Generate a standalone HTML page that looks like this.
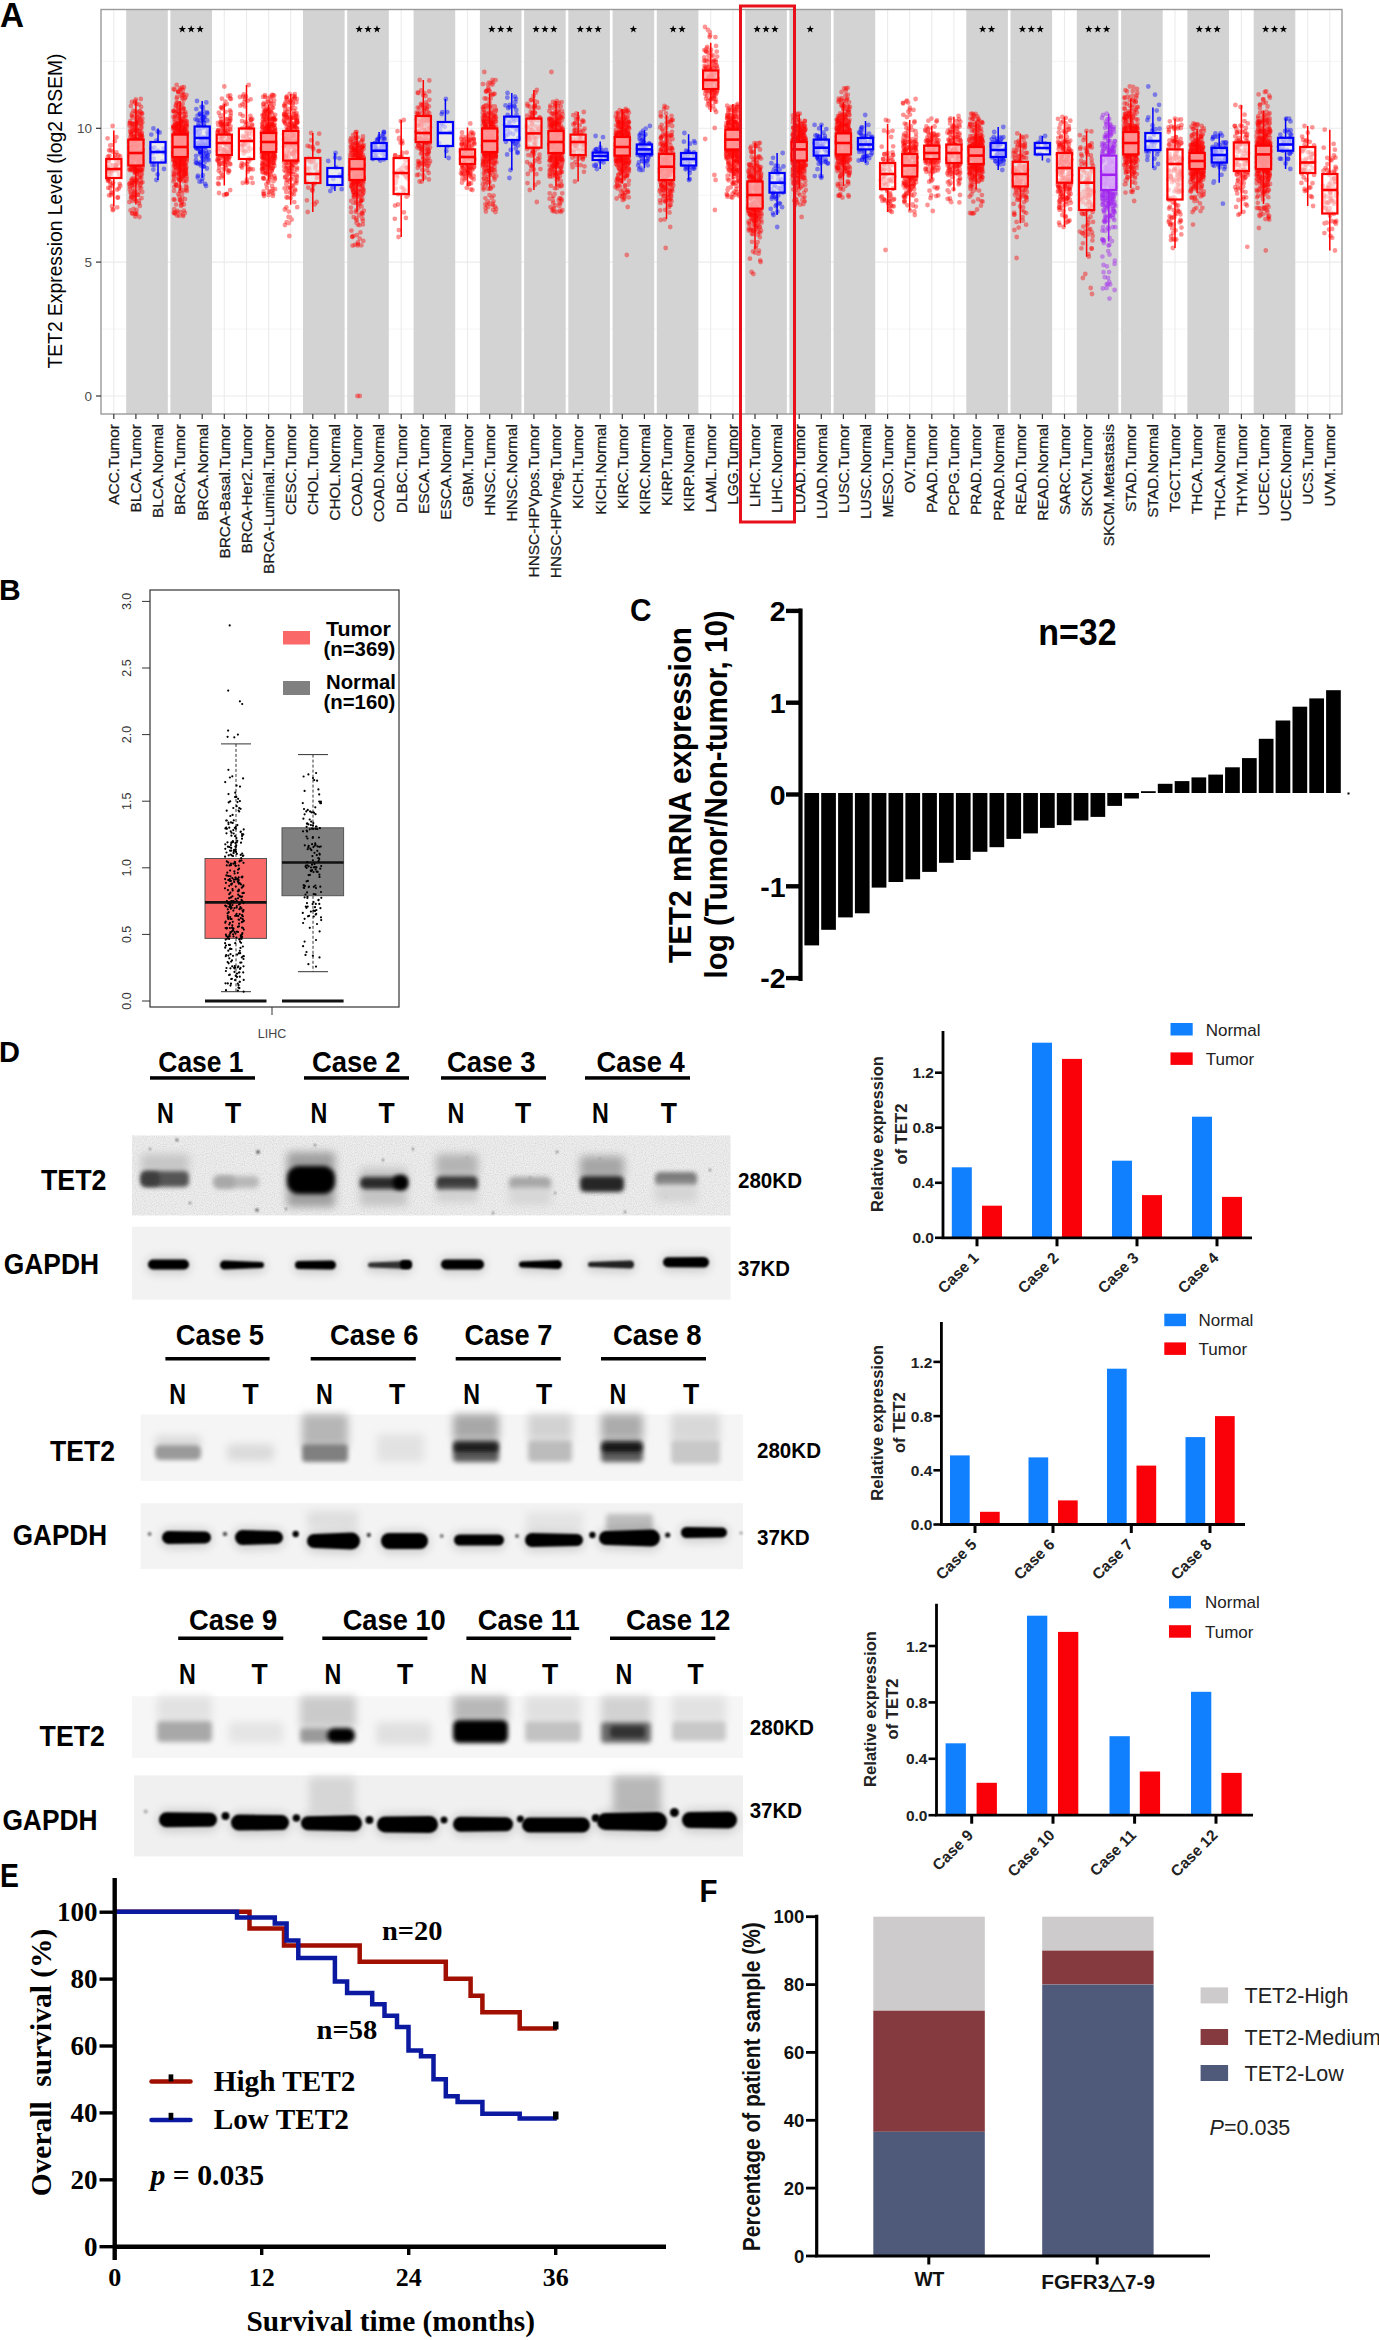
<!DOCTYPE html>
<html><head><meta charset="utf-8"><style>
html,body{margin:0;padding:0;background:#fff;}
body{width:1379px;height:2340px;overflow:hidden;}
svg{display:block;}
</style></head><body>
<svg width="1379" height="2340" viewBox="0 0 1379 2340">
<rect x="101" y="9.5" width="1241" height="404.5" fill="#fff"/>
<line x1="101" x2="1342" y1="396" y2="396" stroke="#ebebeb" stroke-width="1.1"/>
<line x1="101" x2="1342" y1="262.1" y2="262.1" stroke="#ebebeb" stroke-width="1.1"/>
<line x1="101" x2="1342" y1="128.3" y2="128.3" stroke="#ebebeb" stroke-width="1.1"/>
<line x1="101" x2="1342" y1="329.1" y2="329.1" stroke="#f3f3f3" stroke-width="0.8"/>
<line x1="101" x2="1342" y1="195.2" y2="195.2" stroke="#f3f3f3" stroke-width="0.8"/>
<line x1="101" x2="1342" y1="61.4" y2="61.4" stroke="#f3f3f3" stroke-width="0.8"/>
<line x1="113.8" x2="113.8" y1="9.5" y2="414" stroke="#ebebeb" stroke-width="1.1"/>
<line x1="135.9" x2="135.9" y1="9.5" y2="414" stroke="#ebebeb" stroke-width="1.1"/>
<line x1="158" x2="158" y1="9.5" y2="414" stroke="#ebebeb" stroke-width="1.1"/>
<line x1="180.1" x2="180.1" y1="9.5" y2="414" stroke="#ebebeb" stroke-width="1.1"/>
<line x1="202.2" x2="202.2" y1="9.5" y2="414" stroke="#ebebeb" stroke-width="1.1"/>
<line x1="224.3" x2="224.3" y1="9.5" y2="414" stroke="#ebebeb" stroke-width="1.1"/>
<line x1="246.5" x2="246.5" y1="9.5" y2="414" stroke="#ebebeb" stroke-width="1.1"/>
<line x1="268.6" x2="268.6" y1="9.5" y2="414" stroke="#ebebeb" stroke-width="1.1"/>
<line x1="290.7" x2="290.7" y1="9.5" y2="414" stroke="#ebebeb" stroke-width="1.1"/>
<line x1="312.8" x2="312.8" y1="9.5" y2="414" stroke="#ebebeb" stroke-width="1.1"/>
<line x1="334.9" x2="334.9" y1="9.5" y2="414" stroke="#ebebeb" stroke-width="1.1"/>
<line x1="357" x2="357" y1="9.5" y2="414" stroke="#ebebeb" stroke-width="1.1"/>
<line x1="379.1" x2="379.1" y1="9.5" y2="414" stroke="#ebebeb" stroke-width="1.1"/>
<line x1="401.2" x2="401.2" y1="9.5" y2="414" stroke="#ebebeb" stroke-width="1.1"/>
<line x1="423.3" x2="423.3" y1="9.5" y2="414" stroke="#ebebeb" stroke-width="1.1"/>
<line x1="445.4" x2="445.4" y1="9.5" y2="414" stroke="#ebebeb" stroke-width="1.1"/>
<line x1="467.5" x2="467.5" y1="9.5" y2="414" stroke="#ebebeb" stroke-width="1.1"/>
<line x1="489.7" x2="489.7" y1="9.5" y2="414" stroke="#ebebeb" stroke-width="1.1"/>
<line x1="511.8" x2="511.8" y1="9.5" y2="414" stroke="#ebebeb" stroke-width="1.1"/>
<line x1="533.9" x2="533.9" y1="9.5" y2="414" stroke="#ebebeb" stroke-width="1.1"/>
<line x1="556" x2="556" y1="9.5" y2="414" stroke="#ebebeb" stroke-width="1.1"/>
<line x1="578.1" x2="578.1" y1="9.5" y2="414" stroke="#ebebeb" stroke-width="1.1"/>
<line x1="600.2" x2="600.2" y1="9.5" y2="414" stroke="#ebebeb" stroke-width="1.1"/>
<line x1="622.3" x2="622.3" y1="9.5" y2="414" stroke="#ebebeb" stroke-width="1.1"/>
<line x1="644.4" x2="644.4" y1="9.5" y2="414" stroke="#ebebeb" stroke-width="1.1"/>
<line x1="666.5" x2="666.5" y1="9.5" y2="414" stroke="#ebebeb" stroke-width="1.1"/>
<line x1="688.6" x2="688.6" y1="9.5" y2="414" stroke="#ebebeb" stroke-width="1.1"/>
<line x1="710.7" x2="710.7" y1="9.5" y2="414" stroke="#ebebeb" stroke-width="1.1"/>
<line x1="732.9" x2="732.9" y1="9.5" y2="414" stroke="#ebebeb" stroke-width="1.1"/>
<line x1="755" x2="755" y1="9.5" y2="414" stroke="#ebebeb" stroke-width="1.1"/>
<line x1="777.1" x2="777.1" y1="9.5" y2="414" stroke="#ebebeb" stroke-width="1.1"/>
<line x1="799.2" x2="799.2" y1="9.5" y2="414" stroke="#ebebeb" stroke-width="1.1"/>
<line x1="821.3" x2="821.3" y1="9.5" y2="414" stroke="#ebebeb" stroke-width="1.1"/>
<line x1="843.4" x2="843.4" y1="9.5" y2="414" stroke="#ebebeb" stroke-width="1.1"/>
<line x1="865.5" x2="865.5" y1="9.5" y2="414" stroke="#ebebeb" stroke-width="1.1"/>
<line x1="887.6" x2="887.6" y1="9.5" y2="414" stroke="#ebebeb" stroke-width="1.1"/>
<line x1="909.7" x2="909.7" y1="9.5" y2="414" stroke="#ebebeb" stroke-width="1.1"/>
<line x1="931.8" x2="931.8" y1="9.5" y2="414" stroke="#ebebeb" stroke-width="1.1"/>
<line x1="953.9" x2="953.9" y1="9.5" y2="414" stroke="#ebebeb" stroke-width="1.1"/>
<line x1="976.1" x2="976.1" y1="9.5" y2="414" stroke="#ebebeb" stroke-width="1.1"/>
<line x1="998.2" x2="998.2" y1="9.5" y2="414" stroke="#ebebeb" stroke-width="1.1"/>
<line x1="1020.3" x2="1020.3" y1="9.5" y2="414" stroke="#ebebeb" stroke-width="1.1"/>
<line x1="1042.4" x2="1042.4" y1="9.5" y2="414" stroke="#ebebeb" stroke-width="1.1"/>
<line x1="1064.5" x2="1064.5" y1="9.5" y2="414" stroke="#ebebeb" stroke-width="1.1"/>
<line x1="1086.6" x2="1086.6" y1="9.5" y2="414" stroke="#ebebeb" stroke-width="1.1"/>
<line x1="1108.7" x2="1108.7" y1="9.5" y2="414" stroke="#ebebeb" stroke-width="1.1"/>
<line x1="1130.8" x2="1130.8" y1="9.5" y2="414" stroke="#ebebeb" stroke-width="1.1"/>
<line x1="1152.9" x2="1152.9" y1="9.5" y2="414" stroke="#ebebeb" stroke-width="1.1"/>
<line x1="1175" x2="1175" y1="9.5" y2="414" stroke="#ebebeb" stroke-width="1.1"/>
<line x1="1197.1" x2="1197.1" y1="9.5" y2="414" stroke="#ebebeb" stroke-width="1.1"/>
<line x1="1219.2" x2="1219.2" y1="9.5" y2="414" stroke="#ebebeb" stroke-width="1.1"/>
<line x1="1241.4" x2="1241.4" y1="9.5" y2="414" stroke="#ebebeb" stroke-width="1.1"/>
<line x1="1263.5" x2="1263.5" y1="9.5" y2="414" stroke="#ebebeb" stroke-width="1.1"/>
<line x1="1285.6" x2="1285.6" y1="9.5" y2="414" stroke="#ebebeb" stroke-width="1.1"/>
<line x1="1307.7" x2="1307.7" y1="9.5" y2="414" stroke="#ebebeb" stroke-width="1.1"/>
<line x1="1329.8" x2="1329.8" y1="9.5" y2="414" stroke="#ebebeb" stroke-width="1.1"/>
<rect x="126.2" y="9.5" width="41.6" height="404.5" fill="#d3d3d3"/>
<rect x="170.4" y="9.5" width="41.6" height="404.5" fill="#d3d3d3"/>
<rect x="303" y="9.5" width="41.6" height="404.5" fill="#d3d3d3"/>
<rect x="347.2" y="9.5" width="41.6" height="404.5" fill="#d3d3d3"/>
<rect x="413.6" y="9.5" width="41.6" height="404.5" fill="#d3d3d3"/>
<rect x="479.9" y="9.5" width="41.6" height="404.5" fill="#d3d3d3"/>
<rect x="524.1" y="9.5" width="41.6" height="404.5" fill="#d3d3d3"/>
<rect x="568.3" y="9.5" width="41.6" height="404.5" fill="#d3d3d3"/>
<rect x="612.6" y="9.5" width="41.6" height="404.5" fill="#d3d3d3"/>
<rect x="656.8" y="9.5" width="41.6" height="404.5" fill="#d3d3d3"/>
<rect x="745.2" y="9.5" width="41.6" height="404.5" fill="#d3d3d3"/>
<rect x="789.4" y="9.5" width="41.6" height="404.5" fill="#d3d3d3"/>
<rect x="833.6" y="9.5" width="41.6" height="404.5" fill="#d3d3d3"/>
<rect x="966.3" y="9.5" width="41.6" height="404.5" fill="#d3d3d3"/>
<rect x="1010.5" y="9.5" width="41.6" height="404.5" fill="#d3d3d3"/>
<rect x="1076.8" y="9.5" width="41.6" height="404.5" fill="#d3d3d3"/>
<rect x="1121.1" y="9.5" width="41.6" height="404.5" fill="#d3d3d3"/>
<rect x="1187.4" y="9.5" width="41.6" height="404.5" fill="#d3d3d3"/>
<rect x="1253.7" y="9.5" width="41.6" height="404.5" fill="#d3d3d3"/>
<polygon points="182.3,25.3 183.3,27.9 186,28 183.9,29.7 184.6,32.4 182.3,30.8 180,32.4 180.7,29.7 178.6,28 181.3,27.9" fill="#000"/>
<polygon points="191.2,25.3 192.2,27.9 194.9,28 192.8,29.7 193.5,32.4 191.2,30.8 188.9,32.4 189.6,29.7 187.5,28 190.2,27.9" fill="#000"/>
<polygon points="200.1,25.3 201.1,27.9 203.8,28 201.7,29.7 202.4,32.4 200.1,30.8 197.8,32.4 198.5,29.7 196.4,28 199.1,27.9" fill="#000"/>
<polygon points="359.2,25.3 360.1,27.9 362.9,28 360.7,29.7 361.4,32.4 359.2,30.8 356.9,32.4 357.6,29.7 355.4,28 358.2,27.9" fill="#000"/>
<polygon points="368.1,25.3 369,27.9 371.8,28 369.6,29.7 370.3,32.4 368.1,30.8 365.8,32.4 366.5,29.7 364.3,28 367.1,27.9" fill="#000"/>
<polygon points="377,25.3 377.9,27.9 380.7,28 378.5,29.7 379.2,32.4 377,30.8 374.7,32.4 375.4,29.7 373.2,28 376,27.9" fill="#000"/>
<polygon points="491.8,25.3 492.8,27.9 495.5,28 493.4,29.7 494.1,32.4 491.8,30.8 489.5,32.4 490.2,29.7 488.1,28 490.8,27.9" fill="#000"/>
<polygon points="500.7,25.3 501.7,27.9 504.4,28 502.3,29.7 503,32.4 500.7,30.8 498.4,32.4 499.1,29.7 497,28 499.7,27.9" fill="#000"/>
<polygon points="509.6,25.3 510.6,27.9 513.3,28 511.2,29.7 511.9,32.4 509.6,30.8 507.3,32.4 508,29.7 505.9,28 508.6,27.9" fill="#000"/>
<polygon points="536,25.3 537,27.9 539.7,28 537.6,29.7 538.3,32.4 536,30.8 533.7,32.4 534.5,29.7 532.3,28 535.1,27.9" fill="#000"/>
<polygon points="544.9,25.3 545.9,27.9 548.6,28 546.5,29.7 547.2,32.4 544.9,30.8 542.6,32.4 543.4,29.7 541.2,28 544,27.9" fill="#000"/>
<polygon points="553.8,25.3 554.8,27.9 557.5,28 555.4,29.7 556.1,32.4 553.8,30.8 551.5,32.4 552.3,29.7 550.1,28 552.9,27.9" fill="#000"/>
<polygon points="580.2,25.3 581.2,27.9 584,28 581.8,29.7 582.5,32.4 580.2,30.8 578,32.4 578.7,29.7 576.5,28 579.3,27.9" fill="#000"/>
<polygon points="589.1,25.3 590.1,27.9 592.9,28 590.7,29.7 591.4,32.4 589.1,30.8 586.9,32.4 587.6,29.7 585.4,28 588.2,27.9" fill="#000"/>
<polygon points="598,25.3 599,27.9 601.8,28 599.6,29.7 600.3,32.4 598,30.8 595.8,32.4 596.5,29.7 594.3,28 597.1,27.9" fill="#000"/>
<polygon points="633.4,25.3 634.3,27.9 637.1,28 634.9,29.7 635.7,32.4 633.4,30.8 631.1,32.4 631.8,29.7 629.7,28 632.4,27.9" fill="#000"/>
<polygon points="673.1,25.3 674.1,27.9 676.8,28 674.7,29.7 675.4,32.4 673.1,30.8 670.8,32.4 671.6,29.7 669.4,28 672.2,27.9" fill="#000"/>
<polygon points="682,25.3 683,27.9 685.7,28 683.6,29.7 684.3,32.4 682,30.8 679.7,32.4 680.5,29.7 678.3,28 681.1,27.9" fill="#000"/>
<polygon points="757.1,25.3 758.1,27.9 760.8,28 758.7,29.7 759.4,32.4 757.1,30.8 754.8,32.4 755.5,29.7 753.4,28 756.1,27.9" fill="#000"/>
<polygon points="766,25.3 767,27.9 769.7,28 767.6,29.7 768.3,32.4 766,30.8 763.7,32.4 764.4,29.7 762.3,28 765,27.9" fill="#000"/>
<polygon points="774.9,25.3 775.9,27.9 778.6,28 776.5,29.7 777.2,32.4 774.9,30.8 772.6,32.4 773.3,29.7 771.2,28 773.9,27.9" fill="#000"/>
<polygon points="810.2,25.3 811.2,27.9 813.9,28 811.8,29.7 812.5,32.4 810.2,30.8 807.9,32.4 808.7,29.7 806.5,28 809.3,27.9" fill="#000"/>
<polygon points="982.7,25.3 983.6,27.9 986.4,28 984.2,29.7 984.9,32.4 982.7,30.8 980.4,32.4 981.1,29.7 978.9,28 981.7,27.9" fill="#000"/>
<polygon points="991.6,25.3 992.5,27.9 995.3,28 993.1,29.7 993.8,32.4 991.6,30.8 989.3,32.4 990,29.7 987.8,28 990.6,27.9" fill="#000"/>
<polygon points="1022.4,25.3 1023.4,27.9 1026.1,28 1024,29.7 1024.7,32.4 1022.4,30.8 1020.1,32.4 1020.9,29.7 1018.7,28 1021.5,27.9" fill="#000"/>
<polygon points="1031.3,25.3 1032.3,27.9 1035,28 1032.9,29.7 1033.6,32.4 1031.3,30.8 1029,32.4 1029.8,29.7 1027.6,28 1030.4,27.9" fill="#000"/>
<polygon points="1040.2,25.3 1041.2,27.9 1043.9,28 1041.8,29.7 1042.5,32.4 1040.2,30.8 1037.9,32.4 1038.7,29.7 1036.5,28 1039.3,27.9" fill="#000"/>
<polygon points="1088.8,25.3 1089.7,27.9 1092.5,28 1090.3,29.7 1091,32.4 1088.8,30.8 1086.5,32.4 1087.2,29.7 1085,28 1087.8,27.9" fill="#000"/>
<polygon points="1097.7,25.3 1098.6,27.9 1101.4,28 1099.2,29.7 1099.9,32.4 1097.7,30.8 1095.4,32.4 1096.1,29.7 1093.9,28 1096.7,27.9" fill="#000"/>
<polygon points="1106.6,25.3 1107.5,27.9 1110.3,28 1108.1,29.7 1108.8,32.4 1106.6,30.8 1104.3,32.4 1105,29.7 1102.8,28 1105.6,27.9" fill="#000"/>
<polygon points="1199.3,25.3 1200.3,27.9 1203,28 1200.9,29.7 1201.6,32.4 1199.3,30.8 1197,32.4 1197.7,29.7 1195.6,28 1198.3,27.9" fill="#000"/>
<polygon points="1208.2,25.3 1209.2,27.9 1211.9,28 1209.8,29.7 1210.5,32.4 1208.2,30.8 1205.9,32.4 1206.6,29.7 1204.5,28 1207.2,27.9" fill="#000"/>
<polygon points="1217.1,25.3 1218.1,27.9 1220.8,28 1218.7,29.7 1219.4,32.4 1217.1,30.8 1214.8,32.4 1215.5,29.7 1213.4,28 1216.1,27.9" fill="#000"/>
<polygon points="1265.6,25.3 1266.6,27.9 1269.3,28 1267.2,29.7 1267.9,32.4 1265.6,30.8 1263.3,32.4 1264.1,29.7 1261.9,28 1264.7,27.9" fill="#000"/>
<polygon points="1274.5,25.3 1275.5,27.9 1278.2,28 1276.1,29.7 1276.8,32.4 1274.5,30.8 1272.2,32.4 1273,29.7 1270.8,28 1273.6,27.9" fill="#000"/>
<polygon points="1283.4,25.3 1284.4,27.9 1287.1,28 1285,29.7 1285.7,32.4 1283.4,30.8 1281.1,32.4 1281.9,29.7 1279.7,28 1282.5,27.9" fill="#000"/>
<path d="M112.6 151.6h0M108.2 187.9h0M119.7 183.8h0M110.1 164.9h0M118 197.6h0M113.1 183h0M112.6 126h0M109.4 155.8h0M113.3 209.4h0M108 180.9h0M116 165.8h0M114.8 169.3h0" stroke="#ff0000" stroke-opacity="0.42" stroke-width="4.8" stroke-linecap="round" fill="none"/>
<path d="M112.3 193h0M109 150.3h0M112.9 165.1h0M118.3 162.9h0M108.4 179h0M117.2 189.7h0M115.4 154.9h0M111.5 145.1h0M110.2 145.5h0M112 185.6h0M115.9 166.3h0M108.2 168.8h0" stroke="#ff0000" stroke-opacity="0.42" stroke-width="4.8" stroke-linecap="round" fill="none"/>
<path d="M108.4 177.1h0M117.6 197.5h0M109 177.6h0M117.3 207.3h0M120.2 156.5h0M108.2 180h0M118.9 159h0M111.1 174.4h0M107.6 138.3h0M111.2 192.3h0M111.6 171h0M108.6 159.7h0" stroke="#ff0000" stroke-opacity="0.42" stroke-width="4.8" stroke-linecap="round" fill="none"/>
<path d="M107.3 178.2h0M112.6 210h0M120.3 186h0M110 172.4h0M114.8 165.7h0M108.6 160.7h0M109.1 195.4h0M115 158h0M109.8 173.9h0M110.1 188.1h0M110.5 171.7h0M118.4 155.4h0" stroke="#ff0000" stroke-opacity="0.42" stroke-width="4.8" stroke-linecap="round" fill="none"/>
<path d="M118.9 169.2h0M118.8 188.4h0M109.3 171.9h0M110.9 195.1h0M109.8 181.7h0M110.6 150.3h0M119.2 174.6h0M117.4 171h0M108.7 161.3h0M112.7 170.8h0M116.1 165h0M116.5 152.4h0" stroke="#ff0000" stroke-opacity="0.42" stroke-width="4.8" stroke-linecap="round" fill="none"/>
<path d="M119.9 162.6h0M116.4 137.2h0M116.1 167.9h0M110.6 184.5h0M116.5 161.5h0M112 206.2h0M107.3 169h0M118 164h0M109 170.4h0M114.9 141.2h0M107.4 166.9h0M107.9 156.7h0" stroke="#ff0000" stroke-opacity="0.42" stroke-width="4.8" stroke-linecap="round" fill="none"/>
<path d="M113.8 130.5V159M113.8 178V206.5" stroke="#ff0000" stroke-width="1.5" fill="none"/>
<rect x="106.2" y="159" width="15.2" height="19" fill="#fff" fill-opacity="0.55" stroke="#ff0000" stroke-width="2.2"/>
<line x1="106.2" x2="121.4" y1="169" y2="169" stroke="#ff0000" stroke-width="2.6"/>
<path d="M131.3 133.9h0M132.1 163h0M138 157.1h0M142.1 155.9h0M135.9 153.7h0M138.3 138.8h0M138.8 165.3h0M134.9 146h0M134.7 146.6h0M130.9 156.1h0M133.4 110.6h0M132.6 200.9h0M129.5 148.2h0M141.3 160.5h0M132.4 169.2h0M130.2 123.1h0M136 170.4h0M137 174.1h0M131.1 166.2h0M136.1 155.3h0M136.6 153.5h0M133.3 158h0M136.8 118.5h0M129.7 189.5h0M142.4 161.7h0M132.8 152.4h0M134.1 156.1h0M141.3 159.6h0M129.3 184.6h0M131.3 197.2h0M139.3 116.7h0M133 142.2h0M133.8 154.1h0M139.1 162.9h0M131.3 170h0M134.9 171.6h0M142.4 151.4h0M132.3 154.1h0M132.9 158.5h0M135.2 216.6h0M129.6 164h0M133.5 168.6h0M140.7 114.1h0M137.5 163.7h0M130.8 169.2h0M142.2 170.4h0M134.3 183.2h0M142.7 139.7h0M141.6 134.3h0M130.9 149.3h0M132 145.3h0M136.3 145.9h0M140.3 135.8h0M142.3 118.4h0M132.3 154.6h0M134 197.4h0M132.7 151.8h0M135.7 146h0M135.6 141.2h0M134.8 184.9h0M141.6 134.7h0M141.8 157.8h0M142.5 149.8h0M130 140.5h0M135.4 165.4h0M138.5 156.3h0M137 122.4h0" stroke="#ff0000" stroke-opacity="0.42" stroke-width="4.8" stroke-linecap="round" fill="none"/>
<path d="M139.5 111.4h0M136.1 125.4h0M137.6 170.1h0M138.8 152.3h0M140 178.2h0M141.7 113.2h0M133 156.3h0M140.7 162h0M141.1 128.4h0M132.3 169.2h0M133.2 152.2h0M140.4 135.3h0M141.4 170h0M139.7 161.7h0M141.7 152.7h0M140.3 144.5h0M130.8 155.1h0M132.5 149.7h0M133.1 168.8h0M131.6 196.8h0M139 165.9h0M134 140h0M132.1 184.2h0M131.9 179.4h0M139.4 217h0M137.9 122.4h0M132.6 161.2h0M139.1 203.3h0M132.5 145.7h0M132.3 141h0M131.9 102h0M134.8 139.8h0M131.1 147h0M140.2 185.4h0M134.5 129.8h0M136.7 168.4h0M132.7 151.1h0M129.8 170.2h0M129.9 187h0M137.7 194.8h0M137 172.1h0M140.3 118.9h0M129.6 125.8h0M139.3 153.6h0M141 181.5h0M141.2 159h0M133.5 167.2h0M133.8 153.5h0M132.5 181.8h0M141.3 123.1h0M137.1 130.9h0M137.5 146.3h0M129.9 150.5h0M134.8 160.1h0M138.3 157.6h0M129.1 142h0M133.1 159.9h0M137.8 182h0M132.5 117.6h0M131.2 125.3h0M130.7 132h0M137.1 154.8h0M140.8 142.7h0M139 104.3h0M135.7 214.1h0M132.7 123.6h0M140.6 157.2h0" stroke="#ff0000" stroke-opacity="0.42" stroke-width="4.8" stroke-linecap="round" fill="none"/>
<path d="M134.2 137.5h0M137.8 151.1h0M135.4 169.2h0M136.8 133.7h0M134.3 152.4h0M137.5 139.7h0M129.5 147.6h0M132.5 153.3h0M135.1 160h0M132.4 160.8h0M131.7 157.5h0M141.2 188.1h0M136.8 180.5h0M141.1 136.3h0M141.4 177.8h0M134.5 180h0M133.6 158.6h0M137 123.9h0M131.9 130.9h0M129.4 160.8h0M139.7 142.3h0M133.4 139.7h0M137.7 155.8h0M139.9 153.1h0M140.9 142.9h0M136 145.4h0M131.9 146.2h0M129.4 202h0M135.6 140.2h0M131 198.1h0M141.2 167.6h0M129.3 168.9h0M132.9 178.1h0M131.2 142.3h0M134.4 177.9h0M139.6 153.1h0M142.3 165.2h0M133.1 187.6h0M130.5 152.1h0M134.9 130.8h0M140.4 136.7h0M132.1 213.2h0M138 183h0M134.5 159.4h0M133.9 154.4h0M137.6 140.7h0M137.9 155h0M130.4 136.6h0M130 159.8h0M142.4 149.6h0M136.6 210h0M133.4 154.2h0M135 172.4h0M129.8 162.7h0M132.3 124.1h0M138.9 158.6h0M141.3 169.5h0M139.8 205.9h0M136.6 149h0M131.6 150.8h0M137.4 170.7h0M140.2 131.4h0M133.3 157.6h0M138.6 162.5h0M141.9 158h0M132.7 159h0M140.9 120.6h0" stroke="#ff0000" stroke-opacity="0.42" stroke-width="4.8" stroke-linecap="round" fill="none"/>
<path d="M132.3 145.9h0M131.2 180.6h0M134.4 139.4h0M139.1 133.2h0M142.2 113.6h0M135.3 126.7h0M137.6 144.3h0M137.1 117.6h0M138.2 140h0M139.3 161.6h0M135.8 179.4h0M134.5 139.7h0M133.3 136.9h0M132.7 164.4h0M136.5 213.8h0M139.4 152.7h0M136 119.9h0M137.2 161.5h0M133.9 124.2h0M135.6 130.4h0M135.9 200.8h0M130.6 182.9h0M141.4 152h0M139.2 164h0M138.4 131.9h0M133.8 156.8h0M134.5 149.1h0M137.8 147.4h0M134 167.1h0M130.3 121.2h0M135.9 145.7h0M140 164h0M139.1 129.8h0M139.3 187.3h0M139.7 152.5h0M137.8 170.4h0M140.5 154.4h0M140.8 126h0M140.3 149.8h0M140.3 147.7h0M133.4 136.2h0M137.3 112.9h0M139.2 177.1h0M139.7 147.8h0M134.9 194.3h0M135 128h0M139.8 162.2h0M134.5 152.9h0M140.3 173.8h0M134 153.3h0M135 140.2h0M133.9 192.8h0M132.5 213.7h0M131.8 115.8h0M141.9 173.8h0M130.5 160.3h0M130.9 158.4h0M130.3 130.3h0M141.5 127h0M135.4 170.7h0M131 168.9h0M134.8 141.9h0M135.9 179h0M139 116.6h0M135.8 149.1h0M134.5 163.2h0M130.6 132.6h0" stroke="#ff0000" stroke-opacity="0.42" stroke-width="4.8" stroke-linecap="round" fill="none"/>
<path d="M129.4 156.4h0M133.3 182.1h0M141.5 198.2h0M142.4 122.5h0M133.6 208.9h0M138.2 194.8h0M133.5 139.6h0M136.3 155.3h0M133.1 181.4h0M139.7 152.2h0M134.9 145.1h0M138.9 134.1h0M139.2 158.2h0M135.9 159.5h0M132 157.7h0M136.9 170h0M137.6 165.6h0M133.9 154.7h0M131.4 135h0M141.8 132.7h0M129.7 145.4h0M132.5 181.7h0M136.2 115.4h0M139.3 151.2h0M135.5 195.3h0M132 113.6h0M141.5 147.5h0M129.8 142h0M134.7 102.6h0M141.1 124.6h0M136.7 128.2h0M129.6 183.3h0M131.7 127.1h0M136.1 142.1h0M141.7 137h0M129.6 123.2h0M142.3 192h0M140.2 111.5h0M137.7 158.8h0M131.9 185.5h0M138 120.6h0M139.6 146.1h0M135 196h0M134.3 180.8h0M136.6 168.8h0M135.5 114h0M133.7 166.7h0M132.7 150.8h0M138 163.1h0M134 166.8h0M141.1 183.1h0M132.5 163.4h0M141.1 146.9h0M132.2 114.6h0M140.3 170.6h0M131.4 194.1h0M140.8 99h0M135.8 99.5h0M131.2 153.2h0M134.6 137.2h0M134.6 191.3h0M132.7 165.6h0M137.8 164.3h0M136 150h0M134 153.2h0M139.5 165.9h0M130.6 210.4h0" stroke="#ff0000" stroke-opacity="0.42" stroke-width="4.8" stroke-linecap="round" fill="none"/>
<path d="M142.6 167.4h0M130.9 106.1h0M132.1 150h0M140.8 140h0M135.6 111.1h0M141.8 141.5h0M140.8 162.9h0M138.3 170h0M141.8 155.2h0M138.1 173.8h0M132.6 183.1h0M138.8 191.4h0M134.7 136h0M142.1 136.2h0M136.7 129.6h0M130.5 192.4h0M137.8 138.1h0M142.1 159.8h0M135.2 165.2h0M132.1 157.7h0M131.3 154.5h0M136.5 158.3h0M134.1 195.6h0M139.2 141.8h0M141.1 106.9h0M140.3 157.2h0M138.5 149.6h0M134.6 156h0M142.5 182.3h0M131.3 147.6h0M134.9 123.3h0M131.2 163.9h0M133.8 156h0M131.8 150.9h0M138.9 200.8h0M133.9 168.5h0M140.6 156.9h0M132.6 192.8h0M137.7 159.1h0M141.9 153.6h0M141.6 151.3h0M131 138.6h0M139.8 160h0M134.8 172.9h0M133.6 141.7h0M140.4 170.5h0M136.1 149.6h0M132.7 170.1h0M130 155h0M136.3 180.4h0M141.1 175.1h0M133.1 158.8h0M134.4 198.9h0M132.8 191.5h0M140.7 158.4h0M140.4 145.2h0M138.2 153.4h0M133.2 132h0M139.5 156.9h0M136.1 123.5h0M135.4 101.1h0M135.5 141.3h0M136.4 153.7h0M133.5 127.6h0M142.4 143.7h0M136.3 104.2h0M135.2 213.2h0" stroke="#ff0000" stroke-opacity="0.42" stroke-width="4.8" stroke-linecap="round" fill="none"/>
<path d="M135.9 100.7V139.6M135.9 165.5V204.4" stroke="#ff0000" stroke-width="1.5" fill="none"/>
<rect x="128.3" y="139.6" width="15.2" height="25.9" fill="#fff" fill-opacity="0.55" stroke="#ff0000" stroke-width="2.2"/>
<line x1="128.3" x2="143.5" y1="153" y2="153" stroke="#ff0000" stroke-width="2.6"/>
<path d="M151.3 134.6h0M152.4 164.9h0M153.7 158.6h0M163.7 152.7h0" stroke="#0000ff" stroke-opacity="0.42" stroke-width="4.8" stroke-linecap="round" fill="none"/>
<path d="M157.2 151.8h0M162.2 161.4h0M157.6 174.4h0M152.6 153.3h0" stroke="#0000ff" stroke-opacity="0.42" stroke-width="4.8" stroke-linecap="round" fill="none"/>
<path d="M154.4 165.2h0M154.4 147.6h0M153.4 128.5h0M157.6 131.7h0" stroke="#0000ff" stroke-opacity="0.42" stroke-width="4.8" stroke-linecap="round" fill="none"/>
<path d="M151.5 148.3h0M156.4 180h0M164 169h0" stroke="#0000ff" stroke-opacity="0.42" stroke-width="4.8" stroke-linecap="round" fill="none"/>
<path d="M156.4 140.7h0M158.2 150.8h0M153.4 169.6h0" stroke="#0000ff" stroke-opacity="0.42" stroke-width="4.8" stroke-linecap="round" fill="none"/>
<path d="M164.2 151.8h0M159.6 132.5h0M163.7 148.6h0" stroke="#0000ff" stroke-opacity="0.42" stroke-width="4.8" stroke-linecap="round" fill="none"/>
<path d="M158 128.5V142M158 162.5V180" stroke="#0000ff" stroke-width="1.5" fill="none"/>
<rect x="150.4" y="142" width="15.2" height="20.5" fill="#fff" fill-opacity="0.55" stroke="#0000ff" stroke-width="2.2"/>
<line x1="150.4" x2="165.6" y1="152" y2="152" stroke="#0000ff" stroke-width="2.6"/>
<path d="M176.1 204.6h0M181.4 153.4h0M183.7 136.8h0M177.2 145.4h0M185 150h0M180.1 169.8h0M177.5 210.8h0M184 173.6h0M185.6 137.5h0M173.8 128.5h0M177 130.7h0M173.4 135.5h0M182.5 158.2h0M186.2 141.2h0M174.2 213.3h0M186.5 125.1h0M174.7 119.1h0M184.7 138.5h0M185.9 135.6h0M181.6 158.3h0M176.7 156.5h0M175.3 139.4h0M176.4 149.4h0M182.9 89.8h0M180.2 159.3h0M178.8 173h0M181.7 130.1h0M176.9 124.7h0M177.6 141.8h0M178.2 115.7h0M185.2 117.1h0M176.1 147h0M186 152.9h0M184.7 124.5h0M174.8 151.8h0M183.6 143.4h0M174.5 164.7h0M185.2 160.4h0M175.2 161.1h0M179.4 128.2h0M181.9 145.8h0M182.4 91.6h0M176.6 143.7h0M174.6 133.9h0M178.1 143.2h0M181.1 161.8h0M180 163.4h0M181.2 174.4h0M175.7 158.2h0M184.8 164.7h0M179.4 151.3h0M174 144.4h0M186 171.9h0M186.9 191h0M175.4 157.9h0M180.1 137.4h0M183 121.6h0M182.5 177h0M178.1 138.7h0M182.8 154.4h0M175.7 106.7h0M183.1 143.9h0M174.6 136.1h0M181.8 137.6h0M185.9 150.2h0M184.6 134h0M173.4 155.9h0M174.7 137.1h0M185 123.1h0M176.1 127.3h0M184.5 149.8h0M177.8 147.8h0M177.1 126.6h0M177.4 127.8h0M180.6 176.6h0M173.7 199.4h0M181.3 178.7h0M178.3 91.6h0M185.7 143.5h0M177.1 96.8h0M183.8 162.9h0M180.4 141.6h0M183 169.5h0M179.1 215.8h0M178.1 126.5h0M178.8 129.2h0M183 134.8h0M182 202.7h0M184.7 144.8h0M184.3 163.8h0M185.3 128.8h0M185.7 140.3h0M175.7 116.4h0M186.8 153.2h0M186.7 158.8h0M178.1 125.5h0M175.3 160h0M176.5 139.9h0M185.8 169.1h0M175.2 157h0M183.8 135.5h0M184.5 173h0M177.2 156.2h0M186.5 153.5h0M176 112.1h0M177.3 153.4h0M184.2 140.6h0M179.8 200h0M182.8 142.8h0M174.6 132.5h0M176.9 164.4h0M178.4 144.5h0M178.2 166.3h0M185.3 174h0M179.4 168h0M186 155.3h0M173.4 141.8h0" stroke="#ff0000" stroke-opacity="0.42" stroke-width="4.8" stroke-linecap="round" fill="none"/>
<path d="M180.3 136.1h0M173.7 171.3h0M182.4 145.3h0M179.6 168.4h0M178 127h0M175.7 146.7h0M180.9 160.2h0M182.3 133.2h0M174.3 186.8h0M181.3 166.9h0M177.4 102.9h0M185.9 155.8h0M184.7 155.4h0M180.1 191.7h0M186.2 136h0M175.1 146.9h0M179.9 139.5h0M173.3 111.2h0M179 163.8h0M185.3 163.3h0M185.2 155.3h0M183.8 108.7h0M186.3 144.2h0M186.8 161.7h0M186.5 121.4h0M182.2 197.1h0M176.7 85h0M173.4 154h0M178.9 141.1h0M177.4 128.7h0M177.1 162.5h0M183.5 166h0M181.4 201.5h0M185.3 135h0M179.5 171.1h0M180.1 148.4h0M181.3 157.2h0M185.1 150.2h0M183.2 177h0M184.1 129.1h0M176.5 143.5h0M182.1 148.4h0M181.8 147.2h0M184.7 134.1h0M180.1 118.3h0M183.4 114.1h0M186.5 161.9h0M179.7 139.5h0M173.6 160.3h0M175 130.7h0M173.4 127.2h0M181.7 200.3h0M186.2 126.5h0M177.5 149.1h0M180 150.8h0M185.6 132.2h0M185.9 136.9h0M174.4 156.9h0M181.9 168.8h0M181.2 169.1h0M175.9 133.7h0M184 146h0M178 107h0M175.5 133.7h0M175 159.1h0M180.9 132.9h0M178.7 158.8h0M174 158h0M175.1 149.3h0M183.5 113.9h0M175.3 152.4h0M182.7 138.1h0M186.1 163.5h0M176.6 132.2h0M176.9 155h0M185.5 130.2h0M175.4 145.2h0M182.2 151.9h0M179.5 179.8h0M182 135.1h0M180.5 167.7h0M173.7 137.2h0M184.7 169.3h0M182.6 141.5h0M177.5 126h0M186.8 187.5h0M176.9 149.7h0M174.3 153.3h0M186.8 133h0M182.3 193.1h0M177 161.1h0M186.3 173.8h0M181.3 152.3h0M179.5 124h0M185.3 157.4h0M173.4 129.4h0M180.2 125.5h0M183.9 152.2h0M175.4 130.5h0M173.4 157.8h0M183.7 131.4h0M178.3 128.9h0M186.3 156.3h0M185.5 160.5h0M182.5 159.7h0M178.2 131.3h0M183.5 165.4h0M178.5 138.5h0M184.7 131.5h0M177.6 142.6h0M180.3 137.5h0M183.7 116.3h0M178.2 141.2h0M182.4 122h0M173.4 152.5h0M176.1 169.3h0M180.6 157.9h0" stroke="#ff0000" stroke-opacity="0.42" stroke-width="4.8" stroke-linecap="round" fill="none"/>
<path d="M181.9 177.2h0M178.4 92.2h0M184.3 161.7h0M178.2 145.7h0M178.9 140.4h0M182.9 151.4h0M176.9 164.2h0M180.3 142.6h0M180 153.6h0M185.7 153.5h0M174 156.7h0M183 161.9h0M181.1 142.6h0M177.8 142.7h0M186 135.9h0M184.3 161.3h0M185.7 138.1h0M174.7 89.7h0M175.9 136.4h0M185.4 132.6h0M173.5 145.5h0M176.6 145.3h0M181.5 121.1h0M173.8 155.3h0M185.8 174.8h0M180.8 132.1h0M173.5 148.8h0M180 140.6h0M173.6 152.1h0M185.4 163.4h0M185 140.2h0M176.2 147.4h0M181.1 167.5h0M183 165.2h0M181.6 137.5h0M184.3 139.9h0M185.4 150.1h0M183.6 153.1h0M182.8 173h0M174.3 160h0M177.6 154.1h0M180.5 148.3h0M174.2 157.6h0M186.9 159.2h0M185 199.1h0M182.2 98.4h0M178.6 153.9h0M173.9 140.1h0M180.5 145.3h0M175.8 125.9h0M174.1 190.9h0M176.7 128.9h0M186.6 179.2h0M182.2 154.7h0M182.5 133.9h0M182.2 157.4h0M174.9 148.4h0M179.5 180.3h0M176.4 143.3h0M186.8 133.5h0M179.7 147.8h0M177.7 144.7h0M181.5 142.5h0M174.9 151h0M180.2 187.5h0M183.9 87.2h0M185.1 165.1h0M175 142.7h0M181 125.2h0M185.5 158.6h0M173.8 154.3h0M186.7 153.4h0M176.6 102.9h0M179.3 174.4h0M177.1 137.1h0M173.4 156.1h0M175.2 140.1h0M186.2 146.3h0M179.6 113.6h0M179.5 153.7h0M179.5 144.8h0M173.7 146.9h0M185.4 180.6h0M186.6 156h0M183.5 158h0M179.4 119.3h0M184.9 159h0M176.1 147.6h0M179.8 155.7h0M184.1 140.2h0M174.5 148.7h0M180.5 212.1h0M178.6 164.8h0M173.9 159.1h0M179.3 196.3h0M178.2 122.5h0M183.2 108.1h0M182.9 167.9h0M183.6 156.6h0M180.5 89.9h0M183.2 163.7h0M177.1 153.7h0M180.7 154.5h0M173.5 181.4h0M178.5 142.6h0M174.9 163.6h0M177.5 145.7h0M185.1 131.7h0M184.1 128.3h0M178.3 108.1h0M181.9 104.7h0M177.9 136h0M183.4 171.2h0M173.7 134.2h0M182.7 103.8h0M179.2 133.3h0M181.7 147.3h0" stroke="#ff0000" stroke-opacity="0.42" stroke-width="4.8" stroke-linecap="round" fill="none"/>
<path d="M175.7 165.5h0M181.3 128.9h0M175.2 162.3h0M176.3 164.8h0M177.7 145.2h0M184.5 138.9h0M175 116.3h0M178.8 157.5h0M175.6 142.1h0M175 166.8h0M174.6 121.3h0M185.6 124.3h0M176.9 149.3h0M184.1 120.8h0M184.1 169.2h0M183.4 135.9h0M184.3 145.4h0M181.7 165.3h0M177.8 151.3h0M185.8 151.8h0M174.1 175.2h0M183.1 109.2h0M178.3 136.9h0M178.1 111.3h0M179.5 134.9h0M175.7 147.1h0M186.4 148.5h0M180.3 146.6h0M180.9 130.8h0M183.2 95h0M177.5 140.9h0M180.4 105.2h0M173.5 126.7h0M185.9 139h0M184.7 173h0M174.8 139.9h0M180.6 180.2h0M179.8 134.8h0M178.1 142.4h0M185.6 135.3h0M175.9 164.3h0M183.4 131.9h0M176.5 168.7h0M178.8 155h0M173.9 153.4h0M174.6 199.7h0M176.4 158.5h0M182.4 150.7h0M179.1 145.3h0M186 146.5h0M181.2 111.2h0M182.6 142.8h0M183.7 144.7h0M183.5 169h0M186 189.9h0M182.4 138.6h0M186.7 133.6h0M176.3 122.6h0M176.5 154.5h0M180 121.5h0M176.5 149.5h0M183.1 120.3h0M180.7 145.9h0M178.1 173.3h0M175.9 184.4h0M180.9 155h0M180.6 129.5h0M182.9 111.2h0M179.4 144.8h0M175.7 126.8h0M180 199.9h0M180.4 160.5h0M181.2 150.4h0M181.4 96.1h0M182.7 164.8h0M174.8 122.9h0M179 137h0M178.9 103.4h0M178.1 144.4h0M175.4 127.9h0M183 156.5h0M181 119.8h0M183 127.4h0M184.7 171.4h0M179.6 169.8h0M174.1 179.3h0M178.2 194.1h0M175.3 213.2h0M182 148.3h0M181.6 143.6h0M174 110.7h0M177.4 154.6h0M181.2 204.9h0M179.2 134.8h0M179.9 88.5h0M177.9 160.3h0M182.3 119.9h0M180.6 124.3h0M184.7 154.6h0M174.1 153.5h0M180.4 139.9h0M174 147.3h0M185.9 168.2h0M182.3 134.2h0M186.6 152.8h0M186.4 151.1h0M184.9 121.4h0M175.1 172.5h0M179 124.2h0M180.7 144.2h0M179 130.7h0M178.4 179h0M179.7 167.8h0M176.8 140.9h0M186.3 149.9h0M180.2 180h0M185.9 186h0" stroke="#ff0000" stroke-opacity="0.42" stroke-width="4.8" stroke-linecap="round" fill="none"/>
<path d="M183.9 210.7h0M186.3 181.4h0M182.4 148.7h0M181.7 124.6h0M184.2 94.4h0M181.9 163.2h0M182.8 161.7h0M180 171.5h0M183.1 125.3h0M178.6 136.2h0M177.7 174.4h0M181.8 146.6h0M178.4 153.3h0M178.6 153.2h0M174.2 209.1h0M183.2 190.2h0M173.7 147.5h0M174.2 167.5h0M173.9 166.1h0M184 148.1h0M184.2 173.4h0M177.1 154.6h0M182.3 151.3h0M178.4 144.1h0M176.1 185.2h0M186.7 150.3h0M182.3 135.8h0M179.3 123.4h0M173.5 126.5h0M186.8 126.2h0M175.2 124.4h0M184.6 148.8h0M180.7 158.8h0M175.5 153.6h0M183.2 136.2h0M178.3 91.8h0M185.3 97.8h0M181.5 125.7h0M176.3 147.8h0M177.7 144.3h0M183 164.6h0M178.2 127.2h0M183.3 175.9h0M179 126.5h0M179.2 148.3h0M184.9 140h0M177.8 166.7h0M176.4 141.5h0M176.7 98.6h0M177 152.3h0M178.8 135.2h0M177.7 117.7h0M177.7 114.1h0M186.5 95.1h0M179.3 177.5h0M173.9 165.8h0M175.3 131.1h0M184.9 152.5h0M178.9 145.8h0M181.6 141.5h0M175.9 105.2h0M178.6 177.4h0M183.9 160.3h0M179 141.8h0M177 174.4h0M185.8 115.4h0M177.5 161.6h0M173.4 151.3h0M182.2 139.4h0M183.4 174.6h0M175.9 135.7h0M186.6 128.5h0M178.5 166.6h0M178.2 160.3h0M175.9 155h0M177.5 123.6h0M185 114h0M183.1 133.1h0M174 111.6h0M180.4 190.8h0M181.9 163.9h0M176.2 149.7h0M176.9 146.1h0M177.5 148.5h0M181.1 206h0M185.2 149.6h0M181.9 154.5h0M178.5 150.8h0M186.1 170.3h0M179.9 128.9h0M173.9 142.7h0M176.8 148.3h0M175.3 151.6h0M178.7 154.5h0M174.5 143.1h0M185 144.3h0M178.6 148.3h0M173.8 176.5h0M182.1 130.5h0M180.8 173.1h0M183.3 163.6h0M186.1 142.6h0M180 166.9h0M180.7 122.5h0M185.8 149.6h0M181.8 159.5h0M184.4 154.7h0M182.6 150.6h0M185.9 153.4h0M183.2 216h0M182.5 132.1h0M175.7 176h0M178.5 131.6h0M180.9 144h0M175.6 151.8h0M181.9 164.1h0M181 140.7h0" stroke="#ff0000" stroke-opacity="0.42" stroke-width="4.8" stroke-linecap="round" fill="none"/>
<path d="M186.4 167.1h0M174.8 124.8h0M183.7 99.7h0M184.3 174.8h0M176.6 167.2h0M176.6 139.4h0M173.5 153.6h0M174.1 158.7h0M182 160.6h0M186.5 121.2h0M176.4 212.3h0M173.5 116.9h0M173.8 174.2h0M183.3 162.5h0M183.9 204.5h0M185.3 141h0M186.9 123.2h0M185 136.2h0M177.9 111.2h0M178.1 146.9h0M186.9 131.9h0M176.3 144.7h0M180 164.8h0M176.2 122.8h0M186.6 176.9h0M177.8 138.9h0M181.8 94.8h0M183.6 133.3h0M182.2 156.5h0M184.7 158.4h0M178.3 152h0M177.3 126.7h0M178.7 149.7h0M184.7 172.7h0M178.3 132.3h0M185 97.5h0M175.2 155.2h0M178.1 143.1h0M183.9 163.9h0M185.8 166.3h0M181.9 156.6h0M176.6 133.6h0M173.4 160.6h0M178.3 131.1h0M179.6 114h0M182.6 137.8h0M182.8 162.9h0M178 141.1h0M178.1 148h0M174.7 142.2h0M179.3 137.7h0M180.9 127.5h0M183 171h0M184.9 156.4h0M186.6 144.3h0M184.2 129.8h0M176 132.6h0M174.8 144.5h0M183 131.8h0M177.4 158.2h0M174.2 161h0M180.2 149.8h0M173.8 160.2h0M173.9 154.3h0M183.7 163.2h0M185.5 112.2h0M179.3 158h0M186.3 123.3h0M183.4 119.3h0M178.8 123.1h0M184.9 212.9h0M184.2 132.5h0M181.3 151.1h0M179 125.1h0M178.2 153.8h0M182.6 118.4h0M182 87.4h0M177.2 162.2h0M175.6 158.9h0M185.5 150.3h0M183.6 181.2h0M186.2 144.7h0M177.7 166.7h0M183.1 127.6h0M183.4 144.6h0M176.6 147.9h0M178.7 155.9h0M183.6 139.8h0M185.4 171.6h0M182.7 160.4h0M177 146.2h0M177 184.7h0M177 185.9h0M178.3 150.4h0M174.4 161.2h0M184.9 143.9h0M181.7 158.5h0M185.6 135.9h0M176.3 165.6h0M185.8 148.7h0M176.3 135h0M180.8 141.6h0M185.5 166.7h0M185 144.5h0M173.7 127.3h0M178.2 168.3h0M173.9 212.5h0M182.2 135.7h0M174.5 137.2h0M173.6 89h0M184.3 141.7h0M179.8 110.1h0M183.1 214.7h0M182.2 129.6h0M178.2 167.1h0M183.5 157.1h0M177 215.4h0" stroke="#ff0000" stroke-opacity="0.42" stroke-width="4.8" stroke-linecap="round" fill="none"/>
<path d="M180.1 101V134.6M180.1 157V190.6" stroke="#ff0000" stroke-width="1.5" fill="none"/>
<rect x="172.5" y="134.6" width="15.2" height="22.4" fill="#fff" fill-opacity="0.55" stroke="#ff0000" stroke-width="2.2"/>
<line x1="172.5" x2="187.7" y1="147" y2="147" stroke="#ff0000" stroke-width="2.6"/>
<path d="M201.5 106.8h0M207.1 132.3h0M200.4 154.1h0M201.8 155.9h0M201.8 181.4h0M203.8 116.6h0M196.3 148.4h0M206.3 102.4h0M195.9 160.2h0M195.8 162.8h0M202.8 143h0M201.4 140h0M202.8 175.2h0M206.4 153.4h0M205.3 147.3h0M203.2 121.2h0M207.9 143.9h0M207.1 112.3h0M199.8 145.4h0" stroke="#0000ff" stroke-opacity="0.42" stroke-width="4.8" stroke-linecap="round" fill="none"/>
<path d="M207.3 120.4h0M197.9 175.7h0M196 147.6h0M208.2 140.4h0M197.8 142.8h0M205.3 127.5h0M202.1 166.2h0M207.8 140.4h0M197 101h0M196.2 131.3h0M200.2 141.2h0M202.9 114.3h0M200.8 165.5h0M200.1 151.4h0M201.7 144.1h0M205.1 120.1h0M205.4 144.3h0M200.1 113.7h0M196.3 109.1h0" stroke="#0000ff" stroke-opacity="0.42" stroke-width="4.8" stroke-linecap="round" fill="none"/>
<path d="M201.7 128.1h0M202.6 158h0M198.7 126h0M204.3 123h0M207.6 158.8h0M203.1 137.4h0M204.8 156.4h0M200.7 162.2h0M199.5 181.7h0M197.3 146.5h0M205.1 161.7h0M199.2 146h0M204.4 151.4h0M205.6 150.2h0M205 141h0M208.3 128.2h0M195.9 132.7h0M197.4 143.1h0M204.6 143h0" stroke="#0000ff" stroke-opacity="0.42" stroke-width="4.8" stroke-linecap="round" fill="none"/>
<path d="M203.3 117.6h0M209 152h0M203.2 110.6h0M201.9 147.8h0M196.1 155.8h0M197.7 177.5h0M200.6 152.3h0M202.2 120.2h0M208.7 144.8h0M207.6 156h0M199.7 134.6h0M199.2 147h0M201.1 115.6h0M203.5 166.3h0M208.3 131.7h0M204.6 145.6h0M199.8 120.4h0M208.7 160.1h0M196.6 162.7h0" stroke="#0000ff" stroke-opacity="0.42" stroke-width="4.8" stroke-linecap="round" fill="none"/>
<path d="M206.2 157h0M206 186h0M198.4 124.2h0M208.1 135h0M197.5 115.6h0M201.1 147h0M197.6 163.7h0M198.4 129.2h0M195.4 119.3h0M197.7 148.7h0M205.4 137.8h0M201 152.3h0M203.2 152.5h0M202.4 139.2h0M198 135.9h0M206.9 168.5h0M198.9 123.1h0M205.7 145.3h0M207.7 154.9h0" stroke="#0000ff" stroke-opacity="0.42" stroke-width="4.8" stroke-linecap="round" fill="none"/>
<path d="M204.1 126h0M199.9 152h0M198.3 148.5h0M205.2 184h0M202.8 107h0M204.1 166.5h0M203.6 159.7h0M208.4 140.6h0M202.4 178.7h0M197.4 120.1h0M199.9 131.3h0M195.9 146.2h0M200.2 163.8h0M205.1 117.1h0M202.3 118.5h0M207.2 113.4h0M199.7 113.8h0M207.7 136.2h0M201.2 144.2h0" stroke="#0000ff" stroke-opacity="0.42" stroke-width="4.8" stroke-linecap="round" fill="none"/>
<path d="M202.2 101V126.5M202.2 147V177.8" stroke="#0000ff" stroke-width="1.5" fill="none"/>
<rect x="194.6" y="126.5" width="15.2" height="20.5" fill="#fff" fill-opacity="0.55" stroke="#0000ff" stroke-width="2.2"/>
<line x1="194.6" x2="209.8" y1="138" y2="138" stroke="#0000ff" stroke-width="2.6"/>
<path d="M227.5 131.2h0M229.8 163.6h0M230.2 190.2h0M226.9 159.1h0M221.8 107.3h0M219.2 162.3h0M227.3 124.2h0M226.5 135.2h0M222.6 153.3h0M224.4 135.6h0M226.1 151.8h0M220.7 124h0M221.3 163.6h0M224.3 164h0M231 150.2h0M225.2 123.3h0M230.6 115.6h0M229 136.7h0M228.1 96h0M223.4 163h0M221.2 137.1h0M226.4 153.1h0M217.7 160.7h0M227.8 156.4h0M224.1 135.8h0M217.6 132.9h0M228 132.6h0M226.2 119.1h0M225.5 111.8h0M218.8 112.7h0M229.9 110.5h0M226.7 165.2h0" stroke="#ff0000" stroke-opacity="0.42" stroke-width="4.8" stroke-linecap="round" fill="none"/>
<path d="M229.3 146.7h0M219.7 157.2h0M226.2 161h0M222.4 142.2h0M222.1 125.3h0M226.9 145.6h0M226.7 126.8h0M226 194.3h0M223.3 134.2h0M227.5 153.1h0M226.4 145.7h0M229.9 121h0M226.7 151.9h0M229.5 136.9h0M221.7 140.3h0M220.8 157.8h0M230.2 147.7h0M222.3 122h0M224.5 149h0M225.7 133.1h0M225.3 158.1h0M229.2 136.2h0M219.1 164.3h0M222.4 134.9h0M230.2 95.5h0M218.8 184.2h0M223.5 136h0M224.9 142.7h0M222.6 129.4h0M221.5 177.4h0M228.2 140.6h0M228.6 135.3h0" stroke="#ff0000" stroke-opacity="0.42" stroke-width="4.8" stroke-linecap="round" fill="none"/>
<path d="M223.1 149.4h0M229.4 156.6h0M224.5 143.2h0M222.8 124.5h0M224.4 139.9h0M226.9 158h0M225 155.9h0M230.4 164.3h0M219.7 155.6h0M223 156.3h0M218.2 130.3h0M226.5 162.1h0M224.3 86.5h0M231 145.8h0M217.6 160.3h0M220.4 116h0M229.2 138.3h0M219.7 158.1h0M227.7 162.4h0M228 131.1h0M222.5 137.1h0M223.3 149.7h0M218.3 157h0M230.6 126.4h0M230.5 130h0M226.6 160.6h0M219.2 147.9h0M220.8 148.7h0M222.6 175.5h0M229 124.5h0M222.6 115.5h0M230.4 119.7h0" stroke="#ff0000" stroke-opacity="0.42" stroke-width="4.8" stroke-linecap="round" fill="none"/>
<path d="M220.3 131.4h0M228.4 149.9h0M218.8 145.5h0M220.2 145.6h0M221 133.7h0M230.2 118.2h0M221.6 129.8h0M220.9 172.9h0M217.7 158.8h0M221.2 122.8h0M228.3 172.5h0M225.5 144.5h0M224 195h0M224.4 130.7h0M222.5 141.9h0M230.1 98.5h0M227.9 152.4h0M229.2 157.5h0M226.1 168.5h0M220.2 132.9h0M226.7 123.9h0M221.5 126.6h0M222.5 130.9h0M217.9 150.6h0M218 183.4h0M227.6 139.4h0M230.1 149.7h0M230.5 151.5h0M226.2 169.3h0M222.5 155.9h0M223.1 125.5h0M219.7 144.5h0" stroke="#ff0000" stroke-opacity="0.42" stroke-width="4.8" stroke-linecap="round" fill="none"/>
<path d="M219.2 167.7h0M221.2 119.3h0M223.7 168.8h0M224.3 150.8h0M221.9 98.7h0M217.7 131.6h0M220.1 133.9h0M229.3 171.1h0M223.4 150.1h0M224.6 150.4h0M228.8 159.5h0M219.5 137.9h0M229.8 128.9h0M222.7 126h0M217.9 122.9h0M220 152h0M221.3 137.3h0M221.9 152.7h0M218.8 154.8h0M218.3 125.1h0M223 125.7h0M231 99.1h0M226.8 194.1h0M219 193h0M227.4 157.4h0M224 161h0M224.5 104.9h0M227.8 152.3h0M222.1 108.5h0M229.2 140.3h0M225 128.3h0M230.6 148.3h0" stroke="#ff0000" stroke-opacity="0.42" stroke-width="4.8" stroke-linecap="round" fill="none"/>
<path d="M226.8 103.9h0M227.6 145.2h0M219.3 164.1h0M218.5 178.2h0M223.2 154.9h0M220.2 138.8h0M219.2 161.1h0M230.8 113h0M227.4 154.3h0M220.9 107.6h0M230.2 146.5h0M229.1 122.5h0M224.2 150h0M218 143.2h0M225.3 132.8h0M230.8 136.6h0M223.1 163.7h0M218.7 170.8h0M229.1 135.4h0M218.1 130.4h0M223.6 131.3h0M225.5 101.7h0M226.9 194h0M228.5 170.3h0M224.3 154.1h0M230.8 111.8h0M228.5 124.1h0M227.5 119.4h0M219.6 148.6h0M225.2 164.7h0M220.4 122.2h0M230.4 151.7h0" stroke="#ff0000" stroke-opacity="0.42" stroke-width="4.8" stroke-linecap="round" fill="none"/>
<path d="M224.3 104V134.6M224.3 155V185.6" stroke="#ff0000" stroke-width="1.5" fill="none"/>
<rect x="216.7" y="134.6" width="15.2" height="20.4" fill="#fff" fill-opacity="0.55" stroke="#ff0000" stroke-width="2.2"/>
<line x1="216.7" x2="231.9" y1="143" y2="143" stroke="#ff0000" stroke-width="2.6"/>
<path d="M248.1 144.9h0M242 121.2h0M243.7 153.4h0M243.7 94.5h0M247.7 146.8h0M247.6 100.8h0M251 119.6h0M242.8 135.9h0M242.4 144.7h0M248.5 161.7h0M246.3 132.6h0M248.3 127.5h0M243.9 144.2h0M250.6 168.9h0" stroke="#ff0000" stroke-opacity="0.42" stroke-width="4.8" stroke-linecap="round" fill="none"/>
<path d="M252.2 130.8h0M248.9 169.5h0M248.6 134.5h0M250.5 119.1h0M252.2 130.9h0M250.5 139.4h0M243.4 164.5h0M248.7 85h0M240.3 114.1h0M248.9 158.3h0M252.3 118.9h0M250.6 140.4h0M239.9 97h0M250 128.1h0" stroke="#ff0000" stroke-opacity="0.42" stroke-width="4.8" stroke-linecap="round" fill="none"/>
<path d="M245.3 143.1h0M243.2 96.6h0M243.8 150.3h0M245.9 136.8h0M248.4 132.6h0M246.8 179.6h0M251.2 120.2h0M242.8 183h0M247.4 182.3h0M246.7 131h0M247.9 139.2h0M251.5 177.9h0M240.3 105.7h0M241.9 146.1h0" stroke="#ff0000" stroke-opacity="0.42" stroke-width="4.8" stroke-linecap="round" fill="none"/>
<path d="M252.1 124.7h0M249.8 148.3h0M245 99h0M246.6 182.5h0M242.5 104.3h0M249.7 123.3h0M248.3 167.4h0M241 166h0M242.2 128.4h0M250.8 149.1h0M245 126.6h0M252.9 169.4h0M250.4 115.8h0M246 123.8h0" stroke="#ff0000" stroke-opacity="0.42" stroke-width="4.8" stroke-linecap="round" fill="none"/>
<path d="M246 96.5h0M249.5 139.2h0M243.2 137.5h0M250.7 129.7h0M250.7 99.3h0M252.1 125.7h0M242.6 144.9h0M244.7 140.4h0M252 134.5h0M245.5 151.3h0M246.9 164.2h0M246.7 135.8h0M247.1 138.9h0" stroke="#ff0000" stroke-opacity="0.42" stroke-width="4.8" stroke-linecap="round" fill="none"/>
<path d="M252.6 182.9h0M250.5 159.2h0M248.4 151.2h0M245.5 121.8h0M244.4 101.9h0M242.9 115.8h0M242.1 149.8h0M247.6 128.2h0M248 171.6h0M243.6 145.5h0M241.8 163.3h0M242 167.6h0M245 106.4h0" stroke="#ff0000" stroke-opacity="0.42" stroke-width="4.8" stroke-linecap="round" fill="none"/>
<path d="M246.5 85V128.5M246.5 159V183" stroke="#ff0000" stroke-width="1.5" fill="none"/>
<rect x="238.9" y="128.5" width="15.2" height="30.5" fill="#fff" fill-opacity="0.55" stroke="#ff0000" stroke-width="2.2"/>
<line x1="238.9" x2="254.1" y1="141" y2="141" stroke="#ff0000" stroke-width="2.6"/>
<path d="M263 135.5h0M274.4 175.9h0M267.3 136.2h0M263.4 115.3h0M274.4 136.6h0M264.2 149.9h0M263.1 177.8h0M270.3 147.4h0M271.7 122.7h0M266.7 145.4h0M274.3 130.3h0M271 103.5h0M262.5 152.9h0M268.2 136.2h0M270.9 118.8h0M265 131.8h0M270.6 158.7h0M267.7 136.1h0M270.3 145.8h0M264.7 111.5h0M266.8 158.7h0M263.4 143.3h0M271.2 140.7h0M268 181.2h0M265.1 143h0M269.4 178.5h0M273 149.5h0M271.5 143.7h0M273.6 155.2h0M264.9 147h0M269.6 153.8h0M267.2 132.2h0M270.8 135.2h0M270.5 135.7h0M271.2 112.1h0M273.8 104.2h0M264 139.1h0M266.4 123.7h0M270.4 143.8h0M267 128.3h0M269 125h0M263.8 143.2h0M266.2 104.5h0M271.2 157.5h0M269.5 142.2h0M274.4 166h0M267.9 155.6h0M268.9 152.6h0M268.8 192h0M265.3 146.7h0M264.8 135h0M275.3 142.9h0M273.1 159.5h0M268.4 114.5h0M269.5 118.2h0M263.9 111.3h0M264 121.5h0M268.6 140.5h0M266.3 135.9h0M262.4 165.1h0M265.8 146.3h0M270 141.2h0M264 168h0M265.8 143.9h0M264.9 137.9h0M275.2 131.1h0M265.4 172.8h0M268.1 126.8h0M275.4 119.6h0M270.4 139.2h0M268.1 109.4h0M273.5 138.2h0M263.7 117.9h0M270.6 131.5h0M267.7 132.1h0M265.4 165.4h0M274.8 156.8h0M268.7 161.7h0M275.1 133.3h0M261.9 156.9h0M270.7 145.9h0M266.2 135.8h0M265.9 139.3h0M264.3 143.4h0M267.5 151.7h0M274.2 143.7h0M264.2 115.3h0M271.4 156.1h0M275.1 141.6h0M263.1 124.1h0M264.9 151.9h0M267.9 147.8h0M269.3 146.7h0M274.8 133.5h0M271 124h0M263.2 148h0" stroke="#ff0000" stroke-opacity="0.42" stroke-width="4.8" stroke-linecap="round" fill="none"/>
<path d="M268.6 181.7h0M273.6 116.9h0M267 154.4h0M266.3 132.9h0M264.2 148.4h0M270.2 111.3h0M269.1 160.5h0M272 95h0M274.3 139.7h0M271.1 104.5h0M271.6 151.2h0M268.9 137.1h0M271.4 148.2h0M271 133h0M273 133.6h0M262.5 152.3h0M265.9 147.1h0M274.6 141.4h0M274.8 178.2h0M263.9 156.3h0M273.7 152.1h0M265.2 131.9h0M267.7 148.9h0M271.5 124.3h0M272.6 151.4h0M270.3 145.4h0M270 128.6h0M262.6 148.1h0M268.3 159.6h0M273.7 156h0M266.1 153.2h0M274.6 119.8h0M271.9 137.6h0M269.3 166.2h0M264.2 158.2h0M271 136.8h0M272.2 134.2h0M262.1 150.8h0M264.3 149h0M263.8 143.6h0M269.6 141.8h0M273.6 163h0M264.3 147.3h0M270.8 141.4h0M262.8 135.6h0M275.1 144.5h0M266.5 148.2h0M273.8 138.6h0M273 158h0M271.2 139.6h0M269.3 161.4h0M269.8 173.3h0M263 137.3h0M273.3 116.8h0M271.7 141.3h0M272.1 133.9h0M265.6 137.3h0M272.6 189.4h0M267.3 151.8h0M270.3 135.5h0M268.5 182.7h0M268.5 160.4h0M272.8 127.3h0M267.4 146.4h0M274.9 128.1h0M269.8 146.5h0M270.4 136.6h0M267.6 144.3h0M270.2 139h0M264.4 144.4h0M263.1 96.9h0M262.5 143.7h0M267.4 126.1h0M271.4 129.9h0M265 131.7h0M272.2 113.5h0M263.6 107.2h0M270.2 125.3h0M265.9 154h0M272 107.8h0M273.7 160.7h0M274.1 143.7h0M269.4 135.4h0M261.9 169.2h0M268.2 144.1h0M266 146.2h0M264.2 113.9h0M268.4 153.4h0M263.8 139.5h0M268.2 141.5h0M263.1 150h0M271.4 177.1h0M268.1 110.7h0M268 155.1h0M265.9 127.7h0M266 137.1h0" stroke="#ff0000" stroke-opacity="0.42" stroke-width="4.8" stroke-linecap="round" fill="none"/>
<path d="M269.7 131.9h0M270.2 165.7h0M264.9 135.5h0M269.4 147.6h0M267.6 149.9h0M272.2 168.5h0M269.6 108.5h0M266.6 121h0M263.5 172.2h0M271.4 148.5h0M262.7 172.3h0M273.4 151.2h0M267 169.8h0M265 138.4h0M275.2 149h0M270.1 146.8h0M268.3 151.5h0M272.7 162.7h0M262 141.6h0M272.5 168.2h0M274.3 150.3h0M267.9 154.9h0M262.5 162.8h0M265.2 161.3h0M273.4 142.1h0M270.1 160.1h0M262.3 168.9h0M262.6 157.4h0M271 125.5h0M262.3 140.8h0M267.2 136.2h0M272.1 158.6h0M272.9 195.9h0M268.7 132.5h0M273.5 145.6h0M273.4 136.6h0M272.7 137.8h0M264.6 153.6h0M272.1 124.5h0M262.7 119.5h0M269.6 138.6h0M265 172.4h0M266.8 118.3h0M265.5 157.8h0M267.5 164.7h0M265 95.1h0M269.3 115.5h0M267.2 142.3h0M269.4 129.3h0M270.3 156.5h0M272.6 158.6h0M274.4 138.3h0M274.5 141.9h0M268.5 142.7h0M272.1 186h0M271.1 118.8h0M273.5 150.7h0M264.3 141.9h0M264 196h0M271.4 145.6h0M267.5 114.9h0M270.5 110.9h0M273.8 141.9h0M272.3 135.7h0M269 153.6h0M267.9 130.1h0M262.9 147.6h0M266.8 128h0M271.9 137.6h0M273.1 107.8h0M262.1 123.8h0M273.7 118.8h0M267.8 164.1h0M267.8 155.6h0M265.9 144.9h0M264.5 153h0M271.9 138.7h0M271.7 121.6h0M274.3 131.8h0M262.3 127.3h0M265.4 147.4h0M262.5 148.3h0M268.7 143.3h0M268 143.5h0M263.9 138.5h0M272.8 143.9h0M263.8 149.9h0M271.2 138.9h0M267.4 122.8h0M265.7 145.5h0M274.9 145h0M263.6 191.3h0M263.8 154.1h0M263.9 146.2h0M272.9 125.7h0" stroke="#ff0000" stroke-opacity="0.42" stroke-width="4.8" stroke-linecap="round" fill="none"/>
<path d="M263.5 178.4h0M262.1 132.8h0M274.7 124.5h0M263.9 168.2h0M274.9 148.9h0M263.6 128.2h0M262.8 149.9h0M274.1 95.7h0M270.2 139.7h0M262.9 131.6h0M268.7 145.1h0M272.2 147.6h0M271.9 148h0M274 155.1h0M274 134.6h0M266.4 158.9h0M267.3 153.1h0M264.7 137.6h0M264.1 102.8h0M262.1 149.4h0M271.7 135.4h0M268.5 127.3h0M269.7 156.8h0M269 149.5h0M263.4 158.2h0M267.3 158.4h0M269.9 128.8h0M274 144.2h0M270.3 191.3h0M265.3 111.6h0M267.4 144.9h0M261.8 132.9h0M267.8 153.2h0M266.7 140.9h0M266.7 137.8h0M266.3 117.7h0M265.2 96.9h0M263.9 194.1h0M267.5 101.8h0M265.8 128.6h0M273.9 157.8h0M270.7 141.4h0M268.8 138.2h0M266.1 140.2h0M264.3 131.6h0M273.3 125.2h0M264.6 162.3h0M265.1 146.8h0M264.3 156.1h0M273.6 133.3h0M265.4 157.7h0M271.9 191.5h0M266.9 187.8h0M268.1 167.1h0M269.8 137.9h0M265.9 110.5h0M263.7 103.6h0M263.8 155.2h0M275.2 130.4h0M272.7 162.7h0M263.4 116.5h0M272.9 134.5h0M267.3 127h0M270.5 131.9h0M270.4 96.7h0M262.4 115.2h0M270.4 169h0M266.7 140h0M264.2 166.5h0M268.8 168.5h0M267.1 127.6h0M271.7 136.2h0M273.1 119.2h0M272 153.1h0M265.1 149.4h0M273.3 147.1h0M272.3 140.3h0M262 132.6h0M269.6 125.9h0M275.1 189.2h0M271.2 96.8h0M270.3 141.1h0M267.2 143.3h0M261.9 148.3h0M267.1 141h0M272.7 126.2h0M272 134.1h0M262.5 127.1h0M266.2 119.2h0M273.3 132.2h0M271.3 149.2h0M271.9 170.6h0M275.1 133h0M266.5 171.5h0M269.8 134.7h0" stroke="#ff0000" stroke-opacity="0.42" stroke-width="4.8" stroke-linecap="round" fill="none"/>
<path d="M269.7 133.6h0M271.9 145.1h0M272.9 141.2h0M262.6 152.5h0M262.9 163.7h0M273.3 142.8h0M263 152.1h0M268.7 162.7h0M273.9 131.2h0M270.5 141.4h0M274.1 132.5h0M273.8 135.4h0M265.9 133.6h0M268.9 118.9h0M270.3 148.7h0M273.7 125.9h0M264.2 178.7h0M271.6 124h0M267 151h0M265.8 173.7h0M263.6 136.1h0M263.1 154h0M269.5 136.5h0M268.8 125.2h0M264.9 110.6h0M265.7 130h0M266.4 145.2h0M274.4 138.1h0M262.3 147.9h0M274.1 149h0M272.9 118.8h0M263.6 136.4h0M266.6 108.7h0M261.9 153.9h0M274.5 179.8h0M265.5 165.2h0M270.2 158.5h0M273.6 141h0M270.8 100.8h0M265.5 138.5h0M266.2 140.8h0M266.7 150.8h0M262.4 143.2h0M267.2 130.4h0M275.2 158.1h0M274.5 136.9h0M271.3 168.6h0M263.6 157h0M274.5 129.4h0M268.5 151.4h0M262.7 168.4h0M270.5 164.9h0M268.3 127.3h0M271.1 137.7h0M273.4 181.2h0M264.6 128.7h0M268.4 125.2h0M274.9 119.7h0M268.6 128.1h0M272.4 142.9h0M274.9 128.5h0M266.2 145h0M270.8 174.4h0M272.8 128.8h0M263.4 133.3h0M275.2 114.8h0M274.9 141.4h0M265.7 142.3h0M274.4 154.4h0M266.3 142.1h0M274.3 148.7h0M272.5 152.2h0M271.7 128.6h0M268.9 145.5h0M274.9 152.1h0M267.3 132.9h0M273.5 134h0M266.1 150.5h0M266.4 149.8h0M263.3 104.4h0M265.4 134.5h0M273.2 119.3h0M274.4 145.3h0M270.7 148.3h0M273.5 135.1h0M262.8 151.7h0M267.1 150.8h0M274.9 179.4h0M271.8 150.3h0M264.5 154.1h0M265.3 119.7h0M267.1 127.2h0M268.8 124.9h0M263.8 135.6h0M271.2 146.1h0" stroke="#ff0000" stroke-opacity="0.42" stroke-width="4.8" stroke-linecap="round" fill="none"/>
<path d="M273.1 136h0M271.9 135.4h0M273.1 95.1h0M268.4 165.4h0M271.7 170.8h0M262 138.1h0M265 141.8h0M262 148.4h0M273.6 145.5h0M265.2 132.9h0M266.3 184.3h0M263 149.9h0M262.9 127.2h0M274.9 155.5h0M266.2 153.8h0M267.8 168.9h0M263.8 136.1h0M272.4 134.7h0M267.8 130.6h0M274.2 100.5h0M272.8 167.7h0M267.7 98.5h0M262.1 135.2h0M263.5 161.9h0M271.7 162.2h0M270 147h0M268.1 100.7h0M265 131.3h0M262.6 160.5h0M263.1 134.6h0M266.3 125.2h0M263.9 124.1h0M265.3 124.7h0M266.4 153.9h0M265.1 134.8h0M263.2 125.7h0M271.7 142.2h0M272.2 96.8h0M263.2 138.3h0M265 134.7h0M264.8 139.1h0M273.1 95.5h0M269.1 147.6h0M264.3 115.9h0M265 140.6h0M269.5 142.9h0M270.4 150.8h0M267.7 141.5h0M263.5 193.8h0M270.4 149.2h0M269.3 149.5h0M267.7 130.2h0M272.4 137.8h0M273.6 118.4h0M274.6 149.9h0M262.9 159.6h0M263 138.3h0M262.3 165.3h0M267.2 115.4h0M268.3 174.7h0M270.3 132.8h0M265 153.4h0M265.2 152.9h0M262.6 149h0M268.5 148.5h0M263.1 122.2h0M262.1 131h0M263.7 166h0M265.9 111.3h0M268.1 130.5h0M273.1 193.4h0M274.1 151.1h0M262.5 145.1h0M268.6 112.7h0M273.3 155.5h0M263.8 156.6h0M272.5 124.6h0M268.6 195h0M264.9 139.1h0M263.6 141.5h0M262.9 161.1h0M274 163.3h0M269.1 119.8h0M264.6 144.2h0M268 160.1h0M262.4 136.7h0M274.4 160.8h0M262.6 172h0M273.8 125h0M275 146.6h0M264.2 160.1h0M274.4 145.9h0M266.8 124.2h0M267.8 149.7h0M268.6 127h0" stroke="#ff0000" stroke-opacity="0.42" stroke-width="4.8" stroke-linecap="round" fill="none"/>
<path d="M268.6 104.5V133M268.6 152V180.5" stroke="#ff0000" stroke-width="1.5" fill="none"/>
<rect x="261" y="133" width="15.2" height="19" fill="#fff" fill-opacity="0.55" stroke="#ff0000" stroke-width="2.2"/>
<line x1="261" x2="276.2" y1="142" y2="142" stroke="#ff0000" stroke-width="2.6"/>
<path d="M286.7 222.1h0M284.6 188.3h0M290.2 139.7h0M287.5 111.9h0M289.6 145.3h0M295.4 146.5h0M290 217.3h0M297.2 135.7h0M297.4 132.1h0M291.7 219.6h0M293.8 132.7h0M285.4 142.1h0M290.5 172.8h0M290.6 122.2h0M284 139.7h0M296 114.7h0M293.2 117.7h0M290.3 192.8h0M295 189.5h0M297.1 128.6h0M296.5 160.6h0M290.1 132h0M285.6 145.6h0M292.3 186h0M287.8 138.9h0M288.1 149.8h0M297 139.5h0M285.7 143.6h0M294 146.4h0M295.3 142.6h0M287.5 162.8h0M297 167.6h0M288.5 217h0M295.5 151.8h0M296.2 120.9h0M286.2 143.5h0M292.9 133.2h0M294.3 152h0M289.2 153.5h0M293.6 135.6h0M284 162.3h0M288.9 223.1h0M288.4 119.6h0M294 194.4h0M293.6 124.4h0M285.6 140.3h0M297.5 122.1h0M288.5 157.6h0M294.8 126.5h0M283.9 139.4h0M285.8 171.4h0" stroke="#ff0000" stroke-opacity="0.42" stroke-width="4.8" stroke-linecap="round" fill="none"/>
<path d="M292.1 137.9h0M296 147.3h0M295.1 125.6h0M290.3 143.6h0M286.4 207.5h0M283.9 134.2h0M296.8 159.7h0M290.4 119.4h0M294.5 161.6h0M285.1 153.4h0M285.1 157h0M290.8 165h0M285.8 135.9h0M291.3 137.4h0M289.3 152.6h0M288 139.5h0M291.1 130.7h0M294.7 149.6h0M287.7 117.4h0M294.8 147.7h0M284.1 106h0M290.6 198.1h0M296.8 180.7h0M295 159.4h0M294 113.6h0M289.6 142.8h0M285 225h0M297.2 207.2h0M289 118.4h0M288.3 156.9h0M295.1 133h0M295.4 143.2h0M296.8 130.2h0M285.4 137.6h0M296.9 119.8h0M286.6 180.1h0M295.7 141.2h0M289.5 102.2h0M284.1 120.5h0M289.6 94h0M296.9 128h0M296.9 146.5h0M289.3 236h0M288 129.5h0M296.6 113.1h0M295.1 138.3h0M284.4 116.4h0M293 153.1h0M287.1 96.5h0M291.5 99.6h0M297 146.6h0" stroke="#ff0000" stroke-opacity="0.42" stroke-width="4.8" stroke-linecap="round" fill="none"/>
<path d="M297.4 116.6h0M285.4 114.6h0M286.3 145.8h0M290.3 127.4h0M290.6 170.6h0M296.4 175.3h0M297.1 122h0M294.8 97h0M291.5 162.9h0M292.7 117.1h0M292.2 193.7h0M292.5 135.6h0M294.9 141.2h0M287.8 197.4h0M292.3 131.3h0M296.1 151h0M286.9 142.2h0M285.7 142.7h0M296.3 183.3h0M294.1 114.5h0M286 163.2h0M290.6 143.6h0M295.7 144.8h0M289.9 182.1h0M285.5 104.2h0M285.7 156.9h0M290.8 188.7h0M293.5 133.9h0M297.2 119h0M289.6 134.6h0M286.2 158.8h0M294.3 202.1h0M286.6 117.7h0M286.8 98.3h0M295.8 127.6h0M291.8 191.7h0M284.5 138.6h0M290.9 171.7h0M290.9 161.6h0M291.4 139.8h0M290.4 122.8h0M294.4 171.7h0M292.4 153.5h0M291.3 137.4h0M284.8 114.5h0M290.4 100.6h0M288.4 128h0M296.4 102.3h0M284.5 104.7h0M285.2 123.3h0M291.2 144.5h0" stroke="#ff0000" stroke-opacity="0.42" stroke-width="4.8" stroke-linecap="round" fill="none"/>
<path d="M285.1 112.6h0M297 177h0M293.9 152.2h0M292.8 173.8h0M288.2 188.2h0M292.5 140.9h0M295.3 190.6h0M292.1 166h0M292.5 160.5h0M286.5 136.4h0M287.2 130.1h0M290.6 135.1h0M292.9 135.6h0M287.6 162.8h0M295.8 141.4h0M288.8 211.6h0M287.9 109h0M292.5 154h0M286.7 166.9h0M291 144.9h0M290.9 179.1h0M293.3 124.8h0M289.1 115h0M290.6 118.1h0M294.8 94.2h0M288.4 143.4h0M295.8 143.2h0M287.5 166h0M295.8 161.1h0M290.5 109.2h0M294.4 125.4h0M290 162.1h0M295.8 162.7h0M291.6 168.9h0M292.9 128.6h0M288.8 170.6h0M290.6 147.2h0M294.7 98.3h0M285.5 102.5h0M286.3 156.3h0M294.1 110.9h0M289.1 168h0M288.3 124.6h0M284.8 133.8h0M285.7 143.8h0M296.3 123h0M288.4 139h0M293.6 141.3h0M293.9 156.5h0M284.4 115.5h0" stroke="#ff0000" stroke-opacity="0.42" stroke-width="4.8" stroke-linecap="round" fill="none"/>
<path d="M294.3 138.6h0M295.8 158.3h0M295.3 142.3h0M285.8 114.9h0M289.7 102.7h0M284.5 139.3h0M284.8 209.5h0M284.4 155.1h0M283.9 146.7h0M286.3 184.3h0M296.3 136.7h0M296.3 116.4h0M297.4 161.8h0M285.8 137.8h0M285.4 176.7h0M291.2 137.6h0M292.8 103.1h0M286.5 99.6h0M295.8 162.3h0M288.7 174h0M293.3 162h0M286.5 182.9h0M297 169.4h0M288.2 168.1h0M287.3 134.4h0M296.4 119.6h0M290 187.2h0M286.7 127.3h0M295.4 162.9h0M292 108.1h0M289.4 142.1h0M293.1 165.3h0M295.3 108.3h0M284.1 166.4h0M294.8 149.9h0M286.3 139.5h0M291.9 134.5h0M293.1 142.9h0M296.9 140.8h0M285.3 156.7h0M293.4 126.9h0M291.2 127.2h0M297.2 123.1h0M284 120.2h0M294.6 156.1h0M296.8 120.2h0M294.4 126.7h0M284 121.6h0M293.2 185.4h0M293.6 95.8h0" stroke="#ff0000" stroke-opacity="0.42" stroke-width="4.8" stroke-linecap="round" fill="none"/>
<path d="M292.4 146.7h0M293.9 123.2h0M284.4 170.3h0M289.2 124.5h0M285.1 177.4h0M286.4 168.2h0M292.7 126.2h0M286.3 97.1h0M294 135.5h0M295.3 118.2h0M287 170.8h0M292.9 105.1h0M285.5 149.5h0M290.8 143h0M290.9 125.8h0M286.2 155.3h0M285.1 106.3h0M285.7 123.5h0M286.8 117h0M291 168h0M287.9 179.3h0M292 154.1h0M296.9 98.9h0M289.8 142.5h0M293.1 167.1h0M294.6 179.7h0M295.4 181.5h0M285.4 121.8h0M286.3 192.1h0M285.3 109.5h0M294.5 98.6h0M284 114h0M285.8 140.6h0M293.3 150.4h0M287 133.2h0M286.2 147.2h0M287.3 139.2h0M287 152.2h0M292.4 167.5h0M291.8 117.7h0M294.4 152h0M292.8 177.5h0M292.6 102.3h0M287.9 151.1h0M287.3 175.1h0M286.5 197.5h0M284.3 132h0M288.6 148.4h0M295.4 153.8h0M287.6 136.1h0" stroke="#ff0000" stroke-opacity="0.42" stroke-width="4.8" stroke-linecap="round" fill="none"/>
<path d="M290.7 94V131M290.7 160.5V204.8" stroke="#ff0000" stroke-width="1.5" fill="none"/>
<rect x="283.1" y="131" width="15.2" height="29.5" fill="#fff" fill-opacity="0.55" stroke="#ff0000" stroke-width="2.2"/>
<line x1="283.1" x2="298.3" y1="143" y2="143" stroke="#ff0000" stroke-width="2.6"/>
<path d="M315.8 164.7h0M317.5 143.4h0M318.4 151.3h0M314.7 204.4h0M317.4 172.2h0M314.1 203.7h0M313.8 160.4h0" stroke="#ff0000" stroke-opacity="0.42" stroke-width="4.8" stroke-linecap="round" fill="none"/>
<path d="M315.4 168h0M314.7 183.1h0M316.7 178.3h0M312.5 190.8h0M312.7 147h0M310.4 162.2h0M312.7 189.9h0" stroke="#ff0000" stroke-opacity="0.42" stroke-width="4.8" stroke-linecap="round" fill="none"/>
<path d="M308.2 187.6h0M311.9 189.6h0M306.9 200.3h0M309.9 146.6h0M306.7 159.5h0M311.3 140.2h0" stroke="#ff0000" stroke-opacity="0.42" stroke-width="4.8" stroke-linecap="round" fill="none"/>
<path d="M308.5 158.9h0M316.9 174.5h0M307.7 212h0M309.4 173.5h0M306.6 168.9h0M317.5 177.3h0" stroke="#ff0000" stroke-opacity="0.42" stroke-width="4.8" stroke-linecap="round" fill="none"/>
<path d="M311.1 133h0M309.1 168.3h0M313.4 149.3h0M306.7 182.2h0M319.1 150.8h0M309.4 160.6h0" stroke="#ff0000" stroke-opacity="0.42" stroke-width="4.8" stroke-linecap="round" fill="none"/>
<path d="M312.2 162h0M307.6 145.9h0M319.2 133.7h0M311.5 160.4h0M316.7 202h0M313.2 185.5h0" stroke="#ff0000" stroke-opacity="0.42" stroke-width="4.8" stroke-linecap="round" fill="none"/>
<path d="M312.8 133V158M312.8 183V212" stroke="#ff0000" stroke-width="1.5" fill="none"/>
<rect x="305.2" y="158" width="15.2" height="25" fill="#fff" fill-opacity="0.55" stroke="#ff0000" stroke-width="2.2"/>
<line x1="305.2" x2="320.4" y1="174" y2="174" stroke="#ff0000" stroke-width="2.6"/>
<path d="M339.8 174.9h0M335.5 153h0" stroke="#0000ff" stroke-opacity="0.42" stroke-width="4.8" stroke-linecap="round" fill="none"/>
<path d="M341.7 189.2h0M339.5 158.3h0" stroke="#0000ff" stroke-opacity="0.42" stroke-width="4.8" stroke-linecap="round" fill="none"/>
<path d="M330.3 191h0M333.3 179.1h0" stroke="#0000ff" stroke-opacity="0.42" stroke-width="4.8" stroke-linecap="round" fill="none"/>
<path d="M336.3 167.6h0M340.7 176.7h0" stroke="#0000ff" stroke-opacity="0.42" stroke-width="4.8" stroke-linecap="round" fill="none"/>
<path d="M328.2 161h0M335.1 157.4h0" stroke="#0000ff" stroke-opacity="0.42" stroke-width="4.8" stroke-linecap="round" fill="none"/>
<path d="M332.7 187.3h0" stroke="#0000ff" stroke-opacity="0.42" stroke-width="4.8" stroke-linecap="round" fill="none"/>
<path d="M334.9 153V168M334.9 185V191" stroke="#0000ff" stroke-width="1.5" fill="none"/>
<rect x="327.3" y="168" width="15.2" height="17" fill="#fff" fill-opacity="0.55" stroke="#0000ff" stroke-width="2.2"/>
<line x1="327.3" x2="342.5" y1="176.5" y2="176.5" stroke="#0000ff" stroke-width="2.6"/>
<path d="M355.9 148.5h0M362 172.3h0M359.5 190.8h0M360.8 147.9h0M359 179.9h0M362.4 218.5h0M357.8 152.5h0M355.1 183.6h0M351.4 230.6h0M361.1 177.2h0M363.8 158.1h0M361.4 142h0M350.9 150h0M356.7 176h0M363.6 177.3h0M350.5 174.3h0M356.1 202.3h0M351.4 173.3h0M361.6 159.9h0M356.1 218.5h0M352.1 174.8h0M354 147.9h0M356 168.3h0M353.2 144.1h0M357.2 191.4h0M359.9 154.7h0M358.2 144.6h0M350.8 162.6h0M351.6 171.6h0M359.4 159h0M358.2 194h0M352.3 170.3h0M362.1 185.9h0M353.7 194.9h0M353.7 161.7h0M357.2 178.1h0M359.9 164h0M351.8 175.5h0M358.8 158.3h0M355.8 150.6h0M361.2 180.2h0M358.8 162.4h0M362.5 165.8h0M361.5 175.1h0M355.4 180.2h0M353.6 157.8h0M358.7 178.3h0M352.6 172.8h0M357.6 183.3h0M353.1 179.1h0M357.1 153.3h0M361.9 213.6h0M363.6 148.9h0M363.5 166h0M353.3 164.6h0M361.5 200.3h0M356.1 194.7h0M357.9 242.5h0M355.8 137.8h0M355.4 182.5h0M354.1 168.3h0M360.4 232.4h0M350.7 161.4h0M355 177.2h0M358.5 204.3h0M359.8 396h0M357.8 165.4h0M350.2 173.9h0M351.8 178.6h0M360.9 153.6h0M362.2 150.5h0M355.2 184.5h0M352 179.7h0M351.6 165.4h0M357.9 148.7h0M353.5 183.8h0" stroke="#ff0000" stroke-opacity="0.42" stroke-width="4.8" stroke-linecap="round" fill="none"/>
<path d="M362.4 177.6h0M358.4 157.4h0M351.4 170.4h0M361.6 148.1h0M355.5 171.1h0M360.7 201.1h0M363.8 210.7h0M363.4 178.7h0M354.7 150.3h0M353.8 192.3h0M361.3 154h0M353.8 154.9h0M362.4 170.4h0M359.8 153.5h0M351.6 186.8h0M360 169.4h0M350.4 157.3h0M358 194.6h0M353.3 183.2h0M359.5 178.5h0M357.9 245.4h0M358.5 164.8h0M350.8 178.9h0M360 161.9h0M355.9 172.7h0M360.7 163.2h0M355.6 170h0M356.7 171.4h0M355 187.5h0M352.6 245.6h0M359.6 171.6h0M352.7 186.2h0M356.5 132h0M350.3 166.8h0M355.3 138.8h0M358.7 173.5h0M353.3 235.9h0M354 139h0M362.5 162.2h0M360.7 148.3h0M350.5 168.9h0M350.2 140.3h0M352 185.7h0M357.1 175.3h0M360 176.4h0M350.5 141.9h0M361.2 174.2h0M351.7 162.5h0M359.4 225.1h0M360.5 162.1h0M353.5 191.5h0M358.1 149h0M356.5 164h0M351.6 169.8h0M357.7 191.8h0M362.9 167.4h0M357.1 145.7h0M353.4 162.8h0M360.6 175.8h0M360.3 197h0M359.6 174.7h0M362.2 171.1h0M358.2 166.9h0M352.5 153.5h0M351.5 145h0M363.1 160.5h0M358.4 166.3h0M351 164.1h0M351.6 147.1h0M350.9 153.4h0M360.4 184.7h0M356.1 174.4h0M359 184.9h0M352.9 165.8h0M351 138.2h0M359.4 179h0" stroke="#ff0000" stroke-opacity="0.42" stroke-width="4.8" stroke-linecap="round" fill="none"/>
<path d="M356.8 180.3h0M354.8 161.3h0M362.5 139.4h0M351.9 151.4h0M361.4 157.5h0M357.9 158.3h0M351.2 200.9h0M359.7 166h0M361.8 172.5h0M352.8 166.2h0M354.8 202.9h0M354.2 183.7h0M359.6 155.4h0M361.5 206.4h0M360 164.8h0M356 176h0M353.4 162.8h0M357.6 174h0M357.9 244.1h0M358.8 171.9h0M353.5 161.7h0M353.9 197.6h0M361.9 170.2h0M362.5 164.4h0M356 150.5h0M363.1 146.2h0M355.5 181.3h0M359.6 167.1h0M353.2 154.9h0M352.8 202.5h0M359.5 177h0M361.3 174.3h0M357.2 174.9h0M350.8 175.2h0M358.3 178.8h0M352.2 148.9h0M356.4 162.8h0M360 173.8h0M360 160h0M363.5 190.1h0M353.7 183.5h0M362.5 200h0M351.6 179.4h0M362.1 163.7h0M356.1 182.1h0M360.7 179.5h0M358.8 160.6h0M353.1 192h0M362.7 194.2h0M355.7 199.1h0M360.7 181.4h0M357.6 158h0M354.2 182.1h0M362.9 220.8h0M356.9 151h0M356.3 212.2h0M353.8 175.9h0M359.5 184.3h0M358.1 151.3h0M355.6 134.4h0M360.7 167.8h0M350.6 146.8h0M356.1 179.9h0M355.8 161.6h0M357.6 137.3h0M361.9 150h0M352.1 171h0M362.3 181.3h0M354.9 180.1h0M360.3 179.2h0M363.7 164.1h0M363 136.5h0M352.9 171.1h0M362.1 197.2h0M353.5 180.1h0M352.4 237.1h0" stroke="#ff0000" stroke-opacity="0.42" stroke-width="4.8" stroke-linecap="round" fill="none"/>
<path d="M358.3 208.2h0M356.3 187.8h0M354.2 175.9h0M351.8 163.8h0M359.4 186.1h0M351.3 182.5h0M358 179.9h0M354.9 175.8h0M355.4 164.6h0M354.2 173.6h0M363.2 165.3h0M358.7 165.6h0M358.2 173.2h0M354.2 149.9h0M353.9 176h0M355 190.5h0M358.2 186.2h0M363.4 146.1h0M362.1 178.7h0M352.1 236.6h0M357.8 170.8h0M355.5 156.3h0M357.6 171.5h0M356.2 168.3h0M355.8 168.5h0M359.5 185.7h0M363.2 166h0M357.4 396h0M355.9 164.6h0M363.7 144.9h0M363.4 170h0M355.5 142.7h0M363.3 240.9h0M352.9 159.3h0M353.7 217.2h0M353.2 134.8h0M358.5 154.3h0M354.1 193.3h0M352.7 187.7h0M360.5 172.8h0M353.3 171.6h0M352.3 181.6h0M351.5 139.3h0M357.1 174h0M360.6 161.3h0M357.7 153.8h0M357.7 175.9h0M358 182.6h0M360.5 152.9h0M357.5 157.4h0M354.9 244.9h0M356.1 210.5h0M351.1 167.9h0M362.5 190.3h0M359.3 151h0M352.7 189.7h0M362.9 160.6h0M358.7 145.7h0M356.8 160.8h0M362.2 174.8h0M357.6 161.5h0M355.7 174.3h0M358.3 142.9h0M362.3 169.7h0M357.3 153.8h0M350.5 154.9h0M357.6 173.8h0M359.6 164.4h0M358.6 158.9h0M361.8 189.4h0M357.5 173.5h0M358.8 185.7h0M359.7 189.1h0M353.3 152.6h0M355.6 132.3h0M359.1 155.2h0" stroke="#ff0000" stroke-opacity="0.42" stroke-width="4.8" stroke-linecap="round" fill="none"/>
<path d="M361.6 212.6h0M357.9 173.5h0M362.4 174.5h0M356.7 143.3h0M362.3 146.4h0M357.3 180.7h0M355.9 174.7h0M360.4 146.9h0M363.6 177.3h0M358.4 172.2h0M353.6 145.5h0M360.3 163.5h0M354.1 178.1h0M352.7 184.3h0M358.9 164.9h0M362.2 162.5h0M351.4 185.8h0M353 189.7h0M353.3 149.5h0M363.2 183.2h0M363 154.8h0M352.9 183.6h0M357.3 181.1h0M360.2 176h0M354.9 154.3h0M357 181.2h0M359.1 215.5h0M356.9 235.2h0M358.5 178h0M352 184.4h0M360.9 166.3h0M351.4 212.2h0M354.3 196.8h0M354.7 182.5h0M356.6 223h0M360.8 151.7h0M357.9 164h0M356.4 146.9h0M356.6 151.8h0M357.9 196.5h0M351.7 168.6h0M362.8 185.8h0M352 167.1h0M351.5 142.1h0M355 177.5h0M352.3 146.1h0M351.3 178.2h0M353.9 196.7h0M354.8 181h0M356.5 178.2h0M357.4 162.7h0M359.3 170h0M356.4 193.5h0M362.1 194.5h0M358.4 173.4h0M359.9 165.4h0M356.4 163.5h0M356 177h0M353.8 146.4h0M360.6 149.6h0M363.2 167.1h0M359.5 154.2h0M360.8 156.1h0M354.4 173.7h0M357.7 224.5h0M352.5 178.1h0M356.9 152.9h0M358.5 166.5h0M358.1 145.4h0M355 163.3h0M360.8 200.8h0M359.6 157.6h0M353.5 175.7h0M359.4 181.4h0M359.5 181.5h0" stroke="#ff0000" stroke-opacity="0.42" stroke-width="4.8" stroke-linecap="round" fill="none"/>
<path d="M359.2 162.5h0M352 170.4h0M359.5 174.8h0M361.4 245.3h0M354.1 147.9h0M359.6 161.7h0M358.6 172.5h0M357.4 161.8h0M361.5 157.7h0M362.5 157.1h0M363.6 157.5h0M351.8 160.4h0M356.1 137.9h0M359.6 180.1h0M362.6 180.4h0M360.4 180h0M355.3 194.6h0M360.3 165.3h0M362.9 224.4h0M363.1 192.1h0M362 161.1h0M361.1 157.7h0M355.6 172.1h0M361.4 190.7h0M351.7 186.8h0M354.4 182.8h0M358.5 157.7h0M356.6 167.8h0M357.9 164.1h0M362.9 164.9h0M361.6 158.5h0M354.9 177.3h0M355.4 148.6h0M350.3 170.2h0M356.8 158.7h0M351.8 186.4h0M363.7 179.2h0M353 188.1h0M356.5 181.8h0M359 179.6h0M362.5 140h0M355.6 174.5h0M363.2 181.7h0M362.6 214h0M355.4 188.1h0M354.9 150.3h0M351 207.6h0M359.8 203.7h0M362.4 176.7h0M360.9 180.7h0M350.8 168.5h0M359.8 166.9h0M362.8 171.4h0M355.7 142.9h0M354.8 155.1h0M361.6 147h0M356.1 162.7h0M356.1 194.5h0M358 168.2h0M359.3 166.7h0M356.7 220.2h0M359.7 238.6h0M358.6 180.3h0M352.9 185.9h0M351.6 162.3h0M352 185.2h0M363.3 189.2h0M356.2 171.2h0M358 161.3h0M356.7 166h0M363.6 192.6h0M358.9 170.8h0M358.9 172h0M356.1 166.9h0M357.7 178.2h0" stroke="#ff0000" stroke-opacity="0.42" stroke-width="4.8" stroke-linecap="round" fill="none"/>
<path d="M357 132V159M357 180V211.5" stroke="#ff0000" stroke-width="1.5" fill="none"/>
<rect x="349.4" y="159" width="15.2" height="21" fill="#fff" fill-opacity="0.55" stroke="#ff0000" stroke-width="2.2"/>
<line x1="349.4" x2="364.6" y1="169" y2="169" stroke="#ff0000" stroke-width="2.6"/>
<path d="M379.8 159.7h0M384.8 149h0M381.5 146h0M380.5 149.2h0M383.8 159.4h0M380.3 160.5h0M384.6 139.3h0M374.8 151.9h0" stroke="#0000ff" stroke-opacity="0.42" stroke-width="4.8" stroke-linecap="round" fill="none"/>
<path d="M372.9 159h0M375.2 143h0M382.7 138h0M377.5 157.9h0M382.1 137.8h0M377.1 139.6h0M376.1 146.9h0" stroke="#0000ff" stroke-opacity="0.42" stroke-width="4.8" stroke-linecap="round" fill="none"/>
<path d="M374.9 143.7h0M377.6 140.2h0M376.6 149.5h0M385.5 154.3h0M375.7 156.5h0M383.6 133.7h0M384.7 144.5h0" stroke="#0000ff" stroke-opacity="0.42" stroke-width="4.8" stroke-linecap="round" fill="none"/>
<path d="M376.5 150.2h0M374.8 152.2h0M384 157h0M383.8 132h0M375.1 156.1h0M377.5 152.5h0M378.3 138.9h0" stroke="#0000ff" stroke-opacity="0.42" stroke-width="4.8" stroke-linecap="round" fill="none"/>
<path d="M379.4 136.5h0M374.7 147.4h0M382.6 142.4h0M384 132.2h0M384.3 137.9h0M383.7 151.3h0M382.5 135.7h0" stroke="#0000ff" stroke-opacity="0.42" stroke-width="4.8" stroke-linecap="round" fill="none"/>
<path d="M372.7 145.9h0M375.6 148.2h0M383 147.6h0M374.9 147.1h0M381.4 147.9h0M385.5 144.9h0M382.1 153.2h0" stroke="#0000ff" stroke-opacity="0.42" stroke-width="4.8" stroke-linecap="round" fill="none"/>
<path d="M379.1 132V143M379.1 159V160.5" stroke="#0000ff" stroke-width="1.5" fill="none"/>
<rect x="371.5" y="143" width="15.2" height="16" fill="#fff" fill-opacity="0.55" stroke="#0000ff" stroke-width="2.2"/>
<line x1="371.5" x2="386.7" y1="150.7" y2="150.7" stroke="#0000ff" stroke-width="2.6"/>
<path d="M407.8 167.3h0M394.7 172.7h0M396 181.5h0M398 204.5h0M395.4 183.3h0M401.5 168.1h0M403.9 212.3h0M403 173.7h0M395.2 155.3h0" stroke="#ff0000" stroke-opacity="0.42" stroke-width="4.8" stroke-linecap="round" fill="none"/>
<path d="M406.7 152.6h0M405.8 176.7h0M401.6 187.3h0M406.8 168.3h0M407.8 175.1h0M402.5 153h0M401.6 172.1h0M407.1 168h0M400.6 157h0" stroke="#ff0000" stroke-opacity="0.42" stroke-width="4.8" stroke-linecap="round" fill="none"/>
<path d="M402.8 172.2h0M398.6 170.4h0M396.9 175.5h0M400.6 142.7h0M399.3 137.8h0M398.9 138.9h0M394.8 218.8h0M404.4 165.3h0" stroke="#ff0000" stroke-opacity="0.42" stroke-width="4.8" stroke-linecap="round" fill="none"/>
<path d="M398.5 237h0M403.8 120h0M401.7 157.2h0M402.5 143.3h0M405.9 217.9h0M398.8 230.1h0M400.8 121.1h0M405.7 168.6h0" stroke="#ff0000" stroke-opacity="0.42" stroke-width="4.8" stroke-linecap="round" fill="none"/>
<path d="M406.6 196.7h0M403.4 188.7h0M395.7 188.6h0M402.8 193.1h0M407.9 195.3h0M398.2 194.2h0M402.1 141h0M407.3 178.6h0" stroke="#ff0000" stroke-opacity="0.42" stroke-width="4.8" stroke-linecap="round" fill="none"/>
<path d="M397.5 131.2h0M404.7 190.6h0M395.1 155.4h0M405.5 160.8h0M405.3 175.3h0M395 205.6h0M398.5 157.1h0M397.3 177.3h0" stroke="#ff0000" stroke-opacity="0.42" stroke-width="4.8" stroke-linecap="round" fill="none"/>
<path d="M401.2 120V158M401.2 194V237" stroke="#ff0000" stroke-width="1.5" fill="none"/>
<rect x="393.6" y="158" width="15.2" height="36" fill="#fff" fill-opacity="0.55" stroke="#ff0000" stroke-width="2.2"/>
<line x1="393.6" x2="408.8" y1="173" y2="173" stroke="#ff0000" stroke-width="2.6"/>
<path d="M418.9 147h0M430 127.2h0M422.9 158.6h0M425.4 112.6h0M429.1 163.3h0M426.8 109.2h0M427.1 120.5h0M418.6 174.5h0M418.9 123.3h0M419.6 138.1h0M419.8 112.3h0M426.4 140h0M426.8 132.7h0M427.6 112.1h0M417.7 107.6h0M421.1 121.9h0M428.7 173h0M426.4 142.2h0M427.6 125.2h0M417.7 92.7h0M425.1 114.8h0M418 113.6h0M429.8 142.5h0M420.4 147.9h0M428 154.1h0M418.5 145h0M423 94.9h0M426.9 154.6h0M421.5 149.2h0M416.8 119.5h0M419.7 80h0" stroke="#ff0000" stroke-opacity="0.42" stroke-width="4.8" stroke-linecap="round" fill="none"/>
<path d="M424.7 149.9h0M428.9 106.4h0M421.1 119.7h0M423.8 162h0M427.3 134.2h0M424.8 136.9h0M429.9 141.7h0M427.3 117.2h0M420.6 146.4h0M426.2 148.1h0M422 152.7h0M428.1 106.1h0M421.8 150.1h0M422.8 152.3h0M418.5 140.2h0M425.3 142.6h0M424.8 130.1h0M426.1 102.5h0M417 175.2h0M418.3 93h0M419.1 119.6h0M423 138.7h0M429.1 140.9h0M422.6 152.7h0M423.6 148.5h0M426.6 161.4h0M419.2 119.7h0M419.4 162h0M427.5 148.3h0M430.1 161.2h0M420.1 117.6h0" stroke="#ff0000" stroke-opacity="0.42" stroke-width="4.8" stroke-linecap="round" fill="none"/>
<path d="M419.2 114.5h0M419.2 148.4h0M428.4 143.9h0M424.4 93.1h0M422.5 145.6h0M426.1 157.5h0M424.1 141.1h0M429.2 128.1h0M429.6 143.1h0M427.7 132.8h0M419.2 132.2h0M417.3 147.6h0M421.7 129.1h0M421.1 90.4h0M428.7 157.6h0M427.2 165.9h0M421.5 124.7h0M423.8 111h0M423.7 142.1h0M425.7 155h0M419.9 165.6h0M420.5 130.9h0M430 116.6h0M422.7 105h0M429.7 134h0M419.4 107.9h0M417.1 132.9h0M425.6 120.8h0M423.2 156.9h0M420.9 153.7h0M424.2 130.4h0" stroke="#ff0000" stroke-opacity="0.42" stroke-width="4.8" stroke-linecap="round" fill="none"/>
<path d="M426.6 149.5h0M417.9 164.5h0M424.9 107.7h0M417.8 138.5h0M425.9 144.6h0M421.8 105.1h0M429.2 91.4h0M421.3 120.7h0M430 119.1h0M421.7 181.5h0M423 170.3h0M424.5 133.5h0M423.3 122.2h0M416.6 131.8h0M422.3 169.8h0M419.1 124.7h0M417 131.4h0M420.2 141.9h0M420.3 139.9h0M430 147.5h0M423.3 141.2h0M427.4 159.4h0M429.3 80.5h0M423.7 124.4h0M427.2 153.7h0M417 139.9h0M420.1 123.8h0M428.6 151.3h0M428.3 137.9h0M423.4 116.6h0M420.9 163.5h0" stroke="#ff0000" stroke-opacity="0.42" stroke-width="4.8" stroke-linecap="round" fill="none"/>
<path d="M426.2 115.6h0M419.6 181.5h0M421.8 127.4h0M417.6 113.8h0M426.4 137.3h0M419.3 163.3h0M424 140.8h0M416.7 139.1h0M427.9 133.5h0M428 121h0M424.7 114.9h0M428.2 165.8h0M427.7 116.1h0M419 126.1h0M426.2 142.8h0M428.9 179.5h0M425.7 161.5h0M419.9 136.3h0M426.5 108.9h0M423.7 108.1h0M423.9 164.7h0M417 135.7h0M427.6 141.2h0M428.6 151.7h0M418.4 145.6h0M424.4 121.1h0M421 140.3h0M424.4 120h0M424.4 133.5h0M423.5 139.7h0M419.5 135.1h0" stroke="#ff0000" stroke-opacity="0.42" stroke-width="4.8" stroke-linecap="round" fill="none"/>
<path d="M429.3 113.1h0M421.9 136.6h0M427.7 129.7h0M421.8 149.7h0M424.4 137.8h0M424.6 163.8h0M428.6 152.6h0M417.7 125.9h0M418.1 138h0M428.6 140.5h0M418 161.2h0M423.2 175.2h0M429.4 99.8h0M420.9 104h0M418.9 132h0M425.8 128.8h0M423.2 117.9h0M416.9 131.1h0M429.3 121.1h0M425.7 96h0M416.7 112.4h0M417.8 142.9h0M424.6 177.5h0M424.5 134.4h0M427 118.6h0M417.8 167.8h0M421.4 135.7h0M426.8 104.9h0M427.2 170h0M423.9 177.2h0M428.5 149.6h0" stroke="#ff0000" stroke-opacity="0.42" stroke-width="4.8" stroke-linecap="round" fill="none"/>
<path d="M423.3 80V116M423.3 142V181" stroke="#ff0000" stroke-width="1.5" fill="none"/>
<rect x="415.7" y="116" width="15.2" height="26" fill="#fff" fill-opacity="0.55" stroke="#ff0000" stroke-width="2.2"/>
<line x1="415.7" x2="430.9" y1="133" y2="133" stroke="#ff0000" stroke-width="2.6"/>
<path d="M445.9 99h0M441.7 114.1h0M450.3 132.3h0" stroke="#0000ff" stroke-opacity="0.42" stroke-width="4.8" stroke-linecap="round" fill="none"/>
<path d="M442.3 112.1h0M447.3 112.1h0" stroke="#0000ff" stroke-opacity="0.42" stroke-width="4.8" stroke-linecap="round" fill="none"/>
<path d="M440.8 125.8h0M444.7 126.8h0" stroke="#0000ff" stroke-opacity="0.42" stroke-width="4.8" stroke-linecap="round" fill="none"/>
<path d="M446.3 151.1h0M442.4 123.7h0" stroke="#0000ff" stroke-opacity="0.42" stroke-width="4.8" stroke-linecap="round" fill="none"/>
<path d="M439.2 143.1h0M448.6 158h0" stroke="#0000ff" stroke-opacity="0.42" stroke-width="4.8" stroke-linecap="round" fill="none"/>
<path d="M440.2 129.9h0M447.4 146.4h0" stroke="#0000ff" stroke-opacity="0.42" stroke-width="4.8" stroke-linecap="round" fill="none"/>
<path d="M445.4 99V122M445.4 146V158" stroke="#0000ff" stroke-width="1.5" fill="none"/>
<rect x="437.8" y="122" width="15.2" height="24" fill="#fff" fill-opacity="0.55" stroke="#0000ff" stroke-width="2.2"/>
<line x1="437.8" x2="453" y1="133" y2="133" stroke="#0000ff" stroke-width="2.6"/>
<path d="M473.8 161.2h0M471.5 152.6h0M469.7 163.3h0M468.5 172.8h0M467.1 163.8h0M468 159.3h0M467.5 161.7h0M467.3 166.1h0M469.4 142.1h0M461.3 139.1h0M474.3 144.2h0M466.5 153.1h0M469.7 170.6h0M470.6 173.3h0M462.2 157.1h0M461 148.9h0M464.7 170.3h0M470.7 138.6h0M464.1 162.8h0M471.9 177.8h0M473.6 175.9h0M466.2 146.6h0M462.9 167.4h0M464.4 154.2h0M470.9 145.6h0M469.1 184.2h0M463.8 156.9h0M474.2 158.4h0" stroke="#ff0000" stroke-opacity="0.42" stroke-width="4.8" stroke-linecap="round" fill="none"/>
<path d="M469.7 175.3h0M469.1 182.8h0M468 140.9h0M472.5 169.8h0M465.7 144.9h0M471.7 161.4h0M468.7 184.1h0M463.5 174.2h0M470.9 169.6h0M463 161.7h0M462 144.3h0M466.8 167.6h0M470.4 160.2h0M463.8 156.9h0M472.6 156.4h0M474.1 160.2h0M463.5 162.2h0M461.6 143.8h0M471.3 168.1h0M468.5 151.6h0M465.9 170.9h0M472.3 158.8h0M463.7 147.7h0M469.6 171.7h0M467.4 141h0M471.7 164.2h0M467.1 153.9h0M468.7 146.9h0" stroke="#ff0000" stroke-opacity="0.42" stroke-width="4.8" stroke-linecap="round" fill="none"/>
<path d="M463.2 168.4h0M463.9 151.6h0M472.7 153.2h0M467.3 157h0M462.1 142h0M463.3 152.2h0M467.6 157.6h0M461.5 156h0M471.4 157.6h0M471 156.9h0M473.9 167.4h0M470.7 176.6h0M470.8 189.3h0M471.6 132h0M466.5 160h0M473.6 156.3h0M461.8 143.8h0M468 169.8h0M470.2 159h0M465.1 158.7h0M466.8 170h0M473.4 162.3h0M462.9 155.7h0M474.3 143h0M462.1 172.5h0M466.7 163.7h0M465.2 175.6h0M465.5 139h0" stroke="#ff0000" stroke-opacity="0.42" stroke-width="4.8" stroke-linecap="round" fill="none"/>
<path d="M471.4 153.6h0M471 183.4h0M470.6 139.9h0M470.4 167.8h0M472.7 157.6h0M462.4 155.5h0M472.5 157.3h0M464.6 179.6h0M473.4 142.3h0M468.3 154.2h0M471.7 146h0M462.1 165.3h0M466.1 151h0M473.1 160.8h0M462 132.5h0M473.4 150.5h0M460.9 173.3h0M472.7 149.6h0M468.3 136.4h0M470.2 173.4h0M473.5 140.2h0M463.8 143h0M472.3 152.9h0M473.4 133.3h0M463.9 140.6h0M464.8 163.5h0M466 164h0M462.9 155.9h0" stroke="#ff0000" stroke-opacity="0.42" stroke-width="4.8" stroke-linecap="round" fill="none"/>
<path d="M468.6 155.7h0M461.8 136.8h0M461 158.8h0M466.7 187.8h0M472.7 156.2h0M470.3 123.5h0M474.2 166.5h0M470.5 133.6h0M463.8 136.8h0M462.1 158.3h0M462.4 149.8h0M463.5 155.5h0M473.9 139.2h0M472.1 155.2h0M465 150.7h0M472.1 168.5h0M461.6 162.5h0M470.4 167h0M470.2 158.7h0M461.9 164.7h0M469.7 140h0M462.7 163.3h0M468.2 151h0M464.3 158.6h0M468.1 173.1h0M463 153.9h0M463.5 155.7h0M461.8 144.9h0" stroke="#ff0000" stroke-opacity="0.42" stroke-width="4.8" stroke-linecap="round" fill="none"/>
<path d="M467.7 171.8h0M463 173.6h0M467.4 172.4h0M473.5 138.6h0M462.9 153.5h0M473.7 179.4h0M460.9 151.4h0M464.8 175.3h0M462.3 174.9h0M462.2 179.2h0M464.7 178.1h0M470.2 164.2h0M472.4 190h0M463.4 162.8h0M473 135.2h0M468.6 143.4h0M465.6 151.2h0M470.1 167.9h0M462.5 154.3h0M461.6 169.8h0M465.2 143.4h0M465.8 145.8h0M466.2 159.5h0M462 182.7h0M465.9 148.2h0M470.9 152.5h0M469.7 149.5h0M462.3 168.1h0" stroke="#ff0000" stroke-opacity="0.42" stroke-width="4.8" stroke-linecap="round" fill="none"/>
<path d="M467.5 127.5V149.4M467.5 164V185.9" stroke="#ff0000" stroke-width="1.5" fill="none"/>
<rect x="459.9" y="149.4" width="15.2" height="14.6" fill="#fff" fill-opacity="0.55" stroke="#ff0000" stroke-width="2.2"/>
<line x1="459.9" x2="475.1" y1="157" y2="157" stroke="#ff0000" stroke-width="2.6"/>
<path d="M489.8 135.2h0M490.2 136.7h0M489 119.6h0M492.4 139.5h0M488.7 162h0M483.4 118.9h0M484.8 117.4h0M495.4 130h0M485.9 211.5h0M496.2 148.2h0M491.7 143h0M486.2 156.9h0M495.9 121.8h0M487 135.7h0M495.5 212h0M483.3 138.5h0M493.2 140.9h0M491.1 138.4h0M494.5 139.6h0M488.1 188.9h0M483.4 134.8h0M495.2 139.8h0M488.4 171.2h0M492.8 143h0M493.5 93.8h0M490.8 119.8h0M489.6 140h0M490.2 152h0M488.3 162.9h0M484.8 128h0M495.8 138h0M489.6 163.3h0M494.2 142.7h0M484.8 138.7h0M488.7 154.7h0M484.7 119h0M492.2 150.9h0M488.7 133.2h0M492.5 151.9h0M484.4 122.2h0M492.4 149.4h0M485.4 135.6h0M491.5 124.7h0M488.4 117.9h0M485.4 126.7h0M487.6 138.1h0M486.1 154.4h0M483 163.8h0M484.2 165h0M492 131.8h0M495.7 156h0M487 130.3h0M486.7 162.5h0M496.2 150.6h0M487.8 84.3h0M484.6 162.6h0M487.4 141h0M492.8 122.2h0M484.5 164h0M488.8 163h0M487.2 120.2h0M485.4 172h0M483.8 173.6h0M488.2 161.1h0M484 110.2h0M488 176.6h0M494.8 129.7h0M496.4 162.4h0M488.9 154.6h0M483.5 151.1h0M484.4 149h0M488.3 119.2h0M488.9 82.6h0M486.6 157.7h0M483.6 153.4h0M485.5 119.4h0M485.1 164.8h0M493.4 175.5h0M488.4 138.3h0M490.8 135.1h0M490.2 149.6h0M484.3 147.9h0M483.4 152.3h0M488.3 164.7h0M485.9 139.4h0M493.8 142.5h0M495.6 148.1h0M487.8 150.1h0" stroke="#ff0000" stroke-opacity="0.42" stroke-width="4.8" stroke-linecap="round" fill="none"/>
<path d="M489.9 137.7h0M488 167.3h0M494.5 155.1h0M492.5 135.6h0M483 108.7h0M494.6 166.7h0M490.7 154.1h0M485.5 154.6h0M485.4 124.2h0M486.2 150.7h0M490.7 148.1h0M484.5 137.6h0M492.6 123.3h0M494.6 179.5h0M483.1 147.6h0M484 178.6h0M495.1 112.7h0M493.5 114.3h0M493 186.3h0M489.3 203.7h0M486 178.9h0M483.5 160.4h0M484.6 168.8h0M486.8 144.5h0M484.9 121.8h0M495.9 126.7h0M492.5 84.6h0M495.8 136.5h0M491.1 145.1h0M493 209.8h0M489.2 140.5h0M492 125.1h0M492.8 203.7h0M488.1 139h0M491 118.8h0M483.6 138.8h0M488.8 146.1h0M494.3 135.4h0M485.1 154.3h0M492.8 147.1h0M486.9 148.4h0M490.5 172.9h0M495.3 138.1h0M493 106.3h0M492.9 156.9h0M494.1 146.8h0M486.4 128.2h0M485.6 141.6h0M485.6 141.5h0M494.5 137.2h0M492.2 135.5h0M490.2 140h0M494.4 111.7h0M494.8 106.5h0M490.2 118h0M493.9 116.6h0M490 141.8h0M483.6 142.3h0M493.7 135.3h0M488.5 161.5h0M490.9 171.9h0M483.9 115.1h0M493.7 130h0M496 155.4h0M493.4 146.3h0M488.3 121.6h0M489.6 155.3h0M494.5 152.4h0M492.8 149.6h0M495.5 118.9h0M493.9 136h0M487 141.8h0M496.2 132.3h0M495.6 140h0M494.6 144.4h0M492.4 156.7h0M488.9 168h0M485.6 128.4h0M487.6 130.9h0M489.2 144.8h0M485.3 144.1h0M485.1 142.2h0M483.2 139h0M487.6 138.2h0M495.7 109.4h0M488.1 138.5h0M493 151.4h0" stroke="#ff0000" stroke-opacity="0.42" stroke-width="4.8" stroke-linecap="round" fill="none"/>
<path d="M488.1 118.8h0M495.7 151.6h0M489.1 170.2h0M492.3 125.3h0M491.5 113.3h0M495.4 147.9h0M493.7 157.7h0M488.9 107.6h0M494.4 130.3h0M484.3 168.3h0M489.8 158.9h0M483 112.7h0M494.7 144.2h0M485.5 208.1h0M483.6 149.9h0M489.3 140.2h0M485.8 118.5h0M484.4 158.7h0M487.4 141.9h0M494.1 135.9h0M488 140.8h0M487 168.4h0M487.1 131.4h0M490.8 134.6h0M488.6 151.6h0M484.5 171.6h0M490.8 149.1h0M493.4 133.5h0M483.3 121.3h0M482.9 166.1h0M493.7 170.1h0M487 113.9h0M485.7 130.6h0M489.2 108.2h0M490 149.9h0M490.6 149.6h0M495.4 157.9h0M495.9 139h0M489.9 155.1h0M492.4 147.5h0M492.9 163.1h0M486.9 143.9h0M486.6 132.5h0M492.1 122.7h0M486.9 124.8h0M495.1 156h0M483.1 125.1h0M491.6 167.6h0M489.3 150.9h0M491.9 163.5h0M486.2 143.4h0M494.4 156.1h0M484.4 117.6h0M492.3 148.9h0M490.4 150.5h0M484.7 135.8h0M496 110.6h0M491.8 139.3h0M494.6 93.8h0M495 161.5h0M486.4 91.6h0M484.1 125.3h0M493.2 115.8h0M490.5 83.5h0M488.1 141h0M487.6 137.4h0M488.9 135.6h0M496.3 139.5h0M494.7 137h0M492.2 148.2h0M490.3 188.7h0M488.5 147.3h0M490.4 132h0M484.7 125.1h0M493.7 138.4h0M488.3 114.6h0M486.1 105.1h0M496.2 208.7h0M488.8 106.1h0M487.2 138.6h0M492.3 152.1h0M484.5 156.2h0M486.7 107.3h0M492.5 110.8h0M492.6 137.2h0M483.1 163.9h0M486.4 106.8h0" stroke="#ff0000" stroke-opacity="0.42" stroke-width="4.8" stroke-linecap="round" fill="none"/>
<path d="M495.9 149h0M492.6 95.1h0M494.4 136.8h0M488.2 158.9h0M483.7 182.6h0M494.3 127.3h0M496.4 137.6h0M489.7 142.1h0M491.9 133.4h0M488.4 136h0M494.9 206.7h0M485.8 141.7h0M495.2 141.1h0M482.9 84.1h0M495.7 116.3h0M487.2 145.9h0M489.7 122.6h0M494.4 136.4h0M493.2 120.3h0M485.2 133.4h0M488 146.9h0M483.3 130.5h0M492 170.2h0M490.2 134.3h0M489.2 127.6h0M488.2 154.5h0M496.4 131.3h0M484 123.4h0M486.9 124.6h0M485.4 198.3h0M484.3 106.2h0M486.2 163.7h0M491 168.3h0M486.7 90.6h0M489.7 148h0M489.1 148.8h0M487.3 138.1h0M487 140.8h0M492.6 133.1h0M491.8 143.4h0M493.1 139h0M491.3 141.4h0M488.1 201.6h0M493.2 128.8h0M493 139.4h0M487.1 132.8h0M495.9 152.8h0M495 152.8h0M489.5 195.1h0M484.8 115.2h0M489.3 149.1h0M486.5 106.2h0M491.5 156.2h0M483.4 139.4h0M489.8 125.5h0M491.5 155h0M483.3 151.1h0M484.8 140h0M489.5 129.1h0M493.9 138.6h0M485.1 145h0M484 132.9h0M494 136.9h0M488.5 87.9h0M486.6 142.2h0M485.9 156.1h0M484.6 98.4h0M488.6 170.4h0M486.8 152.2h0M491.2 149.4h0M485.9 161.4h0M483.7 144h0M491 123.7h0M489.7 91.1h0M486.6 123.7h0M483.5 189.5h0M496 117.6h0M484.3 72h0M487.7 179.7h0M483.3 164.7h0M490.9 158.6h0M492 170h0M487.2 201.1h0M482.9 184.6h0M484.6 154.5h0M495.4 131.4h0M485.2 133h0" stroke="#ff0000" stroke-opacity="0.42" stroke-width="4.8" stroke-linecap="round" fill="none"/>
<path d="M490.4 144.8h0M487.8 137.4h0M485.1 151.7h0M486.5 143.1h0M490.1 106.6h0M484.9 121h0M488.9 161h0M490.7 136.3h0M488.1 207h0M490.2 139.1h0M490.5 98.8h0M489.4 112.7h0M483.9 121.7h0M484.7 155h0M492.2 141.6h0M491.6 168.8h0M488.3 117.7h0M485.5 125h0M485.8 152.2h0M491.7 159.9h0M494.7 151.9h0M493.9 153.5h0M496.3 176h0M492.7 141.7h0M485.9 91.4h0M485.9 185.1h0M490.2 142.5h0M494.4 177.4h0M484.7 175.5h0M494.9 171.9h0M493.9 129.6h0M487 142.9h0M491.9 136.5h0M484 129.2h0M492.5 157.8h0M483.8 178.5h0M493.2 163h0M486.9 135.3h0M490 122.1h0M495 170.3h0M487 142.5h0M491.8 137.3h0M487.7 130h0M492.8 154.6h0M491.4 159.7h0M492.6 80h0M491.5 152.4h0M488.5 90.7h0M490.2 142.4h0M485.4 156.5h0M490 129.7h0M493.5 126.5h0M487.2 205.5h0M486.4 146.2h0M492.8 129.1h0M487.9 153.6h0M489.2 144.1h0M495.4 121.3h0M483.3 132.2h0M489.8 134.2h0M484.6 151h0M492.2 140.9h0M486.1 156.9h0M493.6 147.2h0M487.9 130.3h0M483.2 161.8h0M485.2 183.8h0M493.1 152.4h0M489.5 102.8h0M495.8 158.1h0M489.7 175h0M488.5 131.3h0M495.5 143.5h0M495.8 146.7h0M491.8 170.1h0M492.1 145.3h0M492.7 140.3h0M483.7 187.8h0M493.3 118.8h0M490.9 161.8h0M489.5 181.9h0M488.1 120.3h0M490.6 94.7h0M485.9 184.8h0M493.6 195.6h0M494.2 119.5h0M491.9 155.9h0" stroke="#ff0000" stroke-opacity="0.42" stroke-width="4.8" stroke-linecap="round" fill="none"/>
<path d="M493.7 133.1h0M492.8 204.9h0M490.6 188.3h0M483.3 143h0M487.7 141.5h0M486 143.8h0M491.6 133.8h0M486.1 137.1h0M492.5 158h0M490.7 113.5h0M492.3 135.8h0M492.7 124.4h0M493.1 136.7h0M485.3 204.3h0M495.6 80.1h0M487.3 137.7h0M486.4 136.6h0M486.7 141.3h0M485.7 162.9h0M485.9 153.2h0M485 116.9h0M487.3 134.9h0M488.1 89.6h0M495.4 143.6h0M486 138.4h0M486.7 147.1h0M483.1 159.7h0M494 164h0M483.4 157.6h0M483 117.2h0M487.5 182.5h0M493.4 151.9h0M493.7 147.8h0M494.6 162.3h0M483.5 119.7h0M483.8 146h0M486.4 170.9h0M486 155.3h0M486.6 165.5h0M492.6 159.1h0M494.6 142.1h0M488.4 136.4h0M485 160.9h0M486.1 148.9h0M485.4 139.4h0M495.8 156.3h0M493.6 115.5h0M493 139.7h0M493.2 123.4h0M491.7 197.9h0M495.4 150h0M484 157.1h0M495.5 154.2h0M493.4 128.7h0M492.2 133.4h0M492.6 154h0M485.4 127.1h0M485.4 112.4h0M486.9 135.7h0M488.9 171.4h0M491.4 130.3h0M492.6 147.5h0M491.9 150h0M484.1 130.5h0M488.2 145.8h0M493.5 145.7h0M486.7 144.7h0M495 116.3h0M490.8 136.8h0M483.2 128.9h0M487.1 113.1h0M493.3 82.2h0M485.5 144.2h0M483.1 107.1h0M488.1 145.5h0M487 131h0M493.5 201.3h0M484 153.2h0M484 136.1h0M484.9 151.1h0M490.8 152.7h0M486.3 156.2h0M486.6 98.7h0M492.6 157h0M486.2 137.1h0M489.3 128.7h0M482.9 145.5h0" stroke="#ff0000" stroke-opacity="0.42" stroke-width="4.8" stroke-linecap="round" fill="none"/>
<path d="M489.7 93.2V128.5M489.7 152V187.2" stroke="#ff0000" stroke-width="1.5" fill="none"/>
<rect x="482.1" y="128.5" width="15.2" height="23.5" fill="#fff" fill-opacity="0.55" stroke="#ff0000" stroke-width="2.2"/>
<line x1="482.1" x2="497.3" y1="141" y2="141" stroke="#ff0000" stroke-width="2.6"/>
<path d="M508.6 125.9h0M505.3 118.5h0M515.6 143.8h0M507.1 154.5h0M509.7 132.3h0M507.9 130.5h0M516.7 142h0M512.1 126.7h0" stroke="#0000ff" stroke-opacity="0.42" stroke-width="4.8" stroke-linecap="round" fill="none"/>
<path d="M510.8 149.9h0M517.5 152.1h0M509.5 122.9h0M512.8 141.3h0M509.6 107.1h0M505.9 141.8h0M507.7 114.8h0M510.5 170h0" stroke="#0000ff" stroke-opacity="0.42" stroke-width="4.8" stroke-linecap="round" fill="none"/>
<path d="M511.2 117.1h0M515.8 148.4h0M505.5 105.4h0M513.2 134h0M516.1 119.8h0M517.6 152.9h0M516.3 110h0M514 121.3h0" stroke="#0000ff" stroke-opacity="0.42" stroke-width="4.8" stroke-linecap="round" fill="none"/>
<path d="M515.8 129.2h0M505 124.9h0M517.8 142h0M514.5 143.8h0M515 96.7h0M509.8 105h0M518.2 145.4h0M515.4 101.9h0" stroke="#0000ff" stroke-opacity="0.42" stroke-width="4.8" stroke-linecap="round" fill="none"/>
<path d="M509.4 178h0M505.6 135.9h0M508.2 108.2h0M515.9 98.8h0M516.5 114.5h0M517.2 130.4h0M514.1 106h0M509.4 121.3h0" stroke="#0000ff" stroke-opacity="0.42" stroke-width="4.8" stroke-linecap="round" fill="none"/>
<path d="M507.5 93h0M513.5 119h0M514.7 106.6h0M507.3 97.6h0M508.3 134.4h0M512.7 141h0M518.4 137.9h0" stroke="#0000ff" stroke-opacity="0.42" stroke-width="4.8" stroke-linecap="round" fill="none"/>
<path d="M511.8 93V116.6M511.8 140V170" stroke="#0000ff" stroke-width="1.5" fill="none"/>
<rect x="504.2" y="116.6" width="15.2" height="23.4" fill="#fff" fill-opacity="0.55" stroke="#0000ff" stroke-width="2.2"/>
<line x1="504.2" x2="519.4" y1="126.5" y2="126.5" stroke="#0000ff" stroke-width="2.6"/>
<path d="M528.3 155.1h0M530.7 147.3h0M533.9 132.4h0M532.7 133.7h0M538.5 182.4h0M528.8 136h0M534.5 106.7h0M530.2 127.4h0M529.8 106.7h0M537.9 136.3h0M528.2 147.2h0M535.1 184.9h0M532.3 124.9h0M531.8 117.2h0M527.1 162.1h0M532.1 115.8h0M530.4 107.4h0" stroke="#ff0000" stroke-opacity="0.42" stroke-width="4.8" stroke-linecap="round" fill="none"/>
<path d="M534.1 142.4h0M539.4 161.9h0M534.7 101.1h0M539.5 154.7h0M534 137.5h0M539.5 158.1h0M531.7 155.7h0M535.7 126.4h0M532 153.3h0M534.3 108.6h0M532.7 116.3h0M532.2 113.2h0M531 138.3h0M539.5 117.3h0M540.4 169.1h0M537.1 102.2h0M530.5 116.7h0" stroke="#ff0000" stroke-opacity="0.42" stroke-width="4.8" stroke-linecap="round" fill="none"/>
<path d="M537.9 120.6h0M535 119.1h0M527.1 149.1h0M528.9 140.4h0M533.9 154.3h0M535.7 142.6h0M531.7 166.6h0M534.5 151.3h0M533.6 148.3h0M533.6 96h0M536.9 119.4h0M531.5 117.5h0M533.1 133.6h0M530.8 170.3h0M538.6 107.7h0M531.5 123.6h0M527.3 104h0" stroke="#ff0000" stroke-opacity="0.42" stroke-width="4.8" stroke-linecap="round" fill="none"/>
<path d="M529.8 139.7h0M530.1 132.5h0M539.7 128.9h0M530 164.1h0M530.4 120.2h0M538.7 129.9h0M536.7 131.5h0M531.2 165.9h0M537.8 158.7h0M534.9 105.7h0M535.9 138.9h0M532.6 129.8h0M530.8 100.3h0M527.5 183.1h0M537.8 148.3h0M536.4 174.2h0M536.8 202h0" stroke="#ff0000" stroke-opacity="0.42" stroke-width="4.8" stroke-linecap="round" fill="none"/>
<path d="M529.5 136.3h0M534.4 137.8h0M538.3 128.9h0M535.1 112.8h0M529.8 190h0M532.7 112.7h0M527.1 115.6h0M540 117.8h0M532.8 151.7h0M527.1 126.5h0M540.1 126.3h0M533.9 169.3h0M530.8 119.7h0M535.5 146.5h0M536.8 90h0M531.6 99.6h0" stroke="#ff0000" stroke-opacity="0.42" stroke-width="4.8" stroke-linecap="round" fill="none"/>
<path d="M527.8 174h0M534.6 112.8h0M539.1 132.1h0M527.5 105.9h0M532.7 164.8h0M528.4 137.6h0M535 161h0M533.4 121.1h0M527.6 136.6h0M534.6 145.2h0M535.5 92.7h0M532.9 151.4h0M527.8 145.6h0M530.7 112.2h0M534.7 105.8h0M530.9 129.8h0" stroke="#ff0000" stroke-opacity="0.42" stroke-width="4.8" stroke-linecap="round" fill="none"/>
<path d="M533.9 90V118.6M533.9 147.7V190" stroke="#ff0000" stroke-width="1.5" fill="none"/>
<rect x="526.3" y="118.6" width="15.2" height="29.1" fill="#fff" fill-opacity="0.55" stroke="#ff0000" stroke-width="2.2"/>
<line x1="526.3" x2="541.5" y1="133.4" y2="133.4" stroke="#ff0000" stroke-width="2.6"/>
<path d="M549.5 118.4h0M560.6 198.4h0M555.6 160.5h0M561 211.9h0M551.5 134.4h0M561.6 150.2h0M559.7 172.7h0M553.7 146h0M559 134h0M557.4 179.5h0M551.8 132.1h0M558.3 135.8h0M560.4 154h0M557.5 156.2h0M556.6 144.9h0M558.1 105.7h0M551.3 138.9h0M550.3 105.7h0M554.3 131.7h0M551.2 157.9h0M562.6 133.6h0M559.4 206.2h0M549.5 170.4h0M550.6 159.3h0M555.2 166.9h0M561.5 140.4h0M554.6 125.2h0M561.8 185.7h0M549.9 147.4h0M554.9 152.2h0M553.8 145.3h0M560.2 168.2h0M560 141.6h0M556.4 155.9h0M549.9 141.7h0M557.2 130.6h0M551.7 113.7h0M551.7 169.8h0M555.8 159.6h0M562.3 128h0M556.7 122.2h0M554.5 153.3h0M553.4 126.8h0M554.9 138.8h0M551.9 154.1h0M550.1 143.4h0M556.7 180h0M556.3 132.2h0M560.3 149h0M557.3 158.7h0M558.4 142.9h0M557.3 154h0M558 149.7h0M557.1 163.1h0M559.7 143.6h0M559.2 148.6h0M555 171.8h0M561.9 135.5h0M556.4 118.1h0M553.8 121.1h0M562.5 159.6h0M554.6 118.6h0M549.6 125h0M560.4 155.6h0M551.1 159.2h0M562.2 193.3h0M553.5 161.5h0M552.3 146.2h0M555.1 130.4h0M555.2 103.4h0M560 204.7h0" stroke="#ff0000" stroke-opacity="0.42" stroke-width="4.8" stroke-linecap="round" fill="none"/>
<path d="M549.4 127.3h0M555.3 160.6h0M555.9 159.7h0M551.8 165.1h0M555.6 139h0M552.6 122.1h0M561.2 144h0M552.9 147.2h0M562.7 117.4h0M561.7 118.2h0M556.5 159.9h0M557.5 163.5h0M552.4 143.7h0M551.4 140.2h0M554.3 165.1h0M556.2 112.4h0M561.8 120.5h0M550.4 139.2h0M555.6 159.2h0M551.7 151.8h0M554 156.7h0M556.7 151.9h0M555.5 152.1h0M549.4 118.8h0M551.6 157.9h0M552.1 149.9h0M554.6 147.4h0M558.8 102.9h0M557.9 154.6h0M554.9 153.2h0M560.1 159.1h0M559.6 145.6h0M561 149.5h0M558.5 153h0M559.5 198.3h0M553.6 123.5h0M560 176.2h0M559.3 130.4h0M562.5 148.8h0M559.1 132.2h0M550.4 169.8h0M549.3 110.9h0M551.1 150.5h0M550.5 142.9h0M553.6 140.3h0M557.5 139.5h0M550.9 119.9h0M551.8 122.6h0M555.8 145h0M556.7 150.7h0M554.4 136h0M560.8 167.5h0M560.3 117.8h0M562.6 114.2h0M551.4 131.2h0M549.7 144.2h0M555.9 123.5h0M552 157.9h0M551.3 127.4h0M558.6 109.8h0M561.4 166.2h0M556.5 162.3h0M549.2 143.9h0M549.9 111.4h0M553.8 151.4h0M554.8 160h0M552.7 174.4h0M552.1 141.2h0M552.5 169.7h0M559.7 210.8h0M558.6 117.9h0" stroke="#ff0000" stroke-opacity="0.42" stroke-width="4.8" stroke-linecap="round" fill="none"/>
<path d="M560.4 128.5h0M549.8 175.7h0M552.1 176.6h0M558 147.9h0M562.3 151.8h0M557.2 134.5h0M558.8 161.7h0M553.5 153.2h0M555.5 159.4h0M549.3 144.8h0M555.4 126.8h0M561.7 199.6h0M550.5 207.1h0M553.9 141.5h0M553.6 175.3h0M550.4 107.5h0M553.9 108h0M559.4 158.7h0M556.4 124.5h0M561.8 158.5h0M554.1 129.6h0M549.6 174.4h0M549.6 122.9h0M558.6 114.1h0M549.4 154h0M556.8 212h0M556.2 136.8h0M558.6 133.4h0M558.9 146.7h0M556.6 166.5h0M560.2 140.7h0M558.4 111.8h0M549.3 160.7h0M558.7 123.9h0M553.2 203h0M560.9 106.5h0M552.6 142.5h0M560.8 116.4h0M555.4 106.2h0M549.5 165.6h0M551.2 147.9h0M557.2 135.5h0M550.9 137.5h0M561.4 143.1h0M559.4 158.7h0M553.2 127h0M558.2 119.3h0M556.8 126.7h0M561.2 134.4h0M553.2 125.1h0M553.5 195.9h0M557.2 161.5h0M554.2 162.7h0M550.8 185.8h0M554.6 193.9h0M558.3 152.9h0M555.6 111.4h0M559.8 155.8h0M552.8 113.7h0M559.8 143.6h0M561 142.4h0M552.6 211h0M561.5 139.6h0M554.2 136.6h0M556.7 158.5h0M550.1 119.5h0M556.7 101h0M559.4 131h0M555.7 175.5h0M551.1 145.1h0M549.9 157.1h0" stroke="#ff0000" stroke-opacity="0.42" stroke-width="4.8" stroke-linecap="round" fill="none"/>
<path d="M558.6 119.1h0M558.4 125.3h0M559.7 118h0M552.3 141.4h0M557.8 135.9h0M557.1 164.7h0M554.4 137.1h0M557.6 184.7h0M558.5 134.1h0M551.4 167.8h0M556.4 148.6h0M556.2 166.7h0M560.2 180.6h0M549.6 148h0M559.3 203.4h0M556.1 114.6h0M550 133.8h0M552.5 158h0M557.5 148.2h0M556.6 130.5h0M551.8 125h0M553.3 171.9h0M555.3 159.3h0M553.2 123.5h0M560.1 149.2h0M558.8 200.5h0M558.2 156.5h0M559.3 122.4h0M552.5 209.3h0M556.9 124.3h0M559.8 116.8h0M555.1 205.3h0M552 132.7h0M556.2 133.8h0M561.5 144.8h0M561.2 159.9h0M561.6 157.7h0M559.5 150.6h0M555.5 140h0M561.1 132.1h0M562.4 129.7h0M552.4 136.3h0M554.6 165h0M560.8 180.9h0M554.1 143.4h0M562.2 132.6h0M561.2 167.8h0M562.5 150.9h0M561.2 140.4h0M560.6 158.6h0M552.6 161.4h0M557.8 134h0M553.1 167.7h0M553.7 158.7h0M555.6 149.8h0M549.8 176.7h0M551.3 168.9h0M560.9 145.3h0M557.8 151.9h0M552.5 141.8h0M562 156h0M561.2 172.4h0M552.7 149.1h0M561.7 132.3h0M556.2 173.4h0M562 139.4h0M556.2 114.5h0M559.5 131.5h0M549.7 193.4h0M553.2 117.8h0M557.6 121.7h0" stroke="#ff0000" stroke-opacity="0.42" stroke-width="4.8" stroke-linecap="round" fill="none"/>
<path d="M561.6 102.1h0M556.8 175.4h0M557.2 140.3h0M554.8 123h0M556 147.6h0M561.3 138.1h0M554.8 188.2h0M550.3 160.2h0M551.1 127.3h0M556.5 174.9h0M555.3 175.7h0M560.2 150.6h0M562.3 210.2h0M550.1 157.1h0M554.6 126.4h0M559.1 157.2h0M557.7 123.9h0M557.8 178.6h0M555.8 151.2h0M561.5 117.7h0M552.6 156.3h0M552.3 137.3h0M552.7 154h0M553.9 113.9h0M550.8 141.9h0M558.5 144.2h0M560.7 139.1h0M554.1 138.2h0M558.1 135.2h0M552.4 137.7h0M559 139.2h0M561.9 171.8h0M560.2 134.5h0M551.7 144.4h0M553.5 143.2h0M558.8 130h0M560.6 186.3h0M560 159.2h0M555.3 150.5h0M555.8 146.1h0M550.6 122.3h0M553.5 166.1h0M550.6 125.2h0M558.7 123.7h0M561.5 152.5h0M557.2 162.8h0M558.2 137.5h0M552.2 144h0M561.2 184.6h0M562.3 162.1h0M558.1 142.7h0M553.9 121.9h0M551.4 72h0M553.1 147.3h0M561.9 149.5h0M551.5 119.4h0M560.5 143.1h0M551.2 119.6h0M559.4 129h0M556 131.8h0M553.1 136h0M551.5 139h0M558.2 133.1h0M559.1 137.1h0M561.5 201.3h0M553 101.9h0M558.4 126.4h0M558.5 134.4h0M559.3 132h0M550.1 141.7h0" stroke="#ff0000" stroke-opacity="0.42" stroke-width="4.8" stroke-linecap="round" fill="none"/>
<path d="M559.3 121.3h0M559.2 172.7h0M552.1 198.6h0M554.3 211.3h0M562.1 111.1h0M556.6 171.8h0M561.7 153.8h0M556.3 149.7h0M557.9 177.1h0M554.1 148.7h0M556.1 141.1h0M561.7 131.4h0M561.2 140.9h0M552.9 166.1h0M552.6 145.9h0M554.1 130h0M551.8 150.4h0M553.1 153.4h0M561.8 164.2h0M554 208.1h0M549.5 144.8h0M561.2 142.1h0M550 173.7h0M554.8 144.4h0M556.7 165.6h0M562.5 129.4h0M556.1 134.2h0M552.8 200.3h0M556.8 188.1h0M562.7 138.8h0M558.7 186.1h0M551.8 125.1h0M559.1 113.5h0M561.8 143h0M561.4 158.3h0M553.1 145.9h0M556.9 166h0M549.6 198.7h0M558.2 151.1h0M551.6 132.5h0M561.3 157.9h0M549.6 133.2h0M562.6 136.8h0M562.5 135.3h0M550.3 160.3h0M553.6 121.6h0M559.4 136.3h0M556.1 141.3h0M561.2 147.9h0M562.7 145.8h0M555.9 163.6h0M555.2 105.7h0M559.1 137.7h0M553.6 146.5h0M553.7 150.7h0M550.3 130.4h0M552.4 129.6h0M560.8 125.5h0M557.3 160.7h0M553 156.4h0M553.3 141.9h0M558.6 120.3h0M560.5 171.6h0M558.9 123h0M558.6 165.4h0M557 141.2h0M549.4 120.5h0M554.6 150.2h0M562.3 160.6h0M551.4 129h0" stroke="#ff0000" stroke-opacity="0.42" stroke-width="4.8" stroke-linecap="round" fill="none"/>
<path d="M556 101V131M556 153V186" stroke="#ff0000" stroke-width="1.5" fill="none"/>
<rect x="548.4" y="131" width="15.2" height="22" fill="#fff" fill-opacity="0.55" stroke="#ff0000" stroke-width="2.2"/>
<line x1="548.4" x2="563.6" y1="142" y2="142" stroke="#ff0000" stroke-width="2.6"/>
<path d="M579.8 130.3h0M577.2 133.3h0M572.1 164.3h0M584.6 128.7h0M573.4 124.4h0M572.6 167.2h0M582.2 121.7h0M582.8 157.1h0M581.4 135.4h0M574.7 134h0M574.1 152.4h0M575.1 145.9h0" stroke="#ff0000" stroke-opacity="0.42" stroke-width="4.8" stroke-linecap="round" fill="none"/>
<path d="M576.1 141.9h0M583.7 121.6h0M572.3 157.7h0M578.4 137.5h0M576.7 145.7h0M572.4 144.4h0M575.4 130.3h0M579.4 138.6h0M582.6 158.4h0M576.6 113.5h0M576.2 140.6h0M577.8 119.2h0" stroke="#ff0000" stroke-opacity="0.42" stroke-width="4.8" stroke-linecap="round" fill="none"/>
<path d="M574.9 123.2h0M577.7 117h0M574.9 142.7h0M583.8 112h0M582.3 145h0M578.8 143.3h0M579.2 154.7h0M581.1 132.3h0M580.6 165.1h0M572.3 142.4h0M574.9 133.3h0" stroke="#ff0000" stroke-opacity="0.42" stroke-width="4.8" stroke-linecap="round" fill="none"/>
<path d="M583.4 148.5h0M582.7 120.3h0M576.9 164.9h0M578.4 158.7h0M575.1 123.4h0M580.2 136.6h0M575.1 156.2h0M584 171.8h0M579.6 157.4h0M575.3 145.2h0M576.2 144.4h0" stroke="#ff0000" stroke-opacity="0.42" stroke-width="4.8" stroke-linecap="round" fill="none"/>
<path d="M575.9 119.1h0M573.3 115.2h0M584.5 166.4h0M581.5 138.3h0M584.6 143.9h0M583.3 131h0M584.9 156.1h0M574.2 130.6h0M579.2 149.7h0M584.1 139.6h0M574.9 181.5h0" stroke="#ff0000" stroke-opacity="0.42" stroke-width="4.8" stroke-linecap="round" fill="none"/>
<path d="M573.5 139h0M582.9 159.5h0M580.8 141.3h0M579.6 140.2h0M573.1 149.9h0M584 144h0M575.8 148.9h0M575.2 128.3h0M583.3 151.2h0M575.5 161.8h0M579.7 125.3h0" stroke="#ff0000" stroke-opacity="0.42" stroke-width="4.8" stroke-linecap="round" fill="none"/>
<path d="M578.1 112V134.6M578.1 155V181.5" stroke="#ff0000" stroke-width="1.5" fill="none"/>
<rect x="570.5" y="134.6" width="15.2" height="20.4" fill="#fff" fill-opacity="0.55" stroke="#ff0000" stroke-width="2.2"/>
<line x1="570.5" x2="585.7" y1="142" y2="142" stroke="#ff0000" stroke-width="2.6"/>
<path d="M600.8 151.9h0M601 156.1h0M598.4 152.9h0M595.7 165.7h0M596.7 149.2h0" stroke="#0000ff" stroke-opacity="0.42" stroke-width="4.8" stroke-linecap="round" fill="none"/>
<path d="M604.6 154.7h0M605.9 155.6h0M600.2 147.5h0M596.1 149.2h0M600.8 153.2h0" stroke="#0000ff" stroke-opacity="0.42" stroke-width="4.8" stroke-linecap="round" fill="none"/>
<path d="M603.6 162.4h0M595.9 151.9h0M596.9 169h0M602.1 150.2h0M599.6 153.3h0" stroke="#0000ff" stroke-opacity="0.42" stroke-width="4.8" stroke-linecap="round" fill="none"/>
<path d="M605.5 156h0M606 150h0M596.9 151.9h0M594.6 150.7h0" stroke="#0000ff" stroke-opacity="0.42" stroke-width="4.8" stroke-linecap="round" fill="none"/>
<path d="M600 161.5h0M603 137.2h0M600.5 159.7h0M601.7 160.3h0" stroke="#0000ff" stroke-opacity="0.42" stroke-width="4.8" stroke-linecap="round" fill="none"/>
<path d="M594.1 165.5h0M595.8 164.7h0M595.6 136h0M606.3 157.2h0" stroke="#0000ff" stroke-opacity="0.42" stroke-width="4.8" stroke-linecap="round" fill="none"/>
<path d="M600.2 141.5V152.6M600.2 160V169" stroke="#0000ff" stroke-width="1.5" fill="none"/>
<rect x="592.6" y="152.6" width="15.2" height="7.4" fill="#fff" fill-opacity="0.55" stroke="#0000ff" stroke-width="2.2"/>
<line x1="592.6" x2="607.8" y1="156" y2="156" stroke="#0000ff" stroke-width="2.6"/>
<path d="M624.5 152.2h0M616.2 145.3h0M618.1 134h0M629.1 139.6h0M623 156.7h0M628.4 143.7h0M622.1 166.3h0M623 142.8h0M626.5 130.5h0M625.1 148.1h0M618 179.5h0M621.6 147.7h0M624.5 168h0M616.1 158.9h0M617.6 141.6h0M626.1 142.3h0M622.5 145.3h0M616.3 135.5h0M621.8 171h0M616 130.2h0M619.4 132.9h0M622.5 135.6h0M616.2 146.2h0M625.9 139.8h0M624.4 177.8h0M624.4 199.1h0M617.3 143.2h0M622.8 165h0M622.7 126.1h0M618.8 143h0M620.1 127h0M625.6 140.3h0M628.2 137.2h0M618 147.6h0M620.7 147.8h0M619.4 157.5h0M616.8 144.5h0M616 143.1h0M619.8 135.1h0M627.5 149.2h0M621.2 150.1h0M627.8 161.5h0M620.7 144.7h0M627 138.4h0M615.8 146.7h0M623.6 139h0M620.2 196h0M627.4 138.4h0M620.3 155h0M618.8 127.4h0M626.9 133.3h0M616.5 113.1h0M619.1 154.9h0M619.9 143.6h0M618.4 149.1h0M621.9 122.5h0M615.8 116.4h0M623.6 154.7h0M627.2 175.7h0M618.9 121.9h0M622.9 165.6h0M627.6 126.7h0M627 152.7h0M628.3 160.6h0M617.9 177.6h0M627.3 133.2h0M618.3 174.9h0M616.6 161.4h0M620.2 155.3h0M621.6 142.5h0M627.8 161.2h0M615.5 152.3h0M627.5 147.9h0M620.6 164.4h0M619.8 146.9h0M628.2 140.3h0M623.2 116.4h0M627.9 110.3h0M618.5 179.8h0M628.9 121.7h0M625 160.8h0M618.1 150.7h0M618.8 133.1h0M628.5 153.8h0M623.1 146h0M627.5 147h0M620.4 149.9h0M619.2 160.5h0M629 141h0M620.2 159.9h0" stroke="#ff0000" stroke-opacity="0.42" stroke-width="4.8" stroke-linecap="round" fill="none"/>
<path d="M617.3 119.8h0M621.1 132.4h0M622.3 133.9h0M618.4 114h0M626.7 150.6h0M626.2 151.4h0M625 195.2h0M628.1 136.4h0M628.8 149.1h0M626.4 143.5h0M618 154.1h0M627.7 134.2h0M621.6 137h0M619.6 148.4h0M626.5 156.6h0M617.8 153.6h0M621.6 145.1h0M623.8 131.7h0M623.7 179h0M621.7 179.1h0M621.5 140.5h0M625.3 142.4h0M621.4 160.2h0M623.4 162h0M621.5 126.5h0M626.1 143.1h0M625.7 109h0M619.3 149.2h0M616.1 152.5h0M627.3 190.4h0M624.6 147.2h0M617.1 145.9h0M622.3 149.5h0M616.1 145h0M623.5 145.4h0M626.7 138h0M627.2 145.4h0M617.3 178.3h0M622.7 200h0M624.5 123.6h0M626 120.2h0M620.4 127h0M618.1 152.7h0M622.7 156.4h0M624.2 122.5h0M620.6 126.2h0M619.4 143.6h0M617.5 152.4h0M616.7 160.9h0M622 111.3h0M618.9 146.3h0M626.8 136.3h0M626.9 159h0M627.4 146.3h0M617.4 145.6h0M625.3 160.4h0M623.9 163.3h0M618.6 161.3h0M616.3 154.1h0M620.2 139.5h0M625.8 124.2h0M628.8 122.3h0M617.6 118h0M617.2 154.2h0M619.1 184.6h0M615.7 137.6h0M617.6 150.1h0M626.1 160.4h0M624.7 158.6h0M627.9 136.2h0M621.5 113h0M626 161.4h0M621.6 181.5h0M617.7 138h0M627.7 125.6h0M617 153.3h0M618.4 122.6h0M625.5 152.9h0M618.7 156h0M616.1 132.3h0M623.1 171.7h0M621.4 174.5h0M626.1 145.4h0M626.3 155.1h0M625.5 150.9h0M616.9 149.7h0M622.5 147.8h0M628.6 126.7h0M627.2 141h0M616.9 184.9h0" stroke="#ff0000" stroke-opacity="0.42" stroke-width="4.8" stroke-linecap="round" fill="none"/>
<path d="M624.3 140.7h0M626.4 165.4h0M618.2 124.6h0M616.8 136.9h0M628.4 122.9h0M617.2 133.4h0M621.9 132.1h0M616.5 135.7h0M626.7 142.1h0M622.8 146h0M622.9 142.2h0M627.4 126h0M620.2 171.4h0M621.9 152.6h0M627.6 150.1h0M625.8 153.1h0M628 163.8h0M618.7 164.7h0M619.4 169h0M628.8 197.3h0M616.1 147.9h0M627.5 139.2h0M616.1 155.9h0M620.7 161.9h0M624.3 130.5h0M623.3 148h0M620 186.7h0M619.4 122.6h0M617.7 188.5h0M622.3 192.7h0M626.9 141.7h0M624.4 159.7h0M622.3 193.6h0M616 159.8h0M621.1 140.3h0M620.5 160.9h0M622.1 160.6h0M618.9 142.1h0M625 142.7h0M617.4 141.3h0M623.6 164.6h0M620.8 171.2h0M618.6 157.9h0M622.2 131.1h0M626.6 153.3h0M616.8 134.2h0M623.6 121.8h0M617.2 147.1h0M626.6 164.6h0M618.6 174.6h0M618.5 150.5h0M627.1 146.7h0M625.7 130.4h0M624.5 160.8h0M628.8 144.3h0M619 152.1h0M627.4 146.6h0M620.9 191.3h0M619 134h0M625.2 137.6h0M616.2 140.4h0M624.4 165.1h0M622.9 140.3h0M616.7 137.1h0M621 142.2h0M620.9 170.7h0M621.9 137.7h0M616.6 139.9h0M622.6 128.5h0M628.9 137.8h0M627.5 143.3h0M627.6 145.8h0M617.2 139.9h0M615.5 149.7h0M628.7 133.5h0M624.4 166.7h0M626.3 142.4h0M622.4 169.2h0M619.2 139.3h0M627.1 111.3h0M626.9 176.2h0M628.6 146.6h0M622.5 141.5h0M625.1 136h0M615.5 154.8h0M623 111.5h0M621.1 139.5h0M615.6 145.2h0M621 158.5h0M626.8 255h0" stroke="#ff0000" stroke-opacity="0.42" stroke-width="4.8" stroke-linecap="round" fill="none"/>
<path d="M616.2 149.8h0M623.3 138.6h0M620.5 150.7h0M624.8 189.5h0M627.7 132h0M628.1 171h0M624.4 190h0M616.6 198.5h0M617.3 139.9h0M621.5 145.6h0M616.9 119.9h0M624.5 152.2h0M628.9 112.7h0M624.1 197.6h0M622.1 151.2h0M626.3 173.3h0M624.4 117.1h0M626 151.3h0M619.1 132.1h0M626.9 134h0M622.3 136.5h0M618 163.9h0M625.3 153.2h0M617.7 185.9h0M623.5 194.9h0M627 165.1h0M619.8 143.4h0M615.8 134.1h0M616.9 165.2h0M627.2 141.7h0M623 169.2h0M629 162.8h0M617.7 147.5h0M628.3 157.5h0M624.4 118.2h0M617.8 126.3h0M621.8 162.1h0M622.1 158.3h0M619 145.5h0M620.9 150.8h0M622.5 125.6h0M622.5 116.6h0M617.6 160.7h0M623.1 114.2h0M622.8 190.6h0M625.2 153.4h0M627.7 139.3h0M623.7 123.8h0M625.3 168.3h0M625.4 145.8h0M617.7 150.4h0M629 128h0M624.8 163.5h0M617 154.4h0M623.4 134.6h0M628.3 140.1h0M621.6 117.8h0M622.1 129.1h0M615.6 156.5h0M627.8 122.8h0M622.2 155.8h0M616.5 180.7h0M625 157.5h0M618.9 123.3h0M621.2 149.9h0M628.6 155h0M624.3 145.3h0M624.2 147.1h0M628.1 169.3h0M619.3 141.3h0M627.9 143.2h0M629 148.1h0M626.2 136.6h0M625.8 154.1h0M625.5 129.8h0M617.7 138.7h0M620.6 180.4h0M625.3 175.5h0M627.4 151.5h0M623.6 172.6h0M615.9 150.7h0M627.1 139.8h0M626 139.8h0M625.3 155.2h0M627.4 143.7h0M623.6 165.2h0M627.7 207h0M619.3 160.8h0M616.3 156.1h0" stroke="#ff0000" stroke-opacity="0.42" stroke-width="4.8" stroke-linecap="round" fill="none"/>
<path d="M625.3 137.7h0M621.7 147.9h0M629.1 160.5h0M616.9 139.1h0M624.2 139.6h0M627.5 159.3h0M628.7 149.9h0M628.9 180.7h0M617.5 152.1h0M619 151.2h0M624 128.2h0M624.3 143.7h0M628.4 184.5h0M625.7 151.2h0M619.7 110.2h0M624 160.5h0M625 165.1h0M623.6 128.1h0M627.9 162.3h0M622.5 148.3h0M625.4 185.1h0M621.5 152.8h0M617.2 136.1h0M622.8 142.2h0M628.8 169.2h0M626 158.7h0M624.3 149.8h0M627.2 146.5h0M622.8 131.7h0M621 170.5h0M621.1 147.5h0M615.9 142.9h0M620.5 148.3h0M619.7 158.4h0M628.1 154.5h0M618.1 112.5h0M623.1 122.5h0M625 130h0M623.8 122.5h0M627.5 140.1h0M621.5 124.8h0M622 196.7h0M624.4 132.2h0M620.6 173.1h0M628.1 191.7h0M621.8 172h0M626.1 143.9h0M618.1 152.2h0M619.8 132.3h0M625.7 110.6h0M621.7 166.5h0M625.7 169.2h0M623.6 127.1h0M623.7 119.8h0M621.8 136.6h0M626.7 162.1h0M625.1 171.5h0M615.8 161.1h0M620.9 146h0M616.6 145.7h0M621.2 137h0M618.1 149.5h0M623.9 144.1h0M622.2 146h0M625.6 144.6h0M619.9 126.8h0M627.6 160.2h0M626 150.2h0M626.2 161.8h0M618.4 167.5h0M622.8 140.6h0M625.2 122.8h0M626.9 117.7h0M620.7 159.3h0M623.5 152.3h0M620.6 143.9h0M625.2 121.9h0M619.5 143.8h0M619.7 122.2h0M626.9 150.6h0M627.6 119.7h0M628.4 136.1h0M621.9 148.5h0M615.6 187h0M628.8 156.2h0M626.9 146.4h0M622.6 119.6h0M627.5 141.5h0M625.9 151.8h0" stroke="#ff0000" stroke-opacity="0.42" stroke-width="4.8" stroke-linecap="round" fill="none"/>
<path d="M621.8 139.7h0M627.6 143.7h0M628 130.9h0M616.4 140.9h0M627.5 171.2h0M622.8 138h0M627.6 150.9h0M616.2 125.4h0M626 134.7h0M619.3 131.6h0M622 152.1h0M617.9 117.2h0M624.9 193.1h0M623 142.3h0M617.6 147.2h0M618.6 142.4h0M625 113.3h0M624.3 137.7h0M624 149.3h0M617.6 122h0M626.2 126.9h0M624.4 137.8h0M627.9 165h0M623.7 149.8h0M623 149.7h0M617.3 134.9h0M619.5 169.2h0M624.5 136.8h0M621.1 150.4h0M627.3 168.4h0M623 134.3h0M624.9 185.9h0M627 149h0M618.8 147h0M629.1 128.7h0M624.1 134.4h0M626.3 150.7h0M623.4 144.4h0M627.2 140.5h0M623.3 149.3h0M620.8 147.5h0M622 147.4h0M622.3 134.4h0M625.9 115.4h0M629 169h0M626.5 149.4h0M617.1 182.7h0M624.1 118.9h0M620.5 119.1h0M624.9 114.5h0M626.4 162.5h0M623 123.5h0M620.3 129.3h0M620.8 131.8h0M627.7 137.1h0M616.7 143h0M628.3 141.5h0M628 150.1h0M621 180.5h0M619.5 168.4h0M626.3 142.1h0M618 179.1h0M622.4 149.1h0M623.5 150.7h0M619.6 133h0M625.4 176h0M628.7 144.8h0M616.5 150.4h0M628.4 134.8h0M628.9 161.8h0M616.3 143.5h0M628.4 156.2h0M623.7 119.3h0M623.7 129.5h0M618.8 147.6h0M628.9 171.7h0M620.5 156h0M616.1 163.9h0M627.5 174.4h0M620.6 160.3h0M620.8 154h0M627.8 116.6h0M619.5 160.4h0M627.9 192.3h0M618.2 159.5h0M625.2 145.7h0M621.3 146.1h0M628 165.1h0M627.4 157.6h0" stroke="#ff0000" stroke-opacity="0.42" stroke-width="4.8" stroke-linecap="round" fill="none"/>
<path d="M622.3 109.1V137M622.3 155.6V183.5" stroke="#ff0000" stroke-width="1.5" fill="none"/>
<rect x="614.7" y="137" width="15.2" height="18.6" fill="#fff" fill-opacity="0.55" stroke="#ff0000" stroke-width="2.2"/>
<line x1="614.7" x2="629.9" y1="147" y2="147" stroke="#ff0000" stroke-width="2.6"/>
<path d="M651.1 150.6h0M641.7 143.7h0M640.2 170h0M651.1 154.6h0M642.4 139.9h0M642.6 155.9h0M640.9 155.8h0M643.9 147.2h0M646.1 154.7h0M645.9 146.3h0M643 147.9h0M639.1 169.5h0M649.9 126h0" stroke="#0000ff" stroke-opacity="0.42" stroke-width="4.8" stroke-linecap="round" fill="none"/>
<path d="M648.3 150.4h0M645.4 134.5h0M647.6 160.8h0M645.6 152.6h0M638.1 165.3h0M642.3 149.7h0M644.6 154.6h0M644.9 150.8h0M640.7 146.6h0M638 152.9h0M645.2 145.8h0M645.1 151.3h0M650 153.9h0" stroke="#0000ff" stroke-opacity="0.42" stroke-width="4.8" stroke-linecap="round" fill="none"/>
<path d="M637.7 154.9h0M639.4 135.5h0M644.6 143.2h0M649.4 143.4h0M647.8 165.3h0M648.6 152.7h0M639.6 152.4h0M637.8 149h0M641.4 154.9h0M647.3 151.7h0M644.5 144.3h0M638.9 162.5h0" stroke="#0000ff" stroke-opacity="0.42" stroke-width="4.8" stroke-linecap="round" fill="none"/>
<path d="M650.3 144.6h0M640.5 134.6h0M642.7 170h0M651.1 153.7h0M651.1 154.4h0M643.8 147.5h0M648.2 158.6h0M640.4 167.8h0M643.1 130.7h0M643.6 141.9h0M645.7 128.6h0M644.6 162.6h0" stroke="#0000ff" stroke-opacity="0.42" stroke-width="4.8" stroke-linecap="round" fill="none"/>
<path d="M641.8 158.8h0M646.7 161.1h0M641.5 147.2h0M646.6 151.4h0M640.2 155.7h0M643.4 138.9h0M639.5 138.6h0M640.8 152.9h0M643.9 135.9h0M640.2 155.1h0M645.3 151.6h0M640 144.8h0" stroke="#0000ff" stroke-opacity="0.42" stroke-width="4.8" stroke-linecap="round" fill="none"/>
<path d="M640.5 140.3h0M643.6 153.7h0M640.9 142.4h0M642.7 148.4h0M643.6 154.5h0M642 161h0M648.5 156.5h0M648.9 143.9h0M640.9 132.8h0M651 152.6h0M646.5 155.2h0M641.4 146.5h0" stroke="#0000ff" stroke-opacity="0.42" stroke-width="4.8" stroke-linecap="round" fill="none"/>
<path d="M644.4 130.2V144.5M644.4 154V168.2" stroke="#0000ff" stroke-width="1.5" fill="none"/>
<rect x="636.8" y="144.5" width="15.2" height="9.5" fill="#fff" fill-opacity="0.55" stroke="#0000ff" stroke-width="2.2"/>
<line x1="636.8" x2="652" y1="149.4" y2="149.4" stroke="#0000ff" stroke-width="2.6"/>
<path d="M671.3 169.8h0M661.3 185.5h0M659.8 168.5h0M665.6 166.5h0M668.6 124.7h0M666.6 157.9h0M664 172h0M666.2 174h0M666.7 122.7h0M664.5 200.6h0M670 155.3h0M672.1 188.1h0M664.7 173.9h0M666.5 169.4h0M661.3 137.6h0M660.3 153h0M666.5 140.7h0M661.6 171.9h0M670.8 195.2h0M664.2 159.4h0M668.5 173.8h0M663.1 199.5h0M665.4 133.9h0M663.3 145.8h0M668 167.1h0M671.2 171.6h0M663.2 168.8h0M666.3 183.7h0M665.4 188.1h0M670.8 198.3h0M669.9 195h0M664.6 186.9h0M666.9 135.9h0M669.6 189.3h0M660.5 150.5h0M669 207.2h0M668.9 181.8h0M670.9 184.8h0M671.5 116h0M665.1 179.5h0M672.2 167.9h0M663 130.8h0M667.2 174.8h0M669 137h0M667.8 170.7h0M672.2 126h0M664 195.9h0M665.5 199.7h0M672.4 149.3h0" stroke="#ff0000" stroke-opacity="0.42" stroke-width="4.8" stroke-linecap="round" fill="none"/>
<path d="M662 163.6h0M660.6 115.4h0M665.8 153h0M665.7 177.2h0M661.4 185.4h0M670.6 204.9h0M665 164.9h0M672 131.8h0M669.6 170.5h0M671.8 119.9h0M661.3 152h0M666 168.4h0M660.7 112.3h0M667.7 172h0M668.1 161.8h0M662.1 129.1h0M665.4 201.8h0M670.2 200.1h0M669 152.5h0M663.2 161.5h0M669.5 169.9h0M672.6 154h0M663.1 181h0M670.3 191h0M670.6 135.4h0M663.3 182h0M660.9 138.5h0M669.4 151.3h0M665.1 166.1h0M668 171.1h0M662.8 169.3h0M664.1 109h0M663.1 178h0M659.8 191.2h0M665.8 144.8h0M670.2 227h0M667.2 163.3h0M663 134.9h0M660.4 154.4h0M662.4 156.8h0M669 202.9h0M660.5 171.4h0M671.1 169.9h0M669 161.1h0M666.2 177.7h0M671.7 155.7h0M667.4 159.4h0M669.6 174.9h0M666.5 157.1h0" stroke="#ff0000" stroke-opacity="0.42" stroke-width="4.8" stroke-linecap="round" fill="none"/>
<path d="M660.2 210.3h0M670.2 183h0M664.3 159.3h0M667.7 147.4h0M661.3 142h0M661.8 144.6h0M671.8 135.5h0M671.7 152.8h0M662.1 188.9h0M663.5 187.5h0M661.1 149.1h0M666.2 143.4h0M664.9 159.2h0M670.5 120.4h0M671.5 167.1h0M668.4 194.4h0M662.8 158.5h0M666.2 127.7h0M672.6 139.1h0M672.3 166.6h0M667.8 163.7h0M662.2 175.2h0M673.1 153.3h0M662.5 146h0M661 157.6h0M662.2 170.7h0M668.1 162.8h0M661 137.4h0M661.7 124.9h0M663.6 174.9h0M671.9 189.6h0M665.8 149.5h0M671.8 168.6h0M665 173.6h0M671.9 170.5h0M661.2 155.9h0M662.8 160h0M660.8 168.5h0M662.1 166h0M661 167.9h0M671.4 148.3h0M661.9 158h0M663.8 143h0M667.9 175.7h0M668.6 164.1h0M665.7 157.3h0M669.1 168.8h0M671.5 201.2h0M661.1 116.5h0" stroke="#ff0000" stroke-opacity="0.42" stroke-width="4.8" stroke-linecap="round" fill="none"/>
<path d="M662 136.1h0M666 173.6h0M665.9 135.9h0M671.1 170.2h0M669.6 141.5h0M665.5 161.9h0M665.3 167.4h0M661.7 172.2h0M667.8 173.3h0M660.5 167h0M670.4 192.6h0M673.2 168.3h0M666.2 149.6h0M666 113.3h0M665 145.2h0M672 160.5h0M669.5 163.2h0M672.5 183h0M662.9 165.6h0M665.8 157h0M663.1 145.1h0M667.9 169.2h0M665.8 147.4h0M666.7 164.7h0M661.4 176.5h0M660.6 163.2h0M663.2 190.1h0M669.3 159.1h0M663 173.6h0M666.3 148.7h0M659.9 179.7h0M660.7 157.7h0M672.6 162.7h0M663.5 162.1h0M663.3 179.9h0M662 158.7h0M668.2 122.1h0M663.6 168.4h0M660.5 202.9h0M660.7 220h0M666.4 173.5h0M665.8 152.3h0M665.1 159.6h0M664.5 106h0M670.3 185.1h0M663.5 195.9h0M666.6 117.7h0M665.7 200.7h0M660.1 189.6h0" stroke="#ff0000" stroke-opacity="0.42" stroke-width="4.8" stroke-linecap="round" fill="none"/>
<path d="M667.5 169.4h0M666.5 187.4h0M667.4 135.7h0M665.9 107.4h0M671.9 148.3h0M661.6 161.7h0M670.1 155.3h0M660.3 162.2h0M664.7 193.4h0M661.7 167.1h0M670.6 174.5h0M666 163.6h0M665.9 186.8h0M665.4 176.6h0M669.1 199.6h0M662.7 192.8h0M662.3 143.1h0M670.8 121.9h0M665.6 144.1h0M667.3 107.6h0M661.4 186h0M662.7 150.8h0M671.2 135.5h0M666.6 159.8h0M669.6 163.4h0M672.9 161.4h0M660.1 200.4h0M667.1 184.2h0M666.3 189.5h0M667.6 163.2h0M666.4 138.8h0M668.9 173.2h0M668.1 190.5h0M672.5 171.3h0M661.1 194h0M672.6 168.4h0M673.2 159h0M666.1 181.1h0M660.3 181.2h0M670 156.7h0M662.8 158.9h0M660.5 182.2h0M670.7 157h0M667.3 133.2h0M669.2 196.4h0M660.9 160.6h0M664 186.3h0M662.2 176h0M671.4 170.4h0" stroke="#ff0000" stroke-opacity="0.42" stroke-width="4.8" stroke-linecap="round" fill="none"/>
<path d="M668.7 177.4h0M669.5 212.5h0M670.5 172.4h0M661.9 148.7h0M671.7 180.2h0M660.3 144.1h0M672.7 168.4h0M672.3 191.1h0M666.6 153.3h0M664.4 167.4h0M670 205.3h0M671 146.8h0M665.9 149.9h0M671.6 182.2h0M673.1 156.3h0M664.9 169.2h0M665.2 209.8h0M660.7 163.2h0M665.1 147.9h0M663.1 189.8h0M664 187.3h0M664.1 164.1h0M670.7 183.9h0M663.9 151.3h0M663.9 190.4h0M672.2 159.9h0M670.2 168.5h0M667.7 197.8h0M664.6 219.4h0M671.3 196h0M667 159.5h0M671.9 182.6h0M663.8 179.8h0M659.8 172h0M660.2 127.4h0M670.4 145.2h0M671.2 165.2h0M673.3 185.6h0M668.8 160.3h0M665.7 248h0M665.4 169.6h0M669 156.2h0M669.9 161.8h0M671.5 164.2h0M673.1 176.8h0M665 163.2h0M672.8 120.1h0M661.5 183.8h0M669.3 148.4h0" stroke="#ff0000" stroke-opacity="0.42" stroke-width="4.8" stroke-linecap="round" fill="none"/>
<path d="M666.5 115V154M666.5 180V219" stroke="#ff0000" stroke-width="1.5" fill="none"/>
<rect x="658.9" y="154" width="15.2" height="26" fill="#fff" fill-opacity="0.55" stroke="#ff0000" stroke-width="2.2"/>
<line x1="658.9" x2="674.1" y1="166.7" y2="166.7" stroke="#ff0000" stroke-width="2.6"/>
<path d="M681.9 164h0M689.8 179.1h0M687.3 151.7h0M689.7 169.9h0M686.1 168.3h0M690 161.9h0" stroke="#0000ff" stroke-opacity="0.42" stroke-width="4.8" stroke-linecap="round" fill="none"/>
<path d="M690.1 143.7h0M689.7 173.1h0M693.1 168.5h0M683.8 165.1h0M683.9 141.7h0M692.6 154.5h0" stroke="#0000ff" stroke-opacity="0.42" stroke-width="4.8" stroke-linecap="round" fill="none"/>
<path d="M694.3 168.5h0M684.4 133h0M694.3 160.8h0M689.1 151.8h0M688.9 180h0M694.6 155.9h0" stroke="#0000ff" stroke-opacity="0.42" stroke-width="4.8" stroke-linecap="round" fill="none"/>
<path d="M694 141.1h0M684.4 153.8h0M683.1 158.5h0M694.2 167.1h0M688.8 153.7h0M688.1 162.4h0" stroke="#0000ff" stroke-opacity="0.42" stroke-width="4.8" stroke-linecap="round" fill="none"/>
<path d="M689.8 166.3h0M693.9 152.5h0M688.1 157h0M685.5 169.3h0M690.1 166.6h0" stroke="#0000ff" stroke-opacity="0.42" stroke-width="4.8" stroke-linecap="round" fill="none"/>
<path d="M684.9 155.5h0M684.7 160.9h0M686 150.6h0M695 142.9h0M687.1 167.1h0" stroke="#0000ff" stroke-opacity="0.42" stroke-width="4.8" stroke-linecap="round" fill="none"/>
<path d="M688.6 134.2V153M688.6 165.5V180" stroke="#0000ff" stroke-width="1.5" fill="none"/>
<rect x="681" y="153" width="15.2" height="12.5" fill="#fff" fill-opacity="0.55" stroke="#0000ff" stroke-width="2.2"/>
<line x1="681" x2="696.2" y1="159" y2="159" stroke="#0000ff" stroke-width="2.6"/>
<path d="M710.1 35.4h0M705.4 86h0M707.3 89.4h0M711.2 79.6h0M716.2 101.8h0M712.1 69.1h0M709.9 70.2h0M710.1 99.9h0M710.1 108h0M716 80h0M706.9 86.8h0M706.2 83.7h0M716.2 112h0M715.6 69.2h0M709.2 103.9h0M704 82.8h0M705 27h0M705.7 80.1h0M717.5 69h0M711.6 87.1h0M714.9 210h0M708.9 77h0M706.2 91.3h0M710.5 83.1h0M713.9 91.9h0M711.2 92h0M711.8 74.8h0M715.6 95.1h0M709.2 89h0M716.9 91.5h0M704.2 57.5h0" stroke="#ff0000" stroke-opacity="0.42" stroke-width="4.8" stroke-linecap="round" fill="none"/>
<path d="M708.2 76.4h0M710.6 53.1h0M712.6 77.6h0M712.6 98.2h0M717.3 85.9h0M717.5 78.4h0M714.3 68.5h0M705.4 60.4h0M711.4 88.5h0M713.1 89.5h0M713.3 55.5h0M714.7 92.8h0M705 82.7h0M708.7 76.1h0M710 92.9h0M706.9 95.9h0M713.2 106.2h0M712.6 98.3h0M711.8 68.7h0M708.8 76.8h0M714.9 90.1h0M715.6 60.4h0M712.1 73.3h0M715.4 75.6h0M714.1 78.5h0M717.2 56.6h0M714 97.3h0M717.3 87.2h0M714.9 73.9h0M712.3 82.6h0" stroke="#ff0000" stroke-opacity="0.42" stroke-width="4.8" stroke-linecap="round" fill="none"/>
<path d="M706.3 91.8h0M704.5 75.6h0M715.4 65.1h0M713.8 64.8h0M711.1 49.7h0M713.4 75.5h0M705.1 68.2h0M704 69.3h0M716.9 85.3h0M705.2 93.9h0M713.1 73.7h0M706.3 86.2h0M708.2 81h0M714.5 73.7h0M711.5 79.3h0M713.8 92.3h0M717.2 90.5h0M714.7 128h0M716.9 66.6h0M716.7 51.6h0M715.8 88.4h0M711.9 75.1h0M705.5 91.6h0M706 98.6h0M709.1 77.5h0M708.7 75.4h0M705 88.6h0M712.9 61.5h0M704.1 80.3h0M712.8 93.6h0" stroke="#ff0000" stroke-opacity="0.42" stroke-width="4.8" stroke-linecap="round" fill="none"/>
<path d="M711.9 76h0M707.2 46.8h0M717.5 82.2h0M708.8 78.3h0M715.5 84h0M708.4 81.3h0M709 59.2h0M708.5 55.6h0M712.1 89.6h0M713.6 98.5h0M711.5 72.1h0M709.4 74.9h0M713.2 84.9h0M704.1 61.1h0M704.4 81.8h0M705.2 72.3h0M708.9 76.7h0M714.1 60.3h0M713.3 81.1h0M709.5 82.1h0M715.6 180h0M716.5 93.3h0M706.7 73.7h0M708.4 85.5h0M715.4 37.1h0M710.9 79.8h0M705.8 50.5h0M705.7 66.9h0M716.3 86.7h0M711.2 56.1h0" stroke="#ff0000" stroke-opacity="0.42" stroke-width="4.8" stroke-linecap="round" fill="none"/>
<path d="M708 103.8h0M712.6 81.1h0M711.8 75.9h0M714.4 175h0M706.9 79.6h0M716.8 82.4h0M709.3 104.7h0M704.5 65.8h0M708.7 66.8h0M715.9 62.2h0M709.6 37h0M708 30h0M705.2 139h0M706.9 85.2h0M707.7 91.1h0M711.2 71.9h0M706 71.7h0M710.4 75.8h0M713.7 95.5h0M709.6 83.9h0M711.1 98.8h0M713.3 90.1h0M706.3 51.7h0M705.7 70.6h0M709.7 32.1h0M714.8 102h0M707.6 105.3h0M708.1 70.4h0M704.7 82.5h0M714.4 72.9h0" stroke="#ff0000" stroke-opacity="0.42" stroke-width="4.8" stroke-linecap="round" fill="none"/>
<path d="M707 61.4h0M714.8 109.6h0M712.8 87h0M711.5 62.2h0M708.9 84.9h0M708.9 65.2h0M706.6 48.7h0M708 100.6h0M714.2 83.4h0M715.7 76.9h0M713.6 89.3h0M716.4 65.3h0M706.7 78.4h0M710.8 74.5h0M711.7 96.4h0M705.9 69.5h0M715.5 76.7h0M716.4 86.3h0M716.6 85.5h0M708.4 62.5h0M710.5 75.8h0M712.4 65.1h0M716.1 45.9h0M706.9 51.6h0M710 68.9h0M704.3 50.1h0M717.1 72.3h0M711.9 85.3h0M707.7 80.2h0M715.7 99.2h0" stroke="#ff0000" stroke-opacity="0.42" stroke-width="4.8" stroke-linecap="round" fill="none"/>
<path d="M710.7 42.8V70.5M710.7 89V112" stroke="#ff0000" stroke-width="1.5" fill="none"/>
<rect x="703.1" y="70.5" width="15.2" height="18.5" fill="#fff" fill-opacity="0.55" stroke="#ff0000" stroke-width="2.2"/>
<line x1="703.1" x2="718.3" y1="80" y2="80" stroke="#ff0000" stroke-width="2.6"/>
<path d="M738.2 127h0M733 142h0M738.3 159.5h0M728.2 188.2h0M726.2 141h0M736.6 155.4h0M730.5 150.6h0M736.3 182.5h0M739.1 132.4h0M728.2 159.4h0M731.7 109.9h0M732.7 125.5h0M732.2 146.5h0M732.9 133.7h0M726.6 150h0M730.1 130.2h0M736.3 145h0M738.6 170.1h0M728.2 113.2h0M728.2 116.5h0M734.7 154h0M733.9 183.5h0M729.5 131h0M739.2 117.4h0M735.7 161.1h0M728.3 133.6h0M734.5 191.7h0M739.2 174.8h0M728.6 128.5h0M729.2 161.2h0M731 135.8h0M734.2 108.5h0M727.4 157h0M738.1 160.4h0M726.4 150.6h0M738.5 157.2h0M729 138.4h0M729.3 149.7h0M734.5 150.3h0M727.7 178.7h0M736.9 169.3h0M726.9 156.5h0M727.4 140h0M727.6 190.1h0M726.3 150.3h0M738 177.7h0M729.2 169.6h0M739.5 134.2h0M732.2 135.5h0M729.9 147.7h0M727.4 129.4h0M736 152.3h0M738.8 143.4h0M739.4 171h0M727.4 195.1h0M738.2 114.2h0M730.1 153h0M728.9 131.8h0M728.2 122.9h0M732.3 197.5h0M727.1 147h0M726.4 148.3h0M733.3 133.9h0M734.9 151.1h0M737 155.9h0M733.5 128h0M737.9 135.1h0M733.8 166.6h0M727.6 175.7h0M736.3 130.4h0M730.2 130h0M730.7 187.3h0M738.8 128.1h0M728.6 129.5h0M736.5 153.1h0M732.9 116.6h0M733.1 106.7h0M734.8 122.7h0M732.4 133.9h0M735.1 140.5h0M727.6 128.4h0M733.9 129.4h0M726.3 140.3h0M732.6 164h0M737.8 129.1h0M729.4 165.9h0M738 170.5h0" stroke="#ff0000" stroke-opacity="0.42" stroke-width="4.8" stroke-linecap="round" fill="none"/>
<path d="M738.3 129.5h0M728.5 147h0M737.4 155.8h0M732.8 144.3h0M727.5 151.5h0M738.9 130.9h0M735.7 174.8h0M730.8 147.9h0M736.4 189h0M731.2 140.6h0M737.1 130.7h0M726.5 134.4h0M735.2 122.5h0M738.5 144.3h0M729.3 152.3h0M727.4 196.7h0M738.9 144.5h0M736.7 148h0M739.2 137h0M729.8 114.7h0M729.2 145.9h0M729.5 128.8h0M737.1 139h0M733.6 145.1h0M735.2 165.6h0M731.5 134.9h0M729.9 126.7h0M735.2 136.7h0M734.9 116.4h0M728.1 116.5h0M730.2 166.3h0M731.4 123.5h0M731 197h0M728.2 146.5h0M738.2 162.1h0M728.2 110.2h0M734.4 145.1h0M735.6 168.8h0M734 163.2h0M730.5 144.1h0M732.9 148.9h0M729.6 133h0M739.5 130.3h0M738.2 139h0M727.2 115h0M735.5 135.9h0M730.7 141.3h0M733 124.9h0M731.9 146.6h0M731.4 129.3h0M735.5 136h0M736 176.6h0M736.4 135.5h0M735 144.6h0M726.1 154.5h0M736.9 151.4h0M736.4 122.7h0M733.9 150.6h0M730.8 156.5h0M729.9 130.7h0M732.2 148.5h0M727.4 146h0M727.2 157.7h0M731.1 118.8h0M737.1 138.3h0M729.4 139.3h0M726.1 155.6h0M727.5 135.2h0M732.9 151.8h0M732.8 170.5h0M739.2 196h0M726.7 143.3h0M730.7 143.8h0M727.1 130.4h0M731.8 140.8h0M727 137.7h0M733 183.4h0M731.3 146.5h0M732.1 157.1h0M734.1 161.3h0M732.3 132.2h0M731.7 128.3h0M728.2 144.6h0M737 123.9h0M730.8 133h0M735.7 126.3h0M727 126h0" stroke="#ff0000" stroke-opacity="0.42" stroke-width="4.8" stroke-linecap="round" fill="none"/>
<path d="M734 113h0M733.1 127.4h0M739.1 147.4h0M729.8 129.1h0M730.7 170.7h0M733.6 120.8h0M729.6 132.5h0M735.1 137h0M738.3 125h0M738.2 124.3h0M735.2 152.8h0M736.7 158h0M727.8 136.3h0M732.6 150.6h0M736.8 137.2h0M731.9 142.5h0M737.7 104h0M738.5 164.6h0M735.1 134.5h0M726.8 133.6h0M729.3 119.3h0M727.9 136.1h0M730.5 145.4h0M735 139.4h0M728.3 144.8h0M733.4 118h0M728.2 122.9h0M734.5 140.9h0M735.4 194.9h0M730 155.1h0M733.9 112.6h0M731 130.1h0M739 150.4h0M738 141.8h0M734.6 173.7h0M735.4 172.9h0M738.1 135.7h0M734.1 139.6h0M732 144.2h0M729.4 132.3h0M734.9 110.4h0M737.9 133.2h0M733.8 166.1h0M731.2 138.7h0M733.6 128.8h0M739.5 110h0M739.2 128h0M736.3 139.6h0M731.1 146.5h0M736.7 160.7h0M735.8 151.5h0M735.2 122.1h0M729.7 141.1h0M738.8 164.5h0M726.8 140.9h0M735.8 128.8h0M733 147.5h0M733.4 127.4h0M733.7 129.2h0M729.5 132h0M729.5 136.3h0M739.3 124.8h0M727.3 118.3h0M736.3 152.7h0M732.5 134.7h0M735.8 144.7h0M734.4 131.9h0M728.3 133.9h0M737.6 144.1h0M738.3 140.8h0M728.5 150.2h0M735.9 171.5h0M739.1 124.6h0M738.7 120.4h0M739.3 175.8h0M736.7 144.6h0M735.1 173.6h0M733.4 155.4h0M730.9 133.1h0M726.3 135.2h0M739.6 145.3h0M738.2 132.2h0M726.6 139.2h0M730.7 145.9h0M738.5 174.7h0M734 140.5h0" stroke="#ff0000" stroke-opacity="0.42" stroke-width="4.8" stroke-linecap="round" fill="none"/>
<path d="M734.3 145.5h0M732.5 183.4h0M727.4 148.9h0M735.6 151.8h0M739.2 162.1h0M736.3 132.5h0M739.5 157.9h0M738.4 140.6h0M738.8 143.3h0M732.5 144.1h0M728.8 170.5h0M732.3 142.5h0M731.2 138.1h0M736 122.3h0M728.4 122.5h0M733.7 154.5h0M730.9 150.3h0M732.9 156.3h0M736.8 142.2h0M734.3 140.9h0M736.5 151.4h0M736.6 170.4h0M737 141.2h0M734.6 131.5h0M732.4 135.7h0M738.6 180.2h0M727 142h0M736.6 150h0M737.6 133.7h0M732.2 125.4h0M729.9 170.6h0M728.9 143h0M727.2 133.4h0M730.1 136.8h0M729.8 135.9h0M733.2 139.7h0M738 140h0M728.6 153.7h0M729 127.3h0M734.3 143.5h0M738.4 136.8h0M732.4 152.3h0M733 133.8h0M731.3 127.4h0M736 112.1h0M728.5 140.4h0M739 171h0M726.3 127.8h0M736.7 154.7h0M736.8 161.4h0M735.2 142h0M726.2 146.4h0M736.5 159.2h0M733.4 120.1h0M732.7 171.5h0M728.7 121.9h0M738.1 144.3h0M730.6 137.5h0M730.7 146.3h0M726.4 158.6h0M738.6 129.6h0M731.6 147.2h0M728.3 162.8h0M736.2 161.3h0M727.1 149.5h0M737.2 135.4h0M729 131.6h0M732.8 142.9h0M735.1 140.8h0M726.2 142.9h0M726.4 154.2h0M734.8 122.2h0M733.9 173.1h0M728.3 138.3h0M736.7 107.1h0M733 152.6h0M737.7 155.9h0M731.4 150.3h0M728.3 125.5h0M731.2 132.1h0M736.9 132h0M730 134h0M733.7 169.4h0M739.6 143.5h0M731.6 156.7h0M734.5 145.7h0" stroke="#ff0000" stroke-opacity="0.42" stroke-width="4.8" stroke-linecap="round" fill="none"/>
<path d="M734.2 137.4h0M734.1 150.9h0M733 132.7h0M737.9 154.1h0M727.8 152h0M733.7 162h0M732.8 123.9h0M735.5 134.1h0M728.7 180.4h0M735.1 133.1h0M726.4 141h0M728 157.5h0M728.8 135.8h0M737.5 144.4h0M736.3 155.4h0M730 120.1h0M729.4 139.8h0M738.1 146.1h0M731.7 167.3h0M727.1 105.7h0M739.1 140.5h0M730.1 107h0M737.2 159.4h0M731.5 159.2h0M735.6 127.6h0M729.4 120.4h0M730.4 136.5h0M737.9 181.3h0M729 119.4h0M730.1 153.3h0M726.5 145.8h0M739.6 129.9h0M733.9 153.3h0M729.1 136.4h0M736.6 156.6h0M726.7 194.2h0M731 140.3h0M726.7 156.9h0M726.5 149h0M726.3 146.2h0M726.4 138.2h0M736.9 140.1h0M738.5 146.4h0M737.7 109.6h0M739.1 194.1h0M731.4 156.1h0M734.6 173.7h0M730.1 139.8h0M732.4 130.5h0M736.8 170.3h0M734.7 122.1h0M733.4 142.1h0M737.3 124.8h0M728.9 122.1h0M731.5 123.5h0M728.3 146h0M727.6 115.9h0M728.3 162.3h0M729.1 140.5h0M732.6 193.7h0M726.1 152.2h0M726.5 141.7h0M730.1 109.7h0M731.3 174.7h0M735.9 138.2h0M739.3 162.1h0M735.1 145.7h0M737.3 150.4h0M727 147.8h0M731.1 151.4h0M738.9 109.4h0M737.5 107.2h0M728.8 144.9h0M735.4 148.4h0M735.2 149.9h0M734.8 116.7h0M732.5 178.8h0M739 125.9h0M729.4 152.6h0M738.4 125.9h0M736.9 116.7h0M728.6 124.4h0M732.5 145.3h0M735.3 137h0M732.1 164.2h0M733.3 135.2h0" stroke="#ff0000" stroke-opacity="0.42" stroke-width="4.8" stroke-linecap="round" fill="none"/>
<path d="M736.5 105.5h0M727 118.2h0M734.6 143.9h0M729.9 115.2h0M737.8 136.6h0M728.4 128.8h0M738 130.8h0M739.5 139.8h0M735.2 127.3h0M739.1 169.4h0M726.9 135.2h0M726.1 125.8h0M736.9 191.9h0M735.2 127h0M736.6 158.3h0M735 147.5h0M733.2 140.2h0M738.3 147.5h0M726.2 136.1h0M739.5 181.3h0M731.4 119.6h0M726.4 144.5h0M736.7 157.2h0M729.2 121.7h0M735.6 118.2h0M734.7 111.3h0M733.1 149.5h0M736.6 123.6h0M728.5 164.5h0M730.5 138.1h0M729 135.4h0M738.6 142.2h0M733.5 170.6h0M733.8 127.1h0M726.2 139.7h0M726.6 150.4h0M739.5 128.9h0M736 193h0M727.7 142.1h0M733.1 147.4h0M731.9 139.4h0M732.5 142.7h0M733.9 149.9h0M735.2 160.2h0M729.9 146.9h0M736.7 186.2h0M735 152.5h0M733 156.6h0M729.8 133.7h0M728.6 145.4h0M737.5 150.1h0M735.5 116.5h0M731.2 122.7h0M729.1 136.3h0M736.1 136.6h0M730.2 150h0M727.7 167.4h0M734 182.1h0M737.1 105.7h0M737.3 165.7h0M734.8 130.9h0M737.9 136.4h0M739.5 128.8h0M738.4 124.6h0M734.6 134.9h0M728.5 108.4h0M733.6 138.4h0M736.5 153.3h0M738.2 140.7h0M731.4 118.9h0M739.3 161h0M733.8 159.3h0M733.7 120h0M735.8 108.3h0M737.5 135.3h0M732.3 131.4h0M738.5 171.3h0M730.9 149.8h0M726.4 123h0M732.1 135h0M738.1 138.1h0M733.5 131.3h0M737.6 143.1h0M733 169.8h0M730.4 137h0M735.6 157.3h0" stroke="#ff0000" stroke-opacity="0.42" stroke-width="4.8" stroke-linecap="round" fill="none"/>
<path d="M732.9 104V129.7M732.9 149.4V179" stroke="#ff0000" stroke-width="1.5" fill="none"/>
<rect x="725.3" y="129.7" width="15.2" height="19.7" fill="#fff" fill-opacity="0.55" stroke="#ff0000" stroke-width="2.2"/>
<line x1="725.3" x2="740.5" y1="139.6" y2="139.6" stroke="#ff0000" stroke-width="2.6"/>
<path d="M751 205.7h0M754 221.4h0M748.2 210.8h0M759 206.8h0M761.3 215.7h0M750.5 197.1h0M760.9 195.4h0M754.4 217.2h0M757.6 194.3h0M750.3 148.3h0M753.2 178.5h0M759.6 181.6h0M751.3 185.1h0M759.8 180h0M761.7 205.7h0M756.3 163.8h0M749.7 191.8h0M759.4 198.1h0M749 188.5h0M755.9 159.4h0M749.5 188.6h0M755.8 199.5h0M756.5 192.9h0M756.9 196.4h0M749.8 206h0M753.1 217.4h0M753.9 185.6h0M755.3 200.5h0M759 183.7h0M754.1 185.6h0M760.9 176.8h0M759.8 169.6h0M752.5 209.6h0M757.3 210.7h0M748.3 182.8h0M750.1 213.2h0M749 197.2h0M759.8 143h0M756.1 189h0M748.2 207.2h0M756 217.9h0M756.3 182h0M752.3 182.9h0M754.9 224.7h0M758.4 165.8h0M756.8 182.1h0M748.8 228.4h0M750.4 215.1h0M757.6 198.9h0M761.5 201.5h0M761 230.5h0M757 180.2h0M758.9 194.1h0M757.1 159.8h0M748.6 188.5h0M749.9 213.8h0M751.7 176.2h0M755.6 159.9h0M748.3 171.4h0M759.9 193.9h0M753.1 215.7h0M752.4 200h0M755.7 199.7h0" stroke="#ff0000" stroke-opacity="0.42" stroke-width="4.8" stroke-linecap="round" fill="none"/>
<path d="M759.9 169.7h0M758 157.3h0M753.2 203.1h0M761.6 213.6h0M754.5 143.2h0M750 198.4h0M757.2 215.5h0M753.4 176.7h0M758.9 197.6h0M759.8 183.1h0M760 197.5h0M761.3 220.2h0M754.3 167h0M756.1 185.2h0M749.8 194.7h0M756.5 190.1h0M751.6 272h0M752.9 205.3h0M755 145.8h0M754.2 225.5h0M753 187.8h0M755.3 177.4h0M754.2 181h0M749.1 190.3h0M754.5 230.7h0M751.1 151.5h0M750.1 189.7h0M755.9 221.1h0M752.6 209.5h0M752.4 219h0M759.5 179.9h0M755.7 181.1h0M749.8 224.3h0M753.9 196.4h0M751.1 226.7h0M759 199.8h0M749.4 165h0M760.3 189.6h0M753.2 227.3h0M754.5 218.5h0M749.2 169.7h0M760.4 211.3h0M754.1 193.1h0M757 166.1h0M755.6 212.8h0M759.4 203.4h0M760.8 186.5h0M757.8 205.5h0M759.6 194.3h0M753.9 224.3h0M751.7 196.8h0M755.5 178h0M750.9 174.9h0M750.7 207.7h0M756.4 227.6h0M760.4 198.5h0M753 230.2h0M758.1 176.4h0M752.1 209.2h0M761.2 203.5h0M750.3 214.5h0M760.7 219.2h0M754 195.9h0" stroke="#ff0000" stroke-opacity="0.42" stroke-width="4.8" stroke-linecap="round" fill="none"/>
<path d="M757.6 170.3h0M749.9 168h0M754.6 170.7h0M748.5 197.1h0M755.7 248.1h0M758.3 218.7h0M750.8 177.3h0M753 251.5h0M760 202.2h0M753 151.8h0M755.5 190.4h0M751.5 188.8h0M759 195.9h0M753.1 209.2h0M760.3 194.2h0M757.7 242.1h0M751.6 198.4h0M759.4 226.9h0M752.8 207.3h0M761.1 173.3h0M753.3 214.8h0M749.2 173.7h0M748.8 192.4h0M749.7 188.2h0M757.1 194.1h0M757.1 187.9h0M760.8 201.5h0M755.7 203.8h0M757 205.4h0M759 250.7h0M756.4 181.7h0M753.6 171.6h0M758.1 171.7h0M760.9 196.6h0M760.8 197.8h0M759.6 170.8h0M758 234.7h0M760.2 187.4h0M749.9 173h0M749.9 196.7h0M752.2 168.7h0M758.9 210.1h0M748.6 221.5h0M756.8 193.3h0M751.8 167.9h0M758.1 197.5h0M753.5 215.5h0M760.9 203.5h0M749.3 177h0M751 182.2h0M759.7 170.5h0M749.4 182.2h0M751.5 194.9h0M749.2 193.5h0M755.4 214.9h0M754.8 181.1h0M754.7 221.3h0M757.7 219.5h0M750.6 214.5h0M758.3 197.9h0M751.7 183.9h0M760.3 181.5h0M760.6 262h0" stroke="#ff0000" stroke-opacity="0.42" stroke-width="4.8" stroke-linecap="round" fill="none"/>
<path d="M748.9 184.7h0M750.3 181h0M758.8 172.6h0M756.8 143.5h0M759.6 217.3h0M755.5 190.3h0M758 146.2h0M756.6 192.7h0M754.4 158.6h0M751 178.7h0M752.4 168.4h0M748.3 188.2h0M759.9 237.3h0M751.1 146.7h0M759.5 202.2h0M756.7 199.5h0M748.8 223.5h0M757.6 172.2h0M748.8 193.4h0M755.8 200.2h0M758 213.2h0M754.1 178.8h0M750.9 218.8h0M758.6 143.1h0M756.8 166.2h0M753 210.3h0M759.5 192h0M749.2 177.1h0M757.6 195h0M757.3 182.8h0M750 202.6h0M751.4 216.1h0M759.7 157h0M750.8 203h0M750.3 230.2h0M756.5 206.3h0M748.3 195.5h0M761 174.9h0M756.9 226.3h0M757 188.4h0M753.6 159.2h0M754.5 175.6h0M750.1 165h0M748.2 185h0M753.7 214.6h0M754.9 186.6h0M749.9 194.6h0M760.9 167.1h0M758.9 222.6h0M761 197h0M758.4 215.9h0M754.9 188.7h0M748.8 210.7h0M748.9 200.7h0M760 197.8h0M759 219h0M756.4 173.5h0M753.5 207.9h0M756.9 212.4h0M751.9 233.9h0M757.8 186.9h0M761.2 201.3h0" stroke="#ff0000" stroke-opacity="0.42" stroke-width="4.8" stroke-linecap="round" fill="none"/>
<path d="M749.9 258.7h0M751.8 177.8h0M760.6 210.4h0M750.6 209.3h0M750.1 192.5h0M761.2 188.4h0M760.5 196.1h0M754.1 209.7h0M752 241.8h0M755.4 197h0M756.5 182.7h0M755.6 188.9h0M751 181.7h0M748.8 196.8h0M759.1 187h0M759.1 208.4h0M749 164.3h0M758.6 189.6h0M748.5 190.2h0M751.5 165.3h0M759.6 181.5h0M748.5 209.1h0M759.7 178.8h0M755.9 172h0M761.4 206.1h0M758.9 172.9h0M748.8 186.6h0M755.6 208.1h0M751.8 204.4h0M759.2 177.2h0M757.5 185.8h0M757.9 208.8h0M749.7 187.5h0M761.5 222.6h0M758.5 231.6h0M756.5 209.6h0M754.9 170.4h0M760.2 260.3h0M749.7 173h0M752.8 230.5h0M751.6 173.1h0M760 149.5h0M752.1 189.6h0M750.4 186.6h0M754.7 209.5h0M759.5 185.7h0M759.5 167.6h0M751.6 152.3h0M753 196h0M757.1 215.5h0M749.7 176.3h0M760.2 183.8h0M749.7 194.6h0M748.9 211h0M759 209.2h0M749.7 180.9h0M748.8 230.5h0M750.8 212.7h0M754.1 213.8h0M754.8 204.8h0M757.2 162.7h0M755.4 220.3h0" stroke="#ff0000" stroke-opacity="0.42" stroke-width="4.8" stroke-linecap="round" fill="none"/>
<path d="M751.6 157h0M756.8 196.4h0M757.1 199.7h0M756.3 245.6h0M753.3 233.3h0M761 158.6h0M756.1 207.7h0M756.1 186.1h0M754.3 202.4h0M757.8 225h0M758.7 200.4h0M756.4 192.4h0M758.6 253.5h0M757.8 189.1h0M752.2 176.8h0M755.1 252.7h0M752.8 230.3h0M754.2 230.6h0M759.8 197.8h0M748.8 205.3h0M754.1 215.3h0M760.9 178.4h0M756.2 182.1h0M755.5 225.8h0M760.6 195.9h0M761 201.4h0M751.7 192.8h0M756.7 201.2h0M757.5 198.8h0M752.3 220.6h0M748.7 213.5h0M751 198.2h0M748.8 204.5h0M760.7 187h0M759.9 227.1h0M748.7 186h0M757.4 228.6h0M760.2 189.5h0M759.8 213.5h0M761 202.5h0M752.9 234.2h0M751.2 204.9h0M755.4 210.1h0M758.3 226h0M750.2 194.4h0M756.2 146h0M752.4 196.2h0M755 214.1h0M748.9 205.4h0M758.7 156.4h0M758.7 190.8h0M758.6 181.4h0M753.4 274h0M749.7 176h0M755.9 223.1h0M760.1 232.7h0M752.6 162.7h0M754.9 186.5h0M749.8 193.7h0M755.4 217.2h0M757.1 195.9h0M752.4 214.7h0" stroke="#ff0000" stroke-opacity="0.42" stroke-width="4.8" stroke-linecap="round" fill="none"/>
<path d="M755 143V181.5M755 208.6V249.2" stroke="#ff0000" stroke-width="1.5" fill="none"/>
<rect x="747.4" y="181.5" width="15.2" height="27.1" fill="#fff" fill-opacity="0.55" stroke="#ff0000" stroke-width="2.2"/>
<line x1="747.4" x2="762.6" y1="195" y2="195" stroke="#ff0000" stroke-width="2.6"/>
<path d="M778.3 195.3h0M778.8 188.5h0M774.4 185.3h0M778 173.6h0M777.2 187.6h0M777.9 165.9h0M771.5 183.2h0M773 193.1h0M771.4 177.4h0" stroke="#0000ff" stroke-opacity="0.42" stroke-width="4.8" stroke-linecap="round" fill="none"/>
<path d="M774.4 196.9h0M773.3 195.3h0M779.7 169.4h0M781.3 190.8h0M783 192.5h0M780.1 188.4h0M771.5 189.2h0M773.5 215h0M780.9 188.2h0" stroke="#0000ff" stroke-opacity="0.42" stroke-width="4.8" stroke-linecap="round" fill="none"/>
<path d="M781.4 179.3h0M775.6 165.7h0M774.1 197.3h0M783.4 183.4h0M771.4 163.2h0M776 171.2h0M782.7 153h0M771.7 198.8h0M777.7 173h0" stroke="#0000ff" stroke-opacity="0.42" stroke-width="4.8" stroke-linecap="round" fill="none"/>
<path d="M780.5 182.3h0M782.1 207.2h0M772.8 193.1h0M772.9 213.3h0M771.9 196.8h0M773.1 157.8h0M780.1 203.8h0M781.6 191.3h0M776.6 204.8h0" stroke="#0000ff" stroke-opacity="0.42" stroke-width="4.8" stroke-linecap="round" fill="none"/>
<path d="M776.5 198.9h0M777.4 211.6h0M774.2 169.3h0M777.2 227h0M782.6 183.6h0M778.2 179.4h0M773.2 171.7h0M782.8 186.7h0M774.7 185.7h0" stroke="#0000ff" stroke-opacity="0.42" stroke-width="4.8" stroke-linecap="round" fill="none"/>
<path d="M783.4 166.5h0M770.7 208.9h0M777.8 174.7h0M775.7 206h0M774 192h0M779.6 182.2h0M783.6 183.3h0M779.2 203.1h0" stroke="#0000ff" stroke-opacity="0.42" stroke-width="4.8" stroke-linecap="round" fill="none"/>
<path d="M777.1 153V173M777.1 192.6V215" stroke="#0000ff" stroke-width="1.5" fill="none"/>
<rect x="769.5" y="173" width="15.2" height="19.6" fill="#fff" fill-opacity="0.55" stroke="#0000ff" stroke-width="2.2"/>
<line x1="769.5" x2="784.7" y1="182.7" y2="182.7" stroke="#0000ff" stroke-width="2.6"/>
<path d="M796.5 135.9h0M793.4 127.3h0M797.2 151.7h0M806 160.6h0M796.4 159.8h0M794.2 142.8h0M804.3 153.7h0M795.9 148.1h0M801.6 217h0M796.1 152h0M793.3 138.9h0M799 136h0M798.1 171.8h0M800 150.9h0M801.6 140.9h0M805.1 158.2h0M801.9 150.7h0M805.5 146.4h0M801.9 124h0M793.2 120h0M798.3 144.8h0M798.8 136.7h0M794.9 135.9h0M797.5 137.2h0M803.5 150.2h0M804.2 139.2h0M796.6 177.9h0M796.7 128h0M793.1 175.6h0M805.9 160.2h0M797.3 140.6h0M793.1 169.8h0M795 149.1h0M801.7 146.8h0M795.2 130.6h0M800.8 151.8h0M793.8 159.7h0M805.3 139.2h0M795.1 141.6h0M796.3 153.3h0M796.9 127.8h0M802.1 155.7h0M802.9 164.7h0M800.2 144.6h0M797.5 157.6h0M798.5 133.5h0M805.2 154h0M805.7 165.6h0M798.8 125.8h0M799.5 142.1h0M794.8 123.4h0M803.7 169.6h0M795.7 188h0M793.1 163.7h0M798.2 114.4h0M796.8 141.5h0M800.8 141.7h0M793.3 189.5h0M804.9 130.2h0M799.8 132.9h0M805.1 140.2h0M795.9 146.2h0M795.7 168.5h0M793 122.2h0M803.9 159.9h0M793.8 121.2h0M800 135.8h0M800.5 157h0M795.6 186.4h0M801.7 168.9h0M793.9 154.6h0M805 145.8h0M802.7 169.8h0M798.5 152.3h0M794.5 155.9h0M799.5 152.7h0M801.4 165.1h0M798.8 172.3h0M801 171.6h0M795.6 164.7h0M803.7 133.2h0M795.4 119.6h0M804.2 145.5h0M803 137.9h0M793.2 182.9h0M797.9 168.8h0M795.7 114.4h0" stroke="#ff0000" stroke-opacity="0.42" stroke-width="4.8" stroke-linecap="round" fill="none"/>
<path d="M793.7 156.5h0M796.1 160.2h0M800 195.1h0M792.4 142.2h0M804.4 196.8h0M804.8 121.1h0M802.8 142.6h0M799.7 126.5h0M798.7 164h0M804.2 129.7h0M795.9 142.2h0M799.4 120.3h0M800.2 129.8h0M794.4 141.3h0M801 153.3h0M802.9 135.6h0M803.9 142h0M797.2 174.7h0M802.8 128.3h0M793.4 162h0M800.2 170.4h0M799.1 155.8h0M800 148.9h0M800.4 166.9h0M797.7 135.1h0M795.6 146h0M800.6 149.2h0M805.2 147.2h0M794.2 161h0M795.8 155.6h0M794.9 141.1h0M796.2 149h0M792.8 135h0M801.3 148.3h0M801 158.4h0M798.5 165.4h0M804 153.2h0M795.2 143.5h0M794.7 183.1h0M800.4 133.3h0M793.4 172.9h0M799.7 144h0M793 148.5h0M793.3 156.7h0M798.3 137.7h0M796.1 126.4h0M800.3 204.6h0M805.1 158.6h0M802.7 152.5h0M804.1 139.9h0M797.6 135.3h0M793.9 165.1h0M794.4 157.5h0M799 136.5h0M798.3 160.2h0M804.7 136.2h0M799.8 175.5h0M797.9 150.9h0M803.7 161h0M795.2 129.5h0M797.3 149.3h0M800.5 123.1h0M801.3 179.2h0M793.7 147.3h0M796.5 116.8h0M793.3 128h0M803.9 151.2h0M793.3 172.8h0M800.4 150.7h0M801.8 168.4h0M797.3 172.2h0M802.1 148.5h0M799.5 147.4h0M798.4 136.7h0M801.9 147.2h0M798 164.3h0M794.2 148.3h0M799.7 160.8h0M803.5 148.1h0M802.3 131.9h0M803.4 145.6h0M795.3 126.9h0M804.7 131.1h0M802.1 141.9h0M798.6 159.4h0M794.7 142.7h0M797.9 140.8h0" stroke="#ff0000" stroke-opacity="0.42" stroke-width="4.8" stroke-linecap="round" fill="none"/>
<path d="M804.3 138.1h0M801.5 138.9h0M803.8 174.4h0M794 133.6h0M794.1 166h0M804 192.6h0M794.4 145.1h0M794.6 141.1h0M805.5 144.6h0M794.3 141.6h0M795.7 162.5h0M799.5 143.7h0M805.3 151h0M792.7 162.9h0M805.1 139.3h0M802 163.7h0M794.2 143.4h0M800.7 156.7h0M796.4 199.6h0M800.1 158.5h0M794.9 126.9h0M793.4 158.9h0M803.4 204.1h0M798.2 186.3h0M804.3 174.6h0M802.4 169h0M799.5 137.5h0M801.3 134.2h0M804.8 120.9h0M802 133.9h0M800.9 143.4h0M798.8 141.1h0M797.7 182.1h0M804.5 201.7h0M794.3 153.6h0M798.6 137.7h0M799.5 154.1h0M792.5 144.7h0M800.2 130.5h0M797.4 140.6h0M793.5 128.1h0M798.8 145.4h0M801.3 162.5h0M798 145.4h0M793.7 139.3h0M800.7 187.4h0M799.3 133.5h0M797.7 169.9h0M793.1 159.3h0M799.3 126.8h0M801.9 133.6h0M798.4 145.5h0M799.7 142.7h0M804.3 147h0M792.8 150.3h0M798.4 160.2h0M794.7 141.5h0M795.1 125.9h0M795.6 131.5h0M795 157.9h0M801.8 152.2h0M805.2 184.9h0M798.5 141.9h0M799.4 169.7h0M799.5 152.3h0M797.8 148.3h0M799.5 171.2h0M799.5 162.2h0M795.6 137.3h0M798.9 145h0M803.2 164.8h0M801.2 170.3h0M796.8 167.7h0M801.8 156.5h0M804.5 169.1h0M794.5 142.1h0M799 184.1h0M792.6 156.2h0M804.4 172.2h0M799.4 134.7h0M801.4 172.5h0M792.8 179h0M793.9 138.7h0M804.3 126.5h0M796.3 189.8h0M800.9 172.6h0" stroke="#ff0000" stroke-opacity="0.42" stroke-width="4.8" stroke-linecap="round" fill="none"/>
<path d="M802.8 132.3h0M802.7 157.6h0M794.2 131.7h0M802.2 141.3h0M798.5 161.8h0M792.7 160.2h0M794.4 153.8h0M796.8 151h0M792.8 157h0M795.7 176.6h0M805.9 164.9h0M793.1 159.9h0M795 124.8h0M794.8 143.6h0M793.6 151.2h0M796.1 202.5h0M805.3 181h0M797.4 154.9h0M794.8 159h0M805.7 158h0M794.9 115.7h0M799.8 141.7h0M800.7 165.8h0M796 144.1h0M801 184.5h0M801.8 159.2h0M798.5 158h0M802.2 173.9h0M797.3 145.7h0M801.9 138.9h0M794.3 141.3h0M795.6 198.6h0M802.3 167h0M800.7 135.6h0M801.9 131.4h0M797.7 182.6h0M801.7 145.9h0M805.3 155.6h0M793.7 168.5h0M797.2 145.4h0M805.8 190h0M804.3 151.9h0M800.4 167h0M798.8 171.5h0M801.3 152.1h0M792.4 154.1h0M797.2 148h0M802.5 185.9h0M796 143.5h0M803.6 157.1h0M797.5 140.5h0M800.5 138.8h0M797.2 150.5h0M794.3 200.7h0M798.8 180.8h0M797.4 160.1h0M792.7 146.6h0M794.2 142.7h0M793.4 135.3h0M805.2 151.9h0M800.9 129.1h0M795.7 153.6h0M804.5 141.1h0M803 177.3h0M796.7 153.9h0M799.7 149.7h0M794.7 159.9h0M795 151.9h0M805.1 157.8h0M798.8 137.3h0M803.6 157.5h0M797.7 144.9h0M804.2 123.9h0M802.7 151.2h0M792.7 139.7h0M794.3 167.7h0M792.9 142.8h0M796.2 147.1h0M803.9 126.2h0M793.1 168.8h0M803.3 145.3h0M801.3 151.7h0M800.9 142.7h0M798.2 149.8h0M793.3 132.4h0M797.3 170.5h0" stroke="#ff0000" stroke-opacity="0.42" stroke-width="4.8" stroke-linecap="round" fill="none"/>
<path d="M799.1 167.7h0M793.6 138.6h0M803.7 166.3h0M795.1 205h0M796.8 125.6h0M793.6 160h0M801 155.4h0M800.5 158.8h0M793.4 146.9h0M803.6 149.8h0M793.4 117.3h0M803.2 135.6h0M801.4 161.1h0M799.4 142.8h0M794.9 130.4h0M799.9 154.3h0M802.9 153.2h0M803.5 150h0M802 152.1h0M802.5 158.2h0M799.6 159.4h0M797.4 202.4h0M797.7 131.5h0M796.9 182.6h0M797.1 154.2h0M801.9 141.4h0M799.7 113.7h0M796.8 128.6h0M797.6 113.7h0M793.8 181.7h0M796 167.2h0M800.5 154.7h0M802.3 200.1h0M799 144.2h0M792.9 115.4h0M793.4 149.2h0M800.2 143.6h0M795.6 162h0M793.2 148.4h0M803.8 163.1h0M798.5 193.4h0M804.6 158.4h0M802.5 167.6h0M795.9 150.2h0M797.6 175.7h0M798.5 128.2h0M796.6 143.9h0M800.8 145.3h0M797.8 174.3h0M796.6 135.3h0M803.4 143h0M796.2 138.5h0M798.3 159.9h0M803.4 198.3h0M799.3 188.8h0M801.1 147.3h0M803.5 157.7h0M802.5 161.8h0M795.7 134.4h0M799.9 129.5h0M799.9 154.1h0M805.3 154.8h0M805.8 141.1h0M803.9 178h0M804.2 201.1h0M792.7 140.7h0M801 147.8h0M801.4 158h0M793.4 175.1h0M801.2 136h0M796 131.4h0M799.6 177h0M795.9 115.6h0M796.9 162.2h0M796.7 118.6h0M798.1 119.9h0M804.6 129.6h0M794.9 145h0M805.9 141.6h0M795.4 125.8h0M804.2 158h0M797.9 132.1h0M793.8 183.9h0M802.7 154.9h0M796.3 193h0M804.9 125.9h0" stroke="#ff0000" stroke-opacity="0.42" stroke-width="4.8" stroke-linecap="round" fill="none"/>
<path d="M802.4 154.9h0M796.3 137.7h0M801.1 148.5h0M799.3 146.2h0M799.3 171.9h0M795.1 126.9h0M803.5 133.2h0M799.6 157.9h0M804.6 177.9h0M795 146.9h0M794.4 131.2h0M800.8 172.3h0M803 168.1h0M793.4 152.6h0M803.4 128.8h0M797.5 143.9h0M793.2 168.6h0M800.1 152h0M794.1 150.4h0M804.2 171h0M802 168.5h0M798.6 129.9h0M797.7 178.2h0M798.6 122.3h0M796.6 153.8h0M792.7 175.6h0M799.3 164.7h0M802.5 171.6h0M804.9 164.9h0M793 152.8h0M803.7 164.6h0M795.1 127.3h0M801.6 159.2h0M804.1 130.1h0M794.5 155.5h0M798.1 160.2h0M794.8 170.7h0M800.3 159h0M797.2 172.8h0M794.5 156.5h0M801.3 123.7h0M794.7 153.1h0M804.3 142.6h0M802.3 155.4h0M798.5 166.9h0M798.7 155.2h0M801.8 150h0M797 142h0M804.4 136.5h0M793.2 148.1h0M803.8 133.9h0M795.2 171.8h0M800.9 127.1h0M804.1 162.3h0M801.1 152h0M793.9 159.4h0M792.9 171.9h0M792.8 134.9h0M802.5 132.9h0M805.6 129.1h0M796 156.8h0M798.5 156.5h0M794 160.3h0M797 146.1h0M799.1 160.1h0M803.2 138.4h0M796.5 147.5h0M799 144.3h0M799.1 157.2h0M793.8 139.3h0M801.6 150.4h0M805.7 138.4h0M805.8 158.2h0M802.5 157h0M798.5 143h0M800.2 151.3h0M795.9 147.2h0M796.1 180.2h0M803.1 144.8h0M801.7 129.2h0M798.2 138.2h0M794.1 139.2h0M804.1 129.7h0M802 176.9h0M798.3 148h0M795.1 146.4h0" stroke="#ff0000" stroke-opacity="0.42" stroke-width="4.8" stroke-linecap="round" fill="none"/>
<path d="M799.2 114.2V142M799.2 160.5V188.2" stroke="#ff0000" stroke-width="1.5" fill="none"/>
<rect x="791.6" y="142" width="15.2" height="18.5" fill="#fff" fill-opacity="0.55" stroke="#ff0000" stroke-width="2.2"/>
<line x1="791.6" x2="806.8" y1="149.4" y2="149.4" stroke="#ff0000" stroke-width="2.6"/>
<path d="M824.9 138.4h0M821.6 146.2h0M819 136.9h0M819.1 128.4h0M816.2 154h0M827.6 163.4h0M817.5 143.3h0M825.9 161.7h0M814.6 124.9h0M818.5 159.9h0M819.8 128.1h0" stroke="#0000ff" stroke-opacity="0.42" stroke-width="4.8" stroke-linecap="round" fill="none"/>
<path d="M816.5 136.8h0M824.9 149.9h0M820.6 145.7h0M815.3 140.9h0M821 139.5h0M817.2 153.1h0M824.9 136h0M817.1 157.4h0M817.5 169.2h0M815.4 135.4h0" stroke="#0000ff" stroke-opacity="0.42" stroke-width="4.8" stroke-linecap="round" fill="none"/>
<path d="M817 135.4h0M824 148.3h0M824.9 161.9h0M826.3 129.1h0M822.5 144.2h0M817.3 139.2h0M817 144.4h0M817.5 156.1h0M820.8 163h0M815 151.5h0" stroke="#0000ff" stroke-opacity="0.42" stroke-width="4.8" stroke-linecap="round" fill="none"/>
<path d="M818.5 150.7h0M818.7 136.4h0M819.2 146.5h0M816.4 151.9h0M827.4 150.8h0M814.8 176.1h0M823.4 144.5h0M825.7 141.8h0M818.3 158.9h0M817.2 144.1h0" stroke="#0000ff" stroke-opacity="0.42" stroke-width="4.8" stroke-linecap="round" fill="none"/>
<path d="M823.5 132.7h0M827.9 163.3h0M818.7 163.8h0M815.9 154h0M821.5 124.8h0M826.3 152.3h0M819.6 141.2h0M814.6 143.3h0M821.6 176.3h0M820.5 176h0" stroke="#0000ff" stroke-opacity="0.42" stroke-width="4.8" stroke-linecap="round" fill="none"/>
<path d="M821.3 146.9h0M816.1 148h0M818.6 147.6h0M817.6 157.6h0M821.9 157.9h0M820.5 160.7h0M825.6 159.4h0M825.4 140h0M821.3 177.8h0M816.9 153.1h0" stroke="#0000ff" stroke-opacity="0.42" stroke-width="4.8" stroke-linecap="round" fill="none"/>
<path d="M821.3 124.8V139.6M821.3 155.6V177.8" stroke="#0000ff" stroke-width="1.5" fill="none"/>
<rect x="813.7" y="139.6" width="15.2" height="16" fill="#fff" fill-opacity="0.55" stroke="#0000ff" stroke-width="2.2"/>
<line x1="813.7" x2="828.9" y1="147.7" y2="147.7" stroke="#0000ff" stroke-width="2.6"/>
<path d="M838.1 141.2h0M842.1 154.5h0M846.3 140.2h0M849 145.2h0M843.2 138.8h0M847.5 124.7h0M840.2 152.9h0M843.9 154.3h0M844.2 168h0M841.1 157.7h0M839.3 136.6h0M847.9 136.3h0M845.5 168.2h0M843.8 132.1h0M847.3 126.4h0M849.2 109.5h0M839.4 155.8h0M843.4 132.9h0M842.2 157.4h0M837.3 127.4h0M849.2 138.3h0M841.7 105h0M849.1 143.4h0M840.6 128.9h0M839.3 136.2h0M841.7 149.2h0M842.4 197.5h0M839.5 155.4h0M840.4 189.1h0M841.1 151.1h0M839.6 137.8h0M838.9 150.2h0M841.2 130.6h0M837.6 164.5h0M849.7 153.8h0M839.3 116.1h0M848.2 153.8h0M850 135.7h0M840.5 147.6h0M840.2 117.6h0M839.2 118.9h0M837.4 137.7h0M847.8 135.8h0M844.7 144.9h0M843.8 160.6h0M838.9 141.2h0M841.2 158.4h0M840.9 166.6h0M838.1 158.5h0M844 123.4h0M836.7 166.5h0M846 140.7h0M842.2 149.6h0M842.6 168.8h0M848.7 152.3h0M849.8 172.9h0M837 143.2h0M842.6 124.2h0M837.9 185.7h0M843.9 114.5h0M836.8 141.2h0M838.7 145.1h0M836.7 155.9h0M845.1 131.8h0M837.6 130.4h0M845.6 140h0M837.8 137.4h0M842.6 142.3h0M847.6 109.7h0M838.3 122.2h0M836.7 153h0M841.4 160.4h0M839.2 167.5h0M842.2 121h0M839.5 164.2h0M850.1 147.6h0M849.2 166.6h0M844.5 161.5h0M841.9 146.2h0M841.2 174.7h0M848.8 138.1h0M848 151.8h0M845.6 141.6h0M840.2 124.9h0" stroke="#ff0000" stroke-opacity="0.42" stroke-width="4.8" stroke-linecap="round" fill="none"/>
<path d="M844.9 131.3h0M849 160.7h0M839.6 136.2h0M844.9 114.3h0M849.8 141.6h0M843.9 160.9h0M847.4 127.1h0M847.7 181.4h0M848 136.8h0M841.8 156.4h0M844.5 142.8h0M848.9 175.1h0M839.6 125.5h0M848.4 141.4h0M838.3 144.4h0M839 151.9h0M841.9 157.9h0M846.7 136.7h0M838.2 160.4h0M842.5 138.3h0M836.8 119.6h0M838 129h0M839.1 162.4h0M848.3 161.4h0M845.9 168.7h0M847.6 111.2h0M847.9 138.6h0M841.4 126.8h0M849.8 132.4h0M846.6 127.9h0M848.8 152.2h0M840.5 162.4h0M843.9 162.7h0M839.3 125.4h0M837.6 122.7h0M849 145.7h0M845.6 148.8h0M841.1 136.6h0M836.8 150.2h0M847.7 138.7h0M847 171.5h0M843.7 106h0M838.7 122.7h0M847.1 130.5h0M842.1 154.2h0M848 155.5h0M844.7 131.5h0M843 119.9h0M846.1 100.5h0M838.4 148.5h0M841.5 139.6h0M842.1 140.6h0M844.5 126.4h0M844 134.8h0M836.8 128.5h0M837.6 136.2h0M836.9 129.7h0M843.8 157h0M848.9 111.9h0M845.3 134h0M849.5 160.2h0M843.1 134h0M845.2 145.5h0M837.9 156.6h0M837.7 184h0M845.4 115.5h0M836.9 154.7h0M837.3 143.2h0M848.7 122.8h0M846.2 141.5h0M845 150.8h0M845.3 119.6h0M848.6 148.3h0M846.4 144.5h0M847.8 168.8h0M839.3 100.2h0M847.4 171.9h0M845.4 137.6h0M838 116.1h0M837.1 141.2h0M839.4 195.2h0M843.9 135.1h0M849.8 140.4h0M842.1 171.9h0" stroke="#ff0000" stroke-opacity="0.42" stroke-width="4.8" stroke-linecap="round" fill="none"/>
<path d="M842.8 156.5h0M840.1 131.5h0M841.4 164.6h0M846.2 146.2h0M848.6 135.4h0M841.9 134.6h0M842.3 132h0M849.6 130h0M847.1 115.1h0M841.6 151h0M836.9 158h0M845.6 155.5h0M846.9 134.3h0M843.3 152.9h0M848.9 144.7h0M838.2 133.4h0M838.3 118.1h0M839.4 168.4h0M843.8 101.4h0M847.9 106.1h0M847.5 160.5h0M838.7 98.7h0M841.4 143.8h0M836.7 143.4h0M843.9 132.1h0M845.3 150.9h0M845.8 159.4h0M845.8 158.3h0M844.8 144.5h0M840.5 176.2h0M842.1 139.6h0M837.8 138.6h0M837.4 152.7h0M845.2 139.3h0M840.1 176.2h0M848 112.5h0M848.5 112.9h0M846.7 136.7h0M837.6 130.7h0M847.5 121.7h0M846.1 88.3h0M841.1 102.6h0M839.3 131.9h0M848.3 182.2h0M839.6 139.8h0M841.1 156.4h0M849.5 114.7h0M839.6 130.7h0M844.4 145.1h0M838.5 145h0M838 135.9h0M837.7 158.4h0M843.7 153h0M845.8 119.5h0M840.5 126.1h0M837.6 133.5h0M837.5 167.5h0M839.1 119.8h0M841.6 160.8h0M841.6 114.6h0M839.6 159.4h0M842.1 142.5h0M847.6 145.3h0M847.3 123.7h0M847.3 114.7h0M844.2 142.9h0M842.2 124h0M839.5 163.2h0M841.6 125.2h0M848.9 173.2h0M841.7 105.5h0M837.5 133.2h0M848.3 131h0M848.9 122h0M841.6 105.9h0M841.4 136h0M838.4 134.2h0M845.9 105h0M846.9 149.6h0M839.8 120.6h0M843.1 156h0M838 146.5h0M838.3 195.7h0M840.3 194.1h0" stroke="#ff0000" stroke-opacity="0.42" stroke-width="4.8" stroke-linecap="round" fill="none"/>
<path d="M845.2 153.1h0M848 110.7h0M840.4 151.7h0M845.5 144.3h0M846.5 156.8h0M844.8 167.1h0M845.9 124.9h0M843.1 173.7h0M848.1 147.4h0M847.2 135.9h0M848.1 131.9h0M846.9 140.2h0M839.2 154.9h0M845.4 142.8h0M840.6 133.8h0M846.7 162.8h0M837.6 154.2h0M849.7 133.8h0M846.8 99.2h0M840.5 123.9h0M847.7 87.8h0M849.6 145.1h0M845.6 95.5h0M844.3 132.9h0M840.8 187h0M844.4 158.5h0M838.1 123.1h0M842.3 159.5h0M847.8 133.8h0M845.6 171.7h0M840.1 176.2h0M836.8 141.2h0M848.1 165.7h0M843.9 137.3h0M846.2 160.2h0M841.3 154.5h0M841.9 98.2h0M848.5 149.3h0M847.8 114.1h0M844.3 134.7h0M845.4 167.3h0M844.8 139.1h0M838.1 151h0M841.3 163.1h0M840.3 127.3h0M844.8 140.5h0M841.8 148h0M839.4 146.2h0M849.5 119.8h0M846.2 137.8h0M842.6 140.9h0M844.4 141.5h0M845 149.7h0M837.4 129.5h0M841.9 129.2h0M846.7 130.2h0M839.4 131.3h0M849.9 168.2h0M848.8 129.6h0M847.4 152.3h0M846.1 150.4h0M845.1 149.2h0M840.4 130h0M849.1 144.4h0M841.4 148.4h0M839.2 153.7h0M841.2 173.2h0M844.3 139.9h0M848.8 196.6h0M837.2 150.8h0M838.1 157.8h0M843.7 108.5h0M842.2 146.9h0M849.9 170.6h0M837.8 167.9h0M843.4 157.3h0M845.7 147.4h0M846.1 159.5h0M848.9 115.2h0M842.9 133.7h0M844.6 163.2h0M846 171.4h0M848.7 137h0M844 116.8h0" stroke="#ff0000" stroke-opacity="0.42" stroke-width="4.8" stroke-linecap="round" fill="none"/>
<path d="M837.7 122.9h0M840.4 140.6h0M845.8 151.4h0M840.5 151.4h0M850 106.8h0M838.9 120.9h0M849.8 142.1h0M838.8 129.1h0M848.7 142.4h0M845.7 90.8h0M838.4 169.6h0M839.5 137.6h0M842.2 117.7h0M845.6 127.9h0M840.2 183.3h0M842.7 124.4h0M843.4 109.6h0M836.8 136.4h0M844.1 154.9h0M838.4 101.8h0M839.1 133.2h0M839.5 124.4h0M847.1 135.1h0M842 137.6h0M838.2 148.1h0M839.1 148.9h0M842.4 115.6h0M847.4 97.9h0M841.7 143.2h0M848.5 127h0M847.6 148.5h0M842.8 147.1h0M844.7 125.3h0M839.6 195.9h0M840.1 143.6h0M849.4 142.6h0M843.1 153h0M845.4 146.8h0M846.2 127h0M844.8 133.6h0M848.2 184.1h0M847.3 132.6h0M837 136.6h0M845.3 133.3h0M844.6 157h0M839.1 131.2h0M841.7 145.9h0M837.6 120.6h0M845.6 132.2h0M837.8 154.9h0M845.7 185.9h0M850.1 159h0M841.3 134.1h0M845.7 116.2h0M848.7 144.2h0M843.7 162.3h0M844.1 117.6h0M844.8 167.7h0M841.6 146.4h0M837.5 166.6h0M848.9 143h0M838.1 122.3h0M847.1 162.3h0M844.9 136.1h0M848.8 175.7h0M837.9 152.1h0M837 124.5h0M839.9 142h0M848.8 129.5h0M843.2 189.6h0M844.9 143.7h0M842.2 146.7h0M840.2 152.4h0M841.9 138.6h0M847.8 94.8h0M848.3 195.2h0M843.6 147.8h0M839.1 140.4h0M844.6 130.5h0M840.4 178.5h0M837.4 162.8h0M845.1 158.9h0M848 147.5h0M840.5 146.2h0" stroke="#ff0000" stroke-opacity="0.42" stroke-width="4.8" stroke-linecap="round" fill="none"/>
<path d="M840 132.2h0M837 169.7h0M841.5 92h0M839.3 136h0M840.1 113.5h0M840.8 131.9h0M838.7 154.4h0M838.4 154.8h0M850.1 145h0M849.3 145.1h0M843.2 143.4h0M847.4 125.7h0M844.3 154.1h0M846.5 155.9h0M844.9 157h0M849.2 133.2h0M844.1 123.6h0M837.5 171.3h0M850.1 148.1h0M846.7 148.1h0M843.5 106.4h0M838.2 153h0M844.6 158.3h0M841.6 99.8h0M845.5 152.4h0M849.1 102.1h0M846.5 170.7h0M849.7 130.1h0M837.3 135.6h0M836.8 128.5h0M842.7 134.3h0M844.2 152.7h0M844.7 141.9h0M848.1 121.1h0M849.6 142.9h0M848.5 123.9h0M840.7 127h0M837.4 152h0M849.7 140.3h0M838.8 140.8h0M845.1 140.9h0M839.3 136.5h0M848.1 126.2h0M837.8 139h0M848.3 107h0M841.5 159.4h0M840.5 130.8h0M839.6 139.7h0M838.3 150h0M849.3 135.3h0M842.1 141.6h0M837.2 143.5h0M846.6 147.9h0M844.1 88.3h0M849.1 157.4h0M849 141.5h0M847.5 143.1h0M843.9 165.1h0M843.3 140.2h0M849.7 135.7h0M848.6 150.3h0M838.9 153.2h0M837.7 143.7h0M845.7 122.4h0M837.3 119.9h0M840.2 145.5h0M844 120.8h0M843.8 158.1h0M845.2 119.6h0M841.9 122.9h0M837 138.5h0M840 117.6h0M844.7 136.3h0M839.8 130.6h0M847.7 146.1h0M846.2 155.5h0M838.9 145.4h0M843.5 125.4h0M837.5 153h0M836.9 127.3h0M838 146.3h0M841.4 143.3h0M846.3 119.8h0" stroke="#ff0000" stroke-opacity="0.42" stroke-width="4.8" stroke-linecap="round" fill="none"/>
<path d="M843.4 101.9V133.4M843.4 154.4V185.9" stroke="#ff0000" stroke-width="1.5" fill="none"/>
<rect x="835.8" y="133.4" width="15.2" height="21" fill="#fff" fill-opacity="0.55" stroke="#ff0000" stroke-width="2.2"/>
<line x1="835.8" x2="851" y1="143" y2="143" stroke="#ff0000" stroke-width="2.6"/>
<path d="M872.1 136.7h0M871.6 141.3h0M860.2 132.9h0M858.7 160.5h0M860.4 141.2h0M871.9 153.2h0M864.6 140.5h0M871.4 139.8h0M869.1 133.7h0" stroke="#0000ff" stroke-opacity="0.42" stroke-width="4.8" stroke-linecap="round" fill="none"/>
<path d="M860.5 139.6h0M869.2 158.2h0M863.4 157h0M871.6 150.1h0M866.8 163h0M864.3 151.5h0M861.4 147.5h0M863.1 138.4h0M860.4 139.5h0" stroke="#0000ff" stroke-opacity="0.42" stroke-width="4.8" stroke-linecap="round" fill="none"/>
<path d="M859.8 150.5h0M862 151.7h0M863.6 156.3h0M870.8 137.5h0M859.2 151.9h0M866.6 156.1h0M869.6 147.6h0M868.4 124.9h0M863.8 147.7h0" stroke="#0000ff" stroke-opacity="0.42" stroke-width="4.8" stroke-linecap="round" fill="none"/>
<path d="M859.9 149.9h0M861.1 145h0M860.8 129.4h0M867.4 155.8h0M870.9 154.8h0M865.9 135.8h0M865.2 115h0M868.6 144.8h0M865.2 160.2h0" stroke="#0000ff" stroke-opacity="0.42" stroke-width="4.8" stroke-linecap="round" fill="none"/>
<path d="M861.6 130.9h0M862.4 135.6h0M865.1 156.7h0M859 132.5h0M862.1 145.4h0M862 159.9h0M861.4 127.7h0M861.6 130.5h0M865.4 143.5h0" stroke="#0000ff" stroke-opacity="0.42" stroke-width="4.8" stroke-linecap="round" fill="none"/>
<path d="M867.4 142.3h0M862.1 127.3h0M868.9 144.4h0M861 144h0M861.2 134.8h0M872.1 138.1h0M862.1 159.5h0M869.2 142.7h0" stroke="#0000ff" stroke-opacity="0.42" stroke-width="4.8" stroke-linecap="round" fill="none"/>
<path d="M865.5 120.9V138M865.5 149.4V163" stroke="#0000ff" stroke-width="1.5" fill="none"/>
<rect x="857.9" y="138" width="15.2" height="11.4" fill="#fff" fill-opacity="0.55" stroke="#0000ff" stroke-width="2.2"/>
<line x1="857.9" x2="873.1" y1="144.5" y2="144.5" stroke="#0000ff" stroke-width="2.6"/>
<path d="M883.2 159h0M885.8 120h0M891.5 180.1h0M891.9 181h0M891.2 137h0M880.9 180.6h0M888.2 132.2h0M886.8 187.5h0M894.1 198.9h0M891.9 178.6h0M884.5 176.8h0M886 188.8h0M885.6 184.7h0M893.2 155h0M883.9 164.6h0" stroke="#ff0000" stroke-opacity="0.42" stroke-width="4.8" stroke-linecap="round" fill="none"/>
<path d="M884.1 183.4h0M893.5 199.8h0M889.4 180.4h0M888.9 179h0M890.7 157.9h0M891.8 212h0M892.6 155.5h0M881.4 169.5h0M893.2 146.3h0M884 130.7h0M890.4 171.3h0M890.4 201h0M885.2 200.7h0M888.3 120.8h0M887.6 152.9h0" stroke="#ff0000" stroke-opacity="0.42" stroke-width="4.8" stroke-linecap="round" fill="none"/>
<path d="M890.3 210.9h0M890.1 193.2h0M887.6 184.1h0M883.6 199.1h0M887.8 184.3h0M890.7 195.7h0M881 197.3h0M888.6 164.3h0M883.2 159.2h0M883.3 177.2h0M882.7 185.2h0M882.5 184.8h0M889 169.5h0M890.9 205.2h0M889.4 196.1h0" stroke="#ff0000" stroke-opacity="0.42" stroke-width="4.8" stroke-linecap="round" fill="none"/>
<path d="M888.1 203.2h0M884.8 169.3h0M881.7 146.7h0M884.7 167.8h0M885 165.4h0M892.5 206.2h0M881.9 196.4h0M889.5 199h0M881.9 189h0M893 161.9h0M890 198h0M888.8 180.6h0M892.9 188.7h0M886.7 181.5h0M889.8 194.7h0" stroke="#ff0000" stroke-opacity="0.42" stroke-width="4.8" stroke-linecap="round" fill="none"/>
<path d="M894.2 176.3h0M884.3 154.2h0M890.6 180.1h0M884 199.9h0M881.8 173.6h0M889.7 166.6h0M882.4 200.8h0M892.5 152.3h0M887.8 159.7h0M883.4 171.5h0M889.4 209.2h0M887.2 155.8h0M883.4 179.1h0M893.1 188.2h0M884.3 170.1h0" stroke="#ff0000" stroke-opacity="0.42" stroke-width="4.8" stroke-linecap="round" fill="none"/>
<path d="M890 201.7h0M885.5 250h0M889.7 206.3h0M881.3 169.6h0M888.2 161.2h0M884.5 154.2h0M881.3 165.9h0M893.5 165.1h0M887.1 191.1h0M893.8 206.3h0M892.5 181.3h0M886.5 174.2h0M892.3 159.8h0M892.5 130.8h0M884.4 162.6h0" stroke="#ff0000" stroke-opacity="0.42" stroke-width="4.8" stroke-linecap="round" fill="none"/>
<path d="M887.6 124V163M887.6 189V212" stroke="#ff0000" stroke-width="1.5" fill="none"/>
<rect x="880" y="163" width="15.2" height="26" fill="#fff" fill-opacity="0.55" stroke="#ff0000" stroke-width="2.2"/>
<line x1="880" x2="895.2" y1="174" y2="174" stroke="#ff0000" stroke-width="2.6"/>
<path d="M910 114.6h0M906.9 117h0M910.2 190.4h0M916.1 182.3h0M910.8 171.7h0M904.3 195.4h0M906.4 136.2h0M915.9 170.6h0M905.1 175.8h0M903.4 176.4h0M912.5 166.6h0M904.9 165.3h0M915.3 180.7h0M907.5 136.1h0M906.7 159.2h0M907.8 172.6h0M903.7 181.8h0M912.6 155.4h0M903 102.8h0M910.1 153.7h0M915.9 206.6h0M909.8 159.4h0M912.7 156.1h0M916.5 163.1h0M909.9 109.8h0M915.9 143.6h0M903.1 162.4h0M905.5 153.4h0M912.3 155.7h0M910.7 178.1h0M903.8 145.8h0M914.9 141.6h0M904.5 170.4h0M903.9 148.5h0M916.1 145.7h0M915.8 148.7h0M908.5 158.1h0M909.4 169.7h0M915.6 99h0M915.5 172.6h0M904.1 169.8h0M912.6 168.5h0M904.7 156.5h0M912.4 170.5h0M904.8 181h0M915.1 161.2h0M908.2 155.8h0M909.4 177.4h0M916.3 157.5h0M906.5 185.8h0M906.1 177.2h0" stroke="#ff0000" stroke-opacity="0.42" stroke-width="4.8" stroke-linecap="round" fill="none"/>
<path d="M910.8 143.1h0M914.2 173.1h0M908.9 167.9h0M905.9 149.6h0M904 183.3h0M909.6 177.3h0M912.9 180.5h0M910.1 162.6h0M910.6 153.4h0M904.7 123.6h0M906.7 171.9h0M904 134.4h0M910.1 190.2h0M910.1 168.5h0M905.2 141h0M910.7 169.4h0M914.9 174.6h0M908.5 169h0M914 176.9h0M905.2 141.2h0M912.2 174.2h0M914 164.8h0M906.2 156.5h0M903.6 151.8h0M912.8 144.1h0M911.5 169.4h0M914.7 169.9h0M913.5 163.7h0M909.3 190.5h0M911.2 178.6h0M911.3 178.2h0M916.4 151.5h0M906 181.8h0M914.7 178.4h0M905.2 197.2h0M911.7 185.9h0M913.4 186.5h0M915.8 160.7h0M909.5 167.2h0M904.4 165.5h0M905.7 157.4h0M912.7 144.3h0M906.3 134.7h0M903.4 161.2h0M903.2 143.2h0M916.1 178.8h0M914.3 141.9h0M914.5 153.2h0M910 168.7h0M911.6 148.4h0M905.6 133.1h0" stroke="#ff0000" stroke-opacity="0.42" stroke-width="4.8" stroke-linecap="round" fill="none"/>
<path d="M912.1 157.2h0M913.7 151.6h0M908.3 165h0M907.8 176.4h0M908.2 172.8h0M909.3 178.2h0M909.6 142.2h0M914.9 158.1h0M916.3 200.3h0M903.8 151.3h0M913 154.6h0M912.4 152.6h0M914.5 170.8h0M914.2 189.1h0M911.4 180.1h0M914 181h0M916 133.3h0M908.8 128.6h0M904.9 160.3h0M909 161.8h0M914.9 174.2h0M906.9 157.9h0M912.1 139.1h0M913.5 166.3h0M912.5 174.2h0M904.3 159.7h0M906.4 101.3h0M915.6 131.2h0M905.3 142.8h0M908.6 183.5h0M911.1 176.8h0M905.8 194.5h0M910.6 149.3h0M904.7 187.7h0M908.3 157.3h0M903.5 185.4h0M905.1 164.7h0M907.5 159.3h0M913.7 180.7h0M904.1 171.3h0M905.4 165.9h0M907.4 205.3h0M903.5 155.2h0M909 162h0M904.1 154.9h0M913.3 182.9h0M909.6 146.3h0M903.6 164.7h0M908.6 184.7h0M915.9 147.5h0M904.3 161.2h0" stroke="#ff0000" stroke-opacity="0.42" stroke-width="4.8" stroke-linecap="round" fill="none"/>
<path d="M904.5 197h0M916.5 144h0M912.4 150.3h0M906.5 142.2h0M911.3 174.6h0M910.3 186.4h0M914.3 122.5h0M914.6 167.4h0M913.8 143.6h0M907 100.7h0M909.8 175.6h0M912.3 178.9h0M903.5 167.4h0M906.8 158.9h0M915.4 163.9h0M913.7 184.9h0M912.9 168.1h0M908.2 170.2h0M915.5 150.3h0M906 149.1h0M903.8 167.4h0M904.5 200.8h0M908.3 111.6h0M911.2 174.7h0M903.7 142.2h0M915.6 179.2h0M904.6 135.7h0M908.2 181.7h0M916.1 171.9h0M911.5 195h0M915.4 178.5h0M905.4 184.4h0M907.1 148h0M914.8 215h0M912.4 157.2h0M907 166.2h0M903.1 103.4h0M911.4 172.6h0M903.2 164.8h0M908.3 175.7h0M903.6 157.7h0M906.9 165.9h0M916.4 167.5h0M914 158h0M914.2 177.8h0M914 146.7h0M912.3 166.6h0M915.1 147.5h0M908.1 102.6h0M903.6 137.6h0M905.6 170.2h0" stroke="#ff0000" stroke-opacity="0.42" stroke-width="4.8" stroke-linecap="round" fill="none"/>
<path d="M904.5 173.2h0M906 150.1h0M908.5 168.7h0M913.5 109.9h0M906.2 175.1h0M907.2 154h0M915.2 169.6h0M911 126.5h0M914.5 146.3h0M907.3 166.9h0M909.6 160.6h0M904.8 150.2h0M910.1 182.4h0M910.1 210.7h0M915.8 169.7h0M904.1 157.9h0M906.8 162.8h0M905.5 153h0M910.5 168.9h0M909.8 184.2h0M906.3 192.5h0M913.9 167.8h0M909.8 107.7h0M916.2 157.8h0M915.2 162.3h0M916 137h0M911.7 161.9h0M910.5 141.3h0M913.9 146.6h0M915.9 170.9h0M913.7 184h0M914.1 183.9h0M903.7 196.8h0M915.8 156h0M913.7 156.9h0M910.1 148.7h0M904.5 201.2h0M912.4 130.1h0M913.2 165.6h0M914.6 121.3h0M907.1 184.9h0M913 147.4h0M904.8 145.4h0M912.9 162.9h0M908.5 193.7h0M906.3 128.1h0M916.2 165.5h0M908.2 188.4h0M916 169.3h0M905.3 155.5h0M904.3 173h0" stroke="#ff0000" stroke-opacity="0.42" stroke-width="4.8" stroke-linecap="round" fill="none"/>
<path d="M908.1 160.5h0M904.4 202.3h0M914.7 147.9h0M908.8 175h0M905 165.8h0M911.4 188.5h0M912.7 204.5h0M906.5 152.5h0M905.8 178.6h0M908 131.7h0M909.2 147h0M903.4 165h0M914.6 193.6h0M906.5 124.4h0M907.5 138.7h0M909.1 164.9h0M912.5 186.4h0M916.5 157.6h0M909.2 179.5h0M903 140.7h0M912.9 174.7h0M905.3 148.5h0M914.4 211.5h0M906 186.3h0M907.3 193.1h0M904.3 162.5h0M903.3 114.8h0M904.4 182.9h0M905.2 159.9h0M914.4 176.2h0M904.6 145.2h0M905.9 151.1h0M915.7 168.9h0M913.2 177.1h0M905.1 175.2h0M915.8 140.5h0M913.2 163.2h0M913.5 195.5h0M914.5 173.3h0M912.9 205.5h0M903.4 146.9h0M909.2 186.8h0M910 176h0M907.7 154.7h0M914 194.6h0M905.7 162.8h0M905.6 158.6h0M916 161.8h0M912.3 157.9h0M904.9 178.3h0" stroke="#ff0000" stroke-opacity="0.42" stroke-width="4.8" stroke-linecap="round" fill="none"/>
<path d="M909.7 120.1V154M909.7 176.6V210.5" stroke="#ff0000" stroke-width="1.5" fill="none"/>
<rect x="902.1" y="154" width="15.2" height="22.6" fill="#fff" fill-opacity="0.55" stroke="#ff0000" stroke-width="2.2"/>
<line x1="902.1" x2="917.3" y1="165.5" y2="165.5" stroke="#ff0000" stroke-width="2.6"/>
<path d="M932.3 147.4h0M927.4 137.3h0M928.7 141.7h0M933.2 159.7h0M931.3 180.9h0M933.8 162.6h0M925.9 141.1h0M935 156.2h0M929.8 146.1h0M929.5 190.7h0M932.9 161.6h0M931.2 195.3h0M927.5 205h0M927.6 152.1h0M928.3 132.6h0M926.8 156.4h0M932.5 135.3h0M930.2 149.6h0M933.9 148.8h0M937.8 154.8h0M929.1 151.8h0M932.8 211h0M934 133.5h0M934.7 157.7h0M936.8 157.1h0M925.5 169.4h0M934.6 187.3h0M936.2 196.1h0M925.5 130.8h0M929.6 144.5h0M928.1 152.1h0" stroke="#ff0000" stroke-opacity="0.42" stroke-width="4.8" stroke-linecap="round" fill="none"/>
<path d="M926.4 126.5h0M926.7 152.5h0M938 154.6h0M927.7 154.5h0M930.5 198.2h0M935 161.4h0M938.3 134.7h0M938 147h0M937.8 165.1h0M932 138.7h0M925.1 161h0M928.8 146.5h0M936.9 120.5h0M936.6 161h0M925.4 150.1h0M928.1 140.8h0M935.6 152.7h0M931.1 179.1h0M934.8 146.1h0M933.2 151.1h0M931.5 161.8h0M935.3 137.5h0M932.3 153.8h0M932.3 169.5h0M936.8 147.3h0M931.4 152.6h0M938.1 143.9h0M932.4 179.4h0M933.1 172h0M925.7 168.5h0M932.1 138.7h0" stroke="#ff0000" stroke-opacity="0.42" stroke-width="4.8" stroke-linecap="round" fill="none"/>
<path d="M931.3 161.3h0M934.6 126.5h0M937 135.2h0M937.8 170.3h0M933.1 151.9h0M934.7 161.2h0M926.9 142.7h0M931.2 133.8h0M930.7 146.2h0M933.4 151.8h0M933.7 147.4h0M931.2 140.5h0M929.1 181.7h0M938.1 158h0M929.3 151.8h0M931.2 160.8h0M938.4 161.7h0M937.7 157.1h0M928.8 128.3h0M927.9 140.5h0M928.7 147.2h0M937.8 187.4h0M925.9 162.9h0M925.2 129.8h0M930.6 154.7h0M933.6 158.8h0M932.5 137.1h0M935.1 157.3h0M937.1 139.6h0M932.4 152.5h0" stroke="#ff0000" stroke-opacity="0.42" stroke-width="4.8" stroke-linecap="round" fill="none"/>
<path d="M925.1 152.7h0M937.4 142.8h0M926.4 158.9h0M925.2 153.4h0M926.7 140.1h0M928.3 152.5h0M938.1 147.3h0M927.8 145.5h0M930.8 138.7h0M936.8 155.7h0M933.5 155.3h0M935.5 135.8h0M934.9 154.3h0M928.4 120.7h0M934.4 168.3h0M927.9 151.2h0M935.2 170.8h0M931.4 118.6h0M925.1 151.4h0M936.9 144.2h0M934.5 156.2h0M937.5 151.8h0M930.7 140.9h0M938.3 195.4h0M934.3 153h0M928.8 150.7h0M927.9 163.8h0M936 157.6h0M932 149.2h0M936.9 188.5h0" stroke="#ff0000" stroke-opacity="0.42" stroke-width="4.8" stroke-linecap="round" fill="none"/>
<path d="M931.6 172.4h0M928.6 158.7h0M931 151.3h0M937.5 140.6h0M925.2 146.6h0M934 168.1h0M934.6 141.3h0M927 154.2h0M926 147.2h0M933.7 164.5h0M935.2 160h0M932.1 163.4h0M934.4 148.7h0M933.4 134.1h0M930.8 152.1h0M937.9 149.6h0M929.9 162.1h0M926.6 161.5h0M936.4 121.6h0M930.7 159.6h0M927.7 131.7h0M938.6 140.3h0M929.4 142.5h0M928.6 144.8h0M930.7 174.7h0M929 135.5h0M928.1 129.3h0M935.8 156.7h0M926.4 171.8h0M933.4 145.6h0" stroke="#ff0000" stroke-opacity="0.42" stroke-width="4.8" stroke-linecap="round" fill="none"/>
<path d="M927.9 168.8h0M929.1 156.4h0M929.5 147.9h0M935.5 164.7h0M938 152h0M929.4 150.4h0M932.4 167.8h0M938.4 161.2h0M934.2 156.3h0M930.3 165.3h0M929.1 157.9h0M938 147.7h0M932.7 150.4h0M938.6 168.1h0M930.6 147.5h0M934.6 148.4h0M932.3 145.2h0M926.3 154.8h0M928.6 154.6h0M928.7 154.1h0M937.4 144.3h0M929.3 171.4h0M930.9 154.6h0M936.4 144.5h0M935.7 142.6h0M929.4 160.8h0M934.6 157.6h0M929 150.1h0M937.4 148.9h0M925.6 159.4h0" stroke="#ff0000" stroke-opacity="0.42" stroke-width="4.8" stroke-linecap="round" fill="none"/>
<path d="M931.8 125.7V145.7M931.8 159V179" stroke="#ff0000" stroke-width="1.5" fill="none"/>
<rect x="924.2" y="145.7" width="15.2" height="13.3" fill="#fff" fill-opacity="0.55" stroke="#ff0000" stroke-width="2.2"/>
<line x1="924.2" x2="939.4" y1="153" y2="153" stroke="#ff0000" stroke-width="2.6"/>
<path d="M958.4 180.6h0M953.6 137.8h0M954.9 159.6h0M959.4 134.8h0M959 164.4h0M953.1 151.4h0M953.3 158.5h0M960.7 140.9h0M949.9 163.5h0M947.5 146.3h0M949.8 119.9h0M949 192.1h0M951.6 159.2h0M956.8 165.5h0M960.1 173.5h0M947.6 198.8h0M956.8 135.7h0M953.6 189.3h0M948.3 139.6h0M953.7 163.6h0M948.8 144h0M956.1 150.2h0M949 168.8h0M958.5 116h0M956.5 134.2h0M949 169.7h0M958.3 161.7h0M955.1 149.3h0M947.7 190.4h0M952.8 126.5h0M952.7 150h0" stroke="#ff0000" stroke-opacity="0.42" stroke-width="4.8" stroke-linecap="round" fill="none"/>
<path d="M953.9 156.2h0M957.4 132h0M948.3 150.5h0M958.6 156.7h0M956.2 151.9h0M949.6 162.4h0M952.3 132.9h0M947.2 173.3h0M950.9 152.1h0M956.6 155.1h0M956.4 173.1h0M953.1 149.3h0M959.7 179.7h0M960.4 121.7h0M948.5 148.3h0M951 134.9h0M952.7 128.7h0M954.4 130.4h0M954.3 143.4h0M949 167.6h0M953.9 150h0M959.4 182.8h0M954 155.7h0M950.7 201.4h0M956.7 127.9h0M956.5 171.3h0M952.3 152.7h0M956.9 157.6h0M951.2 202.2h0M960 195h0M949.2 133.6h0" stroke="#ff0000" stroke-opacity="0.42" stroke-width="4.8" stroke-linecap="round" fill="none"/>
<path d="M949.7 153.3h0M951.8 125.2h0M954 164.3h0M953.7 139.1h0M958.4 171.5h0M950.1 155.9h0M955.9 146.1h0M959.7 126.6h0M956 172.7h0M957 165.5h0M947.3 158.2h0M959.5 155.9h0M947.5 158.5h0M949 160.5h0M954.3 147.6h0M949.5 181.2h0M954 153.5h0M955.5 137.5h0M951 141.1h0M950.1 123.4h0M950.1 132.4h0M956.5 121h0M958.2 155.9h0M948.3 163.8h0M954.4 166.8h0M950.6 182.9h0M960.1 178.2h0M956.5 125.5h0M948 152.1h0M954 165.2h0M955.2 145.2h0" stroke="#ff0000" stroke-opacity="0.42" stroke-width="4.8" stroke-linecap="round" fill="none"/>
<path d="M958.7 184.4h0M955.4 148h0M952.8 155.7h0M960.1 156.9h0M954.2 126.3h0M958 137.3h0M948.2 171.1h0M950.4 167.2h0M956.8 168.9h0M960.2 163.4h0M950.7 171.5h0M950.1 153.1h0M953.8 130h0M954.2 144.5h0M952.1 176.9h0M950.2 129.5h0M951.6 144.1h0M956 164.2h0M958.6 165.9h0M955.7 147.8h0M950.5 118.3h0M958.3 157.9h0M960.7 149h0M958.7 146.3h0M957.2 129.2h0M949.3 184.6h0M960.1 146.3h0M951.5 148.5h0M949 160.7h0M949.4 140.3h0M947.8 182.3h0" stroke="#ff0000" stroke-opacity="0.42" stroke-width="4.8" stroke-linecap="round" fill="none"/>
<path d="M958.2 161.7h0M959.8 138.5h0M947.9 159.4h0M947.6 165.4h0M948.4 175.2h0M955.6 150.2h0M960.3 144.7h0M960.1 171.5h0M951.1 153.9h0M960.7 143.6h0M959.3 156.6h0M947.9 154.3h0M959.6 165h0M958.3 174.4h0M957.6 142.1h0M949.6 172.6h0M949.9 198.5h0M955.1 142.4h0M958.7 157.6h0M959.5 133.3h0M947.8 146.2h0M947.6 158.1h0M957.8 134.3h0M950.1 169.9h0M953.2 150.7h0M951.8 173.4h0M958.9 174.2h0M951.3 132.1h0M959.6 168.9h0M957.7 153.1h0M960 164.9h0" stroke="#ff0000" stroke-opacity="0.42" stroke-width="4.8" stroke-linecap="round" fill="none"/>
<path d="M959 119.4h0M947.4 132.6h0M957.8 161.6h0M949.8 157.3h0M960.2 140.3h0M951.1 156.2h0M957.5 156.5h0M949.8 141.4h0M955.4 151.5h0M957.1 150.2h0M953.5 138.1h0M959.5 149.4h0M951.2 172.4h0M952 140.9h0M959.4 202.4h0M950.2 151h0M959.1 124.9h0M958.5 155.9h0M952.3 172.1h0M953.1 167.9h0M956.8 145.9h0M950.3 173.7h0M950.5 137.3h0M948 130.6h0M957.9 139.6h0M957.2 166.6h0M949.7 144.8h0M947.2 159.8h0M947.9 148.9h0M948.6 161.8h0M954.9 160.6h0" stroke="#ff0000" stroke-opacity="0.42" stroke-width="4.8" stroke-linecap="round" fill="none"/>
<path d="M953.9 116.8V144.5M953.9 163V190.8" stroke="#ff0000" stroke-width="1.5" fill="none"/>
<rect x="946.3" y="144.5" width="15.2" height="18.5" fill="#fff" fill-opacity="0.55" stroke="#ff0000" stroke-width="2.2"/>
<line x1="946.3" x2="961.5" y1="153" y2="153" stroke="#ff0000" stroke-width="2.6"/>
<path d="M979.4 130.9h0M978.3 126.5h0M973.5 145.5h0M971 157.6h0M975.8 159.6h0M982.2 160.3h0M969.7 167.3h0M979.9 158.4h0M975.8 137.1h0M982.6 147.4h0M973.2 165.6h0M974.2 179.1h0M981.5 170.7h0M972.7 150.1h0M978.7 153.8h0M982.4 177.3h0M971 171.1h0M982.7 149.2h0M972.3 118.4h0M972.4 186.7h0M972.7 151.2h0M981.4 169.2h0M975 162.7h0M970.2 148.8h0M974.1 175.2h0M978.1 181.7h0M978.3 150.1h0M975.2 175.3h0M971.1 168.4h0M974.1 212.9h0M975.5 189.6h0M981.7 155.8h0M979.9 152.6h0M977.1 209.5h0M982.1 162.2h0M970.1 149h0M969.7 161.2h0M973.7 151.8h0M981.9 144.6h0M979.7 160.6h0M975.6 173.3h0M979.4 142.2h0M977.5 170.8h0M975.3 167.4h0M976.3 180.2h0M974.3 157.2h0M972.5 177.7h0M980.7 179.2h0M971.1 146.7h0M971.7 172.6h0M978.7 157.8h0M981.4 131.8h0M975.6 174.5h0M975.5 153.5h0M975.7 148.3h0M979.8 145.4h0M971.1 159.7h0M975.5 170.1h0M977.3 127.1h0M981.9 164h0M970.5 163h0M974.7 157.2h0M980 162h0M972.4 169.8h0M982 161.2h0M976.1 164.4h0M980.9 137.6h0M979.6 145.5h0M981.2 169.9h0M979.1 190.6h0M972.9 191.2h0M972.3 146.6h0M970.9 152.5h0M970.3 136.2h0M971.8 151.8h0M971.9 148.1h0M969.4 139.9h0M978.7 156.1h0M981.8 139h0M980.6 153.3h0M970.7 148.2h0M973.6 164.9h0M974.9 124.9h0M975.9 174.1h0" stroke="#ff0000" stroke-opacity="0.42" stroke-width="4.8" stroke-linecap="round" fill="none"/>
<path d="M978.3 154.6h0M975.9 146.3h0M977.8 156.4h0M975.8 160.1h0M976.5 157.5h0M969.7 147.3h0M982 139.5h0M975.1 151.8h0M972.5 113.7h0M970.8 126.1h0M969.9 146.5h0M980.7 161.9h0M978 145h0M976.4 161.8h0M978.4 166.5h0M972.9 155.4h0M980.9 135h0M970.6 125h0M977 143.9h0M974.7 141.6h0M976.9 148.9h0M974.5 161.5h0M977.2 129.1h0M971.6 165h0M974.4 138.1h0M981.7 121.9h0M976.4 157.8h0M972.7 149.8h0M980 154.9h0M978.8 151.5h0M978.8 119.8h0M982.7 159.4h0M970 213h0M976.4 153.9h0M974.8 175.9h0M972.9 149.1h0M974.8 160h0M977.6 140.1h0M982.6 201.6h0M973.8 181.9h0M978.8 150.2h0M969.7 159h0M978.5 168.8h0M969.6 158.3h0M976 150.2h0M973.2 148.2h0M977.9 143h0M981.4 172.8h0M978.6 168.3h0M973.6 142.3h0M975.6 181.6h0M969.3 167.5h0M973.4 118.7h0M977 146h0M977.6 143.9h0M982.3 156.3h0M976 168.5h0M973.9 127.2h0M978.3 125.7h0M980.9 155h0M971.4 194.5h0M979.1 136.1h0M972.9 156.1h0M973.4 158.3h0M970.8 180.1h0M982.5 162h0M976.5 156.2h0M978.2 150.3h0M979.9 157.5h0M977.7 138.9h0M973.3 168.3h0M975.5 159.5h0M970.5 186.5h0M979.3 158.8h0M977.5 146.7h0M969.8 147.2h0M979.3 136.8h0M977.3 156.3h0M970.7 183.1h0M976.3 167.8h0M976.3 165.4h0M980.5 152.6h0M971.7 146.2h0" stroke="#ff0000" stroke-opacity="0.42" stroke-width="4.8" stroke-linecap="round" fill="none"/>
<path d="M969.5 139.3h0M975.9 154.2h0M982.8 163.9h0M972.7 150.6h0M975.4 152h0M972.6 175h0M977.2 150h0M977.4 116.3h0M979.5 165.3h0M973.4 179.2h0M980.9 147.4h0M976.5 157.9h0M978.1 155.6h0M976.2 136.5h0M979.8 142.8h0M969.6 140.7h0M971.5 168.5h0M974 144.4h0M976.7 170.5h0M981.9 138h0M981.9 166.6h0M982.3 136.2h0M970.5 150.1h0M973.7 130.5h0M978.6 121.1h0M974.6 138.7h0M970.5 158.8h0M981.4 150.8h0M978 146.4h0M982.4 153.5h0M979.2 149.1h0M982.6 145.6h0M970.4 173.4h0M976.2 140.1h0M972.7 146.1h0M971.2 146h0M977.3 169.3h0M974.6 166.2h0M981.7 148.1h0M976.1 162h0M971.6 156.4h0M981.1 144.6h0M973.6 172.1h0M970.6 153.9h0M978.5 163.8h0M974.8 148.3h0M980.3 176.9h0M975.5 166.3h0M977.1 136h0M971.1 113.8h0M976.9 166h0M977.3 148.8h0M973.9 122.1h0M976.2 153.9h0M977 148.4h0M979.2 125.2h0M981.6 122.6h0M982.3 149h0M976.9 157.1h0M977.5 158.3h0M979.7 165.5h0M972.4 158.8h0M969.7 177.3h0M979.5 167.6h0M973.8 146.3h0M977.3 174.5h0M976.4 166.1h0M980 157.6h0M976.6 126.4h0M971.1 156.7h0M981.8 151.9h0M976.7 158.3h0M970.9 146.7h0M979.4 129.4h0M970.5 118.6h0M972.6 157.2h0M969.8 173.3h0M973.3 150.3h0M972.4 169h0M972.7 145.6h0M982.8 141.9h0M976.4 167.6h0M970.6 169.1h0" stroke="#ff0000" stroke-opacity="0.42" stroke-width="4.8" stroke-linecap="round" fill="none"/>
<path d="M981.5 201.2h0M971.7 154.5h0M982.8 159.5h0M970 169.5h0M976.1 155.7h0M981.9 155.2h0M974.9 156.8h0M980.2 149.9h0M970.1 124h0M974.7 155.2h0M979.6 170.8h0M982.7 151.6h0M981.2 144.2h0M977.9 165.7h0M973.8 141h0M978.5 155.2h0M977.6 154.6h0M972.2 171.6h0M975 176.9h0M974.8 164.1h0M979.2 145h0M974.6 130.8h0M982.4 169h0M979.8 168.3h0M972.4 184.5h0M979.2 164.3h0M970.1 144.1h0M980.2 149h0M977.2 164.3h0M974 151.2h0M982 179.9h0M978.3 159h0M976 160.3h0M977 133.3h0M979.8 151.4h0M979.6 163.3h0M973.2 170.3h0M979 169.5h0M971.6 138.8h0M978.8 158.7h0M973 213.5h0M980.3 161.4h0M976.2 153.7h0M976.1 164.3h0M982.5 161.5h0M969.6 169.8h0M978.2 118.7h0M982.5 141.4h0M969.7 174.3h0M980.8 135.9h0M976.9 151.3h0M971 149.1h0M970.1 153.9h0M969.7 196.6h0M975.6 113.8h0M970.3 157.6h0M982 165.6h0M975.4 164.6h0M972.5 167.8h0M981.3 155.4h0M972.7 152.1h0M973.9 146.6h0M980.7 162.3h0M978.5 171.4h0M969.8 145.6h0M980.1 176.1h0M976.9 165.7h0M970.2 154.1h0M979.7 162h0M976.1 148.6h0M975.9 162.4h0M980.8 165.2h0M980 161.4h0M969.9 143.9h0M979.8 139.3h0M975.2 139.6h0M971.9 150h0M979 149.4h0M974.8 152.1h0M972.6 151.1h0M981.3 162.5h0M976 134.3h0M976.7 148.5h0" stroke="#ff0000" stroke-opacity="0.42" stroke-width="4.8" stroke-linecap="round" fill="none"/>
<path d="M977.1 153.2h0M974.9 167.7h0M971.1 150.1h0M970.4 148h0M971.2 149.4h0M977.6 155.5h0M974 159.4h0M976.6 170.6h0M980.5 162.7h0M978.7 155.5h0M974.4 151.1h0M980.2 154.3h0M970 159h0M981.9 195.1h0M971.8 130.7h0M980.1 155.3h0M979.7 173.7h0M976.9 168.5h0M972.2 166.8h0M969.5 146.7h0M979.5 146.3h0M981.4 142h0M970.8 148.3h0M980.2 142.1h0M977.4 133.2h0M971.2 158.2h0M980.5 157.2h0M981.9 154.7h0M974.6 143.1h0M969.7 158.5h0M973.2 162.9h0M972.3 165.9h0M977.9 161.3h0M972.4 175.6h0M980.7 139.4h0M969.6 161h0M973 165h0M974 157.6h0M973.1 160.7h0M977.5 161.7h0M979.4 157.2h0M972.5 150.6h0M974.3 160.4h0M972.2 153.9h0M977.8 149h0M969.5 151.7h0M972.7 159.2h0M977.7 122.1h0M979.8 147.5h0M969.7 172.9h0M971.9 177.2h0M978.8 167h0M981.3 175.5h0M977.8 163.4h0M977.1 155.7h0M980.8 158.6h0M974.5 148.9h0M981.9 169.8h0M973.5 114.8h0M975.3 163.9h0M979.5 160.2h0M981.1 147.6h0M971.4 180h0M972.1 153.4h0M981.9 145.6h0M978.2 157h0M980.1 140.3h0M973.5 154h0M973.7 160.1h0M978.5 142.9h0M977.7 150.5h0M971.2 164.8h0M971.5 126h0M972 152.4h0M980 138.2h0M974.1 152.3h0M974.2 160.9h0M970.4 149.5h0M982.1 166.2h0M977.8 146.5h0M979 163h0M978.1 147.9h0M970.3 123.9h0" stroke="#ff0000" stroke-opacity="0.42" stroke-width="4.8" stroke-linecap="round" fill="none"/>
<path d="M977.6 141.4h0M982.6 122.8h0M972.5 136.1h0M977.4 144.4h0M973.2 149.6h0M972.6 147.3h0M981 128.7h0M974.6 135.8h0M973.8 158.2h0M977 158.5h0M979.3 151h0M982.8 172.1h0M978.7 154.6h0M979.1 181.1h0M975.8 157.9h0M974.4 160.1h0M971.8 158.9h0M971.6 152.6h0M982.3 150.1h0M970 152.9h0M972.9 138h0M970.7 186.2h0M977.8 155.7h0M973.3 166.5h0M974.7 135.5h0M980.5 151.3h0M978.5 139.3h0M977 170h0M975.8 143.5h0M979.3 144.4h0M979.7 147.1h0M976 163.2h0M982.6 151.3h0M969.5 169.9h0M978.1 159.8h0M977.9 179.4h0M979.5 148.3h0M973.3 149.3h0M976.2 145.6h0M978.4 161.5h0M973.8 153.9h0M981 205.7h0M975.7 150.4h0M980.8 143.8h0M979.5 138.5h0M975.3 162.5h0M976.2 163.3h0M980.6 162.9h0M970 157.9h0M972.4 144.4h0M969.8 150.7h0M975.2 153.5h0M980.8 153.7h0M978.1 199.3h0M971.4 213.3h0M979.5 148.9h0M972.3 155.7h0M975.9 167h0M976.4 138.9h0M969.4 127.2h0M978.4 165h0M970.7 185.8h0M976.8 156h0M974.4 152.7h0M981.4 158.2h0M977 152.6h0M982.2 177.3h0M980.1 142.8h0M976.6 159.4h0M972 149h0M981.4 170.4h0M978.1 166.4h0M977.6 149.5h0M980.2 156.2h0M974.3 116.4h0M980 155.2h0M973.3 201.6h0M969.7 173.3h0M971.5 152h0M969.3 149h0M969.6 166.6h0M970.5 189.1h0M969.6 147.2h0" stroke="#ff0000" stroke-opacity="0.42" stroke-width="4.8" stroke-linecap="round" fill="none"/>
<path d="M976.1 121.5V147M976.1 164V189.5" stroke="#ff0000" stroke-width="1.5" fill="none"/>
<rect x="968.5" y="147" width="15.2" height="17" fill="#fff" fill-opacity="0.55" stroke="#ff0000" stroke-width="2.2"/>
<line x1="968.5" x2="983.7" y1="155.6" y2="155.6" stroke="#ff0000" stroke-width="2.6"/>
<path d="M1000.4 161.8h0M992.2 157.6h0M997 155.1h0M1003.9 150.3h0M1004.8 149.1h0M1001.7 154.6h0M1002 155.9h0M997.8 141.3h0M998.4 145.9h0" stroke="#0000ff" stroke-opacity="0.42" stroke-width="4.8" stroke-linecap="round" fill="none"/>
<path d="M993.8 137h0M996.8 154.3h0M1000.2 142.7h0M997.1 141.9h0M1003.2 154.6h0M1001.2 143.9h0M1000.7 160.4h0M995.5 161.1h0M1003.5 160.4h0" stroke="#0000ff" stroke-opacity="0.42" stroke-width="4.8" stroke-linecap="round" fill="none"/>
<path d="M992.8 142.5h0M999.6 154.3h0M1000.7 140.4h0M1000.8 137.5h0M995.4 161.3h0M1000.3 152.1h0M991.8 145.6h0M1003.3 137.2h0M995.9 145.6h0" stroke="#0000ff" stroke-opacity="0.42" stroke-width="4.8" stroke-linecap="round" fill="none"/>
<path d="M998.5 155.1h0M996.7 142.7h0M1002.3 170h0M994.2 132h0M1001.5 138.5h0M1000 159.1h0M999.8 145.6h0M1001.4 158h0M996.8 138.6h0" stroke="#0000ff" stroke-opacity="0.42" stroke-width="4.8" stroke-linecap="round" fill="none"/>
<path d="M994.5 139.8h0M991.9 144.1h0M1003.4 153.5h0M991.7 139.1h0M1002.8 159.1h0M997.8 163.9h0M1003.3 127h0M998.7 152.6h0M992.4 148.8h0" stroke="#0000ff" stroke-opacity="0.42" stroke-width="4.8" stroke-linecap="round" fill="none"/>
<path d="M991.9 146.9h0M1003.6 160.6h0M995 157.7h0M1003.3 163.9h0M1000.3 164.3h0M998.1 151.5h0M998 144.7h0M996.5 147.3h0M996.7 155.5h0" stroke="#0000ff" stroke-opacity="0.42" stroke-width="4.8" stroke-linecap="round" fill="none"/>
<path d="M998.2 127V143M998.2 157V170" stroke="#0000ff" stroke-width="1.5" fill="none"/>
<rect x="990.6" y="143" width="15.2" height="14" fill="#fff" fill-opacity="0.55" stroke="#0000ff" stroke-width="2.2"/>
<line x1="990.6" x2="1005.8" y1="150" y2="150" stroke="#0000ff" stroke-width="2.6"/>
<path d="M1018 179.7h0M1017.8 178.5h0M1025.9 196.7h0M1013.5 172.9h0M1018.9 188h0M1013.6 203.9h0M1022.6 217.2h0M1021.7 179.2h0M1022.9 145.5h0M1017.4 180.8h0M1020.4 160.3h0M1019.1 172.4h0M1020.2 183.2h0M1026 153.1h0M1024.8 190.1h0M1025.1 146.3h0M1016.2 171.2h0M1013.6 156.6h0M1020.4 177.8h0M1026 187.8h0M1026.3 172h0M1017.2 146.8h0M1014.4 161.4h0M1018.7 227.6h0M1025.5 173.3h0M1019.6 142.5h0M1024 202.3h0M1022.1 177.2h0M1019.8 164.8h0" stroke="#ff0000" stroke-opacity="0.42" stroke-width="4.8" stroke-linecap="round" fill="none"/>
<path d="M1026.3 169.4h0M1024.7 148h0M1022.5 174.8h0M1016.6 221.9h0M1021.1 185.4h0M1016.5 177h0M1013.7 170.5h0M1023.8 174.4h0M1016.7 237h0M1019.1 176.9h0M1019.9 182.4h0M1026.2 213.1h0M1015 184.3h0M1021.6 172.3h0M1017.5 171.2h0M1014.1 168.4h0M1018.2 168.3h0M1017.6 172.2h0M1023.3 195h0M1026.2 185.9h0M1020 178.5h0M1022.8 220.7h0M1021.4 168.9h0M1022.4 167.8h0M1025 171.3h0M1014.5 214.4h0M1020.3 180h0M1018.6 186.4h0M1019.3 176.4h0" stroke="#ff0000" stroke-opacity="0.42" stroke-width="4.8" stroke-linecap="round" fill="none"/>
<path d="M1022 151.6h0M1026.1 178.6h0M1026.8 169.9h0M1019.5 197.2h0M1019.7 196.9h0M1026.2 157.9h0M1018.1 198.4h0M1022.9 190h0M1022.3 154.9h0M1019.4 173.6h0M1026.5 200.3h0M1014.7 171.4h0M1019.1 183.2h0M1016.6 184.7h0M1027.1 169.5h0M1020.5 182.2h0M1026.8 197.8h0M1013.9 180.5h0M1024.4 166.3h0M1024.7 170h0M1016.9 175.8h0M1021.7 179.6h0M1022.1 188.1h0M1024.5 144.4h0M1022.8 178.1h0M1022.6 136.9h0M1020.3 145.4h0M1017.3 133.4h0" stroke="#ff0000" stroke-opacity="0.42" stroke-width="4.8" stroke-linecap="round" fill="none"/>
<path d="M1026.1 224.7h0M1014.1 214.7h0M1025.9 181.6h0M1015.6 151.9h0M1015.9 191.8h0M1026 189.2h0M1026.9 152.8h0M1017.1 199.9h0M1026.9 191.9h0M1016.5 188.3h0M1018.5 141h0M1019.6 165.1h0M1021.5 167.8h0M1023 168.1h0M1015.7 195.4h0M1017.8 187.2h0M1014.3 170.3h0M1018.3 182.1h0M1015.6 183.7h0M1014.9 194.6h0M1024.1 211.8h0M1019.3 165.4h0M1016.9 150.3h0M1026.4 136.4h0M1017.3 194.1h0M1014.9 174.6h0M1025.5 170h0M1024.2 167h0" stroke="#ff0000" stroke-opacity="0.42" stroke-width="4.8" stroke-linecap="round" fill="none"/>
<path d="M1017.3 180.1h0M1018 156.5h0M1023 146.8h0M1027 176.1h0M1016.1 189h0M1019.6 199.6h0M1013.9 151h0M1014 171h0M1015.2 175.3h0M1014 150h0M1022.2 209.7h0M1018.9 159.5h0M1016.7 189.2h0M1025 143.2h0M1025.4 184.5h0M1016.7 168.4h0M1015.1 167.7h0M1015.5 150.9h0M1023.2 207.4h0M1023.6 139.8h0M1019.5 181.3h0M1017.4 169.6h0M1021 156h0M1016 142.3h0M1021.9 137.7h0M1019.7 189.9h0M1023.9 157.5h0M1015.9 161.5h0" stroke="#ff0000" stroke-opacity="0.42" stroke-width="4.8" stroke-linecap="round" fill="none"/>
<path d="M1023.9 181.3h0M1026.8 184.5h0M1023.7 182.1h0M1014.5 169.1h0M1025.7 196.4h0M1022.6 192.6h0M1016.6 193h0M1026 177.1h0M1022.2 157.3h0M1018.2 155.9h0M1013.6 153.2h0M1020.1 206.5h0M1014.1 212.6h0M1015.5 182.2h0M1015.8 170.5h0M1015.2 154.9h0M1016.5 156.5h0M1015 158.7h0M1018 145.3h0M1016.6 258h0M1018 160.4h0M1013.9 187.2h0M1017 178.5h0M1021.8 196.4h0M1024.6 164.5h0M1014.4 230h0M1014 168.3h0M1025.9 198.2h0" stroke="#ff0000" stroke-opacity="0.42" stroke-width="4.8" stroke-linecap="round" fill="none"/>
<path d="M1020.3 133.4V161.8M1020.3 186.4V223.3" stroke="#ff0000" stroke-width="1.5" fill="none"/>
<rect x="1012.7" y="161.8" width="15.2" height="24.6" fill="#fff" fill-opacity="0.55" stroke="#ff0000" stroke-width="2.2"/>
<line x1="1012.7" x2="1027.9" y1="174" y2="174" stroke="#ff0000" stroke-width="2.6"/>
<path d="M1040.9 137.6h0M1040.5 140.9h0" stroke="#0000ff" stroke-opacity="0.42" stroke-width="4.8" stroke-linecap="round" fill="none"/>
<path d="M1045.1 143.4h0M1037.3 154.1h0" stroke="#0000ff" stroke-opacity="0.42" stroke-width="4.8" stroke-linecap="round" fill="none"/>
<path d="M1045.1 136h0M1047.1 144.2h0" stroke="#0000ff" stroke-opacity="0.42" stroke-width="4.8" stroke-linecap="round" fill="none"/>
<path d="M1045.6 145.8h0M1040.3 153.8h0" stroke="#0000ff" stroke-opacity="0.42" stroke-width="4.8" stroke-linecap="round" fill="none"/>
<path d="M1037.9 146.1h0M1037.8 142.8h0" stroke="#0000ff" stroke-opacity="0.42" stroke-width="4.8" stroke-linecap="round" fill="none"/>
<path d="M1047.5 149h0M1048.2 160.5h0" stroke="#0000ff" stroke-opacity="0.42" stroke-width="4.8" stroke-linecap="round" fill="none"/>
<path d="M1042.4 136V143M1042.4 154.4V160.5" stroke="#0000ff" stroke-width="1.5" fill="none"/>
<rect x="1034.8" y="143" width="15.2" height="11.4" fill="#fff" fill-opacity="0.55" stroke="#0000ff" stroke-width="2.2"/>
<line x1="1034.8" x2="1050" y1="148" y2="148" stroke="#0000ff" stroke-width="2.6"/>
<path d="M1059.2 185.4h0M1069.6 179.5h0M1066.8 185.1h0M1065.8 217.1h0M1059 158.6h0M1059 146.5h0M1059.7 225.2h0M1071.1 180.6h0M1071 154.1h0M1057.7 184.9h0M1068.7 156.1h0M1059.1 201.5h0M1069.1 165.1h0M1064.3 140.7h0M1070 161.4h0M1063.6 211.2h0M1063.8 157h0M1060.5 144.9h0M1059.3 161.7h0M1058.2 164.4h0M1060.3 158.4h0M1069 144.4h0M1066 161.7h0M1059.4 206.7h0M1062.5 141.9h0M1062.9 156h0M1064.6 160.5h0M1062.3 197h0M1063.5 165.5h0M1063.6 227h0M1061.1 136.2h0M1065.5 217.4h0M1062.9 186.4h0M1067.1 198.6h0M1066.3 177.7h0M1058.7 153.3h0M1059.7 155.4h0M1065.9 217.2h0M1066.3 187h0M1068.4 151.3h0M1062.9 158.3h0M1067.3 191.5h0M1063.5 131.2h0M1067.4 177.5h0" stroke="#ff0000" stroke-opacity="0.42" stroke-width="4.8" stroke-linecap="round" fill="none"/>
<path d="M1065.3 161.6h0M1065.2 132.1h0M1070.5 186.4h0M1068.9 129h0M1065.2 161.6h0M1070 162.1h0M1057.8 154.6h0M1060 164.5h0M1062.8 178.1h0M1061.1 122.5h0M1060.5 207.9h0M1062 143.3h0M1063.1 168.4h0M1071.2 170.6h0M1070.7 183.1h0M1060.7 207.7h0M1068.3 159.1h0M1069.9 200h0M1059 222.7h0M1071.3 175.7h0M1062.7 172h0M1067.5 129.7h0M1063.4 199.6h0M1063 147.1h0M1069.1 159.3h0M1061.3 157.3h0M1067.5 156.8h0M1066.1 142.4h0M1065.4 216h0M1059.2 191.3h0M1069.2 195.8h0M1071 159.6h0M1063.8 151.6h0M1059.4 128h0M1060.4 124.6h0M1057.9 191.7h0M1059.7 145h0M1066 182.8h0M1060.1 189h0M1070.1 186.6h0M1062.8 177.3h0M1069.3 199.4h0M1058.5 161.8h0M1064.8 153h0" stroke="#ff0000" stroke-opacity="0.42" stroke-width="4.8" stroke-linecap="round" fill="none"/>
<path d="M1070.1 180.3h0M1067.1 168.6h0M1058.9 132.5h0M1058.3 185.6h0M1063.7 147.4h0M1069.9 167.8h0M1060.5 202.1h0M1064.8 178.2h0M1060.7 174.7h0M1063.8 158.6h0M1066.2 160.1h0M1064.1 166.6h0M1067.7 221.7h0M1062.5 150.5h0M1065.4 181.9h0M1060.1 183h0M1066.2 187.9h0M1068.9 129.8h0M1070.7 164.2h0M1062.3 159.1h0M1065.5 181.9h0M1068.4 189.2h0M1066.7 179.2h0M1058.6 149.1h0M1070.4 164.5h0M1066.2 140.5h0M1067.2 165.9h0M1068.2 151.5h0M1062.2 193.1h0M1060.5 191h0M1065.2 181.8h0M1059 207.9h0M1069.1 173.3h0M1065.2 188.8h0M1062.1 156h0M1066.1 161.7h0M1060.7 198.8h0M1071.3 151h0M1067.7 164h0M1064.5 149.4h0M1062.4 117h0M1067.3 146.6h0M1059 171.7h0M1062.5 171.2h0" stroke="#ff0000" stroke-opacity="0.42" stroke-width="4.8" stroke-linecap="round" fill="none"/>
<path d="M1062.1 171.6h0M1066 133h0M1063.2 179.9h0M1061.3 194.3h0M1065.9 181h0M1060.7 193.5h0M1066.8 180.8h0M1071.2 159.7h0M1067.4 156.7h0M1067.8 176.8h0M1069 180.9h0M1065 185.5h0M1062.5 144.8h0M1067 137.1h0M1067.8 197.5h0M1069.8 190.3h0M1060.6 191.9h0M1058.7 190.9h0M1066.7 153.8h0M1062.5 148.1h0M1070.3 166.3h0M1065.7 153.3h0M1061 137.3h0M1070.5 178.8h0M1058.8 174.2h0M1068.8 126.2h0M1068.7 166.8h0M1067.3 155.5h0M1065.9 127.1h0M1065.7 123.5h0M1061.6 162h0M1070 152.4h0M1058 118.8h0M1069.9 191h0M1068.9 193.4h0M1068.5 155.2h0M1064.7 142h0M1064.8 182.6h0M1070.3 140.7h0M1070.8 165.1h0M1058.6 187h0M1062.9 167.4h0M1065.8 117.8h0" stroke="#ff0000" stroke-opacity="0.42" stroke-width="4.8" stroke-linecap="round" fill="none"/>
<path d="M1071 184.1h0M1068.7 187.7h0M1064.8 161.8h0M1070.9 180.5h0M1060.3 171.7h0M1068.2 156.3h0M1066.1 222.7h0M1061.8 178.2h0M1058.9 142.9h0M1071.2 154.2h0M1062.6 162.8h0M1066.2 197.9h0M1065.4 197.6h0M1058.3 163.2h0M1068.2 154.7h0M1059.6 171.5h0M1061.8 156.3h0M1069.9 150.8h0M1061.4 163.3h0M1061.2 167.3h0M1060.1 196.5h0M1070.7 193.8h0M1064.4 166.1h0M1064.1 189.2h0M1068.4 221.3h0M1063.4 148.2h0M1061.3 173.1h0M1068.7 149.1h0M1066.6 154.3h0M1062.2 215.1h0M1061.6 157.1h0M1067.7 180.6h0M1059 144.5h0M1062.3 169.8h0M1058.5 180.3h0M1060.3 158.8h0M1069.4 187.4h0M1067.1 158.6h0M1068.4 142.1h0M1069 148.3h0M1066.2 201.9h0M1060 188.2h0M1060.9 189.9h0" stroke="#ff0000" stroke-opacity="0.42" stroke-width="4.8" stroke-linecap="round" fill="none"/>
<path d="M1069.6 220.5h0M1061.6 159.4h0M1059.6 209.9h0M1070.9 202.8h0M1058 141.9h0M1069.2 149.1h0M1064.1 199.4h0M1071.1 174.2h0M1069.8 189.1h0M1061.3 194.3h0M1061.6 181.6h0M1058 170.8h0M1070.2 209.2h0M1059.6 204.5h0M1066.9 166.6h0M1067.7 162.9h0M1058.3 137.8h0M1067.9 173.8h0M1063.1 195.6h0M1058.4 187.3h0M1063 175.2h0M1070.3 120.7h0M1068.3 182h0M1062.1 156.9h0M1062.6 160h0M1061.3 170.9h0M1064.4 205.3h0M1064 199.6h0M1069 171.8h0M1060.5 144.6h0M1062 163.8h0M1067.4 198.3h0M1063.3 121.3h0M1059.9 200.2h0M1067 203.8h0M1066.8 161.4h0M1063 169.7h0M1067.8 163.5h0M1064.6 185.2h0M1067.6 204h0M1067.4 169h0M1063.6 182.2h0M1063.9 160.9h0" stroke="#ff0000" stroke-opacity="0.42" stroke-width="4.8" stroke-linecap="round" fill="none"/>
<path d="M1064.5 117V153M1064.5 182.7V227" stroke="#ff0000" stroke-width="1.5" fill="none"/>
<rect x="1056.9" y="153" width="15.2" height="29.7" fill="#fff" fill-opacity="0.55" stroke="#ff0000" stroke-width="2.2"/>
<line x1="1056.9" x2="1072.1" y1="168" y2="168" stroke="#ff0000" stroke-width="2.6"/>
<path d="M1087 177.3h0M1091.8 163h0M1088.2 198.4h0M1082.9 170.1h0M1087.4 186h0M1090.9 155.5h0M1087.5 192.9h0M1081 160.6h0M1082.9 233.4h0M1086.7 152.6h0M1091.6 248.5h0M1083.3 226.6h0M1079.9 231.6h0M1086.5 173.5h0M1091.8 147.5h0M1085.1 214.2h0M1088.4 223.1h0M1092 232.4h0M1080.6 147.3h0" stroke="#ff0000" stroke-opacity="0.42" stroke-width="4.8" stroke-linecap="round" fill="none"/>
<path d="M1090 190.1h0M1080.1 168.3h0M1089.8 146.5h0M1089 189.6h0M1089.6 201.9h0M1090.4 173h0M1089 229.6h0M1086.8 181.1h0M1082.1 233.1h0M1089.6 174.6h0M1081.7 213h0M1085 235.8h0M1088.3 219.5h0M1085.7 182h0M1090.7 288h0M1080.1 178.9h0M1081.4 175.9h0M1079.9 135.2h0" stroke="#ff0000" stroke-opacity="0.42" stroke-width="4.8" stroke-linecap="round" fill="none"/>
<path d="M1084.7 213.7h0M1089.3 195.7h0M1080.1 194.4h0M1089.8 145.5h0M1093.4 191.9h0M1088.8 256.7h0M1087.1 152h0M1090.5 216.7h0M1091.6 159.4h0M1087.6 179.7h0M1085.6 148.4h0M1083.7 191.6h0M1080.2 199.1h0M1088.3 189.2h0M1081.9 197.5h0M1091.7 248.6h0M1092.6 212h0M1085.3 274h0" stroke="#ff0000" stroke-opacity="0.42" stroke-width="4.8" stroke-linecap="round" fill="none"/>
<path d="M1085.9 198h0M1086.3 204.3h0M1092.7 236h0M1089.4 178.2h0M1092 294h0M1081.4 248.3h0M1092.4 240.4h0M1081.4 164.2h0M1087.7 154.7h0M1089 209.1h0M1087.3 210h0M1091.5 190.6h0M1080.2 148.9h0M1081.1 154.4h0M1090.6 194.5h0M1092.2 170.5h0M1092.1 204.5h0M1082.4 214.1h0" stroke="#ff0000" stroke-opacity="0.42" stroke-width="4.8" stroke-linecap="round" fill="none"/>
<path d="M1081.6 199.7h0M1088.2 234.3h0M1086.5 131h0M1091.1 207.2h0M1087.6 183.4h0M1084.4 162.4h0M1088.2 194.1h0M1092.1 168.5h0M1084.6 137.5h0M1090.4 229.2h0M1085.2 231.4h0M1088.4 254.2h0M1091.9 209.5h0M1089.9 206.8h0M1087 149.8h0M1082.8 202.2h0M1082 155.9h0M1088.8 145.5h0" stroke="#ff0000" stroke-opacity="0.42" stroke-width="4.8" stroke-linecap="round" fill="none"/>
<path d="M1084.9 195.6h0M1093 165.6h0M1092.1 205.6h0M1082.9 278h0M1091.6 143.4h0M1086.6 189.3h0M1088.5 202.5h0M1085.1 181.9h0M1087.3 225.1h0M1083.5 140.2h0M1084.1 171.6h0M1091.4 131.4h0M1091.3 168.6h0M1088.7 180.5h0M1093 221.9h0M1086.7 183.9h0M1082.9 243.3h0M1085.1 164.5h0" stroke="#ff0000" stroke-opacity="0.42" stroke-width="4.8" stroke-linecap="round" fill="none"/>
<path d="M1086.6 131V168M1086.6 210V256.7" stroke="#ff0000" stroke-width="1.5" fill="none"/>
<rect x="1079" y="168" width="15.2" height="42" fill="#fff" fill-opacity="0.55" stroke="#ff0000" stroke-width="2.2"/>
<line x1="1079" x2="1094.2" y1="182.7" y2="182.7" stroke="#ff0000" stroke-width="2.6"/>
<path d="M1105.1 127.8h0M1107.3 134.8h0M1110.3 216.3h0M1112.9 195.1h0M1110.1 187.7h0M1105.2 198h0M1104.4 180.2h0M1112.7 215h0M1114.9 186.6h0M1113.7 211.4h0M1108.5 206.1h0M1112.8 147.6h0M1111.3 132.1h0M1112.3 187.3h0M1110.3 211.5h0M1106.1 169.4h0M1107.3 147.7h0M1104.6 190.3h0M1108.5 140.9h0M1109.3 152.7h0M1104.7 277.2h0M1113.3 184.2h0M1111.5 182.1h0M1105.1 184h0M1112 241.1h0M1105.8 160.1h0M1110.3 215.5h0M1107.5 119.1h0M1110.1 167h0M1102.2 153.3h0M1114.5 168.3h0M1112.1 150.3h0M1103 115h0M1108.1 195.8h0M1109.1 272.1h0M1107.9 199.9h0M1105.6 177.7h0M1112.6 209.1h0M1109.3 203.1h0M1114.7 170.4h0M1103.5 265h0M1114.7 162.5h0M1109.1 202.7h0M1114.7 160.1h0M1109 160.7h0M1110.1 211.8h0M1111.3 203.3h0M1109.5 199.4h0M1114.3 204.4h0M1105.3 221.2h0M1103 177.9h0M1111.7 161.5h0M1104.7 183.6h0M1103.5 173.1h0M1109.6 237.9h0M1106.2 123.9h0M1110.5 125.5h0M1112.4 180.3h0M1109.4 180.2h0M1103.9 173.4h0M1105.8 169.8h0M1114.8 141.4h0" stroke="#a020f0" stroke-opacity="0.42" stroke-width="4.8" stroke-linecap="round" fill="none"/>
<path d="M1106.8 124.7h0M1108 126.8h0M1102 145.9h0M1106.4 185.7h0M1112 175.2h0M1109.8 193.9h0M1103.8 179.9h0M1103.4 209.9h0M1108.1 278h0M1103.8 243h0M1102.4 230.6h0M1105.1 222.3h0M1110.7 189.3h0M1114.8 260.7h0M1105.6 203.1h0M1113.4 218.3h0M1111.9 151.2h0M1104.7 138.3h0M1106.9 171.3h0M1102.2 160.7h0M1115 176.9h0M1102.1 181.1h0M1108.4 155h0M1105.8 167h0M1110.3 133.7h0M1113.1 129.4h0M1105.7 181.9h0M1103.5 272.2h0M1103.2 154.6h0M1111 198.8h0M1113.1 172.9h0M1108.5 192h0M1113.2 186h0M1113.3 147.1h0M1110.3 194.8h0M1108.7 163.1h0M1102.7 156.5h0M1102.5 198.6h0M1102 191.8h0M1108.8 160.7h0M1106.6 216.2h0M1103 191h0M1113 128.9h0M1107 176.6h0M1103.6 202.6h0M1103.8 149.7h0M1109.3 166.6h0M1109.4 215.6h0M1113.8 151.8h0M1110.2 284.4h0M1111.4 170.9h0M1112.2 162.1h0M1108.4 203.6h0M1102.2 143.1h0M1104.6 172.5h0M1103.4 153.8h0M1110.5 170h0M1102.4 239.6h0M1110.4 185.4h0M1106.7 284.2h0M1109.6 195.5h0M1113.3 208.6h0" stroke="#a020f0" stroke-opacity="0.42" stroke-width="4.8" stroke-linecap="round" fill="none"/>
<path d="M1107.3 206.9h0M1109.5 298.6h0M1115.4 192.7h0M1111 128.3h0M1105.9 217.7h0M1108.2 220.4h0M1114 132h0M1108.3 203.3h0M1112.8 227.1h0M1109.3 244.9h0M1109.6 131.6h0M1113.4 129.3h0M1114 171.3h0M1111.2 162.6h0M1105.7 121.6h0M1109.8 216.1h0M1115.4 205.9h0M1105.3 188.7h0M1106.9 266.3h0M1103.3 161.6h0M1110.2 170.8h0M1106.7 174.7h0M1102.3 195.8h0M1105.3 145.6h0M1111.9 158.7h0M1113.8 188.5h0M1109.5 135.7h0M1102.8 288.5h0M1112.9 188.2h0M1102.5 239.5h0M1106.7 170.3h0M1108 176.3h0M1107.7 179.7h0M1109.5 254.6h0M1110.7 153.1h0M1102.6 151h0M1109 228.7h0M1107 177.4h0M1113.1 199.5h0M1113.6 179.6h0M1108.3 141.2h0M1110 216.5h0M1112.5 193.1h0M1108.8 191.7h0M1111.4 173.7h0M1114.8 145.4h0M1111 151.1h0M1106.6 113.7h0M1109.4 191.5h0M1106.4 170h0M1108.4 164.9h0M1107.1 176.7h0M1107.7 170.7h0M1111.5 134.1h0M1106.9 146.1h0M1110.2 169.8h0M1108.5 171.9h0M1106.9 167h0M1113 190.4h0M1107.6 169.6h0M1108 207.5h0M1105.4 200.8h0" stroke="#a020f0" stroke-opacity="0.42" stroke-width="4.8" stroke-linecap="round" fill="none"/>
<path d="M1103 227.1h0M1114.3 220.2h0M1105.7 230.5h0M1105.3 192.4h0M1102.3 198.7h0M1102 171.4h0M1114.5 201.9h0M1115.4 179.5h0M1105.2 198.7h0M1111.7 214.8h0M1110.2 163.7h0M1109.7 172h0M1110.2 124h0M1109.4 168.2h0M1103.1 205.2h0M1108.7 177.2h0M1105.8 182.7h0M1104.6 230.7h0M1110.7 204.2h0M1111.1 144.4h0M1110.3 145.8h0M1104 240.4h0M1107.7 149.6h0M1114.7 166.2h0M1115.1 164.4h0M1103.7 143.8h0M1103.1 186.7h0M1112.9 215.2h0M1103.8 174h0M1111.8 148.2h0M1107 167.4h0M1115.3 194.2h0M1106.2 137.1h0M1114.6 180h0M1104.1 196.3h0M1107.4 177.4h0M1112.4 164.8h0M1111.3 203h0M1110.2 171.4h0M1104.4 177.6h0M1104.1 185h0M1104.4 177.5h0M1106.3 156.7h0M1108.5 166.8h0M1113.9 211.2h0M1115.4 186.7h0M1114.6 163.1h0M1111.7 197.8h0M1115.1 178.8h0M1103.9 221.4h0M1106.2 190.3h0M1108.6 245.6h0M1110.6 187.8h0M1105.2 197.3h0M1102.1 178.8h0M1110 184.1h0M1103.6 159.5h0M1115.1 184.1h0M1109.1 157h0M1114.6 188.9h0M1110.2 141h0M1108.9 168.9h0" stroke="#a020f0" stroke-opacity="0.42" stroke-width="4.8" stroke-linecap="round" fill="none"/>
<path d="M1108.7 151.4h0M1110.4 180.4h0M1103.2 145.4h0M1115.3 227.2h0M1103.8 173.8h0M1106.5 170h0M1112.4 159.5h0M1105 167.6h0M1102.2 160.9h0M1111.1 194.6h0M1103.3 172.8h0M1111 186h0M1109.9 129.6h0M1104.9 183.2h0M1104.4 220.3h0M1114.8 212.5h0M1115.1 175.2h0M1111.8 178.4h0M1109 149.8h0M1111.8 158h0M1109.3 202.1h0M1102.4 204.5h0M1109.3 192.1h0M1114.6 290h0M1114.2 166.9h0M1104.5 182.7h0M1105.7 143.9h0M1106.6 196.5h0M1104.8 136h0M1114.7 183.8h0M1109.3 163.2h0M1103.1 193.7h0M1103.2 240.7h0M1107.9 184.1h0M1105 177.8h0M1107.3 197.3h0M1113.8 196.7h0M1102.4 256.6h0M1113.7 143.8h0M1113.3 151.6h0M1106.9 155.1h0M1114.2 171.1h0M1104.1 212.4h0M1105.8 195.2h0M1113.8 158.5h0M1105.5 208h0M1114.6 263.9h0M1105.2 145.9h0M1106.8 209.2h0M1112 194h0M1105 174h0M1108.2 251.1h0M1108.4 157.2h0M1112.3 201.8h0M1102.2 195h0M1107.8 170.2h0M1109.2 162.6h0M1113 163.2h0M1115 188.2h0M1110.3 172.5h0M1102 118h0M1114.9 185.9h0" stroke="#a020f0" stroke-opacity="0.42" stroke-width="4.8" stroke-linecap="round" fill="none"/>
<path d="M1108.2 185.1h0M1102.5 162.4h0M1103.8 185h0M1111.6 160.4h0M1114.7 172.8h0M1106.7 182.7h0M1113.4 197.8h0M1111.2 193.8h0M1109.2 153.1h0M1110.9 126.7h0M1102.8 201.1h0M1104.1 191.5h0M1108.9 180.1h0M1112.4 148.3h0M1113.4 153.1h0M1104.8 164.5h0M1105.6 206.5h0M1104.2 211h0M1104.9 188.3h0M1113 194.5h0M1107.9 284.6h0M1114.9 141.1h0M1112.3 198.7h0M1113.7 205.3h0M1106.6 288h0M1102.6 173.5h0M1113.4 169.1h0M1115.1 182.5h0M1111.7 174.2h0M1111.3 181.7h0M1105.2 168.6h0M1107.9 227.3h0M1110.9 160h0M1109.2 281.9h0M1104.8 177.9h0M1109 158.5h0M1103.3 161h0M1109.2 118.9h0M1112.7 206h0M1109.1 198.6h0M1113.6 210.8h0M1113.9 127.1h0M1114.2 148.9h0M1108 158.9h0M1114.9 167.9h0M1107.3 171.6h0M1105.3 192.3h0M1107 178.7h0M1113.3 147.9h0M1114.9 166.7h0M1102.6 195.5h0M1109.7 151.5h0M1110.9 178.9h0M1106.1 156.7h0M1111.1 204h0M1103.4 149.1h0M1110.7 135.6h0M1105 217h0M1106.2 133.1h0M1102.2 173.6h0M1106.2 136h0" stroke="#a020f0" stroke-opacity="0.42" stroke-width="4.8" stroke-linecap="round" fill="none"/>
<path d="M1108.7 113.7V155.6M1108.7 190V241.6" stroke="#a020f0" stroke-width="1.5" fill="none"/>
<rect x="1101.1" y="155.6" width="15.2" height="34.4" fill="#fff" fill-opacity="0.55" stroke="#a020f0" stroke-width="2.2"/>
<line x1="1101.1" x2="1116.3" y1="174.8" y2="174.8" stroke="#a020f0" stroke-width="2.6"/>
<path d="M1128.3 157.8h0M1131.8 134.3h0M1131.1 166.9h0M1124.8 127.6h0M1124.9 113.9h0M1124.6 141.9h0M1131.8 129.5h0M1135.8 140.5h0M1128.4 115h0M1131.4 148.7h0M1125.7 180.5h0M1125 114.7h0M1127.1 133.8h0M1132.8 190h0M1128.8 140.3h0M1125.9 128h0M1134.8 146.9h0M1125.5 165.2h0M1131.9 134.2h0M1134.8 176.3h0M1124.8 128.7h0M1130.5 117.5h0M1124.4 141.9h0M1135.7 159h0M1136.7 174.1h0M1124.1 125.2h0M1136.2 151h0M1124.9 118.1h0M1125.5 192.6h0M1131.6 119.7h0M1125.7 142.9h0M1135.2 147h0M1128.8 146.9h0M1136.1 131.6h0M1136.2 144.5h0M1136.1 144.9h0M1131.2 130.6h0M1126.6 137.1h0M1135.8 158.4h0M1134.1 172.5h0M1132.5 95.6h0M1126.8 138.1h0M1124.8 138.9h0M1127.3 114.3h0M1127.1 162h0M1129.7 105.7h0M1134.8 135.4h0M1128.2 171.9h0M1133.1 116.9h0M1126.7 179.7h0M1134.2 131h0M1134.5 149.6h0M1126.3 136.3h0M1136.3 97.6h0M1134.9 175.5h0M1124.9 140.4h0M1128.6 113.2h0M1136.7 127.9h0M1125.2 168.8h0M1129.7 99.8h0M1128.2 124.7h0M1131.9 127.5h0M1129.9 149.5h0M1128 140.4h0M1132.5 138.3h0M1130.8 97.1h0M1127.6 153.9h0M1135.6 132.8h0M1124.4 108.2h0M1137.5 141.8h0" stroke="#ff0000" stroke-opacity="0.42" stroke-width="4.8" stroke-linecap="round" fill="none"/>
<path d="M1126.3 140.2h0M1133 100h0M1127.7 158.9h0M1129.7 155.5h0M1131.2 119.6h0M1134.4 150.3h0M1133.6 134.5h0M1137.5 123.7h0M1124.4 151.6h0M1126.3 134.7h0M1125.6 183.9h0M1136 129.2h0M1134.5 146.9h0M1125.4 90.1h0M1134.1 141.8h0M1130.2 139.7h0M1129.3 114.3h0M1124.1 130.1h0M1135.2 125.9h0M1133.3 139.5h0M1129.2 114.5h0M1127.2 157.8h0M1136.9 154h0M1135.3 138.5h0M1131 136.7h0M1126.4 132.3h0M1127.6 177.4h0M1128.7 152.9h0M1134.2 201h0M1135.7 131.8h0M1135.2 183.1h0M1128.2 143.4h0M1124.6 144.9h0M1134.9 136.7h0M1128.7 135.8h0M1128.2 151.2h0M1127.3 149.1h0M1126.9 128.3h0M1125.2 141.4h0M1133.8 139.6h0M1130.9 135.3h0M1135.8 130.6h0M1132.5 139.3h0M1124.1 118.9h0M1128.4 148.7h0M1130.8 160.3h0M1130 128.9h0M1132.5 144.8h0M1127.9 120.2h0M1134.5 172.2h0M1130.9 144.4h0M1133.7 138.9h0M1130.3 145.4h0M1128.9 142.1h0M1124.1 121h0M1131.5 170.6h0M1129.3 137.2h0M1129.4 156.8h0M1133.3 155.3h0M1137.5 119.6h0M1128.1 137.9h0M1129.5 118h0M1126 149.4h0M1137.1 141.3h0M1132.1 152.7h0M1131 130.5h0M1124.8 184.3h0M1128.8 129.6h0M1135.9 136h0M1127.7 135.3h0" stroke="#ff0000" stroke-opacity="0.42" stroke-width="4.8" stroke-linecap="round" fill="none"/>
<path d="M1126 159.9h0M1130.3 146.3h0M1125.7 151.9h0M1130.9 124.7h0M1127.6 96.6h0M1134.1 146.9h0M1136.8 158.3h0M1125.6 151.4h0M1137.6 137.4h0M1133.2 155.8h0M1131.9 129.2h0M1126.1 171.7h0M1130.2 135.8h0M1126.8 154h0M1131.6 142.6h0M1136.2 164.1h0M1134.8 126.8h0M1137.4 187.9h0M1131.3 153.5h0M1128.7 143.7h0M1134.7 139.3h0M1127 148.9h0M1125.9 121.7h0M1127 116.9h0M1124.4 117.2h0M1126.5 132.6h0M1137.3 148.5h0M1132 158.4h0M1132.3 159.9h0M1131.3 161.4h0M1124.9 98.2h0M1136.6 165h0M1136 153.1h0M1134.2 149.9h0M1136.4 137.5h0M1129.5 137h0M1125.6 157h0M1136.9 112.4h0M1135.4 133h0M1125.8 161.4h0M1126.2 150.7h0M1131.2 124.6h0M1136.6 135.7h0M1124.8 140h0M1135.6 129.7h0M1130.6 125.4h0M1135.3 114.2h0M1128.9 155.5h0M1127.2 142.1h0M1124.3 129.3h0M1130.7 141.4h0M1125.4 141.6h0M1134.1 148.7h0M1130.2 146.6h0M1131.7 123.4h0M1127.7 156.3h0M1133.9 129.3h0M1131.6 126.8h0M1126.7 145.5h0M1135.8 160.5h0M1124.2 147.7h0M1128.4 136.5h0M1127.4 136h0M1133 142.9h0M1131.5 145h0M1136.2 119.3h0M1137.1 132.9h0M1128 167.3h0M1134 114.3h0M1134.1 126.1h0" stroke="#ff0000" stroke-opacity="0.42" stroke-width="4.8" stroke-linecap="round" fill="none"/>
<path d="M1131.8 130.8h0M1130.2 161.9h0M1128.4 147h0M1125.8 173h0M1127.6 156.9h0M1124.9 130.2h0M1129.5 141.2h0M1124.3 127.8h0M1125.1 118.2h0M1132.4 181.9h0M1124.8 156h0M1126.7 132.8h0M1137.4 128.4h0M1132.7 164.6h0M1132.5 128.8h0M1131.9 143.9h0M1131.2 191.7h0M1128.5 140.6h0M1136.4 148.3h0M1124.5 140.5h0M1128.6 111.4h0M1133.2 154.7h0M1127 162.9h0M1135.7 109.8h0M1129.1 125.3h0M1136.4 126.2h0M1125.3 133.9h0M1136.2 130.9h0M1135 152.4h0M1132.9 117.8h0M1128.4 146.1h0M1137.5 145.4h0M1137.5 153.1h0M1133.8 138.4h0M1133 174h0M1132.2 133.9h0M1134.7 159h0M1130.1 127h0M1136.5 138.5h0M1127.2 154.3h0M1137.3 92.9h0M1133.8 155h0M1135.1 178.3h0M1134.9 161.2h0M1127.3 152.1h0M1134.2 145.5h0M1132.9 140.2h0M1127.3 142.3h0M1135.3 145.2h0M1131.3 140.5h0M1135.7 161.4h0M1130.4 141.8h0M1133.9 100.8h0M1125.4 143.9h0M1133.9 168.7h0M1137.5 160.6h0M1136.5 131.2h0M1125.4 123.5h0M1134.7 130.9h0M1131.6 153.7h0M1136.9 143.9h0M1131.9 128.6h0M1136 157.8h0M1128.9 138h0M1124.5 97.3h0M1134.5 162.1h0M1125.8 114.6h0M1126.3 146.2h0M1135.3 153.2h0M1127.4 140.5h0" stroke="#ff0000" stroke-opacity="0.42" stroke-width="4.8" stroke-linecap="round" fill="none"/>
<path d="M1130.1 133.3h0M1129.6 135.9h0M1131.6 152.5h0M1129.5 114.2h0M1133.3 134.6h0M1133.9 162.9h0M1129.2 114.4h0M1128.7 127.5h0M1133.4 160.9h0M1134.4 109.3h0M1135 137.2h0M1127.3 149h0M1130.8 149.9h0M1128.1 142h0M1131.8 175.8h0M1136.7 130.1h0M1129.3 129.9h0M1136.6 134.8h0M1127.7 154.8h0M1126.6 126.3h0M1127.8 113.1h0M1134.1 136.7h0M1129.7 141h0M1124.2 143.7h0M1124.1 146.1h0M1124.7 103.4h0M1135.7 155.2h0M1137 88.9h0M1127.6 177.2h0M1132.5 192h0M1131.6 163h0M1132.8 138.7h0M1135.6 144.6h0M1137.5 128.9h0M1134.6 143.5h0M1132.4 144.9h0M1127 91.4h0M1137.5 106.8h0M1133.8 172.6h0M1124.1 139.7h0M1132.5 142.5h0M1125.6 163.1h0M1125.6 114h0M1131.1 143.7h0M1125.6 119.2h0M1131.7 107.4h0M1129.6 126.2h0M1127.2 141.4h0M1126.4 149.2h0M1128 167h0M1127.6 144.1h0M1135.3 150.8h0M1129.1 154h0M1133 167.2h0M1133.8 144.5h0M1124.1 138.3h0M1125.4 161.8h0M1133 164.2h0M1131.7 139.8h0M1129.2 148.3h0M1127.5 134.2h0M1126.9 168.6h0M1127.7 171.6h0M1132.7 145.3h0M1132.4 126h0M1135.7 101.7h0M1124.5 147.1h0M1128.6 125.6h0M1124 143.1h0" stroke="#ff0000" stroke-opacity="0.42" stroke-width="4.8" stroke-linecap="round" fill="none"/>
<path d="M1124.8 158.4h0M1136.8 149.4h0M1129.9 142.5h0M1125.9 131.9h0M1126 150.8h0M1128.8 148.6h0M1124.9 109.2h0M1128 141.7h0M1137.4 107.6h0M1136.4 95.6h0M1133.4 150h0M1129.9 157.6h0M1127.9 145.2h0M1126.1 116.5h0M1133.2 135.1h0M1126.7 157.4h0M1130.6 161.1h0M1124.1 165h0M1137.4 134h0M1132.4 137.2h0M1132.8 90.9h0M1133.3 104.9h0M1133.1 86.9h0M1131.3 149.2h0M1125.3 157.2h0M1130.5 134.9h0M1129.2 138.3h0M1135.4 162.2h0M1129.3 138.5h0M1125.7 156.1h0M1126.9 103.8h0M1124.8 148.4h0M1131.9 168.5h0M1125.2 127.8h0M1129.1 146.1h0M1133.8 149.8h0M1126 153.5h0M1126.4 129.5h0M1128.2 154.7h0M1127.1 163.3h0M1133.6 155.4h0M1136.5 168h0M1132.1 122.9h0M1134 128.1h0M1127.8 143.1h0M1125.5 151h0M1129 153.3h0M1134.2 113h0M1137 126.6h0M1134.5 139.9h0M1133.6 145.3h0M1125 137.5h0M1130.2 136.2h0M1130.6 133.5h0M1131.1 111.1h0M1124.6 146.7h0M1130.9 127.8h0M1130.6 137.1h0M1128.3 153.4h0M1133.1 132.5h0M1134.9 140.7h0M1127.4 154.9h0M1135.6 102h0M1130.3 116.2h0M1131.2 146.5h0M1129.3 159.2h0M1134.9 152.5h0M1135.2 156h0M1129.8 86.5h0" stroke="#ff0000" stroke-opacity="0.42" stroke-width="4.8" stroke-linecap="round" fill="none"/>
<path d="M1130.8 98.4V132M1130.8 154.4V188" stroke="#ff0000" stroke-width="1.5" fill="none"/>
<rect x="1123.2" y="132" width="15.2" height="22.4" fill="#fff" fill-opacity="0.55" stroke="#ff0000" stroke-width="2.2"/>
<line x1="1123.2" x2="1138.4" y1="143" y2="143" stroke="#ff0000" stroke-width="2.6"/>
<path d="M1147.6 156.1h0M1146.9 150.5h0M1153.5 133.6h0M1147.7 150h0M1148.3 86.5h0M1152.2 130.6h0M1152.6 141.9h0" stroke="#0000ff" stroke-opacity="0.42" stroke-width="4.8" stroke-linecap="round" fill="none"/>
<path d="M1148.3 117.3h0M1159.6 128.7h0M1153.1 129.6h0M1158.5 151.1h0M1155.5 129.2h0M1156.4 150.3h0" stroke="#0000ff" stroke-opacity="0.42" stroke-width="4.8" stroke-linecap="round" fill="none"/>
<path d="M1156.7 110.6h0M1147.4 120.1h0M1155 94.7h0M1153.9 146.4h0M1154.2 143.7h0M1154 134.8h0" stroke="#0000ff" stroke-opacity="0.42" stroke-width="4.8" stroke-linecap="round" fill="none"/>
<path d="M1146.4 151.7h0M1154.6 168h0M1159 104.8h0M1159.1 119h0M1150 137.9h0M1158 164h0" stroke="#0000ff" stroke-opacity="0.42" stroke-width="4.8" stroke-linecap="round" fill="none"/>
<path d="M1151.4 142h0M1154.5 158.7h0M1147 148.2h0M1147.5 147.2h0M1149 151.5h0M1147.3 159.9h0" stroke="#0000ff" stroke-opacity="0.42" stroke-width="4.8" stroke-linecap="round" fill="none"/>
<path d="M1157.2 154.4h0M1152.5 125.5h0M1155.4 142.3h0M1150.6 139.1h0M1151.1 145.7h0M1150.1 148.7h0" stroke="#0000ff" stroke-opacity="0.42" stroke-width="4.8" stroke-linecap="round" fill="none"/>
<path d="M1152.9 107.5V133M1152.9 150V168" stroke="#0000ff" stroke-width="1.5" fill="none"/>
<rect x="1145.3" y="133" width="15.2" height="17" fill="#fff" fill-opacity="0.55" stroke="#0000ff" stroke-width="2.2"/>
<line x1="1145.3" x2="1160.5" y1="141" y2="141" stroke="#0000ff" stroke-width="2.6"/>
<path d="M1170 224.6h0M1173 233.2h0M1180.9 128h0M1178.6 144.8h0M1179.6 222.3h0M1173.7 197.4h0M1176.3 205.7h0M1178.4 191.6h0M1175 140.8h0M1181 143.1h0M1174.6 170.7h0M1174.1 127.5h0M1180.1 172.8h0M1179.2 163.6h0M1170.9 176.1h0M1179.4 179.7h0M1168.9 129.8h0M1169.8 198.2h0M1169.6 216.4h0M1174.9 170.5h0M1177.7 192.1h0M1174.9 198.5h0M1176.8 145.6h0M1180.6 138.8h0M1170.9 240.1h0M1178.2 211.1h0" stroke="#ff0000" stroke-opacity="0.42" stroke-width="4.8" stroke-linecap="round" fill="none"/>
<path d="M1177.5 142.5h0M1176.2 156.7h0M1174.7 158.7h0M1171.6 198.9h0M1172.8 248h0M1175.9 137.1h0M1180.8 170.9h0M1172.1 218.1h0M1181 221.1h0M1172.8 138.5h0M1179.5 211.8h0M1178.5 149.2h0M1181.5 227.6h0M1175 203.4h0M1181.3 177.2h0M1171.8 163.8h0M1178 128.4h0M1181.5 124.9h0M1174.2 180.4h0M1174.4 191.3h0M1173.6 140.6h0M1179.2 192h0M1177.2 163.8h0M1171 236.2h0M1168.4 179.3h0M1175.6 230.3h0" stroke="#ff0000" stroke-opacity="0.42" stroke-width="4.8" stroke-linecap="round" fill="none"/>
<path d="M1172.4 141.9h0M1176.6 168.9h0M1178.5 156.9h0M1173.7 127.8h0M1178.5 188.6h0M1177.5 174.3h0M1168.4 162.1h0M1170.7 224.7h0M1168.6 189.7h0M1169.6 144.3h0M1170.8 177.5h0M1170.8 171.5h0M1181 119.5h0M1178.8 168.5h0M1169.8 121.3h0M1177.8 185h0M1168.3 198.2h0M1177.5 174.9h0M1175.3 154.9h0M1174.6 129.1h0M1169.9 160.9h0M1181.8 158.9h0M1170.2 173.8h0M1169.1 220.6h0M1168.7 132h0" stroke="#ff0000" stroke-opacity="0.42" stroke-width="4.8" stroke-linecap="round" fill="none"/>
<path d="M1178.2 205.5h0M1177 181.5h0M1176 137.1h0M1176.2 239.5h0M1172.7 158.9h0M1168.8 144.8h0M1180.4 174.3h0M1179.1 163.5h0M1174.9 168.3h0M1178.2 126.5h0M1173.7 210.1h0M1173.7 158.8h0M1169.3 160h0M1180.5 214.4h0M1176.8 142.1h0M1176.1 214h0M1177.7 172.6h0M1174.3 217.2h0M1181.5 191h0M1179.2 184.4h0M1169.6 154.1h0M1168.5 127.3h0M1180.2 171.8h0M1181.3 234.4h0M1179 145.6h0" stroke="#ff0000" stroke-opacity="0.42" stroke-width="4.8" stroke-linecap="round" fill="none"/>
<path d="M1172 182.2h0M1170 206.9h0M1170.5 176.5h0M1168.5 149.1h0M1169.2 200.1h0M1172.9 238.9h0M1178.7 162.2h0M1168.7 222.1h0M1170.2 222.7h0M1169.4 140.5h0M1168.7 170.1h0M1180.4 219.8h0M1177.3 177.1h0M1172.1 162.8h0M1173.3 141h0M1170.9 157.7h0M1171.3 126.3h0M1171 177.4h0M1177 160.4h0M1177.6 119.7h0M1174.9 118.6h0M1177.5 140.6h0M1176.5 150.9h0M1174 169.6h0M1177.5 210.2h0" stroke="#ff0000" stroke-opacity="0.42" stroke-width="4.8" stroke-linecap="round" fill="none"/>
<path d="M1175.5 152.2h0M1176.7 190h0M1173.5 200.3h0M1181.3 143.4h0M1172.7 202.4h0M1169.1 208.5h0M1173.2 146.5h0M1178.5 179.4h0M1173 179.3h0M1175.3 155.3h0M1181.4 142.7h0M1180.9 159.1h0M1176.9 152.3h0M1171.7 148.1h0M1180.8 175h0M1180.7 190.7h0M1176.1 188.7h0M1174.6 239.7h0M1173 224.3h0M1176 152.4h0M1174.9 214.1h0M1179.1 158.6h0M1169.5 157.6h0M1172.2 228.4h0M1171.3 217.3h0" stroke="#ff0000" stroke-opacity="0.42" stroke-width="4.8" stroke-linecap="round" fill="none"/>
<path d="M1175 118.6V149.4M1175 199.5V248" stroke="#ff0000" stroke-width="1.5" fill="none"/>
<rect x="1167.4" y="149.4" width="15.2" height="50.1" fill="#fff" fill-opacity="0.55" stroke="#ff0000" stroke-width="2.2"/>
<line x1="1167.4" x2="1182.6" y1="164" y2="164" stroke="#ff0000" stroke-width="2.6"/>
<path d="M1198.5 160.5h0M1192.4 162.2h0M1191.9 164h0M1195.1 137h0M1195.4 175h0M1190.5 145.1h0M1203.8 163.5h0M1201 173h0M1194.4 183.3h0M1202.3 153.8h0M1201.4 187.5h0M1202.1 143h0M1197.4 125.1h0M1196 158.2h0M1196.2 138.1h0M1200.2 187.8h0M1191.3 185.2h0M1195.6 165h0M1200.6 147.9h0M1199 151.7h0M1199.1 144.2h0M1201.1 171.4h0M1203.6 176.7h0M1192.4 179.3h0M1198.9 170.3h0M1197.9 167.4h0M1203.8 128.5h0M1201.2 161.8h0M1191.6 197.9h0M1198.9 158.3h0M1196.8 161.4h0M1191.9 160h0M1199.7 173.2h0M1197.1 159.1h0M1198.3 168.2h0M1192.2 163.9h0M1202.6 167.2h0M1197.6 166.4h0M1194.6 133.4h0M1193.3 176.4h0M1191.3 144.5h0M1195 160.3h0M1202.4 172.5h0M1197.7 187.4h0M1195.1 168.6h0M1199.5 157.6h0M1195 162.6h0M1201.6 184.7h0M1200.8 136.4h0M1203.5 153.5h0M1197.3 147h0M1193.3 151.2h0M1198.9 152.1h0M1197.8 162.6h0M1192.9 128.8h0M1199.1 156.7h0M1193.7 158.6h0M1199.4 180.4h0M1197.9 152h0M1195.7 165.1h0M1192.4 186.2h0M1202.1 149.2h0M1197.4 156.1h0M1194.2 145.1h0M1197.9 142.4h0M1198 149.4h0M1196.1 134.3h0M1191.6 135.8h0M1193 161.1h0M1200.7 173.4h0M1200.5 191.5h0M1202.4 177.2h0M1196.9 162.1h0M1203.6 160.3h0M1193.6 143.6h0M1196.7 157.8h0M1195.7 172.1h0M1197.8 158.3h0M1193.2 156.4h0M1195.2 143.3h0M1190.6 159.7h0M1203.6 172.1h0M1200 172.3h0M1197.6 158.4h0M1203.3 155.7h0M1199.5 176.6h0" stroke="#ff0000" stroke-opacity="0.42" stroke-width="4.8" stroke-linecap="round" fill="none"/>
<path d="M1197.9 156h0M1192.5 212h0M1202.1 174.4h0M1199.4 154.5h0M1196.2 178.1h0M1193.3 180.7h0M1200.2 145.9h0M1191.3 161.1h0M1196.3 173.2h0M1200.7 180.2h0M1193.8 156.7h0M1199.7 157.3h0M1197 152.8h0M1201.3 154.2h0M1197.4 161.1h0M1202.8 162.9h0M1197.4 176.1h0M1194.7 167.3h0M1203.6 194.5h0M1192.1 174.3h0M1192 135.1h0M1195.9 156.3h0M1196.3 147.5h0M1194.7 154.2h0M1191.6 145.2h0M1203.2 131.1h0M1192.4 168.7h0M1198.1 166.7h0M1202.6 160.2h0M1202.1 168.8h0M1203.7 167h0M1194.2 158.2h0M1196.1 158.6h0M1200.2 177.1h0M1199.2 164.2h0M1191.3 161.2h0M1199.1 170.5h0M1193.5 170.6h0M1202.1 150.9h0M1191.3 165.5h0M1202.2 160.3h0M1196.7 163.6h0M1193.8 167.8h0M1203.2 147.2h0M1199.6 166.1h0M1193.8 168.8h0M1200.3 166.3h0M1198.3 183h0M1193 224.6h0M1195.6 184.6h0M1201 153.9h0M1200.5 136.9h0M1192.2 176.3h0M1193.1 150.8h0M1203.9 131.1h0M1196.7 144.3h0M1197 167.1h0M1190.5 160.7h0M1190.8 158.3h0M1203.4 158.9h0M1191.1 189.5h0M1196.1 151.4h0M1190.4 191.2h0M1202.9 150.2h0M1193.7 149.8h0M1192 173.8h0M1193.4 165.8h0M1195.9 176.1h0M1191.4 163.5h0M1200.2 168h0M1193.5 146.7h0M1202.8 133.9h0M1203.3 170.5h0M1197.1 160.4h0M1202.1 168.8h0M1190.4 151.5h0M1203.4 163.8h0M1197.2 159.3h0M1191.9 147.2h0M1200 203.5h0M1196.4 148.5h0M1201.8 130.7h0M1195.3 171.7h0M1201.5 149.6h0M1194.3 160.8h0M1200.5 170.2h0" stroke="#ff0000" stroke-opacity="0.42" stroke-width="4.8" stroke-linecap="round" fill="none"/>
<path d="M1193.9 158.1h0M1199.1 155.3h0M1203.5 175.6h0M1193 164.3h0M1196.2 157h0M1192.5 162.4h0M1191.2 156h0M1194 167.4h0M1196.8 158.5h0M1192 178.3h0M1192.4 165.5h0M1198.5 171.8h0M1194.5 176.4h0M1194.1 161.9h0M1193.6 158.9h0M1190.4 181.9h0M1199.2 147.1h0M1198.4 160.7h0M1195.1 167.9h0M1197.6 124.1h0M1203.3 162.5h0M1192.1 168.4h0M1198 139.4h0M1196.7 149.9h0M1191 149.8h0M1191.6 158.9h0M1191.5 160.5h0M1195.2 167.2h0M1191.5 126.7h0M1198.7 162.4h0M1192.4 163h0M1203.1 160.6h0M1202 174.3h0M1198.8 152h0M1190.4 163.1h0M1203.2 179.5h0M1191.8 197.1h0M1192.8 175.4h0M1193 158.7h0M1190.5 162.2h0M1197.8 163.6h0M1198.6 145.3h0M1195.9 176.4h0M1197 176.7h0M1193 142.6h0M1197.5 173.7h0M1196.9 176.4h0M1203.4 173.1h0M1203 166.3h0M1196.9 153.9h0M1194 174h0M1201.9 144h0M1197.6 183.5h0M1194 144.4h0M1192 168h0M1197.4 161.2h0M1201.4 161.3h0M1199.2 161.7h0M1195.6 160.8h0M1202 185.7h0M1200.3 182.2h0M1196 165.7h0M1201.6 179h0M1193.3 161.7h0M1200.4 152.6h0M1193 163.7h0M1194.1 209.5h0M1203.1 155.9h0M1196.3 128.1h0M1199.7 155.7h0M1201.2 164.2h0M1194.3 177.3h0M1196.5 165.4h0M1194.8 125.6h0M1197 154.3h0M1195.6 187.5h0M1190.8 162.9h0M1196.1 141h0M1194.9 157.8h0M1194.7 164.1h0M1203.8 191.4h0M1201.5 156.3h0M1202.2 158.2h0M1201.5 151.5h0M1202.2 165.6h0" stroke="#ff0000" stroke-opacity="0.42" stroke-width="4.8" stroke-linecap="round" fill="none"/>
<path d="M1190.9 179.5h0M1193.6 149.2h0M1199.9 150.9h0M1194.6 168.8h0M1199.7 150.8h0M1197.5 160.7h0M1200.8 164.5h0M1195.1 162.8h0M1194.3 183.5h0M1192.5 156.2h0M1193.5 123.5h0M1199.7 160.9h0M1194.1 170.8h0M1192.6 172h0M1193.4 160h0M1193.3 166.8h0M1191 174.5h0M1199.8 161.8h0M1197.5 181.4h0M1198.7 152.1h0M1202.4 174.6h0M1198.6 151.2h0M1199.1 168.7h0M1193.9 151h0M1203.5 154.2h0M1200.7 167.9h0M1202.2 152.3h0M1191.6 138.7h0M1193.7 142h0M1198.7 143.4h0M1201.7 161h0M1201.1 137.2h0M1196.3 146h0M1191.7 163.3h0M1197.4 148.1h0M1193 166h0M1201.8 155.2h0M1196 166.1h0M1192 161.1h0M1197.6 150.6h0M1201.4 160.6h0M1202.8 158.5h0M1192.7 139.4h0M1198.4 167.1h0M1198.5 140.1h0M1192.7 165.7h0M1193.6 173.9h0M1194.6 144.6h0M1192.3 170.8h0M1196.4 159.9h0M1191.4 177.3h0M1193.6 151.1h0M1201.7 166.6h0M1199.7 141.5h0M1201.1 151.3h0M1193.8 162.7h0M1193 156.6h0M1191.3 147.9h0M1200.4 158h0M1202.5 195.3h0M1198.8 143.8h0M1194.6 164.4h0M1194.5 159.9h0M1198.7 140.4h0M1190.6 152.3h0M1200.3 164.4h0M1201.5 160.7h0M1193 145.7h0M1195.6 164.5h0M1193.2 188h0M1202.8 147.5h0M1196.2 189.4h0M1201.3 174.7h0M1195.5 158.5h0M1192.8 157.8h0M1196.4 141.9h0M1200.7 162.8h0M1202.7 154.6h0M1199.1 139.8h0M1191.5 145.5h0M1202.1 158.4h0M1192.1 174.1h0M1199.5 164h0M1195 198.5h0M1196.1 162.9h0" stroke="#ff0000" stroke-opacity="0.42" stroke-width="4.8" stroke-linecap="round" fill="none"/>
<path d="M1195.6 170.2h0M1200.6 211.1h0M1200.4 146.2h0M1200.3 157.1h0M1199 168.5h0M1202.2 171.3h0M1194.5 154.7h0M1199.2 158.4h0M1197.7 156.8h0M1198.3 160.5h0M1194.3 149.1h0M1201.5 135.4h0M1194.3 159.4h0M1193.7 134h0M1196.8 200.8h0M1194 167.7h0M1200.9 178.2h0M1194.1 186.9h0M1195.2 140.6h0M1202.1 153.8h0M1195.4 171h0M1195.5 142h0M1203.5 157.3h0M1202.4 207.8h0M1203.3 164.8h0M1200.6 187.6h0M1202.7 167h0M1194.4 201.1h0M1193.4 159.4h0M1191.9 166.4h0M1200.8 164.3h0M1200.7 170.1h0M1199.4 165.6h0M1197.7 152.6h0M1198 140.9h0M1191.1 169.7h0M1196.8 158.6h0M1196.3 207.8h0M1193.6 169.5h0M1200.3 153h0M1201 147.7h0M1203.1 169.7h0M1202.8 147.1h0M1190.5 156.7h0M1195.7 163.4h0M1193.5 174h0M1203.3 156.7h0M1195.6 157.5h0M1196.1 143.1h0M1192.3 151.1h0M1191.2 189.4h0M1197.9 152.2h0M1195 155.9h0M1196.4 172.8h0M1193.2 172.8h0M1200.4 154.9h0M1203.3 159h0M1201.5 166h0M1191.9 146.7h0M1198.7 150.6h0M1196.5 149.6h0M1197.1 150.4h0M1199.6 145.9h0M1195 171.3h0M1195.6 156.3h0M1196.8 163.4h0M1201 168.3h0M1199.7 164.3h0M1193.9 154.3h0M1195.7 144.5h0M1202.8 164.1h0M1201.9 156.1h0M1202.1 135.5h0M1193.3 164.8h0M1195.8 148.7h0M1195.6 172.6h0M1203.4 172.4h0M1194.1 169.3h0M1192.5 163.2h0M1202.5 142.9h0M1194.5 148.7h0M1200.9 173.4h0M1193.1 157.7h0M1192.3 171.9h0M1203 176.1h0" stroke="#ff0000" stroke-opacity="0.42" stroke-width="4.8" stroke-linecap="round" fill="none"/>
<path d="M1197.9 157.6h0M1199.8 166.9h0M1195.6 153.2h0M1199.7 180.5h0M1199.5 149.8h0M1195.8 154.9h0M1195.3 146.3h0M1195.2 149.7h0M1197.5 158.3h0M1202.6 172.9h0M1194.2 157.8h0M1200.2 131.3h0M1196.7 148.7h0M1192.9 150.6h0M1201 160.7h0M1190.5 166.9h0M1199.5 169.7h0M1201.7 126h0M1192.3 149.3h0M1193.8 165.2h0M1200.7 196.4h0M1194.5 150.7h0M1196.8 171.4h0M1203.9 166.2h0M1201.9 153.6h0M1191 149.7h0M1202.7 167.9h0M1201.4 161.7h0M1192.7 150.5h0M1202 161h0M1199.8 155.2h0M1203.3 158.9h0M1198.3 148.6h0M1192.8 173.7h0M1203.4 158.7h0M1194.4 171.7h0M1201.5 139.2h0M1196.8 159.5h0M1199.1 147.1h0M1195.5 161.1h0M1193.7 128.8h0M1193.1 159.6h0M1192.9 177.9h0M1195.1 196.9h0M1195.9 162.1h0M1201.1 153.4h0M1202.6 164.4h0M1201.1 171.9h0M1203.5 164.5h0M1202.2 176.9h0M1190.9 156.9h0M1193 163.2h0M1190.6 172.4h0M1198 141.9h0M1199.1 162.1h0M1201.2 149.4h0M1202.7 176.4h0M1194.9 157h0M1195 124.3h0M1199.9 154.3h0M1202.2 154h0M1196.2 165.6h0M1192.9 144.5h0M1196.2 160.6h0M1198.2 167h0M1191.9 160h0M1200.3 155h0M1194.8 160.5h0M1199.8 140.6h0M1190.4 162.9h0M1198.1 133.5h0M1199 164h0M1191.2 157.2h0M1199.1 193.8h0M1194.2 160.6h0M1190.5 173.5h0M1198.6 165.7h0M1195.6 170h0M1203.5 155.5h0M1202.3 172.8h0M1199 167.5h0M1195.8 165.8h0M1191.1 191.5h0M1192 160.5h0M1200.3 152.9h0" stroke="#ff0000" stroke-opacity="0.42" stroke-width="4.8" stroke-linecap="round" fill="none"/>
<path d="M1197.1 129V153M1197.1 169V193" stroke="#ff0000" stroke-width="1.5" fill="none"/>
<rect x="1189.5" y="153" width="15.2" height="16" fill="#fff" fill-opacity="0.55" stroke="#ff0000" stroke-width="2.2"/>
<line x1="1189.5" x2="1204.7" y1="161" y2="161" stroke="#ff0000" stroke-width="2.6"/>
<path d="M1217.9 164.6h0M1216.6 160.4h0M1222.8 142.7h0M1222.9 145.9h0M1212.9 165.1h0M1224.8 161.2h0M1213.1 159.8h0M1222.2 150.2h0M1225.7 145.9h0M1222.9 203.7h0M1213.8 153.7h0" stroke="#0000ff" stroke-opacity="0.42" stroke-width="4.8" stroke-linecap="round" fill="none"/>
<path d="M1221.5 174.8h0M1213.5 151.2h0M1212.6 154.8h0M1216.1 150.9h0M1212.5 148.5h0M1213.2 137.4h0M1216 144.5h0M1222.1 135.7h0M1217.5 136.7h0M1219.7 167.4h0M1225.9 158.8h0" stroke="#0000ff" stroke-opacity="0.42" stroke-width="4.8" stroke-linecap="round" fill="none"/>
<path d="M1224.7 157.1h0M1220.5 133.4h0M1215.7 148h0M1222.2 161.4h0M1212.5 139.1h0M1214.6 150.4h0M1216 163.6h0M1225.5 148h0M1219.2 144.8h0M1214.3 165.8h0" stroke="#0000ff" stroke-opacity="0.42" stroke-width="4.8" stroke-linecap="round" fill="none"/>
<path d="M1224.9 166.9h0M1213.3 136.8h0M1214.5 154.7h0M1221.2 152h0M1220.9 148.5h0M1218.1 152.5h0M1215 136.6h0M1220.9 163.4h0M1214.7 153.8h0M1215.2 149.6h0" stroke="#0000ff" stroke-opacity="0.42" stroke-width="4.8" stroke-linecap="round" fill="none"/>
<path d="M1214 181.3h0M1224.5 142.4h0M1225.4 158.3h0M1215.4 157.4h0M1212.7 146.8h0M1215.6 157.6h0M1212.6 150.2h0M1213.5 182.7h0M1219 160.4h0M1225.9 142.4h0" stroke="#0000ff" stroke-opacity="0.42" stroke-width="4.8" stroke-linecap="round" fill="none"/>
<path d="M1214.1 155.2h0M1222.1 163.7h0M1224.3 169.2h0M1215.4 133.4h0M1213.4 158.1h0M1219.7 157.6h0M1215 152.5h0M1224.6 163.9h0M1225.9 143h0M1222.7 160.1h0" stroke="#0000ff" stroke-opacity="0.42" stroke-width="4.8" stroke-linecap="round" fill="none"/>
<path d="M1219.2 133.4V148M1219.2 162.5V182.7" stroke="#0000ff" stroke-width="1.5" fill="none"/>
<rect x="1211.7" y="148" width="15.2" height="14.5" fill="#fff" fill-opacity="0.55" stroke="#0000ff" stroke-width="2.2"/>
<line x1="1211.7" x2="1226.8" y1="155" y2="155" stroke="#0000ff" stroke-width="2.6"/>
<path d="M1245.6 204.2h0M1246.4 161.2h0M1245.1 171h0M1238.2 173.6h0M1244.7 159.8h0M1241.4 158.7h0M1235.2 187.2h0M1246.3 151.1h0M1247.3 171.9h0M1237.5 160.7h0M1237.3 174.4h0M1238.1 179.5h0M1238.3 214.8h0M1237.1 144.6h0M1239.1 149.8h0M1246.8 160.9h0M1237.4 151.7h0M1235.2 147.3h0M1235.4 105h0M1246.3 134.9h0M1246.9 150.7h0" stroke="#ff0000" stroke-opacity="0.42" stroke-width="4.8" stroke-linecap="round" fill="none"/>
<path d="M1238 188.5h0M1246.4 155.9h0M1239.1 140.8h0M1247 205.5h0M1243.5 178.5h0M1237 148.7h0M1240.8 175.9h0M1243.5 197.2h0M1245.8 144.3h0M1235.2 136.3h0M1235.6 164.5h0M1244.6 114.7h0M1246.6 159.8h0M1236.1 206.9h0M1238.8 142.3h0M1240.8 169.2h0M1235.4 143.5h0M1247.7 123.4h0M1240.4 125.6h0M1236.6 156.6h0M1238.4 200h0" stroke="#ff0000" stroke-opacity="0.42" stroke-width="4.8" stroke-linecap="round" fill="none"/>
<path d="M1243.7 183.2h0M1240.4 187.5h0M1247.3 246.8h0M1236.6 147.4h0M1238.8 137.8h0M1244.9 164.8h0M1236.8 132.2h0M1240.3 143.7h0M1247.9 174.9h0M1242.6 131.9h0M1243.2 186.7h0M1245.6 177.2h0M1244.1 150.5h0M1236.1 141.4h0M1237.2 193.4h0M1234.9 125.8h0M1248.1 153.3h0M1248 142.5h0M1245.9 127.9h0M1238.8 171.5h0M1239.8 213.8h0" stroke="#ff0000" stroke-opacity="0.42" stroke-width="4.8" stroke-linecap="round" fill="none"/>
<path d="M1245.1 131.5h0M1238 180.7h0M1242.7 155.9h0M1243.5 211.8h0M1239.7 131.9h0M1246.2 197.4h0M1239 131.6h0M1246.5 138h0M1245.9 143.6h0M1243.3 178.8h0M1237.1 163.7h0M1241.3 182.9h0M1245.3 137.3h0M1236.2 128.5h0M1238.9 165.2h0M1245.4 147h0M1242.1 191h0M1244.9 178.3h0M1240.7 142.5h0M1244.9 177.1h0" stroke="#ff0000" stroke-opacity="0.42" stroke-width="4.8" stroke-linecap="round" fill="none"/>
<path d="M1245.4 174h0M1247.1 133.8h0M1237.1 132.8h0M1241.7 144.4h0M1247.5 161h0M1237.6 139.9h0M1247.2 173.1h0M1238.9 165.2h0M1237.9 147.2h0M1243.4 199h0M1236.2 189.8h0M1242 126.1h0M1246.4 140.7h0M1237.4 170.3h0M1235.7 163.2h0M1235.1 166.1h0M1235.2 170.2h0M1236.6 174.5h0M1247 135.6h0M1244.9 169.2h0" stroke="#ff0000" stroke-opacity="0.42" stroke-width="4.8" stroke-linecap="round" fill="none"/>
<path d="M1238.6 172h0M1238.7 142.9h0M1247.7 163.5h0M1244.5 121.1h0M1243.6 173.1h0M1244 153.4h0M1240.5 151.7h0M1243.5 164.7h0M1240.5 107h0M1234.7 126.1h0M1242.6 142.5h0M1237.1 171.7h0M1243.1 169.9h0M1237.3 183.8h0M1244.1 160.2h0M1242.9 174.7h0M1240.7 142.3h0M1245.5 192.1h0M1239.2 144.9h0M1245.7 163.4h0" stroke="#ff0000" stroke-opacity="0.42" stroke-width="4.8" stroke-linecap="round" fill="none"/>
<path d="M1241.4 105V142.5M1241.4 171V213.8" stroke="#ff0000" stroke-width="1.5" fill="none"/>
<rect x="1233.8" y="142.5" width="15.2" height="28.5" fill="#fff" fill-opacity="0.55" stroke="#ff0000" stroke-width="2.2"/>
<line x1="1233.8" x2="1249" y1="159" y2="159" stroke="#ff0000" stroke-width="2.6"/>
<path d="M1258.9 153.3h0M1269.3 150.5h0M1266.8 122h0M1257.7 175h0M1258.1 118.2h0M1267.1 161.8h0M1262 176.3h0M1268 153.2h0M1270 162.1h0M1260.3 145.3h0M1267.5 176.4h0M1265.5 134.5h0M1258.8 160.1h0M1257.6 171.6h0M1261.9 184h0M1264.8 194.5h0M1266.9 120.2h0M1265.2 165.9h0M1260.4 150.5h0M1265.8 250.5h0M1261.1 177.5h0M1269.5 184.1h0M1257.4 173.5h0M1263.1 157.5h0M1256.8 162.5h0M1264.3 131.4h0M1257.5 144.2h0M1270.1 145.9h0M1260.9 138.3h0M1266.5 169.4h0M1267.6 170.9h0M1264.4 167.4h0M1258.7 151.9h0M1269.3 150.5h0M1262.9 146.6h0M1268.5 159.8h0M1266 167.8h0M1267.3 205.1h0M1270.1 149.8h0M1256.8 167.3h0M1257.8 149.4h0M1269.5 173.2h0M1267.5 158.5h0M1263.9 120h0M1266.6 157.5h0M1259.1 146.3h0M1262.9 150.3h0M1267.4 192.3h0M1267 132.5h0M1269.5 169.6h0M1258.1 167.7h0M1268.6 169.4h0M1270.1 151.9h0M1269.2 155h0M1266.9 140.9h0M1264.2 116h0M1262.4 187.3h0M1265.1 160.2h0M1261.2 154.4h0M1266.2 138.9h0M1265.5 135.8h0M1260.1 151.1h0M1270.1 184h0M1260.4 156.9h0M1266.4 176.8h0M1262.3 159h0M1266.5 157.1h0M1268.3 197.2h0M1269.9 137.9h0M1268.6 131.9h0M1269.9 97.7h0M1264.3 120.6h0M1266.8 139.7h0M1262 179.5h0M1267.8 173.2h0M1264 208.5h0M1263.9 140.6h0M1264.3 140.9h0M1257.9 145.4h0M1257.1 197.3h0M1259.9 157.7h0M1264.4 142.2h0M1256.7 175.5h0M1261.2 162.8h0M1264.3 147.8h0M1266.9 183.7h0M1258.8 120.8h0M1266.6 162.4h0M1260.7 131.2h0M1265.9 123.6h0M1262.9 214.2h0M1260.4 123.2h0" stroke="#ff0000" stroke-opacity="0.42" stroke-width="4.8" stroke-linecap="round" fill="none"/>
<path d="M1262.8 140.5h0M1257.5 154.9h0M1256.9 208h0M1261.8 150.1h0M1264.7 142.1h0M1257.6 175.8h0M1260.9 145.3h0M1258.4 149.4h0M1267.9 162.2h0M1264.3 145.4h0M1269.6 169.7h0M1269.6 113.2h0M1269.8 123.3h0M1258.9 149.2h0M1265.8 102.6h0M1259.8 104.9h0M1257.8 166.7h0M1260.4 137.5h0M1262 163.6h0M1268.5 178.6h0M1259.6 160.5h0M1269.6 167.7h0M1264.5 155.9h0M1266 115.4h0M1262 191.6h0M1257.9 155.4h0M1256.8 183.3h0M1267 159.1h0M1260.1 165.2h0M1269.8 164.6h0M1267.3 135.1h0M1268.6 156.2h0M1259.1 123.7h0M1256.8 179.7h0M1265.2 208.2h0M1259.6 165.9h0M1264.1 172.2h0M1265.5 185.1h0M1259 125.4h0M1262.9 156h0M1257.3 165.3h0M1265.7 172.3h0M1266.1 167.8h0M1258 123.8h0M1259.4 132.1h0M1263.6 130.8h0M1259.8 159.6h0M1259.5 166.9h0M1260.8 145.5h0M1258.5 142.3h0M1261.8 148.4h0M1269 169.7h0M1263.3 146.9h0M1259.9 108.1h0M1261.7 195.6h0M1257.2 191.4h0M1269.1 145.4h0M1260.8 211.3h0M1264.6 163.9h0M1257.9 146.8h0M1263.9 164.1h0M1257.7 160.1h0M1262.2 157.8h0M1264.5 147h0M1266.3 153.1h0M1261.6 142.5h0M1264.2 130.4h0M1261.4 128.2h0M1265.8 160.6h0M1265.6 156.1h0M1270 142.9h0M1268.5 122.9h0M1264.8 150.7h0M1261.5 181.1h0M1268.4 150.8h0M1258.4 159.7h0M1265.3 148.7h0M1262.8 138.5h0M1260.6 186.3h0M1267.3 172.9h0M1258.1 129h0M1266.8 148.3h0M1264.4 157.3h0M1266.8 163.1h0M1261.1 168.5h0M1265.7 144.6h0M1268.6 217.3h0M1258.2 178.4h0M1266 144.7h0M1269.9 141.9h0M1262.9 159.7h0M1261.1 184.2h0" stroke="#ff0000" stroke-opacity="0.42" stroke-width="4.8" stroke-linecap="round" fill="none"/>
<path d="M1263.4 191.5h0M1258.2 130.2h0M1267.6 171.9h0M1269.6 128.6h0M1258.7 159.2h0M1258.2 151.5h0M1257.3 135.1h0M1267.5 181.9h0M1260.1 112.6h0M1268.4 114.2h0M1262.1 147.3h0M1266.1 187h0M1264.3 170.8h0M1269 145h0M1265.1 141.8h0M1265.2 161.2h0M1268.2 142.7h0M1266.5 111.6h0M1263.9 152.8h0M1257.4 136.3h0M1257.2 156.7h0M1259.8 150.6h0M1261.2 151.8h0M1263.6 155.2h0M1261.8 162.8h0M1256.7 135.7h0M1261.2 159.2h0M1262 166.1h0M1266.2 148h0M1261.3 146.6h0M1265.8 120h0M1258.8 171.8h0M1264.5 151.4h0M1258.7 190.3h0M1263.1 160.5h0M1257.8 142.6h0M1260.1 140.2h0M1263.1 152.7h0M1260 148.3h0M1262.5 117.3h0M1259.4 153.7h0M1261.9 135.2h0M1257 131.9h0M1258.4 125.5h0M1267.1 160.8h0M1266.3 169.7h0M1262.8 136.6h0M1268.9 168.8h0M1264.1 169.7h0M1267.8 144.5h0M1265.5 137.4h0M1256.8 137.7h0M1263.9 166.7h0M1265.9 155.6h0M1261.8 177.3h0M1268 144.4h0M1268.4 140.8h0M1262.5 135.8h0M1259.8 160.6h0M1268.8 175.5h0M1267.3 160.8h0M1261.7 162h0M1261.7 139.6h0M1263.9 143.6h0M1264.8 168.3h0M1257.1 174.1h0M1263.3 140h0M1260.5 155.2h0M1266.7 155.2h0M1259.9 151.8h0M1269.5 157.1h0M1262.8 144.2h0M1259.7 151h0M1266.7 210.3h0M1259.8 160.7h0M1268.7 160.7h0M1264.9 151.4h0M1259.1 134.5h0M1258.1 138.9h0M1264.9 157.4h0M1257.8 202.8h0M1258.6 208.1h0M1265.8 166.9h0M1269.2 219.7h0M1264.1 207.1h0M1261 162.6h0M1264.1 166.2h0M1269.1 154.2h0M1257.1 161.9h0M1257.6 141.5h0M1265.2 209.2h0M1266.6 148.6h0" stroke="#ff0000" stroke-opacity="0.42" stroke-width="4.8" stroke-linecap="round" fill="none"/>
<path d="M1260.1 104.7h0M1270 132.6h0M1259.9 176.4h0M1259.5 175.7h0M1260.6 152.3h0M1265.3 189.7h0M1267.3 213.5h0M1269.5 148h0M1268.3 157.7h0M1266.5 133.6h0M1269 144h0M1266.7 173.6h0M1262.3 120.9h0M1258.6 162.5h0M1265.6 161.2h0M1259.5 147.3h0M1257 156.7h0M1269.3 152.9h0M1262.4 170.2h0M1259.1 181.1h0M1261.8 159.7h0M1267.3 172.1h0M1267.4 211.4h0M1267.7 180.4h0M1258 195.7h0M1263.7 161.8h0M1260.6 208.3h0M1264.4 153.3h0M1259.3 188.7h0M1262.9 144.7h0M1266.2 91.5h0M1257.4 179.3h0M1259.4 152.7h0M1257.7 146h0M1258.4 132.5h0M1266.3 175.6h0M1256.9 158.5h0M1259.7 152.7h0M1263 165.9h0M1258.3 172.6h0M1269.6 160.7h0M1260.9 128.6h0M1268.6 127.1h0M1258.9 121.6h0M1259.8 140.5h0M1258.8 137.6h0M1268.8 129.7h0M1256.9 166.7h0M1263.9 160.9h0M1266.7 163h0M1261.8 149.2h0M1257.4 150.4h0M1266.9 142.3h0M1259.8 160.9h0M1269.6 155.3h0M1262.3 167h0M1262.6 159.5h0M1262.2 169.2h0M1262.3 160.2h0M1268.5 206.9h0M1270 146.8h0M1268.4 162.9h0M1263.9 169.8h0M1265.6 152.1h0M1264.6 146.6h0M1269.9 164.9h0M1263 199.4h0M1266.6 146.1h0M1266.3 154.7h0M1264.9 127.7h0M1269.9 163.6h0M1265.8 139.3h0M1256.7 189.8h0M1268.8 154.5h0M1266.2 151.2h0M1264.3 155h0M1266.1 179.6h0M1267.5 141.3h0M1261 141.5h0M1267.7 142.6h0M1260.4 155.9h0M1260.6 142.9h0M1266.2 134.3h0M1269.7 162.4h0M1265.1 145.4h0M1264.3 190.9h0M1269.8 118.5h0M1267.9 218.3h0M1263.7 187.5h0M1265.4 219.1h0M1261 156.9h0" stroke="#ff0000" stroke-opacity="0.42" stroke-width="4.8" stroke-linecap="round" fill="none"/>
<path d="M1260 145.2h0M1269.2 95.7h0M1258.7 149.7h0M1263.7 144.6h0M1263.1 164.1h0M1258.3 164.3h0M1258.4 153.3h0M1268.7 178.8h0M1265.6 157.8h0M1257.3 145.8h0M1268.7 164.2h0M1263 99.3h0M1265.6 165.2h0M1268.8 143.6h0M1264.4 166.9h0M1256.8 142.3h0M1262.7 156.5h0M1267.6 106.5h0M1269.1 177.4h0M1257.6 122.4h0M1264.8 140.8h0M1259.3 165.2h0M1269.7 174.1h0M1261 162.4h0M1263.9 148.2h0M1267.8 160.4h0M1267.7 168.4h0M1268.7 166.2h0M1262.5 132.4h0M1259 161.4h0M1264.9 152.2h0M1264.9 160.3h0M1258 154.8h0M1268.6 129h0M1269.2 173.2h0M1263.3 138.7h0M1260.4 159.8h0M1267.5 173h0M1265.1 121.1h0M1257.5 157.9h0M1259.2 215.1h0M1260.5 177.4h0M1259.3 176.9h0M1265 184.6h0M1266.1 171.2h0M1268.5 162.1h0M1258.1 151.9h0M1267.4 164.4h0M1264.6 145.8h0M1258.9 228h0M1263 165.9h0M1266 155.8h0M1264 124.5h0M1257 145.4h0M1257.2 156.8h0M1261 162.4h0M1261.7 122.1h0M1267.8 185.1h0M1263.8 156.4h0M1269.3 143.8h0M1265.1 163.9h0M1258 156.7h0M1258.7 149.6h0M1263.3 157.4h0M1268 158.5h0M1259 148.9h0M1263 131.7h0M1257.1 150.8h0M1258.1 157.6h0M1270.1 131.1h0M1263.3 193.9h0M1256.9 141.6h0M1257.1 154.5h0M1261.3 143.5h0M1260.5 153.6h0M1267.7 129.6h0M1259.5 216.1h0M1268.3 149.7h0M1257.1 170.7h0M1259.1 170.6h0M1263.7 165.4h0M1268.8 190.2h0M1266.5 170.4h0M1257.5 147.5h0M1266.9 191.1h0M1270.1 158.7h0M1261.6 165.6h0M1265.8 163.5h0M1260.8 151.9h0M1265.6 135.4h0M1257.6 144.2h0" stroke="#ff0000" stroke-opacity="0.42" stroke-width="4.8" stroke-linecap="round" fill="none"/>
<path d="M1263.7 138.2h0M1263.4 153.4h0M1263 181.9h0M1263.4 102.6h0M1261.8 149.1h0M1259.9 172h0M1269.7 156.4h0M1269.2 158.3h0M1260.1 169.6h0M1264.6 191.5h0M1263.4 99.3h0M1266 161.5h0M1258.2 154.1h0M1269.2 146.4h0M1264.8 152.9h0M1269.8 175.6h0M1262.2 164.6h0M1262.7 151.8h0M1266.7 166.3h0M1269.9 157.6h0M1258.9 181.1h0M1267.3 171.4h0M1264.7 185.7h0M1267.6 178.5h0M1267.1 144.7h0M1258.7 156.1h0M1269.3 149.1h0M1266.9 171.7h0M1270.1 150.4h0M1259.4 180.4h0M1260.2 130.9h0M1258 125.3h0M1260.2 121.8h0M1269 135.3h0M1270.2 151.7h0M1268.8 175.8h0M1263.3 163.5h0M1258.3 154.8h0M1262 163.4h0M1270.2 143.2h0M1258.8 170.3h0M1264.9 157.9h0M1264.4 133.8h0M1266.2 178.2h0M1264.5 153.2h0M1270.2 130.7h0M1268.9 132.7h0M1258.5 138.6h0M1267.7 185.7h0M1260.6 215.2h0M1265.4 132.6h0M1265.1 149.8h0M1264.5 162.6h0M1263.1 158.7h0M1258.8 121.1h0M1268 180.5h0M1264.6 134.2h0M1264.7 131.6h0M1262.1 159.1h0M1258.3 116.2h0M1258.4 142.8h0M1264.8 92h0M1258.6 159.3h0M1264.4 167.7h0M1266.9 169.4h0M1264.1 151.1h0M1262.4 183.2h0M1261.7 162.5h0M1269.1 151.1h0M1260.6 160.8h0M1268 119.1h0M1261.6 172h0M1263.3 169.2h0M1258.6 94.4h0M1267.2 180.3h0M1263.2 170.3h0M1262.2 152.1h0M1266.8 163.6h0M1269.1 216h0M1262.6 154.1h0M1264.3 166.4h0M1270.2 146.6h0M1268.6 123.2h0M1267.9 146.7h0M1269.3 121.1h0M1261.5 147.5h0M1265.4 161.1h0M1268.3 189.7h0M1259.7 140.8h0M1262 142.8h0M1262.9 112.4h0" stroke="#ff0000" stroke-opacity="0.42" stroke-width="4.8" stroke-linecap="round" fill="none"/>
<path d="M1263.5 110.7V145.7M1263.5 169V204" stroke="#ff0000" stroke-width="1.5" fill="none"/>
<rect x="1255.9" y="145.7" width="15.2" height="23.3" fill="#fff" fill-opacity="0.55" stroke="#ff0000" stroke-width="2.2"/>
<line x1="1255.9" x2="1271.1" y1="154.4" y2="154.4" stroke="#ff0000" stroke-width="2.6"/>
<path d="M1280.3 134.6h0M1284.2 140.5h0M1290.4 152.2h0M1289.4 153.5h0M1278.9 146.7h0M1281.9 150.4h0M1288.1 159h0" stroke="#0000ff" stroke-opacity="0.42" stroke-width="4.8" stroke-linecap="round" fill="none"/>
<path d="M1287.4 129.9h0M1281.3 158.9h0M1282.5 141.9h0M1287 150h0M1289.8 153.8h0M1283.2 150.5h0" stroke="#0000ff" stroke-opacity="0.42" stroke-width="4.8" stroke-linecap="round" fill="none"/>
<path d="M1290.3 169h0M1289.4 138.7h0M1290.7 130.2h0M1286.8 139.4h0M1286.9 143.7h0M1279.9 149.4h0" stroke="#0000ff" stroke-opacity="0.42" stroke-width="4.8" stroke-linecap="round" fill="none"/>
<path d="M1291.4 152.1h0M1279.8 158.6h0M1290.5 121.4h0M1288.9 132.3h0M1282.9 147.2h0M1290.3 134.2h0" stroke="#0000ff" stroke-opacity="0.42" stroke-width="4.8" stroke-linecap="round" fill="none"/>
<path d="M1289.9 138.3h0M1287.9 158.8h0M1283.9 143.8h0M1285.9 118.8h0M1285 131h0M1289.1 142.5h0" stroke="#0000ff" stroke-opacity="0.42" stroke-width="4.8" stroke-linecap="round" fill="none"/>
<path d="M1291.3 140.8h0M1289.2 118.6h0M1287.1 118.7h0M1285.6 163.5h0M1281.4 138.3h0M1291.2 134.6h0" stroke="#0000ff" stroke-opacity="0.42" stroke-width="4.8" stroke-linecap="round" fill="none"/>
<path d="M1285.6 118.6V137.8M1285.6 150.7V169" stroke="#0000ff" stroke-width="1.5" fill="none"/>
<rect x="1278" y="137.8" width="15.2" height="12.9" fill="#fff" fill-opacity="0.55" stroke="#0000ff" stroke-width="2.2"/>
<line x1="1278" x2="1293.2" y1="144.5" y2="144.5" stroke="#0000ff" stroke-width="2.6"/>
<path d="M1305.3 160.2h0M1313.1 206h0M1310.4 187.4h0M1306.8 140.7h0M1305.8 164.5h0M1310.6 156.8h0M1306.6 140.2h0M1302.8 151.1h0M1303.7 177.4h0M1312 197.2h0" stroke="#ff0000" stroke-opacity="0.42" stroke-width="4.8" stroke-linecap="round" fill="none"/>
<path d="M1314.1 174.9h0M1310.4 164.5h0M1302.1 136.6h0M1301.8 173.6h0M1313.7 153.8h0M1310.9 154.3h0M1304.6 189h0M1301.9 151.5h0M1303.7 169.6h0M1302.7 164.2h0" stroke="#ff0000" stroke-opacity="0.42" stroke-width="4.8" stroke-linecap="round" fill="none"/>
<path d="M1308.8 157.9h0M1312.8 168.2h0M1307.4 172.8h0M1307.8 152.3h0M1306.6 190.4h0M1301.4 160.5h0M1309.2 171.4h0M1303.2 170.5h0M1309.3 187.8h0M1310.7 157.9h0" stroke="#ff0000" stroke-opacity="0.42" stroke-width="4.8" stroke-linecap="round" fill="none"/>
<path d="M1305.5 141.4h0M1312.3 127.3h0M1305.4 167.8h0M1310.7 196.2h0M1304.7 144.9h0M1312.5 183.2h0M1312.9 153.9h0M1302.9 172h0M1301.9 169.3h0M1312.2 160.7h0" stroke="#ff0000" stroke-opacity="0.42" stroke-width="4.8" stroke-linecap="round" fill="none"/>
<path d="M1309.8 152.1h0M1309.8 141.8h0M1303.1 140h0M1303.5 149.1h0M1301.4 182.9h0M1313.5 153.8h0M1314.1 145.4h0M1304.8 191.1h0M1314.1 162h0M1305.7 159h0" stroke="#ff0000" stroke-opacity="0.42" stroke-width="4.8" stroke-linecap="round" fill="none"/>
<path d="M1306.5 179.9h0M1305.5 147.5h0M1307.9 132.7h0M1304.7 170.5h0M1301.2 150.1h0M1306.9 164h0M1304.5 126h0M1303.4 150.2h0M1303.3 150.3h0" stroke="#ff0000" stroke-opacity="0.42" stroke-width="4.8" stroke-linecap="round" fill="none"/>
<path d="M1307.7 126V147M1307.7 173V206" stroke="#ff0000" stroke-width="1.5" fill="none"/>
<rect x="1300.1" y="147" width="15.2" height="26" fill="#fff" fill-opacity="0.55" stroke="#ff0000" stroke-width="2.2"/>
<line x1="1300.1" x2="1315.3" y1="162.5" y2="162.5" stroke="#ff0000" stroke-width="2.6"/>
<path d="M1328.8 202.1h0M1334.3 170.9h0M1327.1 169.8h0M1323.1 185.9h0M1327.5 211.6h0M1330 215.8h0M1323.1 189h0M1334.5 201.6h0M1334.7 222.1h0M1328.3 172.4h0M1331.2 212.9h0M1335.5 167h0M1334 178.6h0M1329.4 212h0" stroke="#ff0000" stroke-opacity="0.42" stroke-width="4.8" stroke-linecap="round" fill="none"/>
<path d="M1325.5 168.2h0M1324.5 223.3h0M1324.4 233.1h0M1330.4 183.1h0M1326.7 222.7h0M1325.8 208.4h0M1334.2 177.7h0M1328.4 202.9h0M1323.5 207.4h0M1335.7 177.1h0M1331.4 160.3h0M1329.9 192.8h0M1333.6 143.9h0M1333.4 184.2h0" stroke="#ff0000" stroke-opacity="0.42" stroke-width="4.8" stroke-linecap="round" fill="none"/>
<path d="M1336.4 193.5h0M1328 210.8h0M1333.9 213.8h0M1327.5 188h0M1329.7 208.2h0M1329.9 198.1h0M1335.7 196.1h0M1326.6 202.2h0M1335.7 181.9h0M1332.3 188.6h0M1331.2 187.6h0M1323.5 170.7h0M1335.6 188.9h0M1332.2 237.8h0" stroke="#ff0000" stroke-opacity="0.42" stroke-width="4.8" stroke-linecap="round" fill="none"/>
<path d="M1330.6 236h0M1329.5 174.9h0M1335.6 178.3h0M1324.7 129.7h0M1331.9 179.2h0M1331.2 199.3h0M1327.1 203.2h0M1334.3 172.6h0M1332.1 228.9h0M1329 229.6h0M1329.1 184.4h0M1328.3 185.6h0M1327.4 164.1h0M1324 198.4h0" stroke="#ff0000" stroke-opacity="0.42" stroke-width="4.8" stroke-linecap="round" fill="none"/>
<path d="M1334.9 149.7h0M1330.4 192.4h0M1323.8 202.6h0M1334 155.3h0M1335 250.5h0M1332.9 158h0M1330.3 159.7h0M1330.7 196.2h0M1326.3 196.4h0M1331.4 200.8h0M1327.2 157.8h0M1325.7 207.6h0M1336.3 220.9h0" stroke="#ff0000" stroke-opacity="0.42" stroke-width="4.8" stroke-linecap="round" fill="none"/>
<path d="M1335.9 223.7h0M1335.3 181.6h0M1336.1 168.6h0M1331.7 221h0M1332.2 200.7h0M1333.8 203.7h0M1329.8 171.8h0M1330.4 192.8h0M1323.7 147.7h0M1335.5 157.6h0M1328.5 187.7h0M1335.1 222.2h0M1324 195h0" stroke="#ff0000" stroke-opacity="0.42" stroke-width="4.8" stroke-linecap="round" fill="none"/>
<path d="M1329.8 129.7V174M1329.8 213.5V250.5" stroke="#ff0000" stroke-width="1.5" fill="none"/>
<rect x="1322.2" y="174" width="15.2" height="39.5" fill="#fff" fill-opacity="0.55" stroke="#ff0000" stroke-width="2.2"/>
<line x1="1322.2" x2="1337.4" y1="190" y2="190" stroke="#ff0000" stroke-width="2.6"/>
<rect x="101" y="9.5" width="1241" height="404.5" fill="none" stroke="#9a9a9a" stroke-width="1.4"/>
<line x1="96" x2="101" y1="396" y2="396" stroke="#333" stroke-width="1.2"/>
<text x="92" y="400.8" font-family="'Liberation Sans',sans-serif" font-size="13.5" text-anchor="end" fill="#4d4d4d">0</text>
<line x1="96" x2="101" y1="262.1" y2="262.1" stroke="#333" stroke-width="1.2"/>
<text x="92" y="266.9" font-family="'Liberation Sans',sans-serif" font-size="13.5" text-anchor="end" fill="#4d4d4d">5</text>
<line x1="96" x2="101" y1="128.3" y2="128.3" stroke="#333" stroke-width="1.2"/>
<text x="92" y="133.1" font-family="'Liberation Sans',sans-serif" font-size="13.5" text-anchor="end" fill="#4d4d4d">10</text>
<line x1="113.8" x2="113.8" y1="414" y2="419" stroke="#333" stroke-width="1.2"/>
<text transform="translate(119.1,424) rotate(-90)" font-family="'Liberation Sans',sans-serif" font-size="15.4" text-anchor="end" fill="#1a1a1a" stroke="#1a1a1a" stroke-width="0.25">ACC.Tumor</text>
<line x1="135.9" x2="135.9" y1="414" y2="419" stroke="#333" stroke-width="1.2"/>
<text transform="translate(141.2,424) rotate(-90)" font-family="'Liberation Sans',sans-serif" font-size="15.4" text-anchor="end" fill="#1a1a1a" stroke="#1a1a1a" stroke-width="0.25">BLCA.Tumor</text>
<line x1="158" x2="158" y1="414" y2="419" stroke="#333" stroke-width="1.2"/>
<text transform="translate(163.3,424) rotate(-90)" font-family="'Liberation Sans',sans-serif" font-size="15.4" text-anchor="end" fill="#1a1a1a" stroke="#1a1a1a" stroke-width="0.25">BLCA.Normal</text>
<line x1="180.1" x2="180.1" y1="414" y2="419" stroke="#333" stroke-width="1.2"/>
<text transform="translate(185.4,424) rotate(-90)" font-family="'Liberation Sans',sans-serif" font-size="15.4" text-anchor="end" fill="#1a1a1a" stroke="#1a1a1a" stroke-width="0.25">BRCA.Tumor</text>
<line x1="202.2" x2="202.2" y1="414" y2="419" stroke="#333" stroke-width="1.2"/>
<text transform="translate(207.5,424) rotate(-90)" font-family="'Liberation Sans',sans-serif" font-size="15.4" text-anchor="end" fill="#1a1a1a" stroke="#1a1a1a" stroke-width="0.25">BRCA.Normal</text>
<line x1="224.3" x2="224.3" y1="414" y2="419" stroke="#333" stroke-width="1.2"/>
<text transform="translate(229.6,424) rotate(-90)" font-family="'Liberation Sans',sans-serif" font-size="15.4" text-anchor="end" fill="#1a1a1a" stroke="#1a1a1a" stroke-width="0.25">BRCA-Basal.Tumor</text>
<line x1="246.5" x2="246.5" y1="414" y2="419" stroke="#333" stroke-width="1.2"/>
<text transform="translate(251.8,424) rotate(-90)" font-family="'Liberation Sans',sans-serif" font-size="15.4" text-anchor="end" fill="#1a1a1a" stroke="#1a1a1a" stroke-width="0.25">BRCA-Her2.Tumor</text>
<line x1="268.6" x2="268.6" y1="414" y2="419" stroke="#333" stroke-width="1.2"/>
<text transform="translate(273.9,424) rotate(-90)" font-family="'Liberation Sans',sans-serif" font-size="15.4" text-anchor="end" fill="#1a1a1a" stroke="#1a1a1a" stroke-width="0.25">BRCA-Luminal.Tumor</text>
<line x1="290.7" x2="290.7" y1="414" y2="419" stroke="#333" stroke-width="1.2"/>
<text transform="translate(296,424) rotate(-90)" font-family="'Liberation Sans',sans-serif" font-size="15.4" text-anchor="end" fill="#1a1a1a" stroke="#1a1a1a" stroke-width="0.25">CESC.Tumor</text>
<line x1="312.8" x2="312.8" y1="414" y2="419" stroke="#333" stroke-width="1.2"/>
<text transform="translate(318.1,424) rotate(-90)" font-family="'Liberation Sans',sans-serif" font-size="15.4" text-anchor="end" fill="#1a1a1a" stroke="#1a1a1a" stroke-width="0.25">CHOL.Tumor</text>
<line x1="334.9" x2="334.9" y1="414" y2="419" stroke="#333" stroke-width="1.2"/>
<text transform="translate(340.2,424) rotate(-90)" font-family="'Liberation Sans',sans-serif" font-size="15.4" text-anchor="end" fill="#1a1a1a" stroke="#1a1a1a" stroke-width="0.25">CHOL.Normal</text>
<line x1="357" x2="357" y1="414" y2="419" stroke="#333" stroke-width="1.2"/>
<text transform="translate(362.3,424) rotate(-90)" font-family="'Liberation Sans',sans-serif" font-size="15.4" text-anchor="end" fill="#1a1a1a" stroke="#1a1a1a" stroke-width="0.25">COAD.Tumor</text>
<line x1="379.1" x2="379.1" y1="414" y2="419" stroke="#333" stroke-width="1.2"/>
<text transform="translate(384.4,424) rotate(-90)" font-family="'Liberation Sans',sans-serif" font-size="15.4" text-anchor="end" fill="#1a1a1a" stroke="#1a1a1a" stroke-width="0.25">COAD.Normal</text>
<line x1="401.2" x2="401.2" y1="414" y2="419" stroke="#333" stroke-width="1.2"/>
<text transform="translate(406.5,424) rotate(-90)" font-family="'Liberation Sans',sans-serif" font-size="15.4" text-anchor="end" fill="#1a1a1a" stroke="#1a1a1a" stroke-width="0.25">DLBC.Tumor</text>
<line x1="423.3" x2="423.3" y1="414" y2="419" stroke="#333" stroke-width="1.2"/>
<text transform="translate(428.6,424) rotate(-90)" font-family="'Liberation Sans',sans-serif" font-size="15.4" text-anchor="end" fill="#1a1a1a" stroke="#1a1a1a" stroke-width="0.25">ESCA.Tumor</text>
<line x1="445.4" x2="445.4" y1="414" y2="419" stroke="#333" stroke-width="1.2"/>
<text transform="translate(450.7,424) rotate(-90)" font-family="'Liberation Sans',sans-serif" font-size="15.4" text-anchor="end" fill="#1a1a1a" stroke="#1a1a1a" stroke-width="0.25">ESCA.Normal</text>
<line x1="467.5" x2="467.5" y1="414" y2="419" stroke="#333" stroke-width="1.2"/>
<text transform="translate(472.8,424) rotate(-90)" font-family="'Liberation Sans',sans-serif" font-size="15.4" text-anchor="end" fill="#1a1a1a" stroke="#1a1a1a" stroke-width="0.25">GBM.Tumor</text>
<line x1="489.7" x2="489.7" y1="414" y2="419" stroke="#333" stroke-width="1.2"/>
<text transform="translate(495,424) rotate(-90)" font-family="'Liberation Sans',sans-serif" font-size="15.4" text-anchor="end" fill="#1a1a1a" stroke="#1a1a1a" stroke-width="0.25">HNSC.Tumor</text>
<line x1="511.8" x2="511.8" y1="414" y2="419" stroke="#333" stroke-width="1.2"/>
<text transform="translate(517.1,424) rotate(-90)" font-family="'Liberation Sans',sans-serif" font-size="15.4" text-anchor="end" fill="#1a1a1a" stroke="#1a1a1a" stroke-width="0.25">HNSC.Normal</text>
<line x1="533.9" x2="533.9" y1="414" y2="419" stroke="#333" stroke-width="1.2"/>
<text transform="translate(539.2,424) rotate(-90)" font-family="'Liberation Sans',sans-serif" font-size="15.4" text-anchor="end" fill="#1a1a1a" stroke="#1a1a1a" stroke-width="0.25">HNSC-HPVpos.Tumor</text>
<line x1="556" x2="556" y1="414" y2="419" stroke="#333" stroke-width="1.2"/>
<text transform="translate(561.3,424) rotate(-90)" font-family="'Liberation Sans',sans-serif" font-size="15.4" text-anchor="end" fill="#1a1a1a" stroke="#1a1a1a" stroke-width="0.25">HNSC-HPVneg.Tumor</text>
<line x1="578.1" x2="578.1" y1="414" y2="419" stroke="#333" stroke-width="1.2"/>
<text transform="translate(583.4,424) rotate(-90)" font-family="'Liberation Sans',sans-serif" font-size="15.4" text-anchor="end" fill="#1a1a1a" stroke="#1a1a1a" stroke-width="0.25">KICH.Tumor</text>
<line x1="600.2" x2="600.2" y1="414" y2="419" stroke="#333" stroke-width="1.2"/>
<text transform="translate(605.5,424) rotate(-90)" font-family="'Liberation Sans',sans-serif" font-size="15.4" text-anchor="end" fill="#1a1a1a" stroke="#1a1a1a" stroke-width="0.25">KICH.Normal</text>
<line x1="622.3" x2="622.3" y1="414" y2="419" stroke="#333" stroke-width="1.2"/>
<text transform="translate(627.6,424) rotate(-90)" font-family="'Liberation Sans',sans-serif" font-size="15.4" text-anchor="end" fill="#1a1a1a" stroke="#1a1a1a" stroke-width="0.25">KIRC.Tumor</text>
<line x1="644.4" x2="644.4" y1="414" y2="419" stroke="#333" stroke-width="1.2"/>
<text transform="translate(649.7,424) rotate(-90)" font-family="'Liberation Sans',sans-serif" font-size="15.4" text-anchor="end" fill="#1a1a1a" stroke="#1a1a1a" stroke-width="0.25">KIRC.Normal</text>
<line x1="666.5" x2="666.5" y1="414" y2="419" stroke="#333" stroke-width="1.2"/>
<text transform="translate(671.8,424) rotate(-90)" font-family="'Liberation Sans',sans-serif" font-size="15.4" text-anchor="end" fill="#1a1a1a" stroke="#1a1a1a" stroke-width="0.25">KIRP.Tumor</text>
<line x1="688.6" x2="688.6" y1="414" y2="419" stroke="#333" stroke-width="1.2"/>
<text transform="translate(693.9,424) rotate(-90)" font-family="'Liberation Sans',sans-serif" font-size="15.4" text-anchor="end" fill="#1a1a1a" stroke="#1a1a1a" stroke-width="0.25">KIRP.Normal</text>
<line x1="710.7" x2="710.7" y1="414" y2="419" stroke="#333" stroke-width="1.2"/>
<text transform="translate(716,424) rotate(-90)" font-family="'Liberation Sans',sans-serif" font-size="15.4" text-anchor="end" fill="#1a1a1a" stroke="#1a1a1a" stroke-width="0.25">LAML.Tumor</text>
<line x1="732.9" x2="732.9" y1="414" y2="419" stroke="#333" stroke-width="1.2"/>
<text transform="translate(738.2,424) rotate(-90)" font-family="'Liberation Sans',sans-serif" font-size="15.4" text-anchor="end" fill="#1a1a1a" stroke="#1a1a1a" stroke-width="0.25">LGG.Tumor</text>
<line x1="755" x2="755" y1="414" y2="419" stroke="#333" stroke-width="1.2"/>
<text transform="translate(760.3,424) rotate(-90)" font-family="'Liberation Sans',sans-serif" font-size="15.4" text-anchor="end" fill="#1a1a1a" stroke="#1a1a1a" stroke-width="0.25">LIHC.Tumor</text>
<line x1="777.1" x2="777.1" y1="414" y2="419" stroke="#333" stroke-width="1.2"/>
<text transform="translate(782.4,424) rotate(-90)" font-family="'Liberation Sans',sans-serif" font-size="15.4" text-anchor="end" fill="#1a1a1a" stroke="#1a1a1a" stroke-width="0.25">LIHC.Normal</text>
<line x1="799.2" x2="799.2" y1="414" y2="419" stroke="#333" stroke-width="1.2"/>
<text transform="translate(804.5,424) rotate(-90)" font-family="'Liberation Sans',sans-serif" font-size="15.4" text-anchor="end" fill="#1a1a1a" stroke="#1a1a1a" stroke-width="0.25">LUAD.Tumor</text>
<line x1="821.3" x2="821.3" y1="414" y2="419" stroke="#333" stroke-width="1.2"/>
<text transform="translate(826.6,424) rotate(-90)" font-family="'Liberation Sans',sans-serif" font-size="15.4" text-anchor="end" fill="#1a1a1a" stroke="#1a1a1a" stroke-width="0.25">LUAD.Normal</text>
<line x1="843.4" x2="843.4" y1="414" y2="419" stroke="#333" stroke-width="1.2"/>
<text transform="translate(848.7,424) rotate(-90)" font-family="'Liberation Sans',sans-serif" font-size="15.4" text-anchor="end" fill="#1a1a1a" stroke="#1a1a1a" stroke-width="0.25">LUSC.Tumor</text>
<line x1="865.5" x2="865.5" y1="414" y2="419" stroke="#333" stroke-width="1.2"/>
<text transform="translate(870.8,424) rotate(-90)" font-family="'Liberation Sans',sans-serif" font-size="15.4" text-anchor="end" fill="#1a1a1a" stroke="#1a1a1a" stroke-width="0.25">LUSC.Normal</text>
<line x1="887.6" x2="887.6" y1="414" y2="419" stroke="#333" stroke-width="1.2"/>
<text transform="translate(892.9,424) rotate(-90)" font-family="'Liberation Sans',sans-serif" font-size="15.4" text-anchor="end" fill="#1a1a1a" stroke="#1a1a1a" stroke-width="0.25">MESO.Tumor</text>
<line x1="909.7" x2="909.7" y1="414" y2="419" stroke="#333" stroke-width="1.2"/>
<text transform="translate(915,424) rotate(-90)" font-family="'Liberation Sans',sans-serif" font-size="15.4" text-anchor="end" fill="#1a1a1a" stroke="#1a1a1a" stroke-width="0.25">OV.Tumor</text>
<line x1="931.8" x2="931.8" y1="414" y2="419" stroke="#333" stroke-width="1.2"/>
<text transform="translate(937.1,424) rotate(-90)" font-family="'Liberation Sans',sans-serif" font-size="15.4" text-anchor="end" fill="#1a1a1a" stroke="#1a1a1a" stroke-width="0.25">PAAD.Tumor</text>
<line x1="953.9" x2="953.9" y1="414" y2="419" stroke="#333" stroke-width="1.2"/>
<text transform="translate(959.2,424) rotate(-90)" font-family="'Liberation Sans',sans-serif" font-size="15.4" text-anchor="end" fill="#1a1a1a" stroke="#1a1a1a" stroke-width="0.25">PCPG.Tumor</text>
<line x1="976.1" x2="976.1" y1="414" y2="419" stroke="#333" stroke-width="1.2"/>
<text transform="translate(981.4,424) rotate(-90)" font-family="'Liberation Sans',sans-serif" font-size="15.4" text-anchor="end" fill="#1a1a1a" stroke="#1a1a1a" stroke-width="0.25">PRAD.Tumor</text>
<line x1="998.2" x2="998.2" y1="414" y2="419" stroke="#333" stroke-width="1.2"/>
<text transform="translate(1003.5,424) rotate(-90)" font-family="'Liberation Sans',sans-serif" font-size="15.4" text-anchor="end" fill="#1a1a1a" stroke="#1a1a1a" stroke-width="0.25">PRAD.Normal</text>
<line x1="1020.3" x2="1020.3" y1="414" y2="419" stroke="#333" stroke-width="1.2"/>
<text transform="translate(1025.6,424) rotate(-90)" font-family="'Liberation Sans',sans-serif" font-size="15.4" text-anchor="end" fill="#1a1a1a" stroke="#1a1a1a" stroke-width="0.25">READ.Tumor</text>
<line x1="1042.4" x2="1042.4" y1="414" y2="419" stroke="#333" stroke-width="1.2"/>
<text transform="translate(1047.7,424) rotate(-90)" font-family="'Liberation Sans',sans-serif" font-size="15.4" text-anchor="end" fill="#1a1a1a" stroke="#1a1a1a" stroke-width="0.25">READ.Normal</text>
<line x1="1064.5" x2="1064.5" y1="414" y2="419" stroke="#333" stroke-width="1.2"/>
<text transform="translate(1069.8,424) rotate(-90)" font-family="'Liberation Sans',sans-serif" font-size="15.4" text-anchor="end" fill="#1a1a1a" stroke="#1a1a1a" stroke-width="0.25">SARC.Tumor</text>
<line x1="1086.6" x2="1086.6" y1="414" y2="419" stroke="#333" stroke-width="1.2"/>
<text transform="translate(1091.9,424) rotate(-90)" font-family="'Liberation Sans',sans-serif" font-size="15.4" text-anchor="end" fill="#1a1a1a" stroke="#1a1a1a" stroke-width="0.25">SKCM.Tumor</text>
<line x1="1108.7" x2="1108.7" y1="414" y2="419" stroke="#333" stroke-width="1.2"/>
<text transform="translate(1114,424) rotate(-90)" font-family="'Liberation Sans',sans-serif" font-size="15.4" text-anchor="end" fill="#1a1a1a" stroke="#1a1a1a" stroke-width="0.25">SKCM.Metastasis</text>
<line x1="1130.8" x2="1130.8" y1="414" y2="419" stroke="#333" stroke-width="1.2"/>
<text transform="translate(1136.1,424) rotate(-90)" font-family="'Liberation Sans',sans-serif" font-size="15.4" text-anchor="end" fill="#1a1a1a" stroke="#1a1a1a" stroke-width="0.25">STAD.Tumor</text>
<line x1="1152.9" x2="1152.9" y1="414" y2="419" stroke="#333" stroke-width="1.2"/>
<text transform="translate(1158.2,424) rotate(-90)" font-family="'Liberation Sans',sans-serif" font-size="15.4" text-anchor="end" fill="#1a1a1a" stroke="#1a1a1a" stroke-width="0.25">STAD.Normal</text>
<line x1="1175" x2="1175" y1="414" y2="419" stroke="#333" stroke-width="1.2"/>
<text transform="translate(1180.3,424) rotate(-90)" font-family="'Liberation Sans',sans-serif" font-size="15.4" text-anchor="end" fill="#1a1a1a" stroke="#1a1a1a" stroke-width="0.25">TGCT.Tumor</text>
<line x1="1197.1" x2="1197.1" y1="414" y2="419" stroke="#333" stroke-width="1.2"/>
<text transform="translate(1202.4,424) rotate(-90)" font-family="'Liberation Sans',sans-serif" font-size="15.4" text-anchor="end" fill="#1a1a1a" stroke="#1a1a1a" stroke-width="0.25">THCA.Tumor</text>
<line x1="1219.2" x2="1219.2" y1="414" y2="419" stroke="#333" stroke-width="1.2"/>
<text transform="translate(1224.5,424) rotate(-90)" font-family="'Liberation Sans',sans-serif" font-size="15.4" text-anchor="end" fill="#1a1a1a" stroke="#1a1a1a" stroke-width="0.25">THCA.Normal</text>
<line x1="1241.4" x2="1241.4" y1="414" y2="419" stroke="#333" stroke-width="1.2"/>
<text transform="translate(1246.7,424) rotate(-90)" font-family="'Liberation Sans',sans-serif" font-size="15.4" text-anchor="end" fill="#1a1a1a" stroke="#1a1a1a" stroke-width="0.25">THYM.Tumor</text>
<line x1="1263.5" x2="1263.5" y1="414" y2="419" stroke="#333" stroke-width="1.2"/>
<text transform="translate(1268.8,424) rotate(-90)" font-family="'Liberation Sans',sans-serif" font-size="15.4" text-anchor="end" fill="#1a1a1a" stroke="#1a1a1a" stroke-width="0.25">UCEC.Tumor</text>
<line x1="1285.6" x2="1285.6" y1="414" y2="419" stroke="#333" stroke-width="1.2"/>
<text transform="translate(1290.9,424) rotate(-90)" font-family="'Liberation Sans',sans-serif" font-size="15.4" text-anchor="end" fill="#1a1a1a" stroke="#1a1a1a" stroke-width="0.25">UCEC.Normal</text>
<line x1="1307.7" x2="1307.7" y1="414" y2="419" stroke="#333" stroke-width="1.2"/>
<text transform="translate(1313,424) rotate(-90)" font-family="'Liberation Sans',sans-serif" font-size="15.4" text-anchor="end" fill="#1a1a1a" stroke="#1a1a1a" stroke-width="0.25">UCS.Tumor</text>
<line x1="1329.8" x2="1329.8" y1="414" y2="419" stroke="#333" stroke-width="1.2"/>
<text transform="translate(1335.1,424) rotate(-90)" font-family="'Liberation Sans',sans-serif" font-size="15.4" text-anchor="end" fill="#1a1a1a" stroke="#1a1a1a" stroke-width="0.25">UVM.Tumor</text>
<text transform="translate(61.5,211) rotate(-90)" font-family="'Liberation Sans',sans-serif" font-size="19.3" text-anchor="middle" fill="#000">TET2 Expression Level (log2 RSEM)</text>
<rect x="740.5" y="6" width="54" height="516" fill="none" stroke="#e8101a" stroke-width="3"/>
<text x="0" y="27.3" font-family="'Liberation Sans',sans-serif" font-size="35" font-weight="bold" textLength="24" lengthAdjust="spacingAndGlyphs">A</text>
<text x="-1" y="600" font-family="'Liberation Sans',sans-serif" font-size="30" font-weight="bold">B</text>
<rect x="150" y="590" width="249" height="417" fill="none" stroke="#333" stroke-width="1.2"/>
<line x1="142" x2="150" y1="1001" y2="1001" stroke="#333" stroke-width="1"/>
<text transform="translate(131,1001) rotate(-90)" font-family="'Liberation Sans',sans-serif" font-size="12.5" text-anchor="middle" fill="#333">0.0</text>
<line x1="142" x2="150" y1="934.4" y2="934.4" stroke="#333" stroke-width="1"/>
<text transform="translate(131,934.4) rotate(-90)" font-family="'Liberation Sans',sans-serif" font-size="12.5" text-anchor="middle" fill="#333">0.5</text>
<line x1="142" x2="150" y1="867.8" y2="867.8" stroke="#333" stroke-width="1"/>
<text transform="translate(131,867.8) rotate(-90)" font-family="'Liberation Sans',sans-serif" font-size="12.5" text-anchor="middle" fill="#333">1.0</text>
<line x1="142" x2="150" y1="801.2" y2="801.2" stroke="#333" stroke-width="1"/>
<text transform="translate(131,801.2) rotate(-90)" font-family="'Liberation Sans',sans-serif" font-size="12.5" text-anchor="middle" fill="#333">1.5</text>
<line x1="142" x2="150" y1="734.6" y2="734.6" stroke="#333" stroke-width="1"/>
<text transform="translate(131,734.6) rotate(-90)" font-family="'Liberation Sans',sans-serif" font-size="12.5" text-anchor="middle" fill="#333">2.0</text>
<line x1="142" x2="150" y1="668" y2="668" stroke="#333" stroke-width="1"/>
<text transform="translate(131,668) rotate(-90)" font-family="'Liberation Sans',sans-serif" font-size="12.5" text-anchor="middle" fill="#333">2.5</text>
<line x1="142" x2="150" y1="601.4" y2="601.4" stroke="#333" stroke-width="1"/>
<text transform="translate(131,601.4) rotate(-90)" font-family="'Liberation Sans',sans-serif" font-size="12.5" text-anchor="middle" fill="#333">3.0</text>
<line x1="272" x2="272" y1="1007" y2="1015" stroke="#333" stroke-width="1"/>
<text x="272" y="1038" font-family="'Liberation Sans',sans-serif" font-size="12.5" text-anchor="middle" fill="#444">LIHC</text>
<line x1="236" x2="236" y1="743.9" y2="858.5" stroke="#333" stroke-width="1" stroke-dasharray="3,2"/>
<line x1="236" x2="236" y1="938.4" y2="991.7" stroke="#333" stroke-width="1" stroke-dasharray="3,2"/>
<line x1="221" x2="251" y1="743.9" y2="743.9" stroke="#333" stroke-width="1"/>
<line x1="221" x2="251" y1="991.7" y2="991.7" stroke="#333" stroke-width="1"/>
<rect x="205" y="858.5" width="61.5" height="79.9" fill="#fa6868" stroke="#555" stroke-width="1"/>
<line x1="205" x2="266.5" y1="902.4" y2="902.4" stroke="#111" stroke-width="2.6"/>
<line x1="205" x2="266.5" y1="1001" y2="1001" stroke="#111" stroke-width="3.2"/>
<line x1="313" x2="313" y1="754.6" y2="827.8" stroke="#333" stroke-width="1" stroke-dasharray="3,2"/>
<line x1="313" x2="313" y1="895.8" y2="971.7" stroke="#333" stroke-width="1" stroke-dasharray="3,2"/>
<line x1="298" x2="328" y1="754.6" y2="754.6" stroke="#333" stroke-width="1"/>
<line x1="298" x2="328" y1="971.7" y2="971.7" stroke="#333" stroke-width="1"/>
<rect x="282" y="827.8" width="61.6" height="67.9" fill="#808080" stroke="#555" stroke-width="1"/>
<line x1="282" x2="343.6" y1="862.5" y2="862.5" stroke="#111" stroke-width="2.6"/>
<line x1="282" x2="343.6" y1="1001" y2="1001" stroke="#111" stroke-width="3.2"/>
<path d="M233.3 910.6h0M240.8 918.1h0M235.6 898.9h0M236.6 785.5h0M234.1 967.8h0M237.3 840.8h0M243.8 956.2h0M237.2 954.6h0M231.9 978.8h0M242.6 910.5h0M243.7 979.9h0M233.5 928.7h0M233.7 833.5h0M229.8 904.1h0M243.7 829.4h0M228.7 876h0M236.3 845.3h0M229.2 898.2h0M225.2 905.6h0M230.2 917.1h0M242 838.7h0M239.8 908.7h0M241.8 922.2h0M228.5 794.1h0M233.3 830.1h0M241.2 858.2h0M229.3 958.3h0M231.5 832.7h0M228.3 918.9h0M225.6 928h0M229.8 974.7h0M235.9 828.7h0M234.9 861.9h0M235.4 851h0M230.9 863.6h0M225.3 848.8h0M239.8 939h0M238 898.3h0M230.8 908.7h0M239.6 981.8h0M226.8 820.5h0M229 975h0M225.5 983.3h0M240 786.6h0M228.1 903.4h0M227.8 916h0M225.7 939.6h0M229.1 939h0M233.4 863.7h0M238.6 810.5h0M231.3 850.6h0M235.1 836.2h0M237.8 891.2h0M229.4 847h0M228.7 855.3h0M232.4 901.4h0M230.5 932.1h0M229.8 879h0M240.2 953.2h0M242.4 933h0M229.3 885.8h0M225.1 879.1h0M230.5 985.6h0M232.6 814.9h0M240.8 936.9h0M238.7 889.6h0M235.8 886.6h0M233.5 902.5h0M235.8 879.3h0M239.7 896.4h0M231.1 979h0M233.4 901.2h0M242.4 901.2h0M235.8 865.9h0M231.5 949h0M230.9 845.1h0M241.8 957.4h0M242 834.1h0M233.8 901.3h0M227.1 901.8h0M227.9 846.7h0M242.1 927.7h0M241.3 896.9h0M242.8 927.8h0M228.3 950.7h0M242.8 956.5h0M238.2 894.7h0M241.6 877.2h0M239.8 976.7h0M234 850.8h0M230.9 865.2h0M231 983.7h0M229.9 944.9h0M242.1 936.9h0M238.1 869.6h0M226.7 810.7h0M234.2 881.9h0M234.6 873.5h0M235 797h0M238.7 891.1h0M231.5 884.6h0M227.8 983.4h0M242.4 876.6h0M241 842.7h0M242.1 915h0M230.1 850.7h0M236.8 906.1h0M235.5 933.6h0M226.8 865.4h0M236.6 806.2h0M235.8 826.8h0M241.1 942.8h0M232.3 776.3h0M230.2 933.3h0M235.9 847.1h0M232.5 889.1h0M234.1 849.9h0M240.1 941.7h0M238.6 865.5h0M235.7 877.7h0M229.9 777.5h0M243.8 929.6h0M227.9 917.6h0M235.1 915.8h0M226.9 828.8h0M236.4 838.1h0M226.5 852.5h0M237.9 990.6h0M241.6 938.8h0M238.3 916.1h0M232 960.4h0M240.4 907h0M227.6 736.8h0M225.3 844.3h0M239.1 890h0M233 930.2h0M226.2 955h0M238.6 919.5h0M230.9 863.7h0M241 884.4h0M234.8 966.1h0M228.5 822.5h0M242.9 855.9h0M225.3 922.7h0M237.8 967.3h0M229.1 938.9h0M236.4 937.6h0M240.3 962.7h0M233 955.8h0M229.9 922.9h0M237.4 825.1h0M236.6 900.8h0M229.9 880.8h0M239.4 988.1h0M233.6 852.4h0M225.1 943.2h0M243.2 921.4h0M242.1 934.3h0M243.2 972.4h0M228.9 944.8h0M233.3 928.4h0M229.3 924.5h0M243.5 862.8h0M235.3 863.3h0M228.4 769.8h0M232.9 841h0M236.9 853.8h0M232.3 925.3h0M225.8 956.2h0M226.4 935.9h0M242.1 835.9h0M243.6 991.7h0M230.6 903.5h0M240 903.7h0M238.6 985.2h0M226.5 833.3h0M243.9 920.8h0M226.7 928.6h0M238 932h0M236.8 842.3h0M225 888.3h0M236.7 907.6h0M226.5 927.9h0M226.2 820.5h0M233.1 934.3h0M240.8 935.3h0M231.3 901.1h0M231.2 843h0M233.8 820.3h0M232.1 927.5h0M243.5 959h0M237.7 878.9h0M239 904.4h0M239.1 923.7h0M234.6 931.9h0M243.5 910.1h0M240.6 831.9h0M230.4 892.7h0M232.3 878.1h0M234.5 971.9h0M230.2 801.3h0M231.4 842.9h0M225.9 971h0M231.2 847.9h0M243.8 892.9h0M230.9 906.7h0M230.3 816h0M234.5 908.2h0M232 883.6h0M234.8 827.8h0M237.5 802.1h0M241.5 899.9h0M230 949h0M227.8 909.3h0M236.1 915h0M225.2 947.4h0M240.8 831.6h0M232.8 921.8h0M233 856.1h0M241.5 860.5h0M239 883.7h0M228.3 880.1h0M235.4 877.6h0M235.3 865.4h0M236.3 796.9h0M230.7 854.5h0M226.9 901h0M231.3 932h0M243.5 966.3h0M239.9 801.1h0M237.9 734.6h0M237.8 983.6h0M235.7 975.8h0M229.3 894.2h0M226.4 875.4h0M227.9 890.1h0M243.3 855.6h0M233.1 841.9h0M235.2 792.7h0M232.5 905.1h0M227.5 842.3h0M225.9 882.8h0M240.6 896.7h0M225.2 947.7h0M230.5 954.2h0M241.4 908.4h0M230.7 831.3h0M232.5 896.3h0M240.5 947.9h0M241.4 962.5h0M237.7 881.1h0M232.2 966.3h0M243.2 911.2h0M225.2 782.1h0M239.7 883h0M225.1 856.7h0M243.3 834.4h0M239 919.8h0M242.9 911.7h0M234.6 968.5h0M231.1 884.2h0M232.1 927.9h0M239.9 860.6h0M237.9 926.8h0M228.4 955.6h0M237 973.6h0M236 851.9h0M230.1 870.5h0M239 926.3h0M231.5 842.4h0M231.3 850.6h0M240.7 854.9h0M229.3 827.7h0M242.7 919.2h0M229.5 865.4h0M231.6 919h0M225.7 921.5h0M231.7 907.8h0M226.8 861.4h0M230.4 968.3h0M228.2 862.4h0M230.4 903.6h0M235.7 849.4h0M242.9 916.3h0M238.2 882.5h0M238.7 880.1h0M240.6 808.8h0M239.9 981.8h0M238.3 881.6h0M235.2 943.2h0M243.1 778.4h0M233.3 808h0M230.2 948.7h0M238.9 953.2h0M237.8 872.8h0M238.7 877.4h0M236.9 915.8h0M228.5 824.1h0M242.2 877.3h0M227.4 938.4h0M228.7 912.2h0M226.2 827.6h0M242.5 893.1h0M238.1 798.8h0M239.4 972.3h0M230.5 876.3h0M232.7 890.5h0M239.5 861.4h0M233.5 936.5h0M231.1 961.6h0M227.1 928h0M228.7 963.3h0M240.5 967.9h0M231 897.4h0M233.6 853.2h0M226 990.2h0M227.3 872.7h0M243.2 886.4h0M232.2 931h0M225.4 828.4h0M235.1 967.5h0M231.4 835.7h0M233.8 879.7h0M239.1 868.7h0M239.7 914.2h0M235.4 843.1h0M225.9 934.7h0M243.5 903.1h0M239 972.6h0M227 875.5h0M243.4 885.4h0M231 822.4h0M237 931.7h0M242.1 896.6h0M230.6 918.9h0M229.7 936.3h0M226.5 968h0M228.7 802.4h0M242.1 915.6h0M235.3 846.6h0M239.8 896.1h0M240 968.9h0M243.5 921.1h0M238.4 987.6h0M230.1 905.2h0M235 980.1h0M236.6 913.9h0M242.2 853.5h0M234.4 871.3h0M242.9 946.5h0M226 945.5h0M232.7 822.9h0M239.2 808h0M229.9 928h0M239.4 909.2h0M239.2 811.5h0M227.6 913.4h0M239.8 950.8h0M237 976.9h0M227.6 962h0M241.8 887.7h0M230.9 880.9h0M229.4 935h0M226.5 906.4h0M229.2 906.9h0M239.3 939.4h0M238.3 966.3h0M228.1 936.8h0M231.9 855.5h0M229.7 625.4h0M228.2 690.6h0M239.9 701.3h0M242.2 704h0M234.3 737.3h0M228.1 730.6h0" stroke="#000" stroke-width="2.2" stroke-linecap="round" fill="none"/>
<path d="M307.5 896.8h0M312.7 837.9h0M313.4 910.7h0M307.1 892.4h0M319.6 931.4h0M317.3 829.1h0M307.1 831.4h0M305.8 906.6h0M318.8 858.3h0M316 940h0M303.7 887.7h0M313 778.1h0M312.1 870.2h0M312.6 904.1h0M308.7 866.3h0M314.8 845.6h0M306.6 826.8h0M310.9 825.1h0M316 966.6h0M319.3 903.9h0M316 826.5h0M311 867.5h0M306.6 881.3h0M308.6 875.1h0M321 892h0M304.6 941.6h0M316.7 871.7h0M303.7 885.2h0M318.4 789.4h0M315 910.9h0M319.8 854.6h0M314.2 780.1h0M316.4 867.4h0M307.2 823.4h0M315.4 885.5h0M319.5 876.9h0M303.1 946.2h0M305.5 954.9h0M305.6 866.7h0M309.9 874.9h0M318.6 861.2h0M302.8 912.9h0M319.9 828.2h0M320.3 803.2h0M318.3 858.1h0M302.8 803.1h0M312 864.7h0M308.8 887.1h0M311.4 850.2h0M313.5 872h0M316.2 867.4h0M321 803.2h0M319.4 853.7h0M307.3 865.3h0M311.9 828.6h0M307.7 906.5h0M306.9 823.7h0M317.3 850.8h0M320.9 801.7h0M311.1 871.2h0M304.6 897.3h0M308.4 824.4h0M318.6 899.9h0M313.3 823.1h0M315.5 828.8h0M316.2 913.9h0M308 916.3h0M306.4 907.8h0M304.9 885.9h0M310.3 848.6h0M315.2 843.4h0M315 867.2h0M321 917.3h0M309.8 829.3h0M307.5 838.5h0M312.4 856.1h0M305.9 865.5h0M319.3 846.8h0M313.9 812.7h0M313.8 886.8h0M307.4 897.9h0M303.4 818.7h0M317.5 846.4h0M321.2 920.1h0M303 831.3h0M312.9 955.7h0M313.2 829h0M313.7 894h0M303.1 923h0M304.2 888h0M311.2 821.6h0M307 903.1h0M308.4 774.4h0M316.8 855.1h0M318.4 900.2h0M319.2 794.4h0M315.6 869.5h0M316.4 910h0M317.7 871.9h0M304 809h0M321.2 866h0M306.7 830.6h0M313 825.4h0M315.8 903.9h0M319.5 957.4h0M317 924h0M319.4 874.6h0M319.2 859.1h0M319 837.5h0M307.7 849.2h0M315.5 894.4h0M308.4 964.2h0M308.3 847.2h0M313.4 847.1h0M313.8 916.5h0M307.9 880.9h0M309.8 927.8h0M320.4 908.2h0M304.6 918.8h0M315.3 807.3h0M320.8 846.5h0M309 886.6h0M312.1 844.2h0M315.5 814.2h0M314.5 864.1h0M307.8 809.9h0M313 837h0M305.5 894.5h0M315.5 844.8h0M320.3 868.7h0M308.7 845.8h0M313.3 812.4h0M306.6 867.9h0M306.3 811.4h0M317.1 780.7h0M315 907.2h0M314.5 852.8h0M312.9 860.3h0M310.1 811.4h0M307.3 862h0M311.4 812.3h0M304.8 845.3h0M313.7 867.3h0M316.1 773h0M321.3 897.8h0M303.6 776.5h0M320.3 886.7h0M310.7 870.5h0M316 888.1h0M304.6 814.3h0M309.7 819.5h0M319.2 801.5h0M310.9 911.6h0M306.5 836.5h0M316.5 826.5h0M304.6 790.9h0M315.7 914.6h0M306.5 952h0M313.6 902h0M309.1 915.8h0" stroke="#000" stroke-width="2.2" stroke-linecap="round" fill="none"/>
<rect x="283" y="631" width="27" height="13.5" fill="#fa6868"/>
<rect x="283" y="681" width="27" height="14" fill="#808080"/>
<text x="326" y="635.5" font-family="'Liberation Sans',sans-serif" font-size="20" font-weight="bold" textLength="64.9" lengthAdjust="spacingAndGlyphs">Tumor</text>
<text x="323.5" y="655.5" font-family="'Liberation Sans',sans-serif" font-size="20" font-weight="bold" textLength="71.9" lengthAdjust="spacingAndGlyphs">(n=369)</text>
<text x="326" y="688.8" font-family="'Liberation Sans',sans-serif" font-size="20" font-weight="bold" textLength="70" lengthAdjust="spacingAndGlyphs">Normal</text>
<text x="323.5" y="708.6" font-family="'Liberation Sans',sans-serif" font-size="20" font-weight="bold" textLength="71.9" lengthAdjust="spacingAndGlyphs">(n=160)</text>
<text x="630" y="621" font-family="'Liberation Sans',sans-serif" font-size="32" font-weight="bold" textLength="21.5" lengthAdjust="spacingAndGlyphs">C</text>
<line x1="800.5" x2="800.5" y1="608.5" y2="981" stroke="#000" stroke-width="4.2"/>
<line x1="786" x2="801" y1="610.9" y2="610.9" stroke="#000" stroke-width="4.4"/>
<text x="785.5" y="621.2" font-family="'Liberation Sans',sans-serif" font-size="28.5" font-weight="bold" text-anchor="end">2</text>
<line x1="786" x2="801" y1="702.7" y2="702.7" stroke="#000" stroke-width="4.4"/>
<text x="785.5" y="713" font-family="'Liberation Sans',sans-serif" font-size="28.5" font-weight="bold" text-anchor="end">1</text>
<line x1="786" x2="801" y1="794.5" y2="794.5" stroke="#000" stroke-width="4.4"/>
<text x="785.5" y="804.8" font-family="'Liberation Sans',sans-serif" font-size="28.5" font-weight="bold" text-anchor="end">0</text>
<line x1="786" x2="801" y1="886.3" y2="886.3" stroke="#000" stroke-width="4.4"/>
<text x="785.5" y="896.6" font-family="'Liberation Sans',sans-serif" font-size="28.5" font-weight="bold" text-anchor="end">-1</text>
<line x1="786" x2="801" y1="978.1" y2="978.1" stroke="#000" stroke-width="4.4"/>
<text x="785.5" y="988.4" font-family="'Liberation Sans',sans-serif" font-size="28.5" font-weight="bold" text-anchor="end">-2</text>
<rect x="804.4" y="793" width="14.7" height="152.4" fill="#000"/>
<rect x="821.2" y="793" width="14.7" height="136.8" fill="#000"/>
<rect x="838.1" y="793" width="14.7" height="124.4" fill="#000"/>
<rect x="854.9" y="793" width="14.7" height="120.3" fill="#000"/>
<rect x="871.7" y="793" width="14.7" height="94.6" fill="#000"/>
<rect x="888.5" y="793" width="14.7" height="89" fill="#000"/>
<rect x="905.4" y="793" width="14.7" height="86.3" fill="#000"/>
<rect x="922.2" y="793" width="14.7" height="78.9" fill="#000"/>
<rect x="939" y="793" width="14.7" height="69.8" fill="#000"/>
<rect x="955.9" y="793" width="14.7" height="67" fill="#000"/>
<rect x="972.7" y="793" width="14.7" height="58.8" fill="#000"/>
<rect x="989.5" y="793" width="14.7" height="54.2" fill="#000"/>
<rect x="1006.4" y="793" width="14.7" height="45.9" fill="#000"/>
<rect x="1023.2" y="793" width="14.7" height="40.4" fill="#000"/>
<rect x="1040" y="793" width="14.7" height="34.9" fill="#000"/>
<rect x="1056.8" y="793" width="14.7" height="32.1" fill="#000"/>
<rect x="1073.7" y="793" width="14.7" height="27.5" fill="#000"/>
<rect x="1090.5" y="793" width="14.7" height="23.9" fill="#000"/>
<rect x="1107.3" y="793" width="14.7" height="12.9" fill="#000"/>
<rect x="1124.2" y="793" width="14.7" height="5.5" fill="#000"/>
<rect x="1141" y="791.2" width="14.7" height="1.8" fill="#000"/>
<rect x="1157.8" y="783.8" width="14.7" height="9.2" fill="#000"/>
<rect x="1174.7" y="781.1" width="14.7" height="11.9" fill="#000"/>
<rect x="1191.5" y="777.4" width="14.7" height="15.6" fill="#000"/>
<rect x="1208.3" y="774.6" width="14.7" height="18.4" fill="#000"/>
<rect x="1225.1" y="767.3" width="14.7" height="25.7" fill="#000"/>
<rect x="1242" y="758.1" width="14.7" height="34.9" fill="#000"/>
<rect x="1258.8" y="738.8" width="14.7" height="54.2" fill="#000"/>
<rect x="1275.6" y="720.5" width="14.7" height="72.5" fill="#000"/>
<rect x="1292.5" y="706.7" width="14.7" height="86.3" fill="#000"/>
<rect x="1309.3" y="698.4" width="14.7" height="94.6" fill="#000"/>
<rect x="1326.1" y="690.2" width="14.7" height="102.8" fill="#000"/>
<rect x="1347.5" y="792.5" width="2" height="2" fill="#000"/>
<text x="1038.2" y="645.2" font-family="'Liberation Sans',sans-serif" font-size="36.5" font-weight="bold" textLength="78.5" lengthAdjust="spacingAndGlyphs">n=32</text>
<text transform="translate(691,795) rotate(-90)" font-family="'Liberation Sans',sans-serif" font-size="30.5" font-weight="bold" text-anchor="middle" textLength="336" lengthAdjust="spacingAndGlyphs">TET2 mRNA expression</text>
<text transform="translate(727.3,794.4) rotate(-90)" font-family="'Liberation Sans',sans-serif" font-size="30.5" font-weight="bold" text-anchor="middle" textLength="368" lengthAdjust="spacingAndGlyphs">log (Tumor/Non-tumor, 10)</text>
<text x="-1" y="1062" font-family="'Liberation Sans',sans-serif" font-size="29" font-weight="bold">D</text>
<defs><filter id="b2" x="-50%" y="-50%" width="200%" height="200%"><feGaussianBlur stdDeviation="2"/></filter><filter id="b3" x="-50%" y="-50%" width="200%" height="200%"><feGaussianBlur stdDeviation="3"/></filter><filter id="b5" x="-50%" y="-80%" width="200%" height="260%"><feGaussianBlur stdDeviation="5"/></filter><filter id="b1" x="-50%" y="-50%" width="200%" height="200%"><feGaussianBlur stdDeviation="1.2"/></filter></defs>
<text x="158.3" y="1072" font-family="'Liberation Sans',sans-serif" font-size="29.5" font-weight="bold" textLength="85.3" lengthAdjust="spacingAndGlyphs" fill="#000">Case 1</text>
<text x="312" y="1072" font-family="'Liberation Sans',sans-serif" font-size="29.5" font-weight="bold" textLength="88.5" lengthAdjust="spacingAndGlyphs" fill="#000">Case 2</text>
<text x="447" y="1072" font-family="'Liberation Sans',sans-serif" font-size="29.5" font-weight="bold" textLength="88.5" lengthAdjust="spacingAndGlyphs" fill="#000">Case 3</text>
<text x="596.5" y="1072" font-family="'Liberation Sans',sans-serif" font-size="29.5" font-weight="bold" textLength="88.3" lengthAdjust="spacingAndGlyphs" fill="#000">Case 4</text>
<rect x="150" y="1076.2" width="105" height="3.5" fill="#000"/>
<rect x="304" y="1076.2" width="105" height="3.5" fill="#000"/>
<rect x="441" y="1076.2" width="105" height="3.5" fill="#000"/>
<rect x="585" y="1076.2" width="105" height="3.5" fill="#000"/>
<text x="165.4" y="1123" font-family="'Liberation Sans',sans-serif" font-size="29" font-weight="bold" text-anchor="middle" textLength="16.8" lengthAdjust="spacingAndGlyphs" fill="#000">N</text>
<text x="319" y="1123" font-family="'Liberation Sans',sans-serif" font-size="29" font-weight="bold" text-anchor="middle" textLength="16.8" lengthAdjust="spacingAndGlyphs" fill="#000">N</text>
<text x="456" y="1123" font-family="'Liberation Sans',sans-serif" font-size="29" font-weight="bold" text-anchor="middle" textLength="16.8" lengthAdjust="spacingAndGlyphs" fill="#000">N</text>
<text x="600.5" y="1123" font-family="'Liberation Sans',sans-serif" font-size="29" font-weight="bold" text-anchor="middle" textLength="16.8" lengthAdjust="spacingAndGlyphs" fill="#000">N</text>
<text x="233" y="1123" font-family="'Liberation Sans',sans-serif" font-size="29" font-weight="bold" text-anchor="middle" textLength="16.2" lengthAdjust="spacingAndGlyphs" fill="#000">T</text>
<text x="386.5" y="1123" font-family="'Liberation Sans',sans-serif" font-size="29" font-weight="bold" text-anchor="middle" textLength="16.2" lengthAdjust="spacingAndGlyphs" fill="#000">T</text>
<text x="523" y="1123" font-family="'Liberation Sans',sans-serif" font-size="29" font-weight="bold" text-anchor="middle" textLength="16.2" lengthAdjust="spacingAndGlyphs" fill="#000">T</text>
<text x="668.8" y="1123" font-family="'Liberation Sans',sans-serif" font-size="29" font-weight="bold" text-anchor="middle" textLength="16.2" lengthAdjust="spacingAndGlyphs" fill="#000">T</text>
<text x="41" y="1190.2" font-family="'Liberation Sans',sans-serif" font-size="29" font-weight="bold" textLength="65.5" lengthAdjust="spacingAndGlyphs" fill="#000">TET2</text>
<text x="3.8" y="1274.3" font-family="'Liberation Sans',sans-serif" font-size="29" font-weight="bold" textLength="95.2" lengthAdjust="spacingAndGlyphs" fill="#000">GAPDH</text>
<text x="738" y="1188.4" font-family="'Liberation Sans',sans-serif" font-size="21.5" font-weight="bold" textLength="64" lengthAdjust="spacingAndGlyphs" fill="#000">280KD</text>
<text x="738" y="1276" font-family="'Liberation Sans',sans-serif" font-size="21.5" font-weight="bold" textLength="52" lengthAdjust="spacingAndGlyphs" fill="#000">37KD</text>
<rect x="132" y="1135.5" width="598.5" height="79.9" fill="#eeeeee"/>
<rect x="132" y="1226.7" width="598.5" height="73" fill="#f2f2f2"/>
<text x="175.7" y="1344.5" font-family="'Liberation Sans',sans-serif" font-size="29.5" font-weight="bold" textLength="88.3" lengthAdjust="spacingAndGlyphs" fill="#000">Case 5</text>
<text x="330" y="1344.5" font-family="'Liberation Sans',sans-serif" font-size="29.5" font-weight="bold" textLength="88.4" lengthAdjust="spacingAndGlyphs" fill="#000">Case 6</text>
<text x="464.6" y="1344.5" font-family="'Liberation Sans',sans-serif" font-size="29.5" font-weight="bold" textLength="87.7" lengthAdjust="spacingAndGlyphs" fill="#000">Case 7</text>
<text x="613" y="1344.5" font-family="'Liberation Sans',sans-serif" font-size="29.5" font-weight="bold" textLength="88.6" lengthAdjust="spacingAndGlyphs" fill="#000">Case 8</text>
<rect x="165.4" y="1357" width="104.2" height="3.5" fill="#000"/>
<rect x="310.7" y="1357" width="105.1" height="3.5" fill="#000"/>
<rect x="455.7" y="1357" width="105.1" height="3.5" fill="#000"/>
<rect x="601" y="1357" width="105" height="3.5" fill="#000"/>
<text x="177.6" y="1403.8" font-family="'Liberation Sans',sans-serif" font-size="29" font-weight="bold" text-anchor="middle" textLength="16.8" lengthAdjust="spacingAndGlyphs" fill="#000">N</text>
<text x="324.4" y="1403.8" font-family="'Liberation Sans',sans-serif" font-size="29" font-weight="bold" text-anchor="middle" textLength="16.8" lengthAdjust="spacingAndGlyphs" fill="#000">N</text>
<text x="471.6" y="1403.8" font-family="'Liberation Sans',sans-serif" font-size="29" font-weight="bold" text-anchor="middle" textLength="16.8" lengthAdjust="spacingAndGlyphs" fill="#000">N</text>
<text x="617.8" y="1403.8" font-family="'Liberation Sans',sans-serif" font-size="29" font-weight="bold" text-anchor="middle" textLength="16.8" lengthAdjust="spacingAndGlyphs" fill="#000">N</text>
<text x="250.7" y="1403.8" font-family="'Liberation Sans',sans-serif" font-size="29" font-weight="bold" text-anchor="middle" textLength="16.2" lengthAdjust="spacingAndGlyphs" fill="#000">T</text>
<text x="397" y="1403.8" font-family="'Liberation Sans',sans-serif" font-size="29" font-weight="bold" text-anchor="middle" textLength="16.2" lengthAdjust="spacingAndGlyphs" fill="#000">T</text>
<text x="544" y="1403.8" font-family="'Liberation Sans',sans-serif" font-size="29" font-weight="bold" text-anchor="middle" textLength="16.2" lengthAdjust="spacingAndGlyphs" fill="#000">T</text>
<text x="691" y="1403.8" font-family="'Liberation Sans',sans-serif" font-size="29" font-weight="bold" text-anchor="middle" textLength="16.2" lengthAdjust="spacingAndGlyphs" fill="#000">T</text>
<text x="50" y="1460.8" font-family="'Liberation Sans',sans-serif" font-size="29" font-weight="bold" textLength="65" lengthAdjust="spacingAndGlyphs" fill="#000">TET2</text>
<text x="12.8" y="1545" font-family="'Liberation Sans',sans-serif" font-size="29" font-weight="bold" textLength="94.2" lengthAdjust="spacingAndGlyphs" fill="#000">GAPDH</text>
<text x="757" y="1457.7" font-family="'Liberation Sans',sans-serif" font-size="21.5" font-weight="bold" textLength="64" lengthAdjust="spacingAndGlyphs" fill="#000">280KD</text>
<text x="757" y="1545" font-family="'Liberation Sans',sans-serif" font-size="21.5" font-weight="bold" textLength="52.7" lengthAdjust="spacingAndGlyphs" fill="#000">37KD</text>
<rect x="140.6" y="1414.4" width="602.4" height="66.6" fill="#f5f5f5"/>
<rect x="140.6" y="1503.2" width="602.4" height="65.9" fill="#f3f3f3"/>
<text x="188.9" y="1630.2" font-family="'Liberation Sans',sans-serif" font-size="29.5" font-weight="bold" textLength="88.3" lengthAdjust="spacingAndGlyphs" fill="#000">Case 9</text>
<text x="342.7" y="1630.2" font-family="'Liberation Sans',sans-serif" font-size="29.5" font-weight="bold" textLength="103" lengthAdjust="spacingAndGlyphs" fill="#000">Case 10</text>
<text x="477.7" y="1630.2" font-family="'Liberation Sans',sans-serif" font-size="29.5" font-weight="bold" textLength="102" lengthAdjust="spacingAndGlyphs" fill="#000">Case 11</text>
<text x="626" y="1630.2" font-family="'Liberation Sans',sans-serif" font-size="29.5" font-weight="bold" textLength="104.5" lengthAdjust="spacingAndGlyphs" fill="#000">Case 12</text>
<rect x="178.2" y="1636.5" width="105.1" height="3.5" fill="#000"/>
<rect x="322.3" y="1636.5" width="105.1" height="3.5" fill="#000"/>
<rect x="466.4" y="1636.5" width="104.8" height="3.5" fill="#000"/>
<rect x="610" y="1636.5" width="105.3" height="3.5" fill="#000"/>
<text x="187.3" y="1683.6" font-family="'Liberation Sans',sans-serif" font-size="29" font-weight="bold" text-anchor="middle" textLength="16.8" lengthAdjust="spacingAndGlyphs" fill="#000">N</text>
<text x="333" y="1683.6" font-family="'Liberation Sans',sans-serif" font-size="29" font-weight="bold" text-anchor="middle" textLength="16.8" lengthAdjust="spacingAndGlyphs" fill="#000">N</text>
<text x="478.6" y="1683.6" font-family="'Liberation Sans',sans-serif" font-size="29" font-weight="bold" text-anchor="middle" textLength="16.8" lengthAdjust="spacingAndGlyphs" fill="#000">N</text>
<text x="623.9" y="1683.6" font-family="'Liberation Sans',sans-serif" font-size="29" font-weight="bold" text-anchor="middle" textLength="16.8" lengthAdjust="spacingAndGlyphs" fill="#000">N</text>
<text x="259.5" y="1683.6" font-family="'Liberation Sans',sans-serif" font-size="29" font-weight="bold" text-anchor="middle" textLength="16.2" lengthAdjust="spacingAndGlyphs" fill="#000">T</text>
<text x="405" y="1683.6" font-family="'Liberation Sans',sans-serif" font-size="29" font-weight="bold" text-anchor="middle" textLength="16.2" lengthAdjust="spacingAndGlyphs" fill="#000">T</text>
<text x="550" y="1683.6" font-family="'Liberation Sans',sans-serif" font-size="29" font-weight="bold" text-anchor="middle" textLength="16.2" lengthAdjust="spacingAndGlyphs" fill="#000">T</text>
<text x="695.5" y="1683.6" font-family="'Liberation Sans',sans-serif" font-size="29" font-weight="bold" text-anchor="middle" textLength="16.2" lengthAdjust="spacingAndGlyphs" fill="#000">T</text>
<text x="39.6" y="1746" font-family="'Liberation Sans',sans-serif" font-size="29" font-weight="bold" textLength="65.4" lengthAdjust="spacingAndGlyphs" fill="#000">TET2</text>
<text x="2.4" y="1830" font-family="'Liberation Sans',sans-serif" font-size="29" font-weight="bold" textLength="95.1" lengthAdjust="spacingAndGlyphs" fill="#000">GAPDH</text>
<text x="749.7" y="1734.7" font-family="'Liberation Sans',sans-serif" font-size="21.5" font-weight="bold" textLength="64.3" lengthAdjust="spacingAndGlyphs" fill="#000">280KD</text>
<text x="749.7" y="1817.8" font-family="'Liberation Sans',sans-serif" font-size="21.5" font-weight="bold" textLength="52.3" lengthAdjust="spacingAndGlyphs" fill="#000">37KD</text>
<rect x="132.2" y="1696.3" width="610.8" height="61.7" fill="#f6f6f6"/>
<rect x="134" y="1775.4" width="609" height="81" fill="#f0f0f0"/>
<defs><filter id="g1" x="-50%" y="-100%" width="200%" height="300%"><feGaussianBlur stdDeviation="1.1"/></filter><filter id="g2" x="-50%" y="-100%" width="200%" height="300%"><feGaussianBlur stdDeviation="2.0"/></filter><filter id="g3" x="-50%" y="-100%" width="200%" height="300%"><feGaussianBlur stdDeviation="2.8"/></filter><filter id="g4" x="-50%" y="-100%" width="200%" height="300%"><feGaussianBlur stdDeviation="4.2"/></filter><filter id="g6" x="-50%" y="-100%" width="200%" height="300%"><feGaussianBlur stdDeviation="6"/></filter><filter id="nz" x="0" y="0" width="100%" height="100%"><feTurbulence type="fractalNoise" baseFrequency="0.9" numOctaves="1" seed="3"/><feColorMatrix values="0 0 0 0 0.45  0 0 0 0 0.45  0 0 0 0 0.45  0 0 0 -2.2 1.35"/><feComposite in2="SourceGraphic" operator="in"/></filter></defs>
<rect x="132" y="1135.5" width="598.5" height="80" fill="#000" filter="url(#nz)" opacity="0.4"/>
<circle cx="177" cy="1140" r="1.3" fill="#444" filter="url(#g1)"/>
<circle cx="258" cy="1152" r="1.8" fill="#444" filter="url(#g1)"/>
<circle cx="257" cy="1210" r="1.6" fill="#444" filter="url(#g1)"/>
<circle cx="315" cy="1145" r="1" fill="#444" filter="url(#g1)"/>
<circle cx="383" cy="1160" r="1" fill="#444" filter="url(#g1)"/>
<circle cx="190" cy="1203" r="1.1" fill="#444" filter="url(#g1)"/>
<circle cx="150" cy="1149" r="1" fill="#444" filter="url(#g1)"/>
<circle cx="557" cy="1152" r="1.1" fill="#444" filter="url(#g1)"/>
<circle cx="467" cy="1158" r="0.9" fill="#444" filter="url(#g1)"/>
<circle cx="555" cy="1193" r="1" fill="#444" filter="url(#g1)"/>
<circle cx="530" cy="1178" r="0.9" fill="#444" filter="url(#g1)"/>
<circle cx="600" cy="1159" r="1" fill="#444" filter="url(#g1)"/>
<circle cx="666" cy="1197" r="1" fill="#444" filter="url(#g1)"/>
<circle cx="710" cy="1170" r="1" fill="#444" filter="url(#g1)"/>
<circle cx="286" cy="1209" r="1" fill="#444" filter="url(#g1)"/>
<circle cx="413" cy="1149" r="1" fill="#444" filter="url(#g1)"/>
<circle cx="493" cy="1213" r="1" fill="#444" filter="url(#g1)"/>
<circle cx="625" cy="1212" r="1" fill="#444" filter="url(#g1)"/>
<rect x="141" y="1154" width="48" height="19" rx="3" fill="#c6c6c6" filter="url(#g4)"/>
<rect x="141" y="1171" width="48" height="16" rx="5" fill="#555" filter="url(#g2)"/>
<rect x="141" y="1172" width="19" height="14" rx="5" fill="#3d3d3d" filter="url(#g2)"/>
<rect x="214" y="1176" width="45" height="12" rx="5" fill="#b8b8b8" filter="url(#g3)"/>
<rect x="214" y="1176" width="21" height="12" rx="5" fill="#a8a8a8" filter="url(#g3)"/>
<rect x="287" y="1152" width="48" height="55" rx="3" fill="#9f9f9f" filter="url(#g4)"/>
<rect x="287" y="1166" width="48" height="28" rx="12" fill="#000" filter="url(#g2)"/>
<rect x="360" y="1168" width="47" height="38" rx="3" fill="#c4c4c4" filter="url(#g4)"/>
<rect x="360" y="1177" width="47" height="12" rx="5" fill="#2a2a2a" filter="url(#g2)"/>
<rect x="393" y="1175" width="15" height="15" rx="6" fill="#000" filter="url(#g2)"/>
<rect x="436" y="1154" width="42" height="22" rx="3" fill="#b4b4b4" filter="url(#g4)"/>
<rect x="436" y="1176" width="42" height="15" rx="5" fill="#383838" filter="url(#g2)"/>
<rect x="436" y="1190" width="42" height="12" rx="3" fill="#cfcfcf" filter="url(#g4)"/>
<rect x="509" y="1177" width="42" height="13" rx="5" fill="#a3a3a3" filter="url(#g3)"/>
<rect x="509" y="1188" width="42" height="17" rx="3" fill="#d6d6d6" filter="url(#g4)"/>
<rect x="580" y="1156" width="44" height="22" rx="3" fill="#a6a6a6" filter="url(#g4)"/>
<rect x="580" y="1176" width="44" height="16" rx="5" fill="#262626" filter="url(#g2)"/>
<rect x="655" y="1172" width="42" height="14" rx="5" fill="#7c7c7c" filter="url(#g2)"/>
<rect x="655" y="1185" width="42" height="17" rx="3" fill="#d4d4d4" filter="url(#g4)"/>
<path d="M155 1256.5L182 1256.5A9 9 0 0 1 182 1274.5L155 1274.5A9 9 0 0 1 155 1256.5Z" fill="#000" fill-opacity="0.14" filter="url(#g4)"/>
<path d="M153 1259.5L184 1259.5A5 5 0 0 1 184 1269.5L153 1269.5A5 5 0 0 1 153 1259.5Z" fill="#000" filter="url(#g1)"/>
<path d="M226.5 1257.5L259 1259A7 7 0 0 1 259 1273L226.5 1274.5A8.5 8.5 0 0 1 226.5 1257.5Z" fill="#000" fill-opacity="0.14" filter="url(#g4)"/>
<path d="M224.5 1260.5L261 1262A3 3 0 0 1 261 1268L224.5 1269.5A4.5 4.5 0 0 1 224.5 1260.5Z" fill="#000" filter="url(#g1)"/>
<path d="M301 1258L329.5 1257.5A8.5 8.5 0 0 1 329.5 1274.5L301 1274A8 8 0 0 1 301 1258Z" fill="#000" fill-opacity="0.14" filter="url(#g4)"/>
<path d="M299 1261L331.5 1260.5A4.5 4.5 0 0 1 331.5 1269.5L299 1269A4 4 0 0 1 299 1261Z" fill="#000" filter="url(#g1)"/>
<path d="M372.5 1259.5L405 1258A8 8 0 0 1 405 1274L372.5 1272.5A6.5 6.5 0 0 1 372.5 1259.5Z" fill="#000" fill-opacity="0.14" filter="url(#g4)"/>
<path d="M370.5 1262.5L407 1261A4 4 0 0 1 407 1269L370.5 1267.5A2.5 2.5 0 0 1 370.5 1262.5Z" fill="#333" filter="url(#g1)"/>
<rect x="400" y="1260" width="12" height="9" rx="4" fill="#000" filter="url(#g1)"/>
<path d="M448 1256.4L477 1256.4A9 9 0 0 1 477 1274.4L448 1274.4A9 9 0 0 1 448 1256.4Z" fill="#000" fill-opacity="0.14" filter="url(#g4)"/>
<path d="M446 1259.4L479 1259.4A5 5 0 0 1 479 1269.4L446 1269.4A5 5 0 0 1 446 1259.4Z" fill="#000" filter="url(#g1)"/>
<path d="M524 1258.5L555.5 1257A8.5 8.5 0 0 1 555.5 1274L524 1272.5A7 7 0 0 1 524 1258.5Z" fill="#000" fill-opacity="0.14" filter="url(#g4)"/>
<path d="M522 1261.5L557.5 1260A4.5 4.5 0 0 1 557.5 1269L522 1267.5A3 3 0 0 1 522 1261.5Z" fill="#000" filter="url(#g1)"/>
<path d="M592.5 1259L628 1257.5A8 8 0 0 1 628 1273.5L592.5 1272A6.5 6.5 0 0 1 592.5 1259Z" fill="#000" fill-opacity="0.14" filter="url(#g4)"/>
<path d="M590.5 1262L630 1260.5A4 4 0 0 1 630 1268.5L590.5 1267A2.5 2.5 0 0 1 590.5 1262Z" fill="#222" filter="url(#g1)"/>
<path d="M670 1254.3L701.8 1254A9.2 9.2 0 0 1 701.8 1272.5L670 1272.3A9 9 0 0 1 670 1254.3Z" fill="#000" fill-opacity="0.14" filter="url(#g4)"/>
<path d="M668 1257.3L703.8 1257A5.2 5.2 0 0 1 703.8 1267.5L668 1267.3A5 5 0 0 1 668 1257.3Z" fill="#000" filter="url(#g1)"/>
<rect x="155" y="1436" width="46" height="11" rx="3" fill="#d8d8d8" filter="url(#g4)"/>
<rect x="155" y="1445" width="46" height="15" rx="5" fill="#9a9a9a" filter="url(#g2)"/>
<rect x="227" y="1444" width="47" height="17" rx="5" fill="#dadada" filter="url(#g4)"/>
<rect x="302" y="1414" width="46" height="33" rx="2" fill="#b6b6b6" filter="url(#g4)"/>
<rect x="302" y="1444" width="46" height="18" rx="4" fill="#808080" filter="url(#g2)"/>
<rect x="377" y="1434" width="47" height="28" rx="3" fill="#e2e2e2" filter="url(#g4)"/>
<rect x="453" y="1414" width="46" height="26" rx="2" fill="#a8a8a8" filter="url(#g4)"/>
<rect x="453" y="1440" width="46" height="22" rx="4" fill="#5a5a5a" filter="url(#g3)"/>
<rect x="454" y="1443" width="44" height="9" rx="4" fill="#1e1e1e" filter="url(#g2)"/>
<rect x="528" y="1414" width="44" height="26" rx="2" fill="#d2d2d2" filter="url(#g4)"/>
<rect x="528" y="1440" width="44" height="22" rx="4" fill="#bcbcbc" filter="url(#g3)"/>
<rect x="601" y="1414" width="42" height="26" rx="2" fill="#acacac" filter="url(#g4)"/>
<rect x="601" y="1440" width="42" height="22" rx="4" fill="#5c5c5c" filter="url(#g3)"/>
<rect x="602" y="1443" width="40" height="9" rx="4" fill="#161616" filter="url(#g2)"/>
<rect x="671" y="1414" width="49" height="28" rx="2" fill="#d8d8d8" filter="url(#g4)"/>
<rect x="671" y="1440" width="49" height="24" rx="4" fill="#c8c8c8" filter="url(#g3)"/>
<rect x="307" y="1511" width="51" height="17" rx="3" fill="#dedede" filter="url(#g4)"/>
<rect x="526" y="1512" width="57" height="18" rx="3" fill="#e4e4e4" filter="url(#g4)"/>
<rect x="606" y="1514" width="47" height="18" rx="3" fill="#bdbdbd" filter="url(#g3)"/>
<path d="M170.5 1528L203 1528.5A10 10 0 0 1 203 1548.5L170.5 1549A10.5 10.5 0 0 1 170.5 1528Z" fill="#000" fill-opacity="0.14" filter="url(#g4)"/>
<path d="M168.5 1531L205 1531.5A6 6 0 0 1 205 1543.5L168.5 1544A6.5 6.5 0 0 1 168.5 1531Z" fill="#000" filter="url(#g1)"/>
<path d="M244.5 1527L274.5 1528A10.5 10.5 0 0 1 274.5 1549L244.5 1550A11.5 11.5 0 0 1 244.5 1527Z" fill="#000" fill-opacity="0.14" filter="url(#g4)"/>
<path d="M242.5 1530L276.5 1531A6.5 6.5 0 0 1 276.5 1544L242.5 1545A7.5 7.5 0 0 1 242.5 1530Z" fill="#000" filter="url(#g1)"/>
<path d="M316 1531L349.5 1529.5A12.5 12.5 0 0 1 349.5 1554.5L316 1553A11 11 0 0 1 316 1531Z" fill="#000" fill-opacity="0.14" filter="url(#g4)"/>
<path d="M314 1534L351.5 1532.5A8.5 8.5 0 0 1 351.5 1549.5L314 1548A7 7 0 0 1 314 1534Z" fill="#000" filter="url(#g1)"/>
<path d="M391 1530L418 1530A12 12 0 0 1 418 1554L391 1554A12 12 0 0 1 391 1530Z" fill="#000" fill-opacity="0.14" filter="url(#g4)"/>
<path d="M389 1533L420 1533A8 8 0 0 1 420 1549L389 1549A8 8 0 0 1 389 1533Z" fill="#000" filter="url(#g1)"/>
<path d="M461.5 1531.5L496.5 1531.5A9.5 9.5 0 0 1 496.5 1550.5L461.5 1550.5A9.5 9.5 0 0 1 461.5 1531.5Z" fill="#000" fill-opacity="0.14" filter="url(#g4)"/>
<path d="M459.5 1534.5L498.5 1534.5A5.5 5.5 0 0 1 498.5 1545.5L459.5 1545.5A5.5 5.5 0 0 1 459.5 1534.5Z" fill="#000" filter="url(#g1)"/>
<path d="M534 1530L575 1531A10 10 0 0 1 575 1551L534 1552A11 11 0 0 1 534 1530Z" fill="#000" fill-opacity="0.14" filter="url(#g4)"/>
<path d="M532 1533L577 1534A6 6 0 0 1 577 1546L532 1547A7 7 0 0 1 532 1533Z" fill="#000" filter="url(#g1)"/>
<path d="M608 1528L649.5 1526.5A12.5 12.5 0 0 1 649.5 1551.5L608 1550A11 11 0 0 1 608 1528Z" fill="#000" fill-opacity="0.14" filter="url(#g4)"/>
<path d="M606 1531L651.5 1529.5A8.5 8.5 0 0 1 651.5 1546.5L606 1545A7 7 0 0 1 606 1531Z" fill="#000" filter="url(#g1)"/>
<path d="M688.5 1524L720 1524.5A9 9 0 0 1 720 1542.5L688.5 1543A9.5 9.5 0 0 1 688.5 1524Z" fill="#000" fill-opacity="0.14" filter="url(#g4)"/>
<path d="M686.5 1527L722 1527.5A5 5 0 0 1 722 1537.5L686.5 1538A5.5 5.5 0 0 1 686.5 1527Z" fill="#000" filter="url(#g1)"/>
<circle cx="149.6" cy="1534" r="2" fill="#777" filter="url(#g1)"/>
<circle cx="225" cy="1534" r="2.3" fill="#555" filter="url(#g1)"/>
<circle cx="295.7" cy="1534" r="3.2" fill="#000" filter="url(#g1)"/>
<circle cx="368.8" cy="1535" r="2.2" fill="#444" filter="url(#g1)"/>
<circle cx="441.7" cy="1536" r="2" fill="#777" filter="url(#g1)"/>
<circle cx="517" cy="1536" r="2" fill="#666" filter="url(#g1)"/>
<circle cx="592.4" cy="1535" r="3.2" fill="#000" filter="url(#g1)"/>
<circle cx="667.7" cy="1535" r="2.6" fill="#111" filter="url(#g1)"/>
<circle cx="741" cy="1533" r="1.6" fill="#999" filter="url(#g1)"/>
<rect x="157" y="1696" width="55" height="26" rx="2" fill="#e2e2e2" filter="url(#g4)"/>
<rect x="157" y="1721" width="55" height="21" rx="4" fill="#a8a8a8" filter="url(#g3)"/>
<rect x="229" y="1722" width="54" height="21" rx="4" fill="#e4e4e4" filter="url(#g4)"/>
<rect x="300" y="1696" width="56" height="32" rx="2" fill="#cacaca" filter="url(#g4)"/>
<rect x="300" y="1728" width="30" height="15" rx="4" fill="#9a9a9a" filter="url(#g3)"/>
<rect x="327" y="1728" width="28" height="15" rx="7" fill="#000" filter="url(#g2)"/>
<rect x="376" y="1722" width="55" height="23" rx="4" fill="#e0e0e0" filter="url(#g4)"/>
<rect x="453" y="1696" width="55" height="26" rx="2" fill="#b8b8b8" filter="url(#g4)"/>
<rect x="453" y="1720" width="55" height="23" rx="6" fill="#000" filter="url(#g2)"/>
<rect x="525" y="1696" width="56" height="26" rx="2" fill="#e0e0e0" filter="url(#g4)"/>
<rect x="525" y="1721" width="56" height="21" rx="4" fill="#c2c2c2" filter="url(#g3)"/>
<rect x="601" y="1696" width="50" height="27" rx="2" fill="#d2d2d2" filter="url(#g4)"/>
<rect x="601" y="1722" width="50" height="21" rx="4" fill="#6a6a6a" filter="url(#g3)"/>
<rect x="610" y="1726" width="35" height="12" rx="4" fill="#333" filter="url(#g2)"/>
<rect x="672" y="1696" width="54" height="26" rx="2" fill="#e2e2e2" filter="url(#g4)"/>
<rect x="672" y="1721" width="54" height="20" rx="4" fill="#c8c8c8" filter="url(#g3)"/>
<rect x="309" y="1777" width="46" height="35" rx="2" fill="#d6d6d6" filter="url(#g4)"/>
<rect x="613" y="1776" width="48" height="36" rx="2" fill="#b8b8b8" filter="url(#g4)"/>
<path d="M168.5 1809.3L208 1809.8A11 11 0 0 1 208 1831.8L168.5 1832.3A11.5 11.5 0 0 1 168.5 1809.3Z" fill="#000" fill-opacity="0.14" filter="url(#g4)"/>
<path d="M166.5 1812.3L210 1812.8A7 7 0 0 1 210 1826.8L166.5 1827.3A7.5 7.5 0 0 1 166.5 1812.3Z" fill="#000" filter="url(#g1)"/>
<path d="M241 1811.6L279.5 1812.1A11.5 11.5 0 0 1 279.5 1835.1L241 1835.6A12 12 0 0 1 241 1811.6Z" fill="#000" fill-opacity="0.14" filter="url(#g4)"/>
<path d="M239 1814.6L281.5 1815.1A7.5 7.5 0 0 1 281.5 1830.1L239 1830.6A8 8 0 0 1 239 1814.6Z" fill="#000" filter="url(#g1)"/>
<path d="M310 1813.3L352 1812.3A12 12 0 0 1 352 1836.3L310 1835.3A11 11 0 0 1 310 1813.3Z" fill="#000" fill-opacity="0.14" filter="url(#g4)"/>
<path d="M308 1816.3L354 1815.3A8 8 0 0 1 354 1831.3L308 1830.3A7 7 0 0 1 308 1816.3Z" fill="#000" filter="url(#g1)"/>
<path d="M387 1813.4L427.5 1812.9A12.5 12.5 0 0 1 427.5 1837.9L387 1837.4A12 12 0 0 1 387 1813.4Z" fill="#000" fill-opacity="0.14" filter="url(#g4)"/>
<path d="M385 1816.4L429.5 1815.9A8.5 8.5 0 0 1 429.5 1832.9L385 1832.4A8 8 0 0 1 385 1816.4Z" fill="#000" filter="url(#g1)"/>
<path d="M462.5 1813.8L504 1814.3A11 11 0 0 1 504 1836.3L462.5 1836.8A11.5 11.5 0 0 1 462.5 1813.8Z" fill="#000" fill-opacity="0.14" filter="url(#g4)"/>
<path d="M460.5 1816.8L506 1817.3A7 7 0 0 1 506 1831.3L460.5 1831.8A7.5 7.5 0 0 1 460.5 1816.8Z" fill="#000" filter="url(#g1)"/>
<path d="M531.5 1814.5L580.5 1814.5A11.5 11.5 0 0 1 580.5 1837.5L531.5 1837.5A11.5 11.5 0 0 1 531.5 1814.5Z" fill="#000" fill-opacity="0.14" filter="url(#g4)"/>
<path d="M529.5 1817.5L582.5 1817.5A7.5 7.5 0 0 1 582.5 1832.5L529.5 1832.5A7.5 7.5 0 0 1 529.5 1817.5Z" fill="#000" filter="url(#g1)"/>
<path d="M607.5 1810L655.5 1809A13.5 13.5 0 0 1 655.5 1836L607.5 1835A12.5 12.5 0 0 1 607.5 1810Z" fill="#000" fill-opacity="0.14" filter="url(#g4)"/>
<path d="M605.5 1813L657.5 1812A9.5 9.5 0 0 1 657.5 1831L605.5 1830A8.5 8.5 0 0 1 605.5 1813Z" fill="#000" filter="url(#g1)"/>
<path d="M692 1809L726.5 1808.5A12.5 12.5 0 0 1 726.5 1833.5L692 1833A12 12 0 0 1 692 1809Z" fill="#000" fill-opacity="0.14" filter="url(#g4)"/>
<path d="M690 1812L728.5 1811.5A8.5 8.5 0 0 1 728.5 1828.5L690 1828A8 8 0 0 1 690 1812Z" fill="#000" filter="url(#g1)"/>
<circle cx="145.7" cy="1811.4" r="2" fill="#aaa" filter="url(#g1)"/>
<circle cx="225.5" cy="1816" r="4" fill="#000" filter="url(#g1)"/>
<circle cx="296.4" cy="1818" r="3.8" fill="#000" filter="url(#g1)"/>
<circle cx="369.4" cy="1820" r="4" fill="#000" filter="url(#g1)"/>
<circle cx="444" cy="1820" r="3.5" fill="#000" filter="url(#g1)"/>
<circle cx="520.4" cy="1819" r="3.5" fill="#000" filter="url(#g1)"/>
<circle cx="595.7" cy="1818" r="4" fill="#000" filter="url(#g1)"/>
<circle cx="674.4" cy="1812.5" r="4.5" fill="#000" filter="url(#g1)"/>
<rect x="951.8" y="1167.3" width="20" height="70.5" fill="#1080ff"/>
<rect x="1032" y="1042.7" width="20" height="195.1" fill="#1080ff"/>
<rect x="1112" y="1160.7" width="20" height="77.1" fill="#1080ff"/>
<rect x="1192" y="1116.7" width="20" height="121.1" fill="#1080ff"/>
<rect x="982" y="1205.7" width="20" height="32.1" fill="#fa0008"/>
<rect x="1062" y="1058.9" width="20" height="178.9" fill="#fa0008"/>
<rect x="1142" y="1195.1" width="20" height="42.7" fill="#fa0008"/>
<rect x="1222" y="1196.9" width="20" height="40.9" fill="#fa0008"/>
<path d="M943 1031V1237.8H1252" stroke="#000" stroke-width="2.8" fill="none"/>
<line x1="935" x2="943" y1="1237.8" y2="1237.8" stroke="#000" stroke-width="2.6"/>
<text x="934" y="1243.4" font-family="'Liberation Sans',sans-serif" font-size="15.5" font-weight="bold" text-anchor="end" fill="#222">0.0</text>
<line x1="935" x2="943" y1="1182.8" y2="1182.8" stroke="#000" stroke-width="2.6"/>
<text x="934" y="1188.4" font-family="'Liberation Sans',sans-serif" font-size="15.5" font-weight="bold" text-anchor="end" fill="#222">0.4</text>
<line x1="935" x2="943" y1="1127.7" y2="1127.7" stroke="#000" stroke-width="2.6"/>
<text x="934" y="1133.3" font-family="'Liberation Sans',sans-serif" font-size="15.5" font-weight="bold" text-anchor="end" fill="#222">0.8</text>
<line x1="935" x2="943" y1="1072.7" y2="1072.7" stroke="#000" stroke-width="2.6"/>
<text x="934" y="1078.3" font-family="'Liberation Sans',sans-serif" font-size="15.5" font-weight="bold" text-anchor="end" fill="#222">1.2</text>
<line x1="977" x2="977" y1="1237.8" y2="1246.3" stroke="#000" stroke-width="3"/>
<text transform="translate(979.5,1258.8) rotate(-45)" font-family="'Liberation Sans',sans-serif" font-size="15.5" font-weight="bold" text-anchor="end" fill="#222">Case 1</text>
<line x1="1057" x2="1057" y1="1237.8" y2="1246.3" stroke="#000" stroke-width="3"/>
<text transform="translate(1059.5,1258.8) rotate(-45)" font-family="'Liberation Sans',sans-serif" font-size="15.5" font-weight="bold" text-anchor="end" fill="#222">Case 2</text>
<line x1="1137" x2="1137" y1="1237.8" y2="1246.3" stroke="#000" stroke-width="3"/>
<text transform="translate(1139.5,1258.8) rotate(-45)" font-family="'Liberation Sans',sans-serif" font-size="15.5" font-weight="bold" text-anchor="end" fill="#222">Case 3</text>
<line x1="1217" x2="1217" y1="1237.8" y2="1246.3" stroke="#000" stroke-width="3"/>
<text transform="translate(1219.5,1258.8) rotate(-45)" font-family="'Liberation Sans',sans-serif" font-size="15.5" font-weight="bold" text-anchor="end" fill="#222">Case 4</text>
<rect x="1170.5" y="1023" width="22.2" height="12.5" fill="#1080ff"/>
<rect x="1170.5" y="1052.4" width="22.2" height="12.5" fill="#fa0008"/>
<text x="1205.7" y="1035.5" font-family="'Liberation Sans',sans-serif" font-size="17" fill="#222">Normal</text>
<text x="1205.7" y="1064.9" font-family="'Liberation Sans',sans-serif" font-size="17" fill="#222">Tumor</text>
<text transform="translate(883.2,1134) rotate(-90)" font-family="'Liberation Sans',sans-serif" font-size="16.6" font-weight="bold" text-anchor="middle" fill="#222">Relative expression</text>
<text transform="translate(906.6,1134) rotate(-90)" font-family="'Liberation Sans',sans-serif" font-size="16.6" font-weight="bold" text-anchor="middle" fill="#222">of TET2</text>
<rect x="950" y="1455.4" width="19.7" height="69.1" fill="#1080ff"/>
<rect x="1028.5" y="1457.4" width="19.7" height="67.1" fill="#1080ff"/>
<rect x="1107" y="1368.7" width="19.7" height="155.8" fill="#1080ff"/>
<rect x="1185.5" y="1437.1" width="19.7" height="87.4" fill="#1080ff"/>
<rect x="980" y="1511.8" width="19.7" height="12.7" fill="#fa0008"/>
<rect x="1058" y="1500.4" width="19.7" height="24.1" fill="#fa0008"/>
<rect x="1136.5" y="1465.6" width="19.7" height="58.9" fill="#fa0008"/>
<rect x="1215" y="1416.1" width="19.7" height="108.4" fill="#fa0008"/>
<path d="M941.4 1322V1524.5H1245" stroke="#000" stroke-width="2.8" fill="none"/>
<line x1="933.4" x2="941.4" y1="1524.5" y2="1524.5" stroke="#000" stroke-width="2.6"/>
<text x="932.4" y="1530.1" font-family="'Liberation Sans',sans-serif" font-size="15.5" font-weight="bold" text-anchor="end" fill="#222">0.0</text>
<line x1="933.4" x2="941.4" y1="1470.3" y2="1470.3" stroke="#000" stroke-width="2.6"/>
<text x="932.4" y="1475.9" font-family="'Liberation Sans',sans-serif" font-size="15.5" font-weight="bold" text-anchor="end" fill="#222">0.4</text>
<line x1="933.4" x2="941.4" y1="1416.1" y2="1416.1" stroke="#000" stroke-width="2.6"/>
<text x="932.4" y="1421.7" font-family="'Liberation Sans',sans-serif" font-size="15.5" font-weight="bold" text-anchor="end" fill="#222">0.8</text>
<line x1="933.4" x2="941.4" y1="1361.9" y2="1361.9" stroke="#000" stroke-width="2.6"/>
<text x="932.4" y="1367.5" font-family="'Liberation Sans',sans-serif" font-size="15.5" font-weight="bold" text-anchor="end" fill="#222">1.2</text>
<line x1="975" x2="975" y1="1524.5" y2="1533" stroke="#000" stroke-width="3"/>
<text transform="translate(977.5,1545.5) rotate(-45)" font-family="'Liberation Sans',sans-serif" font-size="15.5" font-weight="bold" text-anchor="end" fill="#222">Case 5</text>
<line x1="1053" x2="1053" y1="1524.5" y2="1533" stroke="#000" stroke-width="3"/>
<text transform="translate(1055.5,1545.5) rotate(-45)" font-family="'Liberation Sans',sans-serif" font-size="15.5" font-weight="bold" text-anchor="end" fill="#222">Case 6</text>
<line x1="1131.3" x2="1131.3" y1="1524.5" y2="1533" stroke="#000" stroke-width="3"/>
<text transform="translate(1133.8,1545.5) rotate(-45)" font-family="'Liberation Sans',sans-serif" font-size="15.5" font-weight="bold" text-anchor="end" fill="#222">Case 7</text>
<line x1="1210" x2="1210" y1="1524.5" y2="1533" stroke="#000" stroke-width="3"/>
<text transform="translate(1212.5,1545.5) rotate(-45)" font-family="'Liberation Sans',sans-serif" font-size="15.5" font-weight="bold" text-anchor="end" fill="#222">Case 8</text>
<rect x="1164.3" y="1313.7" width="21.7" height="12.5" fill="#1080ff"/>
<rect x="1164.3" y="1342.4" width="21.7" height="12.5" fill="#fa0008"/>
<text x="1198.6" y="1326.2" font-family="'Liberation Sans',sans-serif" font-size="17" fill="#222">Normal</text>
<text x="1198.6" y="1354.9" font-family="'Liberation Sans',sans-serif" font-size="17" fill="#222">Tumor</text>
<text transform="translate(883.2,1422.7) rotate(-90)" font-family="'Liberation Sans',sans-serif" font-size="16.6" font-weight="bold" text-anchor="middle" fill="#222">Relative expression</text>
<text transform="translate(905,1422.7) rotate(-90)" font-family="'Liberation Sans',sans-serif" font-size="16.6" font-weight="bold" text-anchor="middle" fill="#222">of TET2</text>
<rect x="945.6" y="1743.3" width="20.3" height="71.9" fill="#1080ff"/>
<rect x="1027" y="1615.7" width="20.3" height="199.5" fill="#1080ff"/>
<rect x="1109.5" y="1736.2" width="20.3" height="79" fill="#1080ff"/>
<rect x="1191" y="1691.8" width="20.3" height="123.4" fill="#1080ff"/>
<rect x="976.6" y="1782.8" width="20.3" height="32.4" fill="#fa0008"/>
<rect x="1058" y="1631.9" width="20.3" height="183.3" fill="#fa0008"/>
<rect x="1139.8" y="1771.5" width="20.3" height="43.7" fill="#fa0008"/>
<rect x="1221.4" y="1772.9" width="20.3" height="42.3" fill="#fa0008"/>
<path d="M936.5 1603.7V1815.2H1253" stroke="#000" stroke-width="2.8" fill="none"/>
<line x1="928.5" x2="936.5" y1="1815.2" y2="1815.2" stroke="#000" stroke-width="2.6"/>
<text x="927.5" y="1820.8" font-family="'Liberation Sans',sans-serif" font-size="15.5" font-weight="bold" text-anchor="end" fill="#222">0.0</text>
<line x1="928.5" x2="936.5" y1="1758.8" y2="1758.8" stroke="#000" stroke-width="2.6"/>
<text x="927.5" y="1764.4" font-family="'Liberation Sans',sans-serif" font-size="15.5" font-weight="bold" text-anchor="end" fill="#222">0.4</text>
<line x1="928.5" x2="936.5" y1="1702.4" y2="1702.4" stroke="#000" stroke-width="2.6"/>
<text x="927.5" y="1708" font-family="'Liberation Sans',sans-serif" font-size="15.5" font-weight="bold" text-anchor="end" fill="#222">0.8</text>
<line x1="928.5" x2="936.5" y1="1646" y2="1646" stroke="#000" stroke-width="2.6"/>
<text x="927.5" y="1651.6" font-family="'Liberation Sans',sans-serif" font-size="15.5" font-weight="bold" text-anchor="end" fill="#222">1.2</text>
<line x1="971.7" x2="971.7" y1="1815.2" y2="1823.7" stroke="#000" stroke-width="3"/>
<text transform="translate(974.2,1836.2) rotate(-45)" font-family="'Liberation Sans',sans-serif" font-size="15.5" font-weight="bold" text-anchor="end" fill="#222">Case 9</text>
<line x1="1053" x2="1053" y1="1815.2" y2="1823.7" stroke="#000" stroke-width="3"/>
<text transform="translate(1055.5,1836.2) rotate(-45)" font-family="'Liberation Sans',sans-serif" font-size="15.5" font-weight="bold" text-anchor="end" fill="#222">Case 10</text>
<line x1="1134.6" x2="1134.6" y1="1815.2" y2="1823.7" stroke="#000" stroke-width="3"/>
<text transform="translate(1137.1,1836.2) rotate(-45)" font-family="'Liberation Sans',sans-serif" font-size="15.5" font-weight="bold" text-anchor="end" fill="#222">Case 11</text>
<line x1="1216" x2="1216" y1="1815.2" y2="1823.7" stroke="#000" stroke-width="3"/>
<text transform="translate(1218.5,1836.2) rotate(-45)" font-family="'Liberation Sans',sans-serif" font-size="15.5" font-weight="bold" text-anchor="end" fill="#222">Case 12</text>
<rect x="1169" y="1595.9" width="22" height="12.5" fill="#1080ff"/>
<rect x="1169" y="1625.2" width="22" height="12.5" fill="#fa0008"/>
<text x="1205" y="1608.4" font-family="'Liberation Sans',sans-serif" font-size="17" fill="#222">Normal</text>
<text x="1205" y="1637.7" font-family="'Liberation Sans',sans-serif" font-size="17" fill="#222">Tumor</text>
<text transform="translate(875.5,1709) rotate(-90)" font-family="'Liberation Sans',sans-serif" font-size="16.6" font-weight="bold" text-anchor="middle" fill="#222">Relative expression</text>
<text transform="translate(898.4,1709) rotate(-90)" font-family="'Liberation Sans',sans-serif" font-size="16.6" font-weight="bold" text-anchor="middle" fill="#222">of TET2</text>
<text x="0" y="1886.7" font-family="'Liberation Sans',sans-serif" font-size="33" font-weight="bold" textLength="18.9" lengthAdjust="spacingAndGlyphs" fill="#000">E</text>
<path d="M115 1911.8H249.5V1928.6H284V1945.6H359.7V1961.8H445.8V1978.8H470.6V1995.7H482.4V2012.2H519.7V2028.4H556.8" stroke="#a00f00" stroke-width="4.5" fill="none" stroke-linejoin="miter"/>
<path d="M115 1911.8H237V1917.4H274.8V1923.4H286.6V1940.4H298.3V1957.9H334.9V1981.4H347.1V1993.1H372.2V2004.3H384.5V2015.8H397V2027H408.5V2050.5H421V2056.3H433.5V2079.3H445.8V2096.2H457.6V2102H482.4V2113.7H519.7V2118.5H556.8" stroke="#0a19a0" stroke-width="4.5" fill="none" stroke-linejoin="miter"/>
<rect x="553" y="2021.5" width="5.5" height="8" fill="#000"/>
<rect x="553" y="2111.5" width="5.5" height="8" fill="#000"/>
<path d="M114.7 1878V2260" stroke="#000" stroke-width="4.4" fill="none"/>
<path d="M114.7 2246.7H666" stroke="#000" stroke-width="4.4" fill="none"/>
<line x1="99.5" x2="115" y1="2246.7" y2="2246.7" stroke="#000" stroke-width="3.4"/>
<text x="97.5" y="2255.9" font-family="'Liberation Serif',serif" font-size="27" font-weight="bold" text-anchor="end" fill="#000">0</text>
<line x1="99.5" x2="115" y1="2179.8" y2="2179.8" stroke="#000" stroke-width="3.4"/>
<text x="97.5" y="2189" font-family="'Liberation Serif',serif" font-size="27" font-weight="bold" text-anchor="end" fill="#000">20</text>
<line x1="99.5" x2="115" y1="2112.9" y2="2112.9" stroke="#000" stroke-width="3.4"/>
<text x="97.5" y="2122.1" font-family="'Liberation Serif',serif" font-size="27" font-weight="bold" text-anchor="end" fill="#000">40</text>
<line x1="99.5" x2="115" y1="2046" y2="2046" stroke="#000" stroke-width="3.4"/>
<text x="97.5" y="2055.2" font-family="'Liberation Serif',serif" font-size="27" font-weight="bold" text-anchor="end" fill="#000">60</text>
<line x1="99.5" x2="115" y1="1979.1" y2="1979.1" stroke="#000" stroke-width="3.4"/>
<text x="97.5" y="1988.3" font-family="'Liberation Serif',serif" font-size="27" font-weight="bold" text-anchor="end" fill="#000">80</text>
<line x1="99.5" x2="115" y1="1912.2" y2="1912.2" stroke="#000" stroke-width="3.4"/>
<text x="97.5" y="1921.4" font-family="'Liberation Serif',serif" font-size="27" font-weight="bold" text-anchor="end" fill="#000">100</text>
<line x1="261.7" x2="261.7" y1="2246" y2="2255" stroke="#000" stroke-width="3.4"/>
<line x1="408.7" x2="408.7" y1="2246" y2="2255" stroke="#000" stroke-width="3.4"/>
<line x1="555.7" x2="555.7" y1="2246" y2="2255" stroke="#000" stroke-width="3.4"/>
<text x="114.7" y="2285.8" font-family="'Liberation Serif',serif" font-size="26" font-weight="bold" text-anchor="middle" fill="#000">0</text>
<text x="261.7" y="2285.8" font-family="'Liberation Serif',serif" font-size="26" font-weight="bold" text-anchor="middle" fill="#000">12</text>
<text x="408.7" y="2285.8" font-family="'Liberation Serif',serif" font-size="26" font-weight="bold" text-anchor="middle" fill="#000">24</text>
<text x="555.7" y="2285.8" font-family="'Liberation Serif',serif" font-size="26" font-weight="bold" text-anchor="middle" fill="#000">36</text>
<text x="246.5" y="2331" font-family="'Liberation Serif',serif" font-size="29" font-weight="bold" textLength="288.5" lengthAdjust="spacingAndGlyphs" fill="#000">Survival time (months)</text>
<text transform="translate(50.5,2062.5) rotate(-90)" font-family="'Liberation Serif',serif" font-size="29.5" font-weight="bold" text-anchor="middle" textLength="267.7" lengthAdjust="spacingAndGlyphs" xml:space="preserve">Overall  survival (%)</text>
<line x1="151.5" x2="190.5" y1="2081.5" y2="2081.5" stroke="#a00f00" stroke-width="4.5" stroke-linecap="round"/>
<line x1="151.5" x2="190.5" y1="2120" y2="2120" stroke="#0a19a0" stroke-width="4.5" stroke-linecap="round"/>
<rect x="168.6" y="2074.4" width="4.7" height="7" fill="#000"/>
<rect x="168.6" y="2112.8" width="4.7" height="7" fill="#000"/>
<text x="213.7" y="2091.3" font-family="'Liberation Serif',serif" font-size="29.5" font-weight="bold" textLength="141.8" lengthAdjust="spacingAndGlyphs" fill="#000">High TET2</text>
<text x="213.7" y="2129.2" font-family="'Liberation Serif',serif" font-size="29.5" font-weight="bold" textLength="135.3" lengthAdjust="spacingAndGlyphs" fill="#000">Low TET2</text>
<text x="381.9" y="1939.6" font-family="'Liberation Serif',serif" font-size="28" font-weight="bold" textLength="60.5" lengthAdjust="spacingAndGlyphs" fill="#000">n=20</text>
<text x="316.6" y="2038.8" font-family="'Liberation Serif',serif" font-size="28" font-weight="bold" textLength="60.8" lengthAdjust="spacingAndGlyphs" fill="#000">n=58</text>
<text x="150.5" y="2184.8" font-family="'Liberation Serif',serif" font-size="29.5" font-weight="bold" textLength="113.5" lengthAdjust="spacingAndGlyphs"><tspan font-style="italic">p</tspan> = 0.035</text>
<text x="699.5" y="1901.6" font-family="'Liberation Sans',sans-serif" font-size="32" font-weight="bold" textLength="18" lengthAdjust="spacingAndGlyphs" fill="#000">F</text>
<rect x="873.3" y="1916.7" width="111.5" height="94" fill="#cdcbcc"/>
<rect x="873.3" y="2010.7" width="111.5" height="121.1" fill="#843a3e"/>
<rect x="873.3" y="2131.8" width="111.5" height="124.2" fill="#4f597a"/>
<rect x="1042.2" y="1916.7" width="111.4" height="33.9" fill="#cdcbcc"/>
<rect x="1042.2" y="1950.6" width="111.4" height="33.9" fill="#843a3e"/>
<rect x="1042.2" y="1984.6" width="111.4" height="271.4" fill="#4f597a"/>
<path d="M816.7 1914.8V2256H1210" stroke="#000" stroke-width="3.2" fill="none"/>
<line x1="806" x2="817" y1="2256" y2="2256" stroke="#000" stroke-width="2.8"/>
<text x="804.3" y="2262.6" font-family="'Liberation Sans',sans-serif" font-size="18.5" font-weight="bold" text-anchor="end" fill="#111">0</text>
<line x1="806" x2="817" y1="2188.1" y2="2188.1" stroke="#000" stroke-width="2.8"/>
<text x="804.3" y="2194.7" font-family="'Liberation Sans',sans-serif" font-size="18.5" font-weight="bold" text-anchor="end" fill="#111">20</text>
<line x1="806" x2="817" y1="2120.3" y2="2120.3" stroke="#000" stroke-width="2.8"/>
<text x="804.3" y="2126.9" font-family="'Liberation Sans',sans-serif" font-size="18.5" font-weight="bold" text-anchor="end" fill="#111">40</text>
<line x1="806" x2="817" y1="2052.4" y2="2052.4" stroke="#000" stroke-width="2.8"/>
<text x="804.3" y="2059" font-family="'Liberation Sans',sans-serif" font-size="18.5" font-weight="bold" text-anchor="end" fill="#111">60</text>
<line x1="806" x2="817" y1="1984.6" y2="1984.6" stroke="#000" stroke-width="2.8"/>
<text x="804.3" y="1991.2" font-family="'Liberation Sans',sans-serif" font-size="18.5" font-weight="bold" text-anchor="end" fill="#111">80</text>
<line x1="806" x2="817" y1="1916.7" y2="1916.7" stroke="#000" stroke-width="2.8"/>
<text x="804.3" y="1923.3" font-family="'Liberation Sans',sans-serif" font-size="18.5" font-weight="bold" text-anchor="end" fill="#111">100</text>
<line x1="928.8" x2="928.8" y1="2256" y2="2264.5" stroke="#000" stroke-width="3"/>
<line x1="1097.2" x2="1097.2" y1="2256" y2="2264.5" stroke="#000" stroke-width="3"/>
<text x="929.4" y="2285.5" font-family="'Liberation Sans',sans-serif" font-size="20" font-weight="bold" text-anchor="middle" textLength="30" lengthAdjust="spacingAndGlyphs" fill="#111">WT</text>
<text x="1041.3" y="2288.5" font-family="'Liberation Sans',sans-serif" font-size="19.5" font-weight="bold" textLength="113.7" lengthAdjust="spacingAndGlyphs" fill="#111">FGFR3△7-9</text>
<text transform="translate(760.2,2086.7) rotate(-90)" font-family="'Liberation Sans',sans-serif" font-size="23" font-weight="bold" text-anchor="middle" textLength="329" lengthAdjust="spacingAndGlyphs" fill="#111">Percentage of patient sample (%)</text>
<rect x="1200.6" y="1987.4" width="27.5" height="16" fill="#cdcbcc"/>
<text x="1244.6" y="2003.4" font-family="'Liberation Sans',sans-serif" font-size="21.5" fill="#222">TET2-High</text>
<rect x="1200.6" y="2029" width="27.5" height="16" fill="#843a3e"/>
<text x="1244.6" y="2045" font-family="'Liberation Sans',sans-serif" font-size="21.5" fill="#222">TET2-Medium</text>
<rect x="1200.6" y="2065" width="27.5" height="16" fill="#4f597a"/>
<text x="1244.6" y="2081" font-family="'Liberation Sans',sans-serif" font-size="21.5" fill="#222">TET2-Low</text>
<text x="1209.6" y="2135" font-family="'Liberation Sans',sans-serif" font-size="21.5" fill="#222"><tspan font-style="italic">P</tspan>=0.035</text>
</svg>
</body></html>
